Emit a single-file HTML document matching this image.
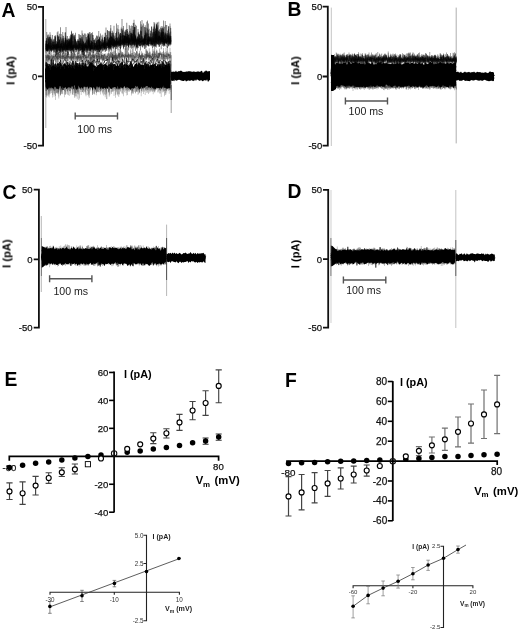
<!DOCTYPE html>
<html><head><meta charset="utf-8"><style>
html,body{margin:0;padding:0;background:#fff;}
svg{display:block;font-family:"Liberation Sans", sans-serif;}
text{will-change:transform;}
</style></head><body>
<svg width="520" height="631" viewBox="0 0 520 631">
<defs><filter id="bl" x="-5%" y="-5%" width="110%" height="110%"><feGaussianBlur stdDeviation="0.5"/></filter></defs>
<rect width="520" height="631" fill="#fff"/>
<text x="1.6" y="16.6" font-size="19.3" font-weight="bold" text-anchor="start" fill="#000" >A</text>
<path d="M37.9,6.9 H43.1 V145.6 H37.9 M37.9,76.3 H43.1" fill="none" stroke="#111" stroke-width="1.8"/>
<text x="37.3" y="10.3" font-size="9.5" text-anchor="end" fill="#111" stroke="#111" stroke-width="0.25">50</text>
<text x="37.3" y="79.7" font-size="9.5" text-anchor="end" fill="#111" stroke="#111" stroke-width="0.25">0</text>
<text x="37.3" y="149.0" font-size="9.5" text-anchor="end" fill="#111" stroke="#111" stroke-width="0.25">-50</text>
<text x="0" y="0" font-size="11.1" font-weight="bold" text-anchor="middle" fill="#000" transform="translate(14.5,70.5) rotate(-90)">I (pA)</text>
<g filter="url(#bl)">
<line x1="45.80" y1="19.00" x2="45.80" y2="128.00" stroke="#999" stroke-width="0.8"/>
<path d="M45.6,63.6 46.6,62.1 47.6,65.2 48.6,65.4 49.6,64.1 50.6,64.9 51.6,66.6 52.6,65.8 53.6,65.3 54.6,65.3 55.6,63.5 56.6,65.7 57.6,62.5 58.6,64.1 59.6,64.0 60.6,62.4 61.6,64.4 62.6,66.5 63.6,64.1 64.6,63.1 65.6,64.4 66.6,65.5 67.6,64.7 68.6,64.5 69.6,62.8 70.6,65.1 71.6,65.1 72.6,66.1 73.6,66.3 74.6,65.3 75.6,62.5 76.6,62.8 77.6,63.2 78.6,64.9 79.6,63.6 80.6,66.1 81.6,64.8 82.6,64.9 83.6,65.4 84.6,64.9 85.6,62.8 86.6,67.4 87.6,66.3 88.6,66.3 89.6,63.6 90.6,62.3 91.6,62.7 92.6,63.2 93.6,65.6 94.6,65.6 95.6,66.3 96.6,67.1 97.6,65.1 98.6,64.9 99.6,64.1 100.6,64.1 101.6,63.1 102.6,65.1 103.6,64.9 104.6,64.0 105.6,63.5 106.6,65.0 107.6,66.1 108.6,64.6 109.6,64.8 110.6,63.8 111.6,64.2 112.6,64.1 113.6,64.2 114.6,63.8 115.6,65.0 116.6,66.1 117.6,63.4 118.6,66.2 119.6,64.0 120.6,64.1 121.6,61.9 122.6,61.6 123.6,65.4 124.6,63.2 125.6,65.5 126.6,64.6 127.6,64.8 128.6,66.1 129.6,64.4 130.6,60.6 131.6,62.4 132.6,65.7 133.6,66.9 134.6,64.4 135.6,63.7 136.6,62.8 137.6,65.2 138.6,62.3 139.6,63.0 140.6,64.7 141.6,64.6 142.6,64.2 143.6,65.8 144.6,63.0 145.6,63.1 146.6,64.0 147.6,64.6 148.6,64.1 149.6,66.9 150.6,63.8 151.6,65.3 152.6,63.8 153.6,64.9 154.6,64.0 155.6,64.0 156.6,66.4 157.6,64.1 158.6,66.6 159.6,63.6 160.6,63.9 161.6,65.8 162.6,61.5 163.6,62.5 164.6,64.5 165.6,65.1 166.6,65.2 167.6,64.1 168.6,62.8 169.6,65.5 170.6,65.0 L170.6,88.0 169.6,87.9 168.6,88.0 167.6,88.5 166.6,88.8 165.6,87.7 164.6,88.1 163.6,85.5 162.6,87.2 161.6,89.1 160.6,87.5 159.6,88.4 158.6,88.1 157.6,87.9 156.6,87.5 155.6,89.0 154.6,89.3 153.6,87.1 152.6,88.4 151.6,86.2 150.6,88.3 149.6,87.0 148.6,87.8 147.6,86.1 146.6,86.1 145.6,86.4 144.6,88.1 143.6,86.6 142.6,88.8 141.6,86.6 140.6,88.2 139.6,89.3 138.6,88.6 137.6,86.3 136.6,87.1 135.6,85.8 134.6,88.1 133.6,88.8 132.6,87.9 131.6,88.2 130.6,90.0 129.6,88.7 128.6,87.9 127.6,87.3 126.6,86.8 125.6,88.1 124.6,86.0 123.6,87.1 122.6,88.6 121.6,87.7 120.6,87.3 119.6,88.4 118.6,88.8 117.6,86.0 116.6,89.3 115.6,87.0 114.6,87.1 113.6,87.3 112.6,88.4 111.6,85.3 110.6,89.3 109.6,86.9 108.6,86.2 107.6,89.1 106.6,87.4 105.6,89.0 104.6,87.8 103.6,88.4 102.6,89.1 101.6,87.2 100.6,89.3 99.6,86.2 98.6,87.4 97.6,86.8 96.6,86.4 95.6,90.0 94.6,88.4 93.6,86.7 92.6,90.5 91.6,87.0 90.6,87.2 89.6,86.5 88.6,89.0 87.6,86.6 86.6,86.9 85.6,86.8 84.6,86.5 83.6,86.4 82.6,88.8 81.6,87.1 80.6,88.6 79.6,88.3 78.6,85.6 77.6,89.2 76.6,89.5 75.6,89.0 74.6,85.2 73.6,86.2 72.6,86.7 71.6,85.9 70.6,88.1 69.6,87.6 68.6,87.2 67.6,87.8 66.6,89.6 65.6,86.9 64.6,87.7 63.6,88.2 62.6,86.6 61.6,89.0 60.6,86.6 59.6,86.0 58.6,89.4 57.6,88.7 56.6,89.0 55.6,87.0 54.6,86.7 53.6,88.9 52.6,88.2 51.6,87.4 50.6,87.3 49.6,86.4 48.6,87.9 47.6,90.0 46.6,87.9 45.6,86.4Z" fill="#000"/>
<path d="M45.6,68.7 46.3,70.4 47.0,73.5 47.7,64.3 48.4,72.0 49.1,69.7 49.8,73.5 50.5,70.4 51.2,74.1 51.9,72.9 52.6,79.3 53.3,72.4 54.0,72.8 54.7,74.0 55.4,66.2 56.1,69.3 56.8,79.9 57.5,76.0 58.2,74.2 58.9,78.4 59.6,73.1 60.3,72.8 61.0,72.6 61.7,66.4 62.4,77.8 63.1,73.1 63.8,73.5 64.5,72.4 65.2,71.2 65.9,64.4 66.6,74.5 67.3,83.0 68.0,78.0 68.7,72.6 69.4,70.0 70.1,74.0 70.8,75.4 71.5,73.3 72.2,77.4 72.9,69.8 73.6,78.3 74.3,74.5 75.0,71.5 75.7,72.7 76.4,75.3 77.1,77.1 77.8,74.2 78.5,76.3 79.2,83.9 79.9,67.0 80.6,65.4 81.3,74.2 82.0,69.8 82.7,74.3 83.4,67.1 84.1,74.4 84.8,79.4 85.5,78.5 86.2,69.2 86.9,72.6 87.6,77.6 88.3,81.5 89.0,69.8 89.7,70.3 90.4,78.5 91.1,72.3 91.8,69.5 92.5,78.3 93.2,66.8 93.9,71.0 94.6,77.9 95.3,71.2 96.0,77.1 96.7,68.7 97.4,77.1 98.1,75.8 98.8,80.7 99.5,72.8 100.2,72.4 100.9,73.4 101.6,78.3 102.3,70.7 103.0,73.3 103.7,82.0 104.4,77.1 105.1,76.9 105.8,71.7 106.5,77.5 107.2,69.0 107.9,67.6 108.6,69.9 109.3,79.8 110.0,74.6 110.7,69.9 111.4,72.3 112.1,75.7 112.8,78.8 113.5,67.0 114.2,79.5 114.9,77.8 115.6,70.9 116.3,72.2 117.0,75.9 117.7,72.6 118.4,74.4 119.1,69.4 119.8,66.2 120.5,84.1 121.2,74.6 121.9,74.8 122.6,76.0 123.3,79.5 124.0,77.8 124.7,69.5 125.4,73.4 126.1,74.1 126.8,77.1 127.5,71.3 128.2,75.5 128.9,74.8 129.6,79.6 130.3,62.9 131.0,74.2 131.7,75.3 132.4,76.7 133.1,73.8 133.8,70.4 134.5,76.7 135.2,75.4 135.9,70.3 136.6,68.1 137.3,76.2 138.0,70.2 138.7,76.6 139.4,80.2 140.1,74.7 140.8,74.8 141.5,74.4 142.2,79.7 142.9,79.7 143.6,74.2 144.3,77.0 145.0,74.0 145.7,71.8 146.4,77.1 147.1,73.5 147.8,70.3 148.5,67.6 149.2,78.0 149.9,69.8 150.6,69.2 151.3,72.7 152.0,77.0 152.7,66.6 153.4,76.5 154.1,75.5 154.8,68.7 155.5,69.1 156.2,73.1 156.9,82.0 157.6,72.8 158.3,78.4 159.0,77.8 159.7,67.2 160.4,73.8 161.1,78.0 161.8,71.8 162.5,79.0 163.2,69.3 163.9,67.7 164.6,72.0 165.3,76.6 166.0,72.2 166.7,77.7 167.4,67.4 168.1,71.4 168.8,79.6 169.5,63.6 170.2,75.2 170.9,70.1" fill="none" stroke="#000" stroke-width="0.7"/>
<path d="M45.6,72.3 46.3,67.5 47.0,77.6 47.7,76.1 48.4,78.8 49.1,74.4 49.8,69.7 50.5,76.4 51.2,68.0 51.9,69.8 52.6,82.5 53.3,78.2 54.0,75.5 54.7,79.9 55.4,72.5 56.1,76.1 56.8,70.3 57.5,72.3 58.2,74.1 58.9,80.0 59.6,70.8 60.3,78.1 61.0,73.7 61.7,66.3 62.4,65.6 63.1,70.8 63.8,78.2 64.5,74.8 65.2,81.4 65.9,74.5 66.6,79.7 67.3,74.8 68.0,69.9 68.7,76.7 69.4,70.6 70.1,67.8 70.8,70.5 71.5,72.1 72.2,74.8 72.9,77.3 73.6,76.3 74.3,82.5 75.0,65.5 75.7,73.0 76.4,84.6 77.1,72.4 77.8,68.4 78.5,70.5 79.2,69.6 79.9,71.6 80.6,81.0 81.3,67.8 82.0,70.8 82.7,79.7 83.4,75.0 84.1,75.1 84.8,72.2 85.5,77.7 86.2,69.4 86.9,77.8 87.6,74.3 88.3,73.0 89.0,71.5 89.7,77.8 90.4,75.2 91.1,72.1 91.8,74.3 92.5,69.3 93.2,79.2 93.9,79.6 94.6,78.5 95.3,75.0 96.0,75.9 96.7,68.0 97.4,72.2 98.1,72.8 98.8,73.2 99.5,76.5 100.2,71.9 100.9,70.7 101.6,78.9 102.3,72.5 103.0,71.1 103.7,65.3 104.4,68.0 105.1,72.8 105.8,74.9 106.5,66.3 107.2,73.7 107.9,75.1 108.6,71.6 109.3,74.0 110.0,79.7 110.7,70.6 111.4,66.6 112.1,72.1 112.8,70.0 113.5,73.5 114.2,76.7 114.9,77.5 115.6,75.1 116.3,79.6 117.0,75.2 117.7,78.0 118.4,75.2 119.1,74.9 119.8,71.6 120.5,73.7 121.2,71.3 121.9,72.5 122.6,74.0 123.3,78.6 124.0,72.6 124.7,76.3 125.4,68.5 126.1,72.5 126.8,79.1 127.5,75.2 128.2,66.1 128.9,73.6 129.6,72.7 130.3,68.7 131.0,66.3 131.7,69.7 132.4,69.2 133.1,76.7 133.8,76.1 134.5,76.4 135.2,78.2 135.9,64.5 136.6,72.5 137.3,75.1 138.0,70.9 138.7,71.1 139.4,70.3 140.1,74.4 140.8,73.5 141.5,78.9 142.2,75.4 142.9,74.6 143.6,73.6 144.3,70.4 145.0,74.2 145.7,77.2 146.4,75.7 147.1,69.2 147.8,67.4 148.5,76.6 149.2,74.5 149.9,74.9 150.6,70.1 151.3,76.9 152.0,76.8 152.7,72.7 153.4,76.2 154.1,69.9 154.8,73.4 155.5,65.3 156.2,72.5 156.9,84.1 157.6,76.7 158.3,81.0 159.0,76.2 159.7,74.8 160.4,74.8 161.1,72.2 161.8,76.9 162.5,70.8 163.2,74.1 163.9,87.6 164.6,76.0 165.3,71.9 166.0,78.4 166.7,75.7 167.4,72.8 168.1,69.2 168.8,73.2 169.5,72.0 170.2,74.1 170.9,75.5" fill="none" stroke="#000" stroke-width="0.7"/>
<path d="M45.6,72.7 46.3,78.8 47.0,78.3 47.7,70.4 48.4,78.0 49.1,76.2 49.8,78.2 50.5,72.0 51.2,75.2 51.9,75.5 52.6,71.3 53.3,78.6 54.0,75.2 54.7,78.1 55.4,72.3 56.1,70.6 56.8,71.6 57.5,67.3 58.2,73.2 58.9,78.1 59.6,82.6 60.3,81.5 61.0,82.1 61.7,82.1 62.4,85.7 63.1,77.4 63.8,80.6 64.5,79.4 65.2,65.6 65.9,77.3 66.6,76.9 67.3,78.2 68.0,74.4 68.7,73.5 69.4,74.4 70.1,79.7 70.8,78.6 71.5,82.9 72.2,71.2 72.9,81.4 73.6,84.7 74.3,72.7 75.0,76.9 75.7,69.7 76.4,64.6 77.1,70.6 77.8,76.6 78.5,77.3 79.2,74.7 79.9,79.1 80.6,77.9 81.3,84.5 82.0,70.2 82.7,72.5 83.4,73.8 84.1,73.5 84.8,74.3 85.5,86.6 86.2,74.8 86.9,79.2 87.6,70.2 88.3,73.3 89.0,80.0 89.7,80.7 90.4,69.3 91.1,85.5 91.8,78.2 92.5,73.0 93.2,78.4 93.9,73.6 94.6,70.0 95.3,77.2 96.0,80.0 96.7,81.1 97.4,69.1 98.1,72.2 98.8,75.5 99.5,81.0 100.2,82.1 100.9,74.6 101.6,71.0 102.3,78.8 103.0,74.2 103.7,78.2 104.4,81.0 105.1,79.1 105.8,71.9 106.5,70.9 107.2,69.8 107.9,79.6 108.6,81.4 109.3,71.8 110.0,74.0 110.7,72.2 111.4,75.7 112.1,72.5 112.8,72.5 113.5,81.8 114.2,80.3 114.9,76.4 115.6,81.2 116.3,73.6 117.0,78.2 117.7,72.0 118.4,72.9 119.1,80.4 119.8,70.8 120.5,74.3 121.2,70.9 121.9,70.6 122.6,76.1 123.3,76.3 124.0,69.3 124.7,85.5 125.4,82.7 126.1,71.9 126.8,77.7 127.5,76.6 128.2,73.1 128.9,70.2 129.6,75.9 130.3,75.1 131.0,81.2 131.7,76.6 132.4,71.4 133.1,72.9 133.8,75.8 134.5,80.2 135.2,70.8 135.9,77.0 136.6,81.6 137.3,69.6 138.0,82.2 138.7,73.5 139.4,75.7 140.1,73.6 140.8,77.6 141.5,78.2 142.2,78.3 142.9,88.3 143.6,65.1 144.3,73.8 145.0,70.2 145.7,75.1 146.4,72.9 147.1,74.9 147.8,75.9 148.5,73.5 149.2,80.1 149.9,69.6 150.6,73.8 151.3,76.2 152.0,82.1 152.7,70.2 153.4,70.7 154.1,78.4 154.8,76.5 155.5,69.9 156.2,81.2 156.9,77.3 157.6,74.7 158.3,74.7 159.0,76.6 159.7,74.6 160.4,77.6 161.1,77.6 161.8,71.4 162.5,69.4 163.2,83.1 163.9,73.9 164.6,83.7 165.3,76.9 166.0,64.7 166.7,77.4 167.4,72.5 168.1,66.5 168.8,76.2 169.5,71.4 170.2,75.3 170.9,81.1" fill="none" stroke="#000" stroke-width="0.7"/>
<path d="M45.6,77.4 46.3,77.5 47.0,77.5 47.7,74.3 48.4,72.8 49.1,75.2 49.8,77.7 50.5,73.6 51.2,76.0 51.9,77.1 52.6,73.0 53.3,81.5 54.0,82.5 54.7,77.8 55.4,72.9 56.1,68.6 56.8,66.2 57.5,82.0 58.2,77.9 58.9,74.4 59.6,70.6 60.3,76.2 61.0,81.0 61.7,78.3 62.4,72.5 63.1,90.0 63.8,79.2 64.5,71.5 65.2,78.6 65.9,78.7 66.6,80.1 67.3,78.6 68.0,71.7 68.7,78.7 69.4,73.5 70.1,77.6 70.8,76.8 71.5,79.9 72.2,78.1 72.9,75.7 73.6,88.5 74.3,75.7 75.0,75.5 75.7,79.1 76.4,79.2 77.1,81.4 77.8,70.9 78.5,74.7 79.2,81.9 79.9,78.3 80.6,78.4 81.3,71.0 82.0,70.9 82.7,73.5 83.4,78.1 84.1,80.4 84.8,80.9 85.5,68.9 86.2,76.8 86.9,77.4 87.6,75.3 88.3,75.4 89.0,72.4 89.7,75.5 90.4,66.8 91.1,82.5 91.8,77.9 92.5,83.4 93.2,73.5 93.9,69.6 94.6,84.7 95.3,67.7 96.0,71.7 96.7,80.3 97.4,83.1 98.1,74.0 98.8,76.1 99.5,75.9 100.2,79.3 100.9,73.2 101.6,79.6 102.3,80.9 103.0,76.6 103.7,77.5 104.4,87.0 105.1,78.4 105.8,75.3 106.5,81.8 107.2,82.3 107.9,74.1 108.6,72.9 109.3,83.4 110.0,82.4 110.7,82.8 111.4,84.3 112.1,72.3 112.8,70.2 113.5,81.5 114.2,81.3 114.9,77.9 115.6,80.3 116.3,74.0 117.0,72.9 117.7,76.8 118.4,79.0 119.1,79.9 119.8,76.7 120.5,79.8 121.2,82.4 121.9,79.3 122.6,75.1 123.3,84.4 124.0,72.3 124.7,78.1 125.4,85.3 126.1,87.7 126.8,84.1 127.5,75.4 128.2,69.7 128.9,75.2 129.6,77.1 130.3,77.8 131.0,73.0 131.7,75.1 132.4,78.3 133.1,77.6 133.8,82.8 134.5,79.8 135.2,79.9 135.9,75.1 136.6,77.7 137.3,69.1 138.0,75.6 138.7,70.6 139.4,78.0 140.1,79.7 140.8,77.9 141.5,83.8 142.2,74.5 142.9,77.0 143.6,75.0 144.3,76.0 145.0,83.0 145.7,71.5 146.4,84.4 147.1,83.1 147.8,79.9 148.5,75.9 149.2,78.4 149.9,75.7 150.6,83.6 151.3,72.6 152.0,73.3 152.7,77.5 153.4,66.8 154.1,83.6 154.8,76.0 155.5,80.6 156.2,78.1 156.9,69.9 157.6,77.6 158.3,79.2 159.0,72.4 159.7,73.1 160.4,72.9 161.1,80.7 161.8,72.1 162.5,73.5 163.2,77.0 163.9,77.9 164.6,74.8 165.3,84.0 166.0,84.2 166.7,72.0 167.4,84.9 168.1,79.3 168.8,80.2 169.5,80.7 170.2,71.5 170.9,72.0" fill="none" stroke="#000" stroke-width="0.7"/>
<path d="M45.6,73.6 46.3,88.3 47.0,74.7 47.7,80.6 48.4,72.5 49.1,85.8 49.8,84.6 50.5,70.3 51.2,78.1 51.9,77.0 52.6,83.2 53.3,66.4 54.0,75.2 54.7,80.3 55.4,75.0 56.1,73.7 56.8,70.2 57.5,77.9 58.2,75.4 58.9,70.1 59.6,76.9 60.3,73.2 61.0,77.4 61.7,79.4 62.4,80.9 63.1,77.8 63.8,72.0 64.5,75.4 65.2,74.7 65.9,80.6 66.6,73.3 67.3,82.8 68.0,76.2 68.7,79.1 69.4,74.4 70.1,81.5 70.8,73.8 71.5,83.3 72.2,78.1 72.9,79.7 73.6,78.8 74.3,72.9 75.0,82.3 75.7,69.8 76.4,76.8 77.1,79.7 77.8,80.7 78.5,73.6 79.2,74.3 79.9,75.4 80.6,72.0 81.3,75.3 82.0,72.5 82.7,78.3 83.4,75.4 84.1,72.8 84.8,73.1 85.5,76.9 86.2,72.7 86.9,70.3 87.6,71.6 88.3,77.2 89.0,68.6 89.7,76.6 90.4,79.7 91.1,73.5 91.8,74.9 92.5,69.9 93.2,72.0 93.9,73.7 94.6,77.6 95.3,74.5 96.0,71.3 96.7,73.8 97.4,71.0 98.1,83.5 98.8,73.4 99.5,82.6 100.2,69.4 100.9,72.0 101.6,82.3 102.3,75.0 103.0,85.3 103.7,79.7 104.4,82.1 105.1,69.6 105.8,77.1 106.5,74.8 107.2,83.1 107.9,74.4 108.6,76.3 109.3,72.8 110.0,69.2 110.7,78.7 111.4,74.6 112.1,77.6 112.8,71.9 113.5,75.8 114.2,72.4 114.9,73.8 115.6,76.7 116.3,73.7 117.0,78.4 117.7,71.1 118.4,74.2 119.1,81.6 119.8,72.9 120.5,68.4 121.2,81.3 121.9,75.4 122.6,71.6 123.3,71.0 124.0,78.3 124.7,71.1 125.4,68.7 126.1,78.6 126.8,76.9 127.5,78.5 128.2,73.6 128.9,77.6 129.6,71.8 130.3,74.4 131.0,76.7 131.7,77.0 132.4,80.8 133.1,79.5 133.8,72.3 134.5,73.9 135.2,79.4 135.9,81.8 136.6,78.6 137.3,74.9 138.0,77.6 138.7,81.6 139.4,82.4 140.1,74.3 140.8,72.6 141.5,76.9 142.2,74.1 142.9,76.7 143.6,73.0 144.3,78.1 145.0,78.9 145.7,82.9 146.4,82.1 147.1,77.7 147.8,73.0 148.5,80.3 149.2,74.0 149.9,70.7 150.6,75.4 151.3,71.0 152.0,84.4 152.7,81.0 153.4,82.1 154.1,74.5 154.8,75.8 155.5,77.1 156.2,74.5 156.9,76.4 157.6,78.0 158.3,73.3 159.0,76.0 159.7,81.6 160.4,76.9 161.1,68.9 161.8,72.4 162.5,73.4 163.2,74.4 163.9,77.1 164.6,72.5 165.3,82.8 166.0,75.4 166.7,78.4 167.4,72.7 168.1,67.6 168.8,78.3 169.5,79.7 170.2,80.5 170.9,75.9" fill="none" stroke="#000" stroke-width="0.7"/>
<path d="M45.6,72.0 46.3,68.8 47.0,75.8 47.7,77.6 48.4,77.4 49.1,79.1 49.8,79.6 50.5,78.9 51.2,78.7 51.9,76.6 52.6,73.2 53.3,67.2 54.0,76.4 54.7,81.4 55.4,77.6 56.1,83.8 56.8,78.7 57.5,67.5 58.2,80.5 58.9,72.3 59.6,75.8 60.3,74.5 61.0,76.1 61.7,83.2 62.4,81.4 63.1,70.7 63.8,78.3 64.5,73.5 65.2,81.9 65.9,83.3 66.6,75.1 67.3,81.0 68.0,81.4 68.7,80.2 69.4,81.8 70.1,76.7 70.8,78.8 71.5,77.1 72.2,77.6 72.9,77.3 73.6,68.4 74.3,76.5 75.0,81.6 75.7,71.7 76.4,74.9 77.1,64.5 77.8,78.2 78.5,77.1 79.2,80.3 79.9,82.9 80.6,73.1 81.3,73.6 82.0,78.8 82.7,74.4 83.4,79.1 84.1,69.4 84.8,75.2 85.5,71.8 86.2,69.8 86.9,76.8 87.6,71.5 88.3,73.6 89.0,73.9 89.7,64.0 90.4,78.7 91.1,77.2 91.8,76.6 92.5,74.4 93.2,81.6 93.9,77.1 94.6,71.3 95.3,77.4 96.0,80.6 96.7,75.4 97.4,75.6 98.1,77.8 98.8,79.0 99.5,77.8 100.2,74.4 100.9,78.6 101.6,75.0 102.3,74.7 103.0,81.0 103.7,74.5 104.4,72.4 105.1,78.1 105.8,72.0 106.5,80.6 107.2,76.2 107.9,80.1 108.6,75.9 109.3,71.6 110.0,63.9 110.7,71.9 111.4,80.5 112.1,73.7 112.8,79.4 113.5,80.3 114.2,68.7 114.9,73.9 115.6,75.1 116.3,81.8 117.0,82.3 117.7,72.6 118.4,78.5 119.1,77.1 119.8,71.0 120.5,80.3 121.2,82.8 121.9,71.3 122.6,78.4 123.3,72.8 124.0,80.2 124.7,80.3 125.4,74.2 126.1,74.9 126.8,82.4 127.5,74.8 128.2,80.2 128.9,68.3 129.6,69.4 130.3,80.1 131.0,76.6 131.7,74.3 132.4,70.9 133.1,76.4 133.8,69.8 134.5,74.7 135.2,78.2 135.9,74.2 136.6,68.7 137.3,68.3 138.0,73.4 138.7,65.8 139.4,78.6 140.1,72.3 140.8,72.6 141.5,73.7 142.2,72.0 142.9,80.8 143.6,72.4 144.3,70.1 145.0,79.7 145.7,72.2 146.4,81.5 147.1,78.3 147.8,73.4 148.5,75.7 149.2,71.0 149.9,70.5 150.6,80.0 151.3,73.8 152.0,74.6 152.7,73.3 153.4,75.9 154.1,74.2 154.8,75.7 155.5,75.7 156.2,81.1 156.9,73.5 157.6,75.1 158.3,76.1 159.0,71.7 159.7,77.7 160.4,75.1 161.1,73.2 161.8,72.4 162.5,75.3 163.2,76.5 163.9,77.4 164.6,78.6 165.3,74.3 166.0,81.3 166.7,76.2 167.4,80.3 168.1,74.4 168.8,80.4 169.5,76.0 170.2,72.8 170.9,74.1" fill="none" stroke="#000" stroke-width="0.7"/>
<path d="M45.6,69.2 46.3,77.0 47.0,67.9 47.7,76.9 48.4,72.6 49.1,71.0 49.8,73.7 50.5,81.4 51.2,83.1 51.9,74.6 52.6,82.1 53.3,77.4 54.0,83.3 54.7,76.6 55.4,79.2 56.1,71.9 56.8,81.4 57.5,79.9 58.2,81.2 58.9,83.0 59.6,75.0 60.3,78.2 61.0,68.6 61.7,72.7 62.4,71.2 63.1,79.8 63.8,78.9 64.5,78.1 65.2,77.2 65.9,85.0 66.6,80.2 67.3,74.3 68.0,83.8 68.7,83.8 69.4,80.3 70.1,67.2 70.8,72.7 71.5,78.5 72.2,75.2 72.9,69.8 73.6,77.1 74.3,73.5 75.0,77.7 75.7,77.8 76.4,82.8 77.1,72.9 77.8,81.2 78.5,72.6 79.2,81.0 79.9,78.7 80.6,78.4 81.3,77.2 82.0,73.7 82.7,78.2 83.4,78.9 84.1,81.7 84.8,78.1 85.5,78.5 86.2,71.9 86.9,69.1 87.6,77.1 88.3,86.2 89.0,75.7 89.7,72.4 90.4,65.1 91.1,78.7 91.8,72.0 92.5,73.5 93.2,77.3 93.9,78.9 94.6,84.2 95.3,81.4 96.0,79.1 96.7,76.1 97.4,71.1 98.1,75.0 98.8,80.2 99.5,66.6 100.2,75.8 100.9,82.6 101.6,80.0 102.3,74.9 103.0,74.6 103.7,78.8 104.4,75.1 105.1,78.4 105.8,83.4 106.5,75.0 107.2,73.6 107.9,80.6 108.6,77.6 109.3,72.7 110.0,67.6 110.7,83.6 111.4,84.2 112.1,75.6 112.8,78.4 113.5,77.2 114.2,78.3 114.9,83.5 115.6,78.4 116.3,75.9 117.0,77.9 117.7,77.2 118.4,79.5 119.1,75.4 119.8,73.8 120.5,84.5 121.2,79.7 121.9,80.2 122.6,85.9 123.3,76.7 124.0,75.7 124.7,78.1 125.4,72.3 126.1,72.5 126.8,72.1 127.5,79.1 128.2,69.8 128.9,76.7 129.6,75.9 130.3,82.8 131.0,74.8 131.7,80.4 132.4,79.9 133.1,79.6 133.8,82.7 134.5,68.9 135.2,78.3 135.9,74.9 136.6,74.9 137.3,82.0 138.0,74.0 138.7,73.6 139.4,81.6 140.1,68.1 140.8,82.1 141.5,71.9 142.2,84.4 142.9,73.2 143.6,79.0 144.3,77.8 145.0,77.0 145.7,78.8 146.4,76.5 147.1,81.3 147.8,79.3 148.5,69.0 149.2,65.2 149.9,86.3 150.6,66.7 151.3,76.8 152.0,73.9 152.7,73.7 153.4,72.6 154.1,85.4 154.8,80.6 155.5,71.7 156.2,79.3 156.9,77.3 157.6,84.9 158.3,76.8 159.0,69.1 159.7,83.8 160.4,84.2 161.1,84.5 161.8,79.7 162.5,68.1 163.2,71.5 163.9,74.7 164.6,76.7 165.3,74.1 166.0,78.3 166.7,70.9 167.4,73.3 168.1,72.2 168.8,74.8 169.5,68.7 170.2,84.3 170.9,71.1" fill="none" stroke="#000" stroke-width="0.7"/>
<path d="M45.6,74.9 46.3,69.4 47.0,77.1 47.7,76.9 48.4,77.4 49.1,69.6 49.8,69.2 50.5,71.3 51.2,70.7 51.9,72.8 52.6,74.0 53.3,72.7 54.0,70.8 54.7,77.9 55.4,78.4 56.1,76.7 56.8,75.6 57.5,75.1 58.2,80.2 58.9,70.7 59.6,67.8 60.3,72.4 61.0,73.0 61.7,71.8 62.4,72.0 63.1,72.1 63.8,74.5 64.5,70.2 65.2,68.8 65.9,72.8 66.6,75.4 67.3,72.5 68.0,67.8 68.7,73.1 69.4,70.9 70.1,75.4 70.8,71.3 71.5,73.2 72.2,77.4 72.9,74.0 73.6,73.1 74.3,72.3 75.0,70.0 75.7,75.9 76.4,67.5 77.1,70.7 77.8,69.1 78.5,75.5 79.2,83.3 79.9,68.1 80.6,76.5 81.3,73.3 82.0,82.3 82.7,62.9 83.4,69.8 84.1,76.1 84.8,73.8 85.5,75.6 86.2,65.9 86.9,72.4 87.6,70.9 88.3,82.9 89.0,75.4 89.7,75.6 90.4,72.7 91.1,80.2 91.8,74.4 92.5,75.4 93.2,69.7 93.9,78.0 94.6,77.8 95.3,69.0 96.0,70.2 96.7,75.2 97.4,72.8 98.1,69.6 98.8,74.2 99.5,76.6 100.2,73.5 100.9,71.6 101.6,75.3 102.3,72.6 103.0,72.2 103.7,75.4 104.4,79.6 105.1,79.4 105.8,74.6 106.5,72.5 107.2,73.9 107.9,74.9 108.6,76.6 109.3,72.9 110.0,73.6 110.7,75.1 111.4,69.4 112.1,73.5 112.8,74.9 113.5,77.0 114.2,74.8 114.9,71.1 115.6,68.3 116.3,70.0 117.0,67.5 117.7,68.5 118.4,70.1 119.1,70.8 119.8,75.5 120.5,72.1 121.2,72.4 121.9,73.9 122.6,69.7 123.3,67.6 124.0,70.3 124.7,68.6 125.4,79.6 126.1,79.6 126.8,72.9 127.5,74.9 128.2,79.7 128.9,79.6 129.6,77.9 130.3,76.7 131.0,78.5 131.7,68.8 132.4,64.7 133.1,70.0 133.8,75.4 134.5,69.5 135.2,71.5 135.9,73.4 136.6,73.1 137.3,68.8 138.0,72.5 138.7,77.3 139.4,76.0 140.1,73.4 140.8,72.6 141.5,79.6 142.2,80.5 142.9,69.2 143.6,70.8 144.3,71.2 145.0,75.9 145.7,73.3 146.4,72.0 147.1,80.3 147.8,75.4 148.5,69.8 149.2,73.4 149.9,72.9 150.6,79.7 151.3,65.3 152.0,73.2 152.7,74.2 153.4,78.5 154.1,73.4 154.8,76.6 155.5,76.7 156.2,66.1 156.9,70.9 157.6,70.6 158.3,73.7 159.0,67.7 159.7,74.9 160.4,71.8 161.1,74.1 161.8,63.6 162.5,74.5 163.2,74.3 163.9,67.1 164.6,72.1 165.3,75.3 166.0,81.8 166.7,70.3 167.4,73.2 168.1,69.5 168.8,75.2 169.5,67.1 170.2,70.3 170.9,73.4" fill="none" stroke="#000" stroke-width="0.7"/>
<path d="M45.6,73.0 46.3,72.9 47.0,71.7 47.7,78.4 48.4,74.5 49.1,68.8 49.8,76.5 50.5,76.8 51.2,80.1 51.9,82.1 52.6,74.8 53.3,80.7 54.0,76.1 54.7,77.5 55.4,73.0 56.1,74.9 56.8,73.5 57.5,66.4 58.2,73.7 58.9,68.5 59.6,76.1 60.3,64.7 61.0,75.5 61.7,67.7 62.4,71.1 63.1,73.8 63.8,76.4 64.5,70.5 65.2,74.4 65.9,79.1 66.6,74.4 67.3,77.0 68.0,74.7 68.7,79.8 69.4,78.3 70.1,80.1 70.8,74.6 71.5,74.0 72.2,62.6 72.9,70.1 73.6,70.3 74.3,78.7 75.0,72.9 75.7,70.4 76.4,73.7 77.1,71.7 77.8,70.1 78.5,69.5 79.2,78.8 79.9,81.1 80.6,74.2 81.3,76.0 82.0,78.4 82.7,72.9 83.4,76.1 84.1,69.3 84.8,66.3 85.5,71.4 86.2,79.3 86.9,74.2 87.6,69.3 88.3,76.4 89.0,79.8 89.7,70.8 90.4,77.3 91.1,83.9 91.8,73.3 92.5,75.3 93.2,71.8 93.9,68.7 94.6,69.1 95.3,78.9 96.0,76.9 96.7,74.0 97.4,83.3 98.1,73.5 98.8,75.5 99.5,78.3 100.2,72.3 100.9,70.8 101.6,72.8 102.3,70.4 103.0,75.6 103.7,75.9 104.4,72.4 105.1,66.0 105.8,72.5 106.5,69.3 107.2,72.9 107.9,76.2 108.6,81.2 109.3,80.6 110.0,69.3 110.7,75.6 111.4,72.5 112.1,75.8 112.8,82.5 113.5,77.9 114.2,76.9 114.9,73.3 115.6,72.3 116.3,73.9 117.0,77.8 117.7,81.9 118.4,77.8 119.1,74.5 119.8,75.0 120.5,78.5 121.2,82.5 121.9,83.9 122.6,71.3 123.3,69.3 124.0,79.3 124.7,78.9 125.4,79.8 126.1,82.6 126.8,74.5 127.5,78.8 128.2,70.8 128.9,80.7 129.6,74.8 130.3,74.7 131.0,70.5 131.7,81.2 132.4,79.3 133.1,78.0 133.8,69.5 134.5,72.0 135.2,79.8 135.9,74.6 136.6,75.9 137.3,76.6 138.0,73.3 138.7,79.8 139.4,66.6 140.1,82.1 140.8,81.8 141.5,77.1 142.2,78.4 142.9,74.6 143.6,83.0 144.3,72.6 145.0,71.1 145.7,76.9 146.4,72.9 147.1,73.8 147.8,82.1 148.5,66.5 149.2,78.0 149.9,70.6 150.6,75.8 151.3,77.1 152.0,76.4 152.7,68.5 153.4,75.3 154.1,77.6 154.8,83.4 155.5,76.4 156.2,69.9 156.9,71.7 157.6,71.1 158.3,80.5 159.0,78.5 159.7,68.1 160.4,72.7 161.1,80.8 161.8,71.3 162.5,77.4 163.2,73.7 163.9,76.1 164.6,73.0 165.3,69.2 166.0,70.9 166.7,76.9 167.4,81.1 168.1,74.3 168.8,77.0 169.5,77.4 170.2,70.4 170.9,70.8" fill="none" stroke="#000" stroke-width="0.7"/>
<path d="M45.6,79.0 46.3,73.6 47.0,69.1 47.7,74.2 48.4,74.4 49.1,78.8 49.8,75.2 50.5,76.4 51.2,80.7 51.9,79.0 52.6,74.9 53.3,81.4 54.0,79.0 54.7,84.2 55.4,74.2 56.1,77.6 56.8,75.2 57.5,72.1 58.2,72.6 58.9,77.6 59.6,79.6 60.3,75.0 61.0,76.2 61.7,82.4 62.4,76.5 63.1,75.1 63.8,80.9 64.5,74.9 65.2,79.5 65.9,75.1 66.6,77.2 67.3,75.9 68.0,74.8 68.7,77.6 69.4,84.6 70.1,80.0 70.8,77.0 71.5,82.5 72.2,69.3 72.9,77.7 73.6,73.9 74.3,72.1 75.0,74.7 75.7,76.4 76.4,72.6 77.1,77.6 77.8,70.2 78.5,79.2 79.2,79.3 79.9,85.6 80.6,79.8 81.3,75.4 82.0,74.7 82.7,78.8 83.4,78.8 84.1,71.2 84.8,69.8 85.5,80.1 86.2,78.7 86.9,72.1 87.6,82.8 88.3,78.1 89.0,75.5 89.7,76.0 90.4,79.2 91.1,76.4 91.8,76.2 92.5,80.7 93.2,72.8 93.9,78.2 94.6,78.2 95.3,82.0 96.0,78.8 96.7,80.8 97.4,81.2 98.1,82.3 98.8,74.1 99.5,76.3 100.2,76.7 100.9,85.5 101.6,82.0 102.3,79.5 103.0,79.9 103.7,77.6 104.4,83.1 105.1,76.8 105.8,80.6 106.5,79.0 107.2,73.8 107.9,82.4 108.6,80.1 109.3,77.7 110.0,73.5 110.7,80.5 111.4,74.9 112.1,72.5 112.8,82.4 113.5,77.2 114.2,78.7 114.9,80.5 115.6,83.2 116.3,72.9 117.0,70.3 117.7,81.9 118.4,75.8 119.1,78.3 119.8,80.8 120.5,83.6 121.2,74.2 121.9,75.3 122.6,68.7 123.3,78.6 124.0,77.2 124.7,77.5 125.4,84.8 126.1,72.6 126.8,70.6 127.5,73.0 128.2,79.9 128.9,70.7 129.6,72.6 130.3,79.0 131.0,72.3 131.7,74.0 132.4,72.3 133.1,79.4 133.8,73.8 134.5,80.1 135.2,74.3 135.9,77.9 136.6,73.3 137.3,80.1 138.0,66.3 138.7,85.8 139.4,78.3 140.1,71.7 140.8,73.5 141.5,76.5 142.2,77.4 142.9,73.9 143.6,82.0 144.3,76.4 145.0,73.9 145.7,77.1 146.4,81.0 147.1,71.0 147.8,73.6 148.5,81.9 149.2,78.7 149.9,77.5 150.6,85.4 151.3,84.1 152.0,72.0 152.7,71.1 153.4,79.1 154.1,81.2 154.8,76.2 155.5,79.2 156.2,74.3 156.9,80.7 157.6,72.0 158.3,78.3 159.0,79.9 159.7,76.4 160.4,77.3 161.1,77.5 161.8,81.1 162.5,74.1 163.2,82.4 163.9,70.5 164.6,82.6 165.3,78.7 166.0,80.9 166.7,82.3 167.4,79.1 168.1,82.9 168.8,80.1 169.5,77.6 170.2,81.6 170.9,83.1" fill="none" stroke="#000" stroke-width="0.7"/>
<path d="M45.6,72.3 46.3,62.5 47.0,71.8 47.7,71.6 48.4,71.2 49.1,76.5 49.8,76.3 50.5,75.0 51.2,60.0 51.9,77.6 52.6,68.8 53.3,59.8 54.0,72.1 54.7,70.5 55.4,69.9 56.1,77.7 56.8,70.3 57.5,67.5 58.2,75.4 58.9,67.2 59.6,75.7 60.3,67.2 61.0,74.4 61.7,79.6 62.4,75.6 63.1,68.5 63.8,64.5 64.5,69.6 65.2,64.7 65.9,77.5 66.6,75.8 67.3,62.0 68.0,69.6 68.7,73.6 69.4,75.5 70.1,66.5 70.8,71.7 71.5,66.6 72.2,69.9 72.9,74.8 73.6,62.9 74.3,71.4 75.0,75.0 75.7,64.3 76.4,67.8 77.1,77.9 77.8,71.4 78.5,75.4 79.2,74.1 79.9,77.1 80.6,75.6 81.3,71.7 82.0,68.7 82.7,74.5 83.4,67.4 84.1,68.7 84.8,69.6 85.5,70.1 86.2,66.5 86.9,71.0 87.6,74.8 88.3,64.3 89.0,62.5 89.7,68.7 90.4,71.6 91.1,73.1 91.8,72.6 92.5,70.9 93.2,79.9 93.9,74.3 94.6,71.8 95.3,74.1 96.0,72.7 96.7,70.6 97.4,72.7 98.1,69.8 98.8,69.6 99.5,76.9 100.2,64.2 100.9,69.0 101.6,68.5 102.3,73.9 103.0,66.7 103.7,72.3 104.4,72.8 105.1,74.2 105.8,75.0 106.5,71.6 107.2,68.8 107.9,71.3 108.6,64.7 109.3,75.8 110.0,67.4 110.7,70.2 111.4,69.6 112.1,79.5 112.8,68.9 113.5,70.4 114.2,76.8 114.9,72.9 115.6,68.6 116.3,75.4 117.0,70.3 117.7,74.6 118.4,76.7 119.1,68.3 119.8,66.8 120.5,68.8 121.2,73.7 121.9,79.6 122.6,73.8 123.3,74.4 124.0,69.7 124.7,71.6 125.4,72.6 126.1,63.8 126.8,69.8 127.5,69.4 128.2,71.7 128.9,75.7 129.6,72.1 130.3,75.0 131.0,73.9 131.7,73.8 132.4,69.8 133.1,70.8 133.8,71.8 134.5,70.0 135.2,72.9 135.9,68.0 136.6,75.0 137.3,71.4 138.0,65.9 138.7,76.3 139.4,77.2 140.1,76.4 140.8,68.4 141.5,67.9 142.2,70.6 142.9,68.6 143.6,74.5 144.3,68.7 145.0,69.9 145.7,73.1 146.4,70.9 147.1,67.2 147.8,72.5 148.5,69.4 149.2,72.7 149.9,72.3 150.6,72.1 151.3,67.6 152.0,68.9 152.7,72.5 153.4,66.0 154.1,77.3 154.8,71.9 155.5,72.1 156.2,67.2 156.9,69.5 157.6,69.1 158.3,64.5 159.0,66.7 159.7,76.3 160.4,66.9 161.1,71.6 161.8,74.9 162.5,69.3 163.2,72.3 163.9,70.2 164.6,69.5 165.3,75.2 166.0,69.7 166.7,62.6 167.4,66.5 168.1,70.1 168.8,74.0 169.5,68.0 170.2,76.1 170.9,63.6" fill="none" stroke="#000" stroke-width="0.7"/>
<path d="M45.6,73.5 46.3,72.0 47.0,70.7 47.7,76.6 48.4,68.5 49.1,70.8 49.8,72.2 50.5,66.6 51.2,73.2 51.9,74.2 52.6,74.5 53.3,77.9 54.0,70.9 54.7,76.8 55.4,74.4 56.1,71.3 56.8,69.0 57.5,77.6 58.2,66.1 58.9,76.4 59.6,73.8 60.3,77.7 61.0,70.0 61.7,66.7 62.4,74.5 63.1,75.6 63.8,76.4 64.5,73.6 65.2,72.4 65.9,72.3 66.6,75.2 67.3,68.6 68.0,73.1 68.7,74.4 69.4,79.9 70.1,72.0 70.8,69.3 71.5,80.1 72.2,74.6 72.9,77.2 73.6,70.4 74.3,67.0 75.0,71.9 75.7,75.2 76.4,76.2 77.1,77.0 77.8,70.2 78.5,73.5 79.2,66.4 79.9,68.5 80.6,71.1 81.3,72.6 82.0,77.9 82.7,75.5 83.4,78.3 84.1,65.9 84.8,73.9 85.5,68.2 86.2,76.5 86.9,71.4 87.6,73.9 88.3,76.0 89.0,73.2 89.7,68.7 90.4,69.8 91.1,68.6 91.8,69.7 92.5,70.7 93.2,75.6 93.9,64.4 94.6,83.3 95.3,72.4 96.0,73.4 96.7,70.5 97.4,71.4 98.1,71.6 98.8,69.8 99.5,77.9 100.2,72.2 100.9,73.2 101.6,71.3 102.3,85.4 103.0,71.0 103.7,75.6 104.4,78.3 105.1,69.1 105.8,70.1 106.5,69.1 107.2,75.1 107.9,75.7 108.6,77.8 109.3,70.0 110.0,74.0 110.7,71.9 111.4,75.6 112.1,62.5 112.8,81.4 113.5,71.0 114.2,77.1 114.9,69.9 115.6,74.9 116.3,71.4 117.0,71.5 117.7,79.9 118.4,81.0 119.1,69.5 119.8,72.3 120.5,68.0 121.2,79.1 121.9,77.4 122.6,76.7 123.3,69.0 124.0,74.5 124.7,72.2 125.4,71.7 126.1,73.9 126.8,77.0 127.5,78.6 128.2,75.7 128.9,78.8 129.6,74.7 130.3,73.5 131.0,75.8 131.7,74.6 132.4,74.4 133.1,80.0 133.8,78.2 134.5,74.7 135.2,73.2 135.9,76.4 136.6,77.3 137.3,73.2 138.0,70.5 138.7,66.3 139.4,81.4 140.1,74.5 140.8,73.6 141.5,78.0 142.2,81.1 142.9,70.2 143.6,80.6 144.3,79.4 145.0,78.6 145.7,72.8 146.4,73.8 147.1,76.4 147.8,75.2 148.5,74.3 149.2,77.8 149.9,76.5 150.6,71.3 151.3,67.9 152.0,73.7 152.7,73.9 153.4,69.4 154.1,70.1 154.8,68.4 155.5,73.0 156.2,67.0 156.9,77.4 157.6,72.8 158.3,74.6 159.0,82.5 159.7,74.6 160.4,67.9 161.1,78.5 161.8,73.6 162.5,68.1 163.2,68.4 163.9,73.1 164.6,72.2 165.3,79.6 166.0,70.6 166.7,75.9 167.4,75.5 168.1,70.0 168.8,75.6 169.5,73.2 170.2,73.1 170.9,73.9" fill="none" stroke="#000" stroke-width="0.7"/>
<path d="M45.6,79.8 46.3,86.4 47.0,77.5 47.7,74.9 48.4,80.9 49.1,70.0 49.8,85.4 50.5,87.5 51.2,84.4 51.9,80.8 52.6,77.6 53.3,81.0 54.0,75.3 54.7,80.2 55.4,79.1 56.1,81.1 56.8,74.0 57.5,80.0 58.2,77.1 58.9,74.7 59.6,75.5 60.3,78.9 61.0,79.9 61.7,65.3 62.4,75.7 63.1,84.4 63.8,85.7 64.5,79.9 65.2,77.4 65.9,75.3 66.6,85.4 67.3,77.8 68.0,81.3 68.7,72.2 69.4,75.2 70.1,84.5 70.8,81.2 71.5,78.9 72.2,71.6 72.9,80.0 73.6,80.3 74.3,82.7 75.0,72.7 75.7,73.4 76.4,78.3 77.1,78.0 77.8,76.7 78.5,75.7 79.2,73.9 79.9,77.9 80.6,73.2 81.3,76.3 82.0,80.3 82.7,74.4 83.4,76.9 84.1,86.5 84.8,72.9 85.5,75.7 86.2,78.6 86.9,83.4 87.6,81.1 88.3,83.3 89.0,81.4 89.7,75.1 90.4,75.7 91.1,77.7 91.8,78.8 92.5,82.6 93.2,76.3 93.9,79.4 94.6,81.5 95.3,71.3 96.0,79.2 96.7,78.2 97.4,76.4 98.1,75.8 98.8,68.8 99.5,71.7 100.2,77.7 100.9,74.9 101.6,82.1 102.3,74.0 103.0,74.4 103.7,81.7 104.4,77.6 105.1,81.5 105.8,74.9 106.5,73.7 107.2,82.8 107.9,81.0 108.6,73.0 109.3,74.4 110.0,87.1 110.7,78.9 111.4,88.1 112.1,78.6 112.8,78.0 113.5,80.1 114.2,83.8 114.9,78.1 115.6,77.1 116.3,77.0 117.0,76.7 117.7,79.7 118.4,84.1 119.1,80.3 119.8,75.6 120.5,77.0 121.2,75.1 121.9,77.8 122.6,72.1 123.3,81.3 124.0,78.7 124.7,76.2 125.4,77.7 126.1,77.8 126.8,78.7 127.5,78.3 128.2,82.0 128.9,81.2 129.6,69.6 130.3,79.0 131.0,87.0 131.7,75.4 132.4,79.5 133.1,76.2 133.8,71.3 134.5,82.9 135.2,80.9 135.9,68.9 136.6,76.9 137.3,80.1 138.0,80.5 138.7,71.9 139.4,80.8 140.1,78.5 140.8,72.2 141.5,76.8 142.2,80.6 142.9,82.0 143.6,77.2 144.3,83.6 145.0,78.0 145.7,79.5 146.4,81.3 147.1,74.1 147.8,78.3 148.5,73.2 149.2,71.7 149.9,75.3 150.6,74.8 151.3,77.6 152.0,80.2 152.7,77.6 153.4,75.1 154.1,78.9 154.8,74.0 155.5,77.8 156.2,82.9 156.9,77.5 157.6,69.3 158.3,67.7 159.0,81.5 159.7,80.8 160.4,77.8 161.1,82.5 161.8,79.7 162.5,80.3 163.2,74.3 163.9,82.9 164.6,85.9 165.3,84.5 166.0,78.9 166.7,79.6 167.4,83.1 168.1,76.9 168.8,82.0 169.5,75.2 170.2,84.0 170.9,83.6" fill="none" stroke="#000" stroke-width="0.7"/>
<path d="M45.6,81.8 46.3,74.9 47.0,80.9 47.7,80.8 48.4,79.0 49.1,79.5 49.8,88.2 50.5,81.4 51.2,84.2 51.9,82.2 52.6,77.3 53.3,81.3 54.0,78.7 54.7,83.5 55.4,76.5 56.1,74.9 56.8,79.6 57.5,80.6 58.2,77.7 58.9,77.9 59.6,80.2 60.3,79.4 61.0,78.3 61.7,83.2 62.4,80.3 63.1,83.3 63.8,81.8 64.5,76.4 65.2,79.0 65.9,83.6 66.6,80.5 67.3,86.7 68.0,79.6 68.7,78.7 69.4,75.4 70.1,71.7 70.8,75.5 71.5,86.3 72.2,72.5 72.9,85.8 73.6,82.9 74.3,70.5 75.0,76.5 75.7,84.3 76.4,84.6 77.1,82.7 77.8,80.9 78.5,84.0 79.2,81.4 79.9,71.7 80.6,76.3 81.3,72.7 82.0,78.2 82.7,86.2 83.4,74.8 84.1,71.6 84.8,81.0 85.5,69.1 86.2,78.4 86.9,80.0 87.6,85.7 88.3,81.0 89.0,87.3 89.7,77.1 90.4,81.9 91.1,75.5 91.8,81.7 92.5,83.5 93.2,76.6 93.9,79.5 94.6,79.6 95.3,86.3 96.0,79.6 96.7,78.3 97.4,78.3 98.1,68.4 98.8,77.7 99.5,81.4 100.2,77.4 100.9,78.1 101.6,79.9 102.3,83.2 103.0,80.3 103.7,80.0 104.4,80.4 105.1,75.2 105.8,74.6 106.5,74.6 107.2,80.3 107.9,74.7 108.6,81.7 109.3,75.5 110.0,78.5 110.7,83.4 111.4,89.0 112.1,80.8 112.8,70.2 113.5,77.8 114.2,81.3 114.9,82.1 115.6,75.7 116.3,70.6 117.0,78.6 117.7,76.0 118.4,75.5 119.1,71.7 119.8,79.1 120.5,70.7 121.2,76.1 121.9,77.6 122.6,77.1 123.3,78.5 124.0,84.7 124.7,85.3 125.4,78.1 126.1,75.2 126.8,73.7 127.5,74.0 128.2,74.9 128.9,81.7 129.6,80.4 130.3,74.3 131.0,75.6 131.7,83.7 132.4,71.1 133.1,80.4 133.8,83.2 134.5,76.4 135.2,81.2 135.9,80.7 136.6,79.2 137.3,73.9 138.0,78.3 138.7,73.4 139.4,74.3 140.1,84.0 140.8,76.9 141.5,71.8 142.2,81.9 142.9,83.7 143.6,84.0 144.3,81.6 145.0,80.3 145.7,68.7 146.4,82.0 147.1,75.6 147.8,78.1 148.5,82.2 149.2,81.1 149.9,79.7 150.6,84.3 151.3,86.3 152.0,77.1 152.7,76.4 153.4,88.6 154.1,83.5 154.8,79.5 155.5,76.5 156.2,81.8 156.9,87.5 157.6,77.3 158.3,82.7 159.0,75.5 159.7,84.2 160.4,80.8 161.1,86.9 161.8,82.4 162.5,80.8 163.2,77.2 163.9,76.4 164.6,78.6 165.3,82.8 166.0,80.5 166.7,81.4 167.4,81.0 168.1,83.9 168.8,87.2 169.5,81.2 170.2,83.7 170.9,73.9" fill="none" stroke="#000" stroke-width="0.7"/>
<path d="M45.6,86.5H46.4V85.9H47.2V85.4H48.0V85.1H48.8V84.6H49.6V86.0H50.4V83.4H51.2V84.1H52.0V87.0H52.8V87.1H53.6V85.9H54.4V83.1H55.2V82.4H56.0V84.8H56.8V84.3H57.6V86.2H58.4V84.6H59.2V86.3H60.0V85.8H60.8V86.4H61.6V85.9H62.4V85.5H63.2V83.9H64.0V85.3H64.8V83.6H65.6V86.1H66.4V82.5H67.2V83.3H68.0V84.6H68.8V85.4H69.6V87.5H70.4V84.8H71.2V83.5H72.0V85.5H72.8V85.6H73.6V84.2H74.4V86.0H75.2V85.5H76.0V82.8H76.8V84.6H77.6V85.0H78.4V86.1H79.2V82.1H80.0V83.8H80.8V85.6H81.6V84.1H82.4V84.2H83.2V84.8H84.0V82.9H84.8V85.7H85.6V85.8H86.4V83.9H87.2V82.2H88.0V83.4H88.8V83.9H89.6V82.1H90.4V85.9H91.2V84.4H92.0V83.9H92.8V85.0H93.6V85.7H94.4V84.6H95.2V85.0H96.0V84.3H96.8V86.6H97.6V86.9H98.4V86.8H99.2V85.3H100.0V84.4H100.8V84.8H101.6V85.6H102.4V85.7H103.2V83.3H104.0V84.6H104.8V82.3H105.6V85.4H106.4V84.6H107.2V85.9H108.0V85.3H108.8V86.3H109.6V85.8H110.4V84.8H111.2V84.0H112.0V84.5H112.8V85.2H113.6V82.8H114.4V85.5H115.2V85.7H116.0V85.9H116.8V83.0H117.6V84.9H118.4V86.0H119.2V86.4H120.0V85.6H120.8V85.5H121.6V84.5H122.4V84.4H123.2V85.4H124.0V85.9H124.8V86.5H125.6V84.4H126.4V85.9H127.2V83.3H128.0V83.3H128.8V85.7H129.6V84.6H130.4V84.4H131.2V86.1H132.0V82.4H132.8V85.7H133.6V85.4H134.4V86.8H135.2V83.4H136.0V87.0H136.8V87.2H137.6V84.3H138.4V85.9H139.2V84.4H140.0V84.5H140.8V86.3H141.6V86.1H142.4V85.8H143.2V86.2H144.0V84.0H144.8V84.9H145.6V85.1H146.4V86.3H147.2V86.2H148.0V83.6H148.8V84.6H149.6V86.0H150.4V85.1H151.2V85.2H152.0V85.8H152.8V86.7H153.6V85.9H154.4V84.9H155.2V86.2H156.0V86.1H156.8V86.7H157.6V86.1H158.4V84.7H159.2V85.3H160.0V84.2H160.8V86.0H161.6V84.9H162.4V86.5H163.2V84.8H164.0V86.6H164.8V83.3H165.6V83.7H166.4V84.8H167.2V82.0H168.0V82.5H168.8V85.0H169.6V85.3H170.4V86.5H171.2V89.9H170.4V89.4H169.6V89.2H168.8V88.8H168.0V88.9H167.2V87.6H166.4V90.1H165.6V92.9H164.8V91.1H164.0V86.8H163.2V89.2H162.4V91.6H161.6V89.2H160.8V90.8H160.0V93.4H159.2V87.7H158.4V92.2H157.6V87.6H156.8V88.9H156.0V90.1H155.2V92.6H154.4V91.2H153.6V87.3H152.8V87.1H152.0V87.5H151.2V92.3H150.4V87.9H149.6V90.4H148.8V94.1H148.0V89.8H147.2V88.3H146.4V90.4H145.6V90.6H144.8V87.1H144.0V88.2H143.2V87.1H142.4V90.2H141.6V91.0H140.8V86.1H140.0V93.1H139.2V94.0H138.4V90.5H137.6V89.3H136.8V91.6H136.0V93.4H135.2V87.7H134.4V86.9H133.6V86.7H132.8V91.0H132.0V95.4H131.2V90.8H130.4V90.6H129.6V92.0H128.8V90.0H128.0V95.1H127.2V86.6H126.4V92.9H125.6V87.3H124.8V87.3H124.0V88.6H123.2V86.5H122.4V88.6H121.6V86.9H120.8V90.8H120.0V90.0H119.2V89.5H118.4V89.3H117.6V88.7H116.8V87.7H116.0V94.7H115.2V86.9H114.4V86.0H113.6V91.8H112.8V92.1H112.0V94.1H111.2V87.7H110.4V87.7H109.6V90.7H108.8V91.8H108.0V87.0H107.2V93.4H106.4V94.4H105.6V87.4H104.8V90.1H104.0V88.4H103.2V92.8H102.4V92.2H101.6V90.4H100.8V91.5H100.0V87.4H99.2V91.5H98.4V92.2H97.6V91.9H96.8V87.0H96.0V87.0H95.2V88.6H94.4V92.7H93.6V87.2H92.8V94.7H92.0V88.1H91.2V89.8H90.4V86.3H89.6V98.0H88.8V94.2H88.0V95.1H87.2V87.8H86.4V89.2H85.6V87.7H84.8V86.7H84.0V90.3H83.2V92.1H82.4V86.5H81.6V90.0H80.8V88.4H80.0V87.1H79.2V94.4H78.4V88.8H77.6V91.4H76.8V90.3H76.0V87.7H75.2V97.2H74.4V93.1H73.6V94.9H72.8V94.0H72.0V89.3H71.2V94.4H70.4V91.6H69.6V96.0H68.8V87.0H68.0V91.7H67.2V88.8H66.4V87.0H65.6V94.2H64.8V97.2H64.0V87.9H63.2V94.3H62.4V94.0H61.6V93.9H60.8V94.8H60.0V89.3H59.2V98.6H58.4V86.6H57.6V92.5H56.8V88.3H56.0V96.1H55.2V90.3H54.4V91.0H53.6V90.6H52.8V95.0H52.0V88.7H51.2V88.3H50.4V88.3H49.6V93.5H48.8V88.7H48.0V95.4H47.2V95.7H46.4V97.0H45.6Z" fill="#000" fill-opacity="0.25"/>
<path d="M45.6,85.8H46.4V86.8H47.2V87.0H48.0V86.0H48.8V82.7H49.6V84.2H50.4V87.1H51.2V85.7H52.0V85.4H52.8V86.7H53.6V87.3H54.4V85.3H55.2V84.4H56.0V82.7H56.8V86.1H57.6V82.7H58.4V85.4H59.2V86.2H60.0V86.9H60.8V85.1H61.6V85.4H62.4V85.5H63.2V86.2H64.0V86.1H64.8V84.9H65.6V86.4H66.4V86.3H67.2V85.5H68.0V85.7H68.8V85.1H69.6V85.9H70.4V84.2H71.2V86.3H72.0V83.8H72.8V85.0H73.6V87.3H74.4V87.0H75.2V84.5H76.0V85.8H76.8V85.8H77.6V86.5H78.4V86.6H79.2V85.3H80.0V85.5H80.8V84.5H81.6V85.1H82.4V86.5H83.2V84.8H84.0V84.9H84.8V83.1H85.6V83.9H86.4V85.2H87.2V83.7H88.0V85.5H88.8V87.3H89.6V87.1H90.4V85.7H91.2V85.1H92.0V84.6H92.8V85.5H93.6V85.3H94.4V84.2H95.2V86.0H96.0V86.9H96.8V84.4H97.6V86.6H98.4V87.0H99.2V84.7H100.0V83.9H100.8V87.2H101.6V85.9H102.4V84.6H103.2V86.5H104.0V86.3H104.8V85.6H105.6V84.0H106.4V84.6H107.2V85.4H108.0V83.4H108.8V86.3H109.6V86.6H110.4V85.8H111.2V86.0H112.0V86.1H112.8V80.8H113.6V86.5H114.4V84.1H115.2V82.0H116.0V87.1H116.8V86.5H117.6V81.7H118.4V86.2H119.2V83.4H120.0V83.8H120.8V85.1H121.6V82.3H122.4V84.0H123.2V84.4H124.0V86.7H124.8V85.2H125.6V84.3H126.4V86.4H127.2V83.2H128.0V80.2H128.8V85.6H129.6V85.5H130.4V85.1H131.2V84.9H132.0V85.5H132.8V83.8H133.6V83.9H134.4V83.5H135.2V86.6H136.0V85.9H136.8V85.1H137.6V86.4H138.4V85.4H139.2V83.0H140.0V85.9H140.8V85.7H141.6V83.0H142.4V85.0H143.2V85.0H144.0V85.6H144.8V84.6H145.6V83.6H146.4V86.1H147.2V84.5H148.0V86.5H148.8V84.4H149.6V86.1H150.4V86.9H151.2V84.5H152.0V83.3H152.8V83.4H153.6V86.8H154.4V86.6H155.2V87.0H156.0V87.6H156.8V87.1H157.6V86.2H158.4V85.7H159.2V86.9H160.0V86.5H160.8V86.7H161.6V86.4H162.4V85.8H163.2V86.1H164.0V86.6H164.8V83.3H165.6V85.1H166.4V86.0H167.2V81.4H168.0V86.4H168.8V83.9H169.6V86.1H170.4V82.3H171.2V89.5H170.4V88.0H169.6V93.8H168.8V88.4H168.0V87.7H167.2V92.4H166.4V90.3H165.6V88.5H164.8V88.1H164.0V89.5H163.2V92.4H162.4V87.0H161.6V96.9H160.8V93.5H160.0V90.1H159.2V90.7H158.4V92.4H157.6V87.6H156.8V90.0H156.0V88.1H155.2V87.5H154.4V88.3H153.6V89.9H152.8V87.4H152.0V91.3H151.2V89.9H150.4V88.1H149.6V89.2H148.8V87.7H148.0V88.2H147.2V91.2H146.4V88.9H145.6V94.9H144.8V86.8H144.0V90.4H143.2V88.0H142.4V90.8H141.6V92.8H140.8V88.6H140.0V89.9H139.2V90.1H138.4V91.4H137.6V88.7H136.8V87.3H136.0V88.5H135.2V91.9H134.4V87.6H133.6V93.0H132.8V93.4H132.0V87.5H131.2V89.3H130.4V88.3H129.6V87.2H128.8V91.6H128.0V88.4H127.2V95.5H126.4V91.3H125.6V87.7H124.8V87.2H124.0V96.3H123.2V94.3H122.4V93.4H121.6V87.1H120.8V88.9H120.0V94.4H119.2V97.0H118.4V90.1H117.6V88.9H116.8V92.3H116.0V87.6H115.2V88.5H114.4V88.9H113.6V88.1H112.8V90.7H112.0V92.3H111.2V87.8H110.4V94.4H109.6V95.4H108.8V92.7H108.0V89.0H107.2V99.3H106.4V91.8H105.6V95.3H104.8V87.6H104.0V95.6H103.2V94.3H102.4V88.4H101.6V90.7H100.8V88.9H100.0V92.3H99.2V88.8H98.4V87.9H97.6V87.4H96.8V92.4H96.0V91.8H95.2V94.8H94.4V94.0H93.6V89.8H92.8V93.5H92.0V87.5H91.2V89.6H90.4V88.4H89.6V93.5H88.8V89.0H88.0V87.2H87.2V89.3H86.4V87.5H85.6V90.8H84.8V91.8H84.0V90.3H83.2V91.9H82.4V87.5H81.6V89.6H80.8V90.1H80.0V98.4H79.2V89.0H78.4V94.3H77.6V98.7H76.8V90.0H76.0V93.5H75.2V95.5H74.4V91.6H73.6V89.3H72.8V95.0H72.0V87.8H71.2V88.3H70.4V91.0H69.6V88.7H68.8V88.5H68.0V88.1H67.2V88.2H66.4V87.7H65.6V92.2H64.8V87.8H64.0V88.0H63.2V90.6H62.4V89.3H61.6V92.3H60.8V95.2H60.0V87.2H59.2V92.1H58.4V92.5H57.6V93.6H56.8V92.9H56.0V87.7H55.2V94.4H54.4V94.6H53.6V92.7H52.8V87.4H52.0V88.3H51.2V88.8H50.4V93.7H49.6V97.6H48.8V96.5H48.0V88.3H47.2V88.0H46.4V91.1H45.6Z" fill="#000" fill-opacity="0.25"/>
<path d="M45.6,80.0H46.4V80.9H47.2V83.0H48.0V83.9H48.8V83.5H49.6V82.7H50.4V84.5H51.2V83.6H52.0V81.1H52.8V84.7H53.6V83.9H54.4V84.3H55.2V83.3H56.0V81.7H56.8V83.8H57.6V84.3H58.4V83.0H59.2V84.0H60.0V84.4H60.8V83.9H61.6V82.6H62.4V81.9H63.2V84.0H64.0V84.2H64.8V83.9H65.6V84.6H66.4V83.4H67.2V79.3H68.0V82.5H68.8V84.3H69.6V84.1H70.4V81.7H71.2V82.1H72.0V82.7H72.8V83.3H73.6V83.9H74.4V84.9H75.2V84.2H76.0V85.0H76.8V83.8H77.6V82.7H78.4V83.8H79.2V82.6H80.0V84.1H80.8V83.8H81.6V83.4H82.4V83.3H83.2V84.5H84.0V84.9H84.8V85.4H85.6V82.9H86.4V82.5H87.2V82.9H88.0V84.2H88.8V83.4H89.6V84.4H90.4V84.2H91.2V85.3H92.0V84.7H92.8V84.4H93.6V83.3H94.4V83.0H95.2V82.0H96.0V83.6H96.8V84.0H97.6V83.3H98.4V84.3H99.2V84.1H100.0V83.5H100.8V82.3H101.6V84.0H102.4V81.4H103.2V83.8H104.0V82.9H104.8V83.2H105.6V83.4H106.4V84.0H107.2V80.8H108.0V83.4H108.8V82.8H109.6V80.3H110.4V83.6H111.2V82.8H112.0V81.1H112.8V83.8H113.6V81.6H114.4V83.4H115.2V81.7H116.0V85.3H116.8V83.2H117.6V84.3H118.4V85.0H119.2V82.9H120.0V83.0H120.8V83.3H121.6V84.1H122.4V83.1H123.2V81.7H124.0V84.1H124.8V83.3H125.6V83.2H126.4V84.8H127.2V83.2H128.0V83.8H128.8V84.0H129.6V81.9H130.4V79.8H131.2V82.9H132.0V83.8H132.8V83.9H133.6V84.1H134.4V83.1H135.2V80.3H136.0V82.4H136.8V83.4H137.6V79.7H138.4V84.1H139.2V84.5H140.0V82.9H140.8V81.1H141.6V82.9H142.4V84.7H143.2V80.8H144.0V83.2H144.8V84.5H145.6V83.9H146.4V84.0H147.2V83.7H148.0V83.4H148.8V81.3H149.6V85.1H150.4V84.0H151.2V83.0H152.0V84.1H152.8V83.9H153.6V84.5H154.4V84.4H155.2V83.8H156.0V84.5H156.8V84.1H157.6V82.3H158.4V83.4H159.2V84.3H160.0V82.0H160.8V83.7H161.6V83.2H162.4V83.2H163.2V85.4H164.0V82.7H164.8V85.4H165.6V83.2H166.4V83.6H167.2V83.4H168.0V83.2H168.8V84.1H169.6V84.7H170.4V82.1H171.2V88.5H170.4V88.8H169.6V90.5H168.8V90.8H168.0V88.8H167.2V91.1H166.4V91.0H165.6V87.9H164.8V87.6H164.0V91.2H163.2V86.2H162.4V85.7H161.6V87.3H160.8V86.0H160.0V90.3H159.2V84.9H158.4V88.1H157.6V84.8H156.8V87.7H156.0V86.1H155.2V89.7H154.4V90.4H153.6V94.2H152.8V92.1H152.0V89.1H151.2V87.0H150.4V91.6H149.6V85.9H148.8V86.9H148.0V92.5H147.2V85.7H146.4V89.7H145.6V87.2H144.8V91.8H144.0V88.6H143.2V85.7H142.4V85.8H141.6V89.1H140.8V89.2H140.0V92.2H139.2V86.3H138.4V90.2H137.6V86.8H136.8V91.1H136.0V88.3H135.2V86.6H134.4V86.2H133.6V88.4H132.8V92.2H132.0V93.6H131.2V87.9H130.4V85.3H129.6V90.4H128.8V87.3H128.0V91.3H127.2V89.5H126.4V87.4H125.6V90.4H124.8V86.9H124.0V88.6H123.2V85.4H122.4V86.2H121.6V87.3H120.8V91.8H120.0V88.4H119.2V93.9H118.4V89.2H117.6V94.2H116.8V90.6H116.0V89.8H115.2V91.1H114.4V85.0H113.6V86.4H112.8V86.7H112.0V85.9H111.2V84.3H110.4V85.6H109.6V90.0H108.8V91.9H108.0V87.9H107.2V86.8H106.4V89.1H105.6V87.0H104.8V86.5H104.0V91.4H103.2V87.7H102.4V85.4H101.6V89.9H100.8V94.5H100.0V89.9H99.2V92.3H98.4V88.7H97.6V90.8H96.8V93.0H96.0V86.0H95.2V87.1H94.4V87.0H93.6V87.3H92.8V91.1H92.0V88.2H91.2V85.9H90.4V85.4H89.6V95.3H88.8V96.6H88.0V85.8H87.2V90.0H86.4V96.3H85.6V93.4H84.8V86.3H84.0V87.9H83.2V92.3H82.4V89.5H81.6V87.6H80.8V92.1H80.0V85.0H79.2V86.4H78.4V92.2H77.6V88.2H76.8V93.0H76.0V93.1H75.2V90.1H74.4V88.4H73.6V88.9H72.8V85.1H72.0V89.6H71.2V88.2H70.4V86.9H69.6V86.2H68.8V95.1H68.0V90.9H67.2V90.8H66.4V87.4H65.6V95.0H64.8V88.6H64.0V86.0H63.2V89.8H62.4V93.2H61.6V91.3H60.8V85.8H60.0V88.0H59.2V96.4H58.4V93.0H57.6V84.9H56.8V89.6H56.0V89.5H55.2V93.0H54.4V86.6H53.6V90.0H52.8V88.5H52.0V92.9H51.2V90.7H50.4V90.5H49.6V84.9H48.8V91.2H48.0V83.8H47.2V90.6H46.4V95.0H45.6Z" fill="#000" fill-opacity="0.25"/>
<path d="M45.6,86.6H46.4V86.2H47.2V86.1H48.0V86.3H48.8V85.0H49.6V84.1H50.4V86.1H51.2V84.8H52.0V86.3H52.8V85.4H53.6V86.9H54.4V87.3H55.2V86.8H56.0V85.5H56.8V84.2H57.6V86.6H58.4V83.6H59.2V85.1H60.0V84.8H60.8V86.7H61.6V87.3H62.4V87.1H63.2V84.9H64.0V84.4H64.8V86.7H65.6V84.8H66.4V83.2H67.2V85.6H68.0V86.6H68.8V86.8H69.6V86.0H70.4V85.6H71.2V86.5H72.0V85.2H72.8V87.4H73.6V86.3H74.4V85.9H75.2V87.6H76.0V87.0H76.8V85.0H77.6V84.9H78.4V84.9H79.2V88.0H80.0V87.5H80.8V85.5H81.6V81.3H82.4V84.3H83.2V85.8H84.0V86.5H84.8V85.3H85.6V82.5H86.4V86.3H87.2V86.6H88.0V85.1H88.8V85.6H89.6V81.3H90.4V85.5H91.2V85.9H92.0V85.1H92.8V86.4H93.6V85.9H94.4V86.0H95.2V87.0H96.0V83.1H96.8V86.1H97.6V85.3H98.4V85.7H99.2V85.2H100.0V86.3H100.8V86.7H101.6V84.8H102.4V86.3H103.2V83.6H104.0V86.2H104.8V87.2H105.6V87.0H106.4V86.0H107.2V85.9H108.0V85.6H108.8V85.8H109.6V86.9H110.4V86.1H111.2V86.1H112.0V83.9H112.8V86.6H113.6V85.1H114.4V85.7H115.2V85.0H116.0V85.8H116.8V86.5H117.6V86.6H118.4V87.2H119.2V84.8H120.0V85.1H120.8V85.3H121.6V84.2H122.4V86.6H123.2V85.9H124.0V86.7H124.8V87.1H125.6V85.7H126.4V85.7H127.2V85.9H128.0V84.7H128.8V84.6H129.6V85.5H130.4V83.0H131.2V82.3H132.0V87.0H132.8V86.0H133.6V85.5H134.4V85.9H135.2V86.4H136.0V84.0H136.8V84.7H137.6V86.8H138.4V86.5H139.2V86.4H140.0V83.9H140.8V85.7H141.6V85.2H142.4V83.6H143.2V86.9H144.0V85.6H144.8V86.8H145.6V87.4H146.4V85.9H147.2V82.8H148.0V83.0H148.8V84.2H149.6V85.3H150.4V86.5H151.2V86.4H152.0V84.3H152.8V84.2H153.6V86.7H154.4V80.7H155.2V85.1H156.0V83.1H156.8V85.6H157.6V86.1H158.4V86.1H159.2V85.1H160.0V84.4H160.8V85.6H161.6V86.4H162.4V86.4H163.2V85.6H164.0V86.1H164.8V85.7H165.6V83.9H166.4V85.9H167.2V86.9H168.0V85.2H168.8V86.8H169.6V87.5H170.4V84.9H171.2V92.1H170.4V89.7H169.6V89.8H168.8V88.2H168.0V89.8H167.2V89.0H166.4V94.4H165.6V94.9H164.8V96.3H164.0V91.7H163.2V87.6H162.4V90.1H161.6V87.8H160.8V90.6H160.0V88.0H159.2V87.2H158.4V89.2H157.6V88.9H156.8V87.3H156.0V90.7H155.2V92.2H154.4V91.5H153.6V87.8H152.8V90.8H152.0V89.8H151.2V90.7H150.4V88.2H149.6V92.8H148.8V89.8H148.0V90.1H147.2V93.0H146.4V89.4H145.6V87.6H144.8V88.2H144.0V93.9H143.2V91.9H142.4V87.7H141.6V96.2H140.8V88.7H140.0V92.2H139.2V88.2H138.4V94.9H137.6V92.1H136.8V91.9H136.0V92.7H135.2V89.6H134.4V91.5H133.6V93.9H132.8V90.3H132.0V90.4H131.2V87.8H130.4V89.6H129.6V87.2H128.8V88.2H128.0V88.6H127.2V90.1H126.4V86.8H125.6V89.3H124.8V92.2H124.0V90.5H123.2V89.7H122.4V92.7H121.6V88.9H120.8V88.7H120.0V89.1H119.2V88.9H118.4V95.8H117.6V94.8H116.8V86.8H116.0V97.7H115.2V89.6H114.4V96.0H113.6V90.7H112.8V88.7H112.0V88.3H111.2V87.7H110.4V92.4H109.6V96.8H108.8V87.5H108.0V88.7H107.2V98.9H106.4V90.3H105.6V97.2H104.8V94.2H104.0V89.2H103.2V87.7H102.4V87.1H101.6V89.1H100.8V91.2H100.0V87.7H99.2V87.6H98.4V92.1H97.6V91.4H96.8V95.3H96.0V91.4H95.2V90.4H94.4V94.0H93.6V87.8H92.8V94.9H92.0V87.3H91.2V91.4H90.4V90.4H89.6V88.1H88.8V88.2H88.0V90.9H87.2V87.7H86.4V94.9H85.6V91.9H84.8V87.4H84.0V93.3H83.2V88.9H82.4V92.1H81.6V94.9H80.8V89.5H80.0V88.8H79.2V100.1H78.4V92.4H77.6V93.7H76.8V96.6H76.0V96.3H75.2V98.0H74.4V89.8H73.6V89.1H72.8V90.3H72.0V88.4H71.2V92.9H70.4V91.0H69.6V90.9H68.8V90.0H68.0V94.7H67.2V93.8H66.4V86.4H65.6V94.6H64.8V90.9H64.0V88.4H63.2V90.2H62.4V89.8H61.6V90.1H60.8V95.4H60.0V90.5H59.2V94.1H58.4V89.5H57.6V94.2H56.8V92.7H56.0V99.9H55.2V91.0H54.4V96.7H53.6V89.4H52.8V97.6H52.0V90.6H51.2V93.5H50.4V91.4H49.6V95.3H48.8V94.6H48.0V88.7H47.2V97.8H46.4V91.0H45.6Z" fill="#000" fill-opacity="0.25"/>
<path d="M45.6,43.1H46.4V38.0H47.2V44.3H48.0V44.4H48.8V46.3H49.6V42.4H50.4V46.4H51.2V46.1H52.0V46.6H52.8V47.2H53.6V41.8H54.4V35.8H55.2V45.0H56.0V46.3H56.8V45.5H57.6V46.1H58.4V48.6H59.2V47.4H60.0V44.0H60.8V44.7H61.6V42.6H62.4V46.3H63.2V43.5H64.0V43.0H64.8V47.2H65.6V38.7H66.4V40.4H67.2V40.1H68.0V45.1H68.8V41.4H69.6V47.1H70.4V42.2H71.2V46.6H72.0V47.8H72.8V47.1H73.6V49.1H74.4V48.6H75.2V46.5H76.0V47.6H76.8V46.0H77.6V39.1H78.4V40.8H79.2V34.4H80.0V48.9H80.8V47.2H81.6V30.5H82.4V33.6H83.2V35.0H84.0V48.0H84.8V43.2H85.6V45.9H86.4V46.8H87.2V45.7H88.0V40.2H88.8V38.5H89.6V44.3H90.4V43.2H91.2V43.0H92.0V41.9H92.8V48.9H93.6V44.2H94.4V40.3H95.2V43.1H96.0V45.7H96.8V45.1H97.6V46.7H98.4V40.1H99.2V37.3H100.0V45.5H100.8V41.7H101.6V47.0H102.4V34.8H103.2V40.3H104.0V39.6H104.8V38.9H105.6V27.5H106.4V34.9H107.2V44.1H108.0V39.5H108.8V38.5H109.6V40.2H110.4V41.6H111.2V43.6H112.0V45.3H112.8V32.8H113.6V40.3H114.4V40.0H115.2V41.2H116.0V42.8H116.8V38.5H117.6V42.5H118.4V29.2H119.2V37.7H120.0V33.3H120.8V43.3H121.6V35.2H122.4V30.3H123.2V42.1H124.0V31.5H124.8V42.4H125.6V34.0H126.4V36.5H127.2V41.0H128.0V40.6H128.8V34.1H129.6V41.1H130.4V43.4H131.2V33.4H132.0V35.9H132.8V23.0H133.6V19.8H134.4V27.1H135.2V24.7H136.0V25.7H136.8V38.8H137.6V36.4H138.4V38.3H139.2V34.9H140.0V41.1H140.8V31.4H141.6V43.4H142.4V38.5H143.2V42.5H144.0V38.4H144.8V35.1H145.6V41.1H146.4V41.7H147.2V28.6H148.0V36.4H148.8V42.2H149.6V43.0H150.4V42.9H151.2V40.4H152.0V40.3H152.8V38.5H153.6V40.7H154.4V41.3H155.2V38.5H156.0V40.7H156.8V26.5H157.6V25.3H158.4V36.6H159.2V42.2H160.0V27.6H160.8V42.2H161.6V37.8H162.4V37.8H163.2V40.6H164.0V41.0H164.8V33.6H165.6V32.9H166.4V40.8H167.2V35.6H168.0V36.0H168.8V33.9H169.6V35.5H170.4V35.9H171.2V44.8H170.4V46.2H169.6V44.4H168.8V45.9H168.0V47.9H167.2V47.5H166.4V43.9H165.6V43.1H164.8V45.7H164.0V46.7H163.2V45.7H162.4V44.0H161.6V42.9H160.8V43.8H160.0V47.1H159.2V46.8H158.4V44.4H157.6V44.3H156.8V43.4H156.0V46.0H155.2V45.5H154.4V44.5H153.6V45.7H152.8V44.2H152.0V44.4H151.2V44.5H150.4V43.8H149.6V44.6H148.8V46.0H148.0V46.0H147.2V45.0H146.4V44.8H145.6V44.1H144.8V44.1H144.0V44.6H143.2V44.9H142.4V45.9H141.6V45.0H140.8V45.9H140.0V46.3H139.2V44.3H138.4V48.0H137.6V49.3H136.8V48.4H136.0V44.9H135.2V45.8H134.4V45.2H133.6V44.8H132.8V44.0H132.0V44.9H131.2V44.8H130.4V48.2H129.6V45.6H128.8V44.2H128.0V45.2H127.2V45.2H126.4V45.2H125.6V45.4H124.8V46.4H124.0V48.3H123.2V45.2H122.4V45.3H121.6V46.0H120.8V48.6H120.0V47.9H119.2V45.7H118.4V50.3H117.6V48.4H116.8V49.1H116.0V49.8H115.2V47.1H114.4V48.7H113.6V49.0H112.8V46.6H112.0V47.2H111.2V50.6H110.4V48.9H109.6V50.5H108.8V49.5H108.0V47.8H107.2V49.6H106.4V50.7H105.6V48.8H104.8V48.1H104.0V50.5H103.2V51.1H102.4V50.2H101.6V52.8H100.8V49.7H100.0V51.9H99.2V50.3H98.4V54.5H97.6V51.8H96.8V54.1H96.0V51.4H95.2V50.0H94.4V51.7H93.6V49.2H92.8V50.1H92.0V52.4H91.2V50.8H90.4V54.6H89.6V49.7H88.8V49.1H88.0V51.3H87.2V51.4H86.4V52.3H85.6V50.7H84.8V56.6H84.0V54.9H83.2V54.3H82.4V51.8H81.6V50.1H80.8V49.7H80.0V51.0H79.2V54.0H78.4V51.1H77.6V49.3H76.8V52.0H76.0V52.2H75.2V49.7H74.4V51.6H73.6V51.2H72.8V51.7H72.0V52.9H71.2V53.3H70.4V50.9H69.6V50.4H68.8V54.7H68.0V55.3H67.2V51.7H66.4V51.9H65.6V51.4H64.8V51.0H64.0V50.0H63.2V52.4H62.4V50.6H61.6V52.4H60.8V50.4H60.0V52.9H59.2V50.3H58.4V50.5H57.6V51.9H56.8V55.1H56.0V53.5H55.2V49.7H54.4V52.7H53.6V50.1H52.8V49.7H52.0V51.0H51.2V50.4H50.4V49.8H49.6V51.6H48.8V50.5H48.0V52.2H47.2V50.9H46.4V50.4H45.6Z" fill="#000" fill-opacity="0.55"/>
<path d="M45.6,41.1H46.4V46.0H47.2V34.7H48.0V37.6H48.8V45.4H49.6V32.2H50.4V46.6H51.2V45.0H52.0V40.7H52.8V44.8H53.6V39.6H54.4V46.8H55.2V46.6H56.0V43.8H56.8V42.1H57.6V44.3H58.4V41.3H59.2V40.3H60.0V43.9H60.8V41.0H61.6V47.0H62.4V47.5H63.2V41.9H64.0V46.3H64.8V37.5H65.6V39.8H66.4V44.8H67.2V43.3H68.0V42.9H68.8V42.5H69.6V38.9H70.4V37.2H71.2V35.1H72.0V45.8H72.8V41.1H73.6V44.6H74.4V37.3H75.2V40.5H76.0V41.9H76.8V47.4H77.6V47.1H78.4V33.9H79.2V46.6H80.0V40.4H80.8V47.4H81.6V37.8H82.4V43.1H83.2V44.1H84.0V33.4H84.8V43.0H85.6V34.4H86.4V37.3H87.2V39.5H88.0V36.1H88.8V45.2H89.6V45.2H90.4V43.2H91.2V42.5H92.0V41.7H92.8V37.9H93.6V46.2H94.4V43.2H95.2V45.0H96.0V46.8H96.8V39.9H97.6V35.4H98.4V39.3H99.2V40.1H100.0V45.3H100.8V43.2H101.6V44.8H102.4V43.0H103.2V41.8H104.0V45.3H104.8V45.3H105.6V44.8H106.4V41.9H107.2V41.4H108.0V39.7H108.8V38.3H109.6V37.9H110.4V25.1H111.2V40.1H112.0V30.8H112.8V35.6H113.6V39.1H114.4V40.2H115.2V37.9H116.0V39.7H116.8V38.0H117.6V41.4H118.4V37.0H119.2V42.2H120.0V33.1H120.8V40.1H121.6V40.9H122.4V34.5H123.2V40.4H124.0V36.0H124.8V32.1H125.6V36.1H126.4V22.7H127.2V38.6H128.0V39.9H128.8V36.9H129.6V42.8H130.4V39.5H131.2V34.8H132.0V33.5H132.8V37.2H133.6V39.5H134.4V40.9H135.2V37.7H136.0V40.1H136.8V42.3H137.6V39.2H138.4V36.9H139.2V40.9H140.0V38.9H140.8V36.0H141.6V36.3H142.4V40.1H143.2V40.3H144.0V38.1H144.8V32.5H145.6V41.7H146.4V38.5H147.2V38.8H148.0V36.2H148.8V28.8H149.6V39.8H150.4V38.2H151.2V26.2H152.0V36.3H152.8V29.1H153.6V33.8H154.4V32.1H155.2V33.4H156.0V24.6H156.8V22.6H157.6V36.1H158.4V21.8H159.2V29.3H160.0V34.4H160.8V38.4H161.6V35.6H162.4V41.0H163.2V32.2H164.0V33.2H164.8V34.3H165.6V40.5H166.4V25.1H167.2V33.0H168.0V26.0H168.8V35.8H169.6V37.4H170.4V31.4H171.2V44.5H170.4V43.6H169.6V44.1H168.8V42.6H168.0V42.5H167.2V43.0H166.4V43.6H165.6V41.9H164.8V42.6H164.0V45.5H163.2V44.3H162.4V42.1H161.6V49.3H160.8V44.8H160.0V45.9H159.2V41.8H158.4V41.2H157.6V42.8H156.8V41.9H156.0V42.3H155.2V42.1H154.4V42.9H153.6V44.2H152.8V42.5H152.0V46.2H151.2V42.6H150.4V42.2H149.6V42.0H148.8V42.7H148.0V43.8H147.2V45.3H146.4V45.6H145.6V48.8H144.8V49.0H144.0V44.9H143.2V44.6H142.4V44.2H141.6V44.8H140.8V42.4H140.0V46.2H139.2V45.6H138.4V45.4H137.6V47.5H136.8V45.7H136.0V42.4H135.2V44.4H134.4V46.7H133.6V43.4H132.8V45.1H132.0V48.7H131.2V47.6H130.4V45.2H129.6V42.6H128.8V45.8H128.0V41.9H127.2V43.3H126.4V47.2H125.6V42.8H124.8V45.0H124.0V47.4H123.2V44.8H122.4V45.1H121.6V44.0H120.8V45.3H120.0V45.2H119.2V46.5H118.4V43.7H117.6V44.9H116.8V44.1H116.0V45.9H115.2V44.2H114.4V45.1H113.6V48.0H112.8V43.7H112.0V44.8H111.2V49.6H110.4V47.4H109.6V48.5H108.8V47.7H108.0V45.6H107.2V45.8H106.4V49.2H105.6V47.9H104.8V49.0H104.0V49.4H103.2V48.5H102.4V49.2H101.6V48.2H100.8V48.3H100.0V49.1H99.2V52.2H98.4V52.3H97.6V50.1H96.8V50.0H96.0V48.9H95.2V47.1H94.4V51.4H93.6V52.9H92.8V51.5H92.0V49.2H91.2V51.4H90.4V49.5H89.6V50.8H88.8V51.4H88.0V47.5H87.2V48.2H86.4V48.0H85.6V52.2H84.8V50.0H84.0V51.9H83.2V54.9H82.4V49.7H81.6V48.8H80.8V47.9H80.0V47.6H79.2V49.1H78.4V47.3H77.6V48.7H76.8V47.9H76.0V49.6H75.2V49.3H74.4V48.0H73.6V48.0H72.8V48.6H72.0V48.5H71.2V50.2H70.4V47.8H69.6V47.5H68.8V49.6H68.0V47.8H67.2V49.0H66.4V49.3H65.6V49.5H64.8V50.5H64.0V50.9H63.2V49.9H62.4V48.3H61.6V49.4H60.8V49.2H60.0V52.9H59.2V49.0H58.4V49.0H57.6V52.2H56.8V54.4H56.0V48.8H55.2V49.0H54.4V49.9H53.6V49.6H52.8V48.7H52.0V48.9H51.2V50.6H50.4V48.8H49.6V47.9H48.8V49.8H48.0V51.6H47.2V48.6H46.4V48.5H45.6Z" fill="#000" fill-opacity="0.55"/>
<path d="M45.6,40.6H46.4V43.9H47.2V43.9H48.0V42.8H48.8V45.3H49.6V45.3H50.4V34.7H51.2V43.2H52.0V43.8H52.8V41.6H53.6V46.8H54.4V45.2H55.2V35.2H56.0V44.8H56.8V43.4H57.6V42.0H58.4V44.3H59.2V46.2H60.0V46.0H60.8V44.0H61.6V46.2H62.4V45.4H63.2V40.4H64.0V45.1H64.8V46.4H65.6V35.8H66.4V43.9H67.2V39.3H68.0V40.8H68.8V40.9H69.6V43.7H70.4V34.7H71.2V42.4H72.0V41.2H72.8V44.6H73.6V42.4H74.4V45.4H75.2V39.1H76.0V41.3H76.8V41.1H77.6V44.6H78.4V45.5H79.2V37.7H80.0V38.5H80.8V45.6H81.6V39.3H82.4V46.8H83.2V41.9H84.0V44.1H84.8V45.5H85.6V45.3H86.4V39.3H87.2V35.7H88.0V34.2H88.8V40.1H89.6V44.9H90.4V45.2H91.2V41.0H92.0V46.1H92.8V45.1H93.6V39.9H94.4V43.1H95.2V44.9H96.0V41.8H96.8V37.1H97.6V39.9H98.4V39.3H99.2V43.8H100.0V33.6H100.8V41.5H101.6V45.0H102.4V42.8H103.2V43.6H104.0V37.1H104.8V33.1H105.6V43.0H106.4V44.2H107.2V30.1H108.0V42.4H108.8V31.2H109.6V30.7H110.4V36.4H111.2V33.1H112.0V39.1H112.8V37.7H113.6V38.9H114.4V36.6H115.2V40.8H116.0V31.4H116.8V37.3H117.6V24.9H118.4V32.1H119.2V33.6H120.0V39.3H120.8V28.9H121.6V19.0H122.4V28.5H123.2V25.9H124.0V35.8H124.8V39.0H125.6V30.1H126.4V29.2H127.2V31.0H128.0V34.8H128.8V39.4H129.6V39.0H130.4V37.9H131.2V36.0H132.0V39.2H132.8V39.8H133.6V29.8H134.4V39.7H135.2V35.3H136.0V38.9H136.8V37.9H137.6V40.4H138.4V34.4H139.2V33.9H140.0V37.7H140.8V24.3H141.6V39.2H142.4V39.8H143.2V23.5H144.0V26.9H144.8V25.3H145.6V34.4H146.4V33.8H147.2V33.2H148.0V33.7H148.8V38.9H149.6V33.3H150.4V31.1H151.2V26.9H152.0V33.4H152.8V26.6H153.6V41.3H154.4V24.3H155.2V28.6H156.0V31.5H156.8V30.1H157.6V40.5H158.4V31.1H159.2V36.0H160.0V36.7H160.8V29.8H161.6V29.4H162.4V34.5H163.2V37.7H164.0V39.7H164.8V36.8H165.6V38.7H166.4V34.2H167.2V36.4H168.0V36.6H168.8V32.5H169.6V26.2H170.4V28.0H171.2V43.8H170.4V43.7H169.6V42.1H168.8V40.7H168.0V40.5H167.2V42.7H166.4V41.0H165.6V41.8H164.8V43.9H164.0V43.3H163.2V40.5H162.4V43.8H161.6V40.7H160.8V42.0H160.0V41.7H159.2V43.3H158.4V43.6H157.6V42.1H156.8V47.5H156.0V42.2H155.2V42.8H154.4V44.0H153.6V40.8H152.8V45.1H152.0V44.2H151.2V44.8H150.4V40.9H149.6V42.2H148.8V41.0H148.0V45.0H147.2V42.4H146.4V41.4H145.6V41.0H144.8V43.5H144.0V42.5H143.2V46.9H142.4V43.8H141.6V41.9H140.8V40.5H140.0V42.4H139.2V41.7H138.4V41.2H137.6V40.6H136.8V47.0H136.0V42.1H135.2V45.3H134.4V43.1H133.6V41.1H132.8V43.4H132.0V40.6H131.2V40.9H130.4V44.4H129.6V41.6H128.8V47.5H128.0V43.1H127.2V42.5H126.4V42.8H125.6V45.2H124.8V42.2H124.0V43.8H123.2V46.6H122.4V44.1H121.6V47.4H120.8V46.1H120.0V46.3H119.2V43.0H118.4V44.5H117.6V44.6H116.8V47.1H116.0V42.8H115.2V46.8H114.4V44.0H113.6V45.6H112.8V45.6H112.0V44.4H111.2V47.0H110.4V48.3H109.6V46.0H108.8V45.0H108.0V45.9H107.2V45.9H106.4V48.5H105.6V46.4H104.8V49.9H104.0V46.3H103.2V46.0H102.4V46.3H101.6V48.0H100.8V49.7H100.0V48.7H99.2V46.2H98.4V52.1H97.6V49.0H96.8V48.2H96.0V46.7H95.2V50.3H94.4V49.3H93.6V47.3H92.8V48.2H92.0V47.4H91.2V49.4H90.4V48.2H89.6V50.5H88.8V48.0H88.0V48.8H87.2V49.8H86.4V48.0H85.6V50.2H84.8V50.9H84.0V50.7H83.2V51.7H82.4V49.3H81.6V46.0H80.8V48.7H80.0V48.5H79.2V52.0H78.4V49.8H77.6V47.5H76.8V50.2H76.0V48.2H75.2V48.2H74.4V47.3H73.6V49.3H72.8V50.7H72.0V49.9H71.2V50.8H70.4V49.4H69.6V50.6H68.8V47.7H68.0V49.9H67.2V47.0H66.4V47.8H65.6V47.8H64.8V48.5H64.0V46.9H63.2V49.6H62.4V50.9H61.6V47.6H60.8V52.5H60.0V47.9H59.2V47.2H58.4V47.9H57.6V48.4H56.8V47.5H56.0V49.9H55.2V48.5H54.4V48.4H53.6V50.7H52.8V50.2H52.0V49.7H51.2V51.3H50.4V46.9H49.6V49.2H48.8V48.3H48.0V51.0H47.2V48.0H46.4V49.5H45.6Z" fill="#000" fill-opacity="0.55"/>
<path d="M45.6,44.1H46.4V41.0H47.2V36.6H48.0V34.4H48.8V37.2H49.6V45.7H50.4V42.8H51.2V46.5H52.0V47.2H52.8V44.9H53.6V45.0H54.4V44.1H55.2V37.3H56.0V41.0H56.8V41.8H57.6V36.7H58.4V45.8H59.2V39.9H60.0V42.6H60.8V46.3H61.6V39.3H62.4V37.9H63.2V35.9H64.0V40.4H64.8V33.0H65.6V40.5H66.4V44.7H67.2V44.5H68.0V45.3H68.8V40.1H69.6V38.2H70.4V34.5H71.2V30.8H72.0V33.9H72.8V46.5H73.6V35.9H74.4V38.8H75.2V46.4H76.0V46.2H76.8V40.6H77.6V46.6H78.4V43.7H79.2V43.1H80.0V35.0H80.8V42.5H81.6V40.7H82.4V40.3H83.2V44.7H84.0V46.2H84.8V41.7H85.6V37.0H86.4V40.7H87.2V45.6H88.0V35.0H88.8V37.4H89.6V35.3H90.4V46.2H91.2V41.6H92.0V34.7H92.8V42.6H93.6V46.9H94.4V45.9H95.2V46.1H96.0V46.5H96.8V45.4H97.6V45.1H98.4V44.5H99.2V41.5H100.0V40.9H100.8V44.4H101.6V44.0H102.4V39.4H103.2V43.5H104.0V40.0H104.8V42.0H105.6V41.1H106.4V38.6H107.2V42.8H108.0V41.0H108.8V42.3H109.6V32.3H110.4V28.2H111.2V36.8H112.0V37.1H112.8V43.0H113.6V25.8H114.4V41.7H115.2V43.3H116.0V23.6H116.8V42.0H117.6V41.5H118.4V41.5H119.2V34.7H120.0V35.5H120.8V27.6H121.6V39.3H122.4V35.7H123.2V38.0H124.0V35.3H124.8V36.1H125.6V33.6H126.4V37.4H127.2V34.1H128.0V34.9H128.8V38.3H129.6V35.6H130.4V32.4H131.2V33.9H132.0V39.2H132.8V32.8H133.6V39.0H134.4V33.9H135.2V35.5H136.0V40.1H136.8V37.2H137.6V40.4H138.4V39.0H139.2V38.1H140.0V21.2H140.8V31.0H141.6V40.1H142.4V41.3H143.2V40.2H144.0V37.0H144.8V39.1H145.6V32.8H146.4V32.3H147.2V40.5H148.0V23.6H148.8V39.9H149.6V38.1H150.4V38.6H151.2V40.4H152.0V32.3H152.8V38.3H153.6V36.8H154.4V30.4H155.2V28.8H156.0V24.8H156.8V32.3H157.6V37.7H158.4V32.1H159.2V32.1H160.0V38.8H160.8V32.7H161.6V32.0H162.4V31.2H163.2V32.1H164.0V35.0H164.8V38.9H165.6V33.6H166.4V37.9H167.2V40.7H168.0V39.6H168.8V36.7H169.6V38.3H170.4V39.9H171.2V44.6H170.4V42.7H169.6V43.4H168.8V44.3H168.0V41.5H167.2V43.1H166.4V43.3H165.6V42.9H164.8V46.3H164.0V43.1H163.2V42.4H162.4V41.9H161.6V40.3H160.8V44.4H160.0V43.7H159.2V42.3H158.4V44.3H157.6V43.7H156.8V45.2H156.0V47.1H155.2V48.5H154.4V46.2H153.6V42.0H152.8V47.9H152.0V45.1H151.2V42.9H150.4V40.9H149.6V40.6H148.8V46.6H148.0V44.2H147.2V42.6H146.4V46.9H145.6V43.8H144.8V45.2H144.0V45.7H143.2V41.6H142.4V42.2H141.6V44.0H140.8V42.5H140.0V43.6H139.2V45.2H138.4V48.1H137.6V43.3H136.8V41.7H136.0V41.5H135.2V45.0H134.4V43.6H133.6V43.8H132.8V45.5H132.0V43.7H131.2V45.4H130.4V44.8H129.6V44.5H128.8V47.1H128.0V44.7H127.2V43.0H126.4V44.1H125.6V42.2H124.8V43.3H124.0V49.3H123.2V42.5H122.4V43.9H121.6V41.8H120.8V45.2H120.0V45.0H119.2V44.6H118.4V43.6H117.6V43.0H116.8V43.7H116.0V44.1H115.2V45.2H114.4V46.9H113.6V45.8H112.8V46.3H112.0V44.8H111.2V48.6H110.4V47.0H109.6V51.8H108.8V46.9H108.0V45.5H107.2V51.1H106.4V46.9H105.6V51.8H104.8V49.4H104.0V47.8H103.2V46.6H102.4V50.3H101.6V49.0H100.8V49.8H100.0V47.8H99.2V50.7H98.4V49.7H97.6V47.7H96.8V50.4H96.0V49.8H95.2V47.7H94.4V50.8H93.6V49.7H92.8V49.3H92.0V48.9H91.2V50.1H90.4V50.9H89.6V46.9H88.8V46.8H88.0V50.1H87.2V53.5H86.4V46.0H85.6V48.4H84.8V47.5H84.0V52.4H83.2V49.2H82.4V49.0H81.6V48.0H80.8V51.2H80.0V48.4H79.2V49.5H78.4V48.7H77.6V52.4H76.8V47.8H76.0V49.4H75.2V48.4H74.4V48.7H73.6V49.0H72.8V49.1H72.0V47.1H71.2V51.1H70.4V48.8H69.6V50.3H68.8V48.6H68.0V49.9H67.2V49.4H66.4V51.6H65.6V54.8H64.8V49.7H64.0V50.0H63.2V48.6H62.4V47.6H61.6V47.5H60.8V51.6H60.0V51.3H59.2V50.6H58.4V54.2H57.6V49.5H56.8V51.0H56.0V49.0H55.2V48.8H54.4V49.1H53.6V49.0H52.8V48.0H52.0V51.8H51.2V49.7H50.4V47.8H49.6V49.5H48.8V47.8H48.0V49.8H47.2V50.5H46.4V52.4H45.6Z" fill="#000" fill-opacity="0.55"/>
<path d="M45.6,44.2H46.4V32.1H47.2V44.8H48.0V42.7H48.8V36.9H49.6V36.9H50.4V38.9H51.2V38.7H52.0V34.9H52.8V39.5H53.6V38.7H54.4V36.3H55.2V36.4H56.0V43.5H56.8V35.2H57.6V31.2H58.4V36.7H59.2V39.2H60.0V37.2H60.8V43.0H61.6V41.0H62.4V35.4H63.2V38.6H64.0V41.9H64.8V37.8H65.6V41.8H66.4V38.6H67.2V40.3H68.0V38.7H68.8V39.8H69.6V36.1H70.4V39.5H71.2V31.8H72.0V44.7H72.8V33.3H73.6V34.9H74.4V34.7H75.2V32.7H76.0V42.9H76.8V40.4H77.6V45.2H78.4V41.2H79.2V43.4H80.0V38.3H80.8V35.4H81.6V37.0H82.4V45.5H83.2V40.9H84.0V44.5H84.8V42.8H85.6V44.8H86.4V44.9H87.2V42.3H88.0V40.3H88.8V41.2H89.6V42.9H90.4V33.5H91.2V33.0H92.0V32.2H92.8V35.1H93.6V40.2H94.4V39.1H95.2V37.8H96.0V35.5H96.8V36.1H97.6V40.2H98.4V30.9H99.2V36.6H100.0V41.3H100.8V35.6H101.6V42.5H102.4V36.7H103.2V43.3H104.0V38.1H104.8V32.4H105.6V37.8H106.4V42.8H107.2V30.6H108.0V30.9H108.8V37.0H109.6V40.9H110.4V31.2H111.2V42.0H112.0V38.1H112.8V38.6H113.6V42.1H114.4V38.3H115.2V41.2H116.0V40.0H116.8V41.3H117.6V41.6H118.4V40.4H119.2V38.6H120.0V33.1H120.8V36.3H121.6V40.0H122.4V30.4H123.2V38.9H124.0V36.2H124.8V40.3H125.6V37.9H126.4V37.7H127.2V29.1H128.0V34.8H128.8V25.1H129.6V31.1H130.4V33.0H131.2V25.5H132.0V25.9H132.8V29.9H133.6V22.8H134.4V27.5H135.2V36.7H136.0V38.2H136.8V38.9H137.6V29.1H138.4V33.5H139.2V35.4H140.0V30.4H140.8V26.7H141.6V20.0H142.4V25.6H143.2V38.9H144.0V35.7H144.8V30.5H145.6V27.5H146.4V21.7H147.2V20.4H148.0V29.8H148.8V38.1H149.6V36.3H150.4V39.2H151.2V36.9H152.0V37.4H152.8V31.8H153.6V31.9H154.4V22.8H155.2V34.3H156.0V23.7H156.8V28.0H157.6V33.8H158.4V36.6H159.2V35.2H160.0V32.2H160.8V28.1H161.6V28.4H162.4V27.6H163.2V20.5H164.0V38.8H164.8V21.0H165.6V25.1H166.4V34.8H167.2V34.6H168.0V34.7H168.8V38.5H169.6V37.4H170.4V39.7H171.2V41.4H170.4V40.1H169.6V41.6H168.8V40.3H168.0V41.2H167.2V43.6H166.4V40.9H165.6V40.0H164.8V40.7H164.0V40.1H163.2V45.7H162.4V41.9H161.6V42.1H160.8V39.3H160.0V40.0H159.2V44.1H158.4V39.3H157.6V40.1H156.8V39.8H156.0V42.8H155.2V45.3H154.4V42.2H153.6V42.0H152.8V40.7H152.0V43.4H151.2V43.4H150.4V40.6H149.6V43.7H148.8V44.0H148.0V40.8H147.2V40.4H146.4V40.1H145.6V40.7H144.8V40.2H144.0V40.7H143.2V42.0H142.4V39.9H141.6V39.3H140.8V43.0H140.0V44.6H139.2V41.0H138.4V43.7H137.6V44.5H136.8V43.0H136.0V44.0H135.2V43.5H134.4V40.9H133.6V41.5H132.8V40.7H132.0V39.7H131.2V41.9H130.4V43.6H129.6V42.7H128.8V47.0H128.0V40.3H127.2V39.7H126.4V40.1H125.6V42.5H124.8V44.6H124.0V44.0H123.2V42.2H122.4V42.9H121.6V41.3H120.8V42.3H120.0V42.6H119.2V46.6H118.4V47.0H117.6V45.2H116.8V46.8H116.0V45.3H115.2V44.2H114.4V42.8H113.6V46.1H112.8V45.0H112.0V45.6H111.2V45.4H110.4V45.7H109.6V45.4H108.8V46.7H108.0V43.7H107.2V46.7H106.4V45.4H105.6V45.6H104.8V45.8H104.0V45.5H103.2V45.2H102.4V46.1H101.6V46.8H100.8V45.0H100.0V46.5H99.2V47.6H98.4V46.2H97.6V47.2H96.8V48.8H96.0V44.9H95.2V46.0H94.4V45.3H93.6V44.5H92.8V46.1H92.0V44.9H91.2V49.1H90.4V51.2H89.6V46.4H88.8V45.1H88.0V46.9H87.2V48.6H86.4V47.1H85.6V48.6H84.8V46.7H84.0V46.6H83.2V51.9H82.4V52.4H81.6V45.9H80.8V46.7H80.0V44.7H79.2V45.1H78.4V45.6H77.6V46.1H76.8V49.7H76.0V46.6H75.2V46.2H74.4V46.3H73.6V51.5H72.8V48.6H72.0V50.1H71.2V48.1H70.4V48.3H69.6V45.5H68.8V46.0H68.0V48.4H67.2V49.9H66.4V47.2H65.6V46.7H64.8V45.6H64.0V45.7H63.2V50.4H62.4V48.4H61.6V49.8H60.8V47.3H60.0V46.5H59.2V50.8H58.4V47.9H57.6V48.3H56.8V48.8H56.0V46.7H55.2V47.3H54.4V47.2H53.6V47.0H52.8V46.5H52.0V46.9H51.2V47.8H50.4V46.6H49.6V46.5H48.8V46.5H48.0V47.7H47.2V48.2H46.4V46.8H45.6Z" fill="#000" fill-opacity="0.55"/>
<path d="M45.6,46.4H46.4V39.2H47.2V44.6H48.0V39.0H48.8V38.6H49.6V41.2H50.4V38.5H51.2V40.3H52.0V42.0H52.8V41.9H53.6V43.9H54.4V41.4H55.2V43.8H56.0V44.0H56.8V32.3H57.6V35.3H58.4V36.3H59.2V33.8H60.0V27.3H60.8V34.1H61.6V43.0H62.4V31.9H63.2V45.4H64.0V43.5H64.8V32.1H65.6V27.0H66.4V46.1H67.2V42.4H68.0V38.4H68.8V41.6H69.6V43.8H70.4V45.7H71.2V37.8H72.0V33.4H72.8V45.5H73.6V35.9H74.4V45.3H75.2V44.3H76.0V43.5H76.8V44.9H77.6V45.2H78.4V40.9H79.2V41.3H80.0V42.9H80.8V44.6H81.6V44.8H82.4V45.9H83.2V42.1H84.0V43.2H84.8V33.4H85.6V43.8H86.4V40.6H87.2V33.3H88.0V33.3H88.8V32.2H89.6V32.1H90.4V40.2H91.2V40.4H92.0V46.6H92.8V44.4H93.6V40.1H94.4V42.4H95.2V44.8H96.0V40.5H96.8V42.3H97.6V45.2H98.4V38.9H99.2V37.8H100.0V44.7H100.8V39.6H101.6V39.3H102.4V37.9H103.2V41.8H104.0V37.1H104.8V44.0H105.6V43.4H106.4V43.1H107.2V42.9H108.0V39.6H108.8V44.0H109.6V40.3H110.4V36.4H111.2V36.3H112.0V32.8H112.8V34.6H113.6V41.3H114.4V35.5H115.2V32.9H116.0V32.7H116.8V41.3H117.6V39.5H118.4V36.2H119.2V40.6H120.0V37.3H120.8V33.9H121.6V41.9H122.4V32.8H123.2V35.4H124.0V39.1H124.8V32.2H125.6V36.2H126.4V37.1H127.2V36.0H128.0V32.6H128.8V38.0H129.6V34.8H130.4V28.5H131.2V32.7H132.0V37.3H132.8V37.9H133.6V34.9H134.4V33.9H135.2V37.1H136.0V39.7H136.8V37.1H137.6V32.5H138.4V31.8H139.2V40.9H140.0V40.6H140.8V40.2H141.6V37.4H142.4V36.5H143.2V38.5H144.0V35.0H144.8V33.4H145.6V39.2H146.4V40.4H147.2V39.7H148.0V39.0H148.8V36.8H149.6V36.9H150.4V30.6H151.2V39.2H152.0V40.5H152.8V28.5H153.6V22.1H154.4V26.4H155.2V30.9H156.0V26.4H156.8V22.5H157.6V38.4H158.4V30.8H159.2V37.0H160.0V38.4H160.8V33.1H161.6V32.5H162.4V27.9H163.2V28.7H164.0V26.7H164.8V31.7H165.6V36.6H166.4V40.7H167.2V40.2H168.0V26.7H168.8V38.3H169.6V35.7H170.4V36.2H171.2V42.2H170.4V41.1H169.6V44.8H168.8V42.0H168.0V42.0H167.2V42.6H166.4V43.8H165.6V42.6H164.8V44.8H164.0V42.3H163.2V41.9H162.4V40.8H161.6V42.0H160.8V40.3H160.0V40.6H159.2V41.3H158.4V41.0H157.6V41.0H156.8V43.7H156.0V41.7H155.2V41.0H154.4V41.8H153.6V43.8H152.8V45.4H152.0V41.5H151.2V44.8H150.4V41.0H149.6V43.8H148.8V44.7H148.0V44.4H147.2V41.9H146.4V39.7H145.6V42.7H144.8V45.8H144.0V44.5H143.2V42.3H142.4V41.4H141.6V43.1H140.8V46.0H140.0V41.8H139.2V42.4H138.4V42.9H137.6V47.1H136.8V46.8H136.0V41.1H135.2V41.7H134.4V42.2H133.6V43.9H132.8V40.9H132.0V41.7H131.2V41.4H130.4V42.5H129.6V43.3H128.8V44.5H128.0V43.1H127.2V43.4H126.4V45.1H125.6V43.1H124.8V45.3H124.0V43.1H123.2V42.0H122.4V42.4H121.6V44.7H120.8V48.9H120.0V43.8H119.2V42.2H118.4V44.6H117.6V42.7H116.8V46.0H116.0V48.9H115.2V46.6H114.4V46.8H113.6V44.7H112.8V45.3H112.0V44.3H111.2V48.6H110.4V48.0H109.6V45.5H108.8V47.7H108.0V46.1H107.2V44.2H106.4V44.9H105.6V48.0H104.8V49.1H104.0V47.4H103.2V51.7H102.4V46.9H101.6V47.1H100.8V48.7H100.0V52.1H99.2V47.8H98.4V49.5H97.6V47.3H96.8V47.3H96.0V47.5H95.2V49.3H94.4V49.0H93.6V46.6H92.8V49.0H92.0V49.2H91.2V48.5H90.4V47.8H89.6V46.2H88.8V48.0H88.0V45.7H87.2V50.0H86.4V48.3H85.6V46.8H84.8V51.2H84.0V47.3H83.2V50.3H82.4V49.6H81.6V47.1H80.8V50.8H80.0V47.5H79.2V45.9H78.4V48.0H77.6V47.5H76.8V47.2H76.0V46.9H75.2V48.1H74.4V49.0H73.6V46.9H72.8V49.9H72.0V48.1H71.2V47.2H70.4V48.2H69.6V46.1H68.8V50.6H68.0V49.5H67.2V50.2H66.4V49.6H65.6V47.3H64.8V49.9H64.0V53.7H63.2V51.0H62.4V51.9H61.6V47.0H60.8V47.2H60.0V48.0H59.2V47.8H58.4V48.1H57.6V47.4H56.8V49.3H56.0V48.6H55.2V48.2H54.4V52.2H53.6V46.6H52.8V48.6H52.0V46.9H51.2V48.8H50.4V51.1H49.6V48.8H48.8V49.0H48.0V51.1H47.2V51.0H46.4V50.9H45.6Z" fill="#000" fill-opacity="0.55"/>
<path d="M45.6,48.0H46.4V38.0H47.2V45.1H48.0V45.4H48.8V35.5H49.6V47.0H50.4V37.3H51.2V48.3H52.0V46.9H52.8V41.5H53.6V44.9H54.4V49.0H55.2V48.1H56.0V46.3H56.8V47.8H57.6V42.6H58.4V39.1H59.2V45.7H60.0V46.0H60.8V37.5H61.6V39.5H62.4V47.3H63.2V44.0H64.0V44.4H64.8V38.1H65.6V40.1H66.4V46.2H67.2V36.0H68.0V41.8H68.8V39.1H69.6V37.7H70.4V41.5H71.2V34.7H72.0V35.4H72.8V44.7H73.6V37.0H74.4V47.2H75.2V39.8H76.0V45.6H76.8V43.4H77.6V39.2H78.4V40.4H79.2V44.1H80.0V46.9H80.8V43.7H81.6V39.1H82.4V44.0H83.2V47.0H84.0V44.5H84.8V45.4H85.6V44.5H86.4V46.3H87.2V46.0H88.0V34.0H88.8V41.3H89.6V33.9H90.4V45.4H91.2V44.5H92.0V45.1H92.8V47.2H93.6V42.8H94.4V46.2H95.2V43.6H96.0V41.3H96.8V43.7H97.6V46.6H98.4V47.7H99.2V45.0H100.0V46.8H100.8V47.3H101.6V47.6H102.4V43.2H103.2V45.9H104.0V36.7H104.8V36.7H105.6V46.9H106.4V46.5H107.2V37.1H108.0V45.3H108.8V38.0H109.6V40.9H110.4V34.9H111.2V36.9H112.0V44.1H112.8V32.5H113.6V42.2H114.4V39.6H115.2V42.5H116.0V37.3H116.8V28.4H117.6V38.6H118.4V40.7H119.2V42.9H120.0V35.9H120.8V42.6H121.6V41.1H122.4V41.2H123.2V35.1H124.0V35.7H124.8V30.5H125.6V29.6H126.4V41.8H127.2V33.9H128.0V37.4H128.8V39.3H129.6V26.0H130.4V40.0H131.2V37.3H132.0V33.9H132.8V31.7H133.6V26.7H134.4V27.1H135.2V36.2H136.0V42.7H136.8V35.9H137.6V39.8H138.4V39.9H139.2V38.1H140.0V41.2H140.8V40.9H141.6V40.3H142.4V39.3H143.2V37.8H144.0V40.5H144.8V27.3H145.6V39.2H146.4V42.7H147.2V36.9H148.0V38.6H148.8V36.3H149.6V37.3H150.4V33.8H151.2V37.5H152.0V42.8H152.8V39.8H153.6V38.1H154.4V41.8H155.2V34.1H156.0V36.9H156.8V42.2H157.6V35.3H158.4V30.4H159.2V35.7H160.0V37.2H160.8V26.1H161.6V31.5H162.4V26.3H163.2V37.0H164.0V36.1H164.8V39.7H165.6V38.6H166.4V41.0H167.2V30.4H168.0V29.0H168.8V40.5H169.6V23.4H170.4V37.7H171.2V42.3H170.4V42.9H169.6V45.3H168.8V46.4H168.0V44.7H167.2V44.3H166.4V42.2H165.6V46.2H164.8V44.9H164.0V44.6H163.2V42.5H162.4V44.2H161.6V43.6H160.8V43.3H160.0V43.6H159.2V45.1H158.4V45.2H157.6V44.0H156.8V42.9H156.0V44.6H155.2V45.9H154.4V47.3H153.6V46.4H152.8V44.7H152.0V44.0H151.2V46.1H150.4V43.7H149.6V46.3H148.8V45.8H148.0V44.7H147.2V44.5H146.4V48.2H145.6V43.9H144.8V44.5H144.0V45.4H143.2V47.7H142.4V46.8H141.6V45.4H140.8V50.4H140.0V46.0H139.2V44.4H138.4V44.0H137.6V46.4H136.8V47.5H136.0V50.8H135.2V46.6H134.4V48.3H133.6V45.2H132.8V48.5H132.0V46.0H131.2V43.7H130.4V44.4H129.6V44.1H128.8V50.4H128.0V46.3H127.2V46.5H126.4V50.1H125.6V44.1H124.8V47.0H124.0V44.6H123.2V43.0H122.4V45.0H121.6V44.0H120.8V45.3H120.0V45.9H119.2V44.7H118.4V45.4H117.6V46.2H116.8V45.1H116.0V45.6H115.2V46.6H114.4V47.9H113.6V46.5H112.8V48.3H112.0V50.6H111.2V46.4H110.4V46.8H109.6V48.4H108.8V47.2H108.0V48.0H107.2V49.4H106.4V48.5H105.6V51.8H104.8V47.4H104.0V47.8H103.2V47.7H102.4V47.9H101.6V48.8H100.8V50.7H100.0V51.8H99.2V49.6H98.4V50.4H97.6V50.2H96.8V49.6H96.0V50.9H95.2V50.4H94.4V48.9H93.6V53.0H92.8V49.1H92.0V49.5H91.2V50.0H90.4V50.9H89.6V48.6H88.8V50.2H88.0V53.4H87.2V51.2H86.4V49.4H85.6V48.0H84.8V50.3H84.0V48.3H83.2V54.2H82.4V52.5H81.6V50.1H80.8V50.1H80.0V50.2H79.2V53.8H78.4V49.4H77.6V49.5H76.8V50.6H76.0V49.9H75.2V47.5H74.4V55.2H73.6V52.5H72.8V50.1H72.0V51.8H71.2V49.3H70.4V52.1H69.6V49.8H68.8V50.0H68.0V53.3H67.2V50.1H66.4V51.0H65.6V50.0H64.8V49.0H64.0V48.3H63.2V51.9H62.4V48.2H61.6V53.2H60.8V51.7H60.0V50.9H59.2V48.0H58.4V50.8H57.6V51.5H56.8V51.8H56.0V56.2H55.2V52.5H54.4V51.6H53.6V48.3H52.8V50.7H52.0V52.5H51.2V50.3H50.4V54.5H49.6V53.9H48.8V51.2H48.0V49.9H47.2V50.9H46.4V49.5H45.6Z" fill="#000" fill-opacity="0.55"/>
<path d="M45.6,66.0 46.6,63.0 47.6,64.5 48.6,64.5 49.6,64.7 50.6,70.0 51.6,63.8 52.6,63.8 53.6,63.4 54.6,67.1 55.6,63.5 56.6,64.3 57.6,66.7 58.6,66.4 59.6,62.0 60.6,69.0 61.6,65.1 62.6,66.8 63.6,65.2 64.6,68.7 65.6,63.5 66.6,62.8 67.6,65.4 68.6,67.9 69.6,64.3 70.6,66.6 71.6,68.3 72.6,60.8 73.6,67.8 74.6,67.2 75.6,63.1 76.6,64.2 77.6,63.2 78.6,66.4 79.6,62.8 80.6,66.0 81.6,67.8 82.6,59.9 83.6,65.4 84.6,64.1 85.6,63.1 86.6,65.4 87.6,64.0 88.6,60.4 89.6,62.8 90.6,64.2 91.6,62.4 92.6,60.9 93.6,70.4 94.6,67.8 95.6,67.5 96.6,64.5 97.6,59.0 98.6,63.5 99.6,65.5 100.6,63.0 101.6,62.7 102.6,65.0 103.6,69.5 104.6,64.9 105.6,64.5 106.6,62.4 107.6,68.0 108.6,65.1 109.6,64.2 110.6,63.5 111.6,62.9 112.6,64.9 113.6,69.6 114.6,64.6 115.6,65.8 116.6,62.5 117.6,65.2 118.6,60.9 119.6,68.1 120.6,63.1 121.6,65.7 122.6,64.8 123.6,68.1 124.6,66.0 125.6,66.1 126.6,60.4 127.6,61.7 128.6,61.6 129.6,61.7 130.6,62.0 131.6,66.3 132.6,63.9 133.6,64.0 134.6,61.7 135.6,61.6 136.6,60.5 137.6,66.6 138.6,64.2 139.6,65.7 140.6,64.4 141.6,61.6 142.6,63.7 143.6,58.4 144.6,65.6 145.6,63.9 146.6,64.3 147.6,64.0 148.6,65.3 149.6,63.2 150.6,63.8 151.6,62.0 152.6,63.1 153.6,64.5 154.6,66.0 155.6,62.7 156.6,60.2 157.6,59.0 158.6,63.0 159.6,61.8 160.6,65.1 161.6,67.7 162.6,61.6 163.6,66.9 164.6,66.7 165.6,61.2 166.6,62.5 167.6,65.4 168.6,61.6 169.6,61.1 170.6,65.6" fill="none" stroke="#111" stroke-width="0.7"/>
<path d="M45.6,61.8 46.6,65.1 47.6,63.8 48.6,64.1 49.6,67.2 50.6,66.9 51.6,59.3 52.6,66.0 53.6,63.6 54.6,64.5 55.6,65.7 56.6,68.2 57.6,65.6 58.6,63.3 59.6,64.7 60.6,59.8 61.6,64.9 62.6,64.1 63.6,60.6 64.6,60.0 65.6,60.1 66.6,61.4 67.6,64.8 68.6,63.0 69.6,61.7 70.6,62.7 71.6,66.5 72.6,62.6 73.6,61.3 74.6,68.8 75.6,61.2 76.6,64.5 77.6,65.5 78.6,63.7 79.6,62.7 80.6,66.4 81.6,63.6 82.6,64.8 83.6,63.1 84.6,67.3 85.6,61.0 86.6,60.1 87.6,61.1 88.6,62.9 89.6,62.6 90.6,63.5 91.6,61.6 92.6,64.3 93.6,59.7 94.6,60.1 95.6,62.5 96.6,61.4 97.6,61.1 98.6,61.6 99.6,61.3 100.6,63.7 101.6,64.8 102.6,66.1 103.6,63.4 104.6,61.3 105.6,60.4 106.6,60.4 107.6,59.1 108.6,64.5 109.6,67.2 110.6,62.7 111.6,63.6 112.6,57.5 113.6,62.8 114.6,61.4 115.6,63.1 116.6,60.9 117.6,61.1 118.6,60.8 119.6,61.3 120.6,67.9 121.6,64.6 122.6,59.3 123.6,62.3 124.6,62.0 125.6,67.9 126.6,58.4 127.6,64.4 128.6,64.9 129.6,68.1 130.6,67.0 131.6,62.4 132.6,58.9 133.6,60.3 134.6,61.1 135.6,62.3 136.6,61.1 137.6,59.4 138.6,64.3 139.6,63.1 140.6,61.8 141.6,61.5 142.6,61.1 143.6,60.2 144.6,69.0 145.6,61.9 146.6,61.2 147.6,66.4 148.6,61.8 149.6,63.4 150.6,60.2 151.6,61.7 152.6,58.1 153.6,63.8 154.6,67.8 155.6,63.3 156.6,63.6 157.6,65.6 158.6,65.5 159.6,60.4 160.6,60.7 161.6,61.8 162.6,65.8 163.6,59.7 164.6,61.2 165.6,62.0 166.6,62.6 167.6,63.1 168.6,61.6 169.6,65.6 170.6,60.7" fill="none" stroke="#111" stroke-width="0.7"/>
<path d="M45.6,55.1H46.4V45.7H47.2V53.4H48.0V49.2H48.8V55.1H49.6V50.6H50.4V54.3H51.2V52.8H52.0V55.7H52.8V49.6H53.6V54.1H54.4V56.2H55.2V55.1H56.0V52.0H56.8V51.6H57.6V49.7H58.4V53.0H59.2V53.6H60.0V48.6H60.8V55.8H61.6V55.5H62.4V49.4H63.2V55.2H64.0V54.8H64.8V55.0H65.6V53.1H66.4V54.7H67.2V53.5H68.0V56.0H68.8V53.9H69.6V56.5H70.4V52.8H71.2V51.7H72.0V53.0H72.8V51.3H73.6V48.5H74.4V49.6H75.2V54.0H76.0V56.1H76.8V52.7H77.6V52.7H78.4V55.7H79.2V54.7H80.0V55.9H80.8V44.7H81.6V49.0H82.4V53.8H83.2V53.9H84.0V51.3H84.8V54.9H85.6V53.9H86.4V51.0H87.2V54.1H88.0V51.7H88.8V51.4H89.6V49.4H90.4V50.4H91.2V54.6H92.0V50.8H92.8V52.6H93.6V54.8H94.4V54.2H95.2V54.2H96.0V53.6H96.8V50.6H97.6V52.1H98.4V51.6H99.2V55.8H100.0V45.2H100.8V52.2H101.6V54.9H102.4V55.0H103.2V54.0H104.0V54.3H104.8V53.4H105.6V55.2H106.4V55.9H107.2V53.3H108.0V46.2H108.8V53.2H109.6V53.8H110.4V51.4H111.2V49.4H112.0V54.0H112.8V48.4H113.6V55.5H114.4V49.3H115.2V54.5H116.0V54.2H116.8V54.9H117.6V54.3H118.4V53.3H119.2V53.4H120.0V46.6H120.8V50.7H121.6V52.3H122.4V54.1H123.2V55.2H124.0V53.9H124.8V53.6H125.6V54.6H126.4V47.3H127.2V47.3H128.0V53.6H128.8V53.7H129.6V53.8H130.4V54.1H131.2V54.7H132.0V53.1H132.8V45.9H133.6V54.5H134.4V52.0H135.2V53.2H136.0V50.9H136.8V48.6H137.6V53.7H138.4V53.5H139.2V53.4H140.0V55.1H140.8V51.1H141.6V53.7H142.4V53.6H143.2V55.4H144.0V55.6H144.8V54.0H145.6V49.2H146.4V53.7H147.2V51.8H148.0V53.6H148.8V54.6H149.6V51.3H150.4V55.9H151.2V53.7H152.0V46.4H152.8V51.3H153.6V49.0H154.4V53.4H155.2V52.6H156.0V49.4H156.8V54.5H157.6V53.0H158.4V53.4H159.2V53.3H160.0V52.7H160.8V53.3H161.6V52.7H162.4V54.2H163.2V51.0H164.0V52.7H164.8V54.7H165.6V48.1H166.4V52.8H167.2V53.6H168.0V52.5H168.8V54.5H169.6V52.2H170.4V51.9H171.2V58.3H170.4V62.0H169.6V58.0H168.8V56.2H168.0V61.5H167.2V58.7H166.4V59.1H165.6V56.4H164.8V60.0H164.0V58.5H163.2V55.4H162.4V59.2H161.6V56.4H160.8V54.9H160.0V56.2H159.2V57.9H158.4V61.5H157.6V58.2H156.8V60.2H156.0V55.2H155.2V57.4H154.4V66.8H153.6V58.1H152.8V55.7H152.0V60.6H151.2V58.7H150.4V62.3H149.6V57.9H148.8V56.8H148.0V57.6H147.2V58.3H146.4V57.7H145.6V55.8H144.8V60.7H144.0V56.1H143.2V57.0H142.4V59.9H141.6V59.7H140.8V58.8H140.0V61.9H139.2V58.8H138.4V56.0H137.6V56.0H136.8V55.5H136.0V56.6H135.2V58.6H134.4V61.1H133.6V56.7H132.8V57.2H132.0V56.5H131.2V58.7H130.4V57.6H129.6V56.1H128.8V58.4H128.0V57.8H127.2V56.4H126.4V58.9H125.6V56.2H124.8V63.1H124.0V57.6H123.2V61.0H122.4V65.0H121.6V57.0H120.8V55.5H120.0V57.6H119.2V58.8H118.4V57.5H117.6V61.9H116.8V60.1H116.0V64.9H115.2V60.5H114.4V59.0H113.6V58.3H112.8V60.5H112.0V57.6H111.2V56.0H110.4V57.3H109.6V62.9H108.8V56.0H108.0V58.7H107.2V61.3H106.4V58.8H105.6V59.0H104.8V62.4H104.0V60.2H103.2V61.2H102.4V60.1H101.6V58.4H100.8V57.5H100.0V61.6H99.2V57.0H98.4V59.5H97.6V56.5H96.8V60.6H96.0V55.8H95.2V57.4H94.4V58.1H93.6V58.3H92.8V62.2H92.0V60.5H91.2V64.2H90.4V65.4H89.6V62.3H88.8V57.4H88.0V57.1H87.2V62.7H86.4V58.0H85.6V58.3H84.8V56.6H84.0V64.0H83.2V57.6H82.4V56.8H81.6V58.7H80.8V60.0H80.0V57.7H79.2V59.0H78.4V59.8H77.6V62.0H76.8V57.8H76.0V57.2H75.2V56.9H74.4V62.8H73.6V57.7H72.8V58.0H72.0V59.9H71.2V58.4H70.4V57.7H69.6V57.1H68.8V57.2H68.0V57.7H67.2V57.6H66.4V58.7H65.6V58.6H64.8V58.4H64.0V57.3H63.2V59.0H62.4V57.0H61.6V56.8H60.8V66.1H60.0V57.8H59.2V56.4H58.4V59.5H57.6V63.9H56.8V58.1H56.0V62.2H55.2V59.4H54.4V59.7H53.6V57.6H52.8V60.7H52.0V59.2H51.2V57.7H50.4V60.0H49.6V59.5H48.8V60.2H48.0V58.0H47.2V60.5H46.4V61.5H45.6Z" fill="#000" fill-opacity="0.35"/>
<path d="M45.6,55.0H46.4V57.6H47.2V54.9H48.0V54.8H48.8V56.1H49.6V57.3H50.4V56.0H51.2V58.3H52.0V57.2H52.8V56.3H53.6V54.8H54.4V58.0H55.2V54.3H56.0V54.6H56.8V49.2H57.6V56.0H58.4V52.1H59.2V53.4H60.0V52.0H60.8V54.5H61.6V52.9H62.4V51.2H63.2V51.2H64.0V57.2H64.8V57.0H65.6V52.2H66.4V55.3H67.2V53.8H68.0V51.6H68.8V56.3H69.6V55.7H70.4V55.7H71.2V52.5H72.0V56.8H72.8V55.1H73.6V53.6H74.4V52.4H75.2V57.0H76.0V57.0H76.8V55.9H77.6V52.6H78.4V55.4H79.2V49.4H80.0V54.9H80.8V56.5H81.6V56.6H82.4V55.8H83.2V51.8H84.0V57.8H84.8V55.1H85.6V54.8H86.4V55.9H87.2V57.0H88.0V54.1H88.8V57.9H89.6V56.4H90.4V57.2H91.2V57.2H92.0V54.3H92.8V54.6H93.6V55.3H94.4V55.9H95.2V52.6H96.0V54.6H96.8V55.0H97.6V55.5H98.4V55.7H99.2V54.1H100.0V57.6H100.8V50.8H101.6V54.6H102.4V55.8H103.2V55.2H104.0V53.8H104.8V56.6H105.6V56.1H106.4V57.2H107.2V56.0H108.0V56.6H108.8V56.7H109.6V52.3H110.4V51.8H111.2V55.7H112.0V53.6H112.8V51.5H113.6V55.4H114.4V50.9H115.2V48.7H116.0V55.5H116.8V56.9H117.6V54.2H118.4V52.2H119.2V53.1H120.0V56.0H120.8V54.3H121.6V52.0H122.4V52.0H123.2V55.1H124.0V55.6H124.8V48.3H125.6V43.8H126.4V55.6H127.2V55.2H128.0V53.5H128.8V55.8H129.6V55.5H130.4V48.8H131.2V55.7H132.0V57.2H132.8V54.9H133.6V56.6H134.4V56.0H135.2V56.5H136.0V55.8H136.8V56.2H137.6V57.0H138.4V53.5H139.2V50.7H140.0V55.4H140.8V54.2H141.6V56.4H142.4V53.1H143.2V55.5H144.0V56.5H144.8V56.3H145.6V48.9H146.4V50.9H147.2V54.7H148.0V55.0H148.8V48.2H149.6V55.1H150.4V53.5H151.2V56.5H152.0V53.7H152.8V56.7H153.6V56.4H154.4V51.6H155.2V53.9H156.0V50.9H156.8V56.2H157.6V56.2H158.4V53.0H159.2V48.6H160.0V56.5H160.8V54.1H161.6V56.1H162.4V55.7H163.2V48.1H164.0V54.2H164.8V55.8H165.6V55.8H166.4V56.0H167.2V56.5H168.0V53.5H168.8V56.8H169.6V54.2H170.4V56.2H171.2V58.5H170.4V57.4H169.6V61.0H168.8V59.2H168.0V59.7H167.2V57.3H166.4V56.9H165.6V61.0H164.8V59.3H164.0V59.0H163.2V59.5H162.4V62.6H161.6V58.7H160.8V60.5H160.0V57.3H159.2V58.4H158.4V58.4H157.6V63.6H156.8V56.6H156.0V59.0H155.2V61.2H154.4V62.8H153.6V58.7H152.8V57.3H152.0V59.7H151.2V60.0H150.4V57.9H149.6V59.2H148.8V57.3H148.0V56.8H147.2V59.0H146.4V59.7H145.6V63.3H144.8V57.4H144.0V57.1H143.2V62.7H142.4V57.3H141.6V58.6H140.8V62.2H140.0V57.6H139.2V59.4H138.4V58.0H137.6V60.1H136.8V61.7H136.0V60.4H135.2V62.8H134.4V61.9H133.6V60.4H132.8V60.8H132.0V62.6H131.2V57.6H130.4V57.8H129.6V61.2H128.8V62.9H128.0V57.5H127.2V68.0H126.4V61.0H125.6V57.8H124.8V59.2H124.0V56.2H123.2V56.1H122.4V57.1H121.6V59.6H120.8V62.6H120.0V62.2H119.2V59.5H118.4V57.9H117.6V60.0H116.8V59.1H116.0V61.3H115.2V59.8H114.4V61.2H113.6V58.5H112.8V61.0H112.0V60.4H111.2V58.3H110.4V60.0H109.6V62.7H108.8V60.1H108.0V63.5H107.2V60.0H106.4V60.9H105.6V59.4H104.8V62.8H104.0V61.1H103.2V63.2H102.4V61.4H101.6V59.0H100.8V59.0H100.0V68.0H99.2V59.5H98.4V59.4H97.6V72.5H96.8V58.2H96.0V59.0H95.2V64.1H94.4V63.8H93.6V67.5H92.8V61.3H92.0V61.0H91.2V63.0H90.4V60.5H89.6V58.3H88.8V61.3H88.0V63.2H87.2V67.5H86.4V61.7H85.6V64.8H84.8V64.7H84.0V57.9H83.2V59.1H82.4V62.1H81.6V62.2H80.8V62.2H80.0V62.6H79.2V61.8H78.4V58.3H77.6V59.9H76.8V58.9H76.0V66.0H75.2V60.8H74.4V58.7H73.6V60.6H72.8V61.6H72.0V61.0H71.2V61.9H70.4V58.8H69.6V59.4H68.8V61.6H68.0V60.9H67.2V58.9H66.4V66.3H65.6V63.0H64.8V59.8H64.0V58.8H63.2V59.3H62.4V61.6H61.6V59.1H60.8V62.0H60.0V58.2H59.2V62.5H58.4V59.0H57.6V62.0H56.8V63.2H56.0V66.3H55.2V60.8H54.4V60.6H53.6V59.4H52.8V59.3H52.0V59.2H51.2V61.4H50.4V60.6H49.6V65.8H48.8V62.6H48.0V65.0H47.2V58.5H46.4V58.1H45.6Z" fill="#000" fill-opacity="0.35"/>
<path d="M45.6,50.8H46.4V55.9H47.2V54.4H48.0V55.3H48.8V53.2H49.6V55.7H50.4V58.7H51.2V55.0H52.0V54.8H52.8V55.9H53.6V55.9H54.4V53.1H55.2V54.0H56.0V56.3H56.8V53.0H57.6V51.6H58.4V51.2H59.2V56.0H60.0V53.0H60.8V57.1H61.6V56.1H62.4V53.1H63.2V55.8H64.0V51.1H64.8V53.5H65.6V56.3H66.4V51.8H67.2V51.5H68.0V52.3H68.8V56.8H69.6V56.7H70.4V54.2H71.2V52.3H72.0V52.3H72.8V56.1H73.6V56.6H74.4V56.7H75.2V55.7H76.0V55.5H76.8V52.0H77.6V55.6H78.4V53.9H79.2V57.1H80.0V54.0H80.8V52.5H81.6V56.5H82.4V53.9H83.2V53.1H84.0V52.0H84.8V56.7H85.6V54.6H86.4V56.9H87.2V55.9H88.0V54.7H88.8V51.7H89.6V53.7H90.4V52.4H91.2V54.9H92.0V55.5H92.8V52.0H93.6V51.7H94.4V54.6H95.2V55.9H96.0V55.1H96.8V56.0H97.6V52.8H98.4V53.0H99.2V49.9H100.0V56.2H100.8V54.1H101.6V55.1H102.4V53.0H103.2V55.4H104.0V54.1H104.8V55.8H105.6V53.5H106.4V55.5H107.2V54.2H108.0V52.9H108.8V54.4H109.6V56.1H110.4V55.5H111.2V53.0H112.0V52.1H112.8V54.4H113.6V54.9H114.4V55.1H115.2V50.1H116.0V53.0H116.8V55.5H117.6V49.0H118.4V53.0H119.2V48.6H120.0V46.8H120.8V54.9H121.6V52.9H122.4V54.7H123.2V53.5H124.0V56.3H124.8V46.2H125.6V55.3H126.4V50.2H127.2V54.4H128.0V51.8H128.8V54.6H129.6V55.1H130.4V50.6H131.2V53.1H132.0V49.0H132.8V55.2H133.6V52.0H134.4V56.0H135.2V53.3H136.0V51.2H136.8V51.8H137.6V55.3H138.4V55.7H139.2V52.7H140.0V55.4H140.8V55.1H141.6V52.3H142.4V55.1H143.2V55.8H144.0V53.4H144.8V54.2H145.6V54.3H146.4V49.7H147.2V50.7H148.0V52.8H148.8V52.6H149.6V51.9H150.4V55.1H151.2V55.9H152.0V52.9H152.8V54.1H153.6V50.5H154.4V48.0H155.2V55.8H156.0V55.3H156.8V50.4H157.6V52.4H158.4V52.8H159.2V52.6H160.0V51.3H160.8V52.3H161.6V53.9H162.4V51.9H163.2V54.0H164.0V55.2H164.8V52.1H165.6V54.2H166.4V51.3H167.2V46.5H168.0V54.0H168.8V54.1H169.6V47.7H170.4V55.4H171.2V62.9H170.4V56.2H169.6V58.8H168.8V56.5H168.0V56.4H167.2V59.4H166.4V56.8H165.6V62.7H164.8V56.4H164.0V62.7H163.2V56.3H162.4V59.9H161.6V56.6H160.8V55.3H160.0V59.5H159.2V58.4H158.4V66.0H157.6V58.8H156.8V57.6H156.0V60.2H155.2V57.3H154.4V60.0H153.6V60.4H152.8V59.2H152.0V58.1H151.2V56.8H150.4V58.0H149.6V60.4H148.8V60.5H148.0V57.7H147.2V60.0H146.4V59.6H145.6V58.6H144.8V58.4H144.0V60.0H143.2V61.4H142.4V59.5H141.6V60.5H140.8V61.9H140.0V56.9H139.2V60.3H138.4V61.8H137.6V57.1H136.8V57.4H136.0V58.0H135.2V58.5H134.4V55.8H133.6V62.3H132.8V59.2H132.0V62.1H131.2V56.3H130.4V59.9H129.6V56.7H128.8V60.7H128.0V57.4H127.2V57.3H126.4V57.7H125.6V56.9H124.8V61.8H124.0V57.6H123.2V57.2H122.4V59.9H121.6V57.7H120.8V58.0H120.0V59.8H119.2V56.5H118.4V62.1H117.6V65.6H116.8V59.5H116.0V59.9H115.2V58.0H114.4V61.9H113.6V65.4H112.8V61.4H112.0V58.2H111.2V57.6H110.4V63.5H109.6V65.7H108.8V61.2H108.0V57.0H107.2V60.5H106.4V56.2H105.6V56.4H104.8V56.0H104.0V60.1H103.2V56.1H102.4V60.1H101.6V58.1H100.8V60.3H100.0V61.6H99.2V59.1H98.4V60.4H97.6V59.4H96.8V65.0H96.0V56.2H95.2V59.4H94.4V63.2H93.6V58.7H92.8V57.2H92.0V58.5H91.2V66.7H90.4V58.5H89.6V56.0H88.8V58.3H88.0V58.1H87.2V58.2H86.4V60.3H85.6V58.5H84.8V59.7H84.0V60.3H83.2V57.2H82.4V64.7H81.6V61.7H80.8V58.6H80.0V60.7H79.2V58.2H78.4V61.4H77.6V62.0H76.8V61.8H76.0V59.3H75.2V57.3H74.4V59.2H73.6V64.6H72.8V59.1H72.0V60.7H71.2V59.7H70.4V62.6H69.6V58.8H68.8V58.0H68.0V61.5H67.2V61.6H66.4V59.7H65.6V59.7H64.8V60.3H64.0V59.7H63.2V65.0H62.4V58.4H61.6V59.6H60.8V58.4H60.0V59.9H59.2V59.6H58.4V65.4H57.6V59.9H56.8V59.3H56.0V57.0H55.2V57.7H54.4V57.7H53.6V59.9H52.8V63.4H52.0V66.0H51.2V59.3H50.4V60.7H49.6V59.0H48.8V60.6H48.0V61.4H47.2V64.5H46.4V62.1H45.6Z" fill="#000" fill-opacity="0.35"/>
<line x1="171.20" y1="55.00" x2="171.20" y2="113.00" stroke="#888" stroke-width="0.8"/>
<line x1="171.20" y1="85.00" x2="171.20" y2="100.00" stroke="#444" stroke-width="0.8"/>
<path d="M171.0,72.0 172.0,71.7 173.0,71.8 174.0,71.4 175.0,72.1 176.0,70.6 177.0,72.2 178.0,71.3 179.0,71.4 180.0,70.9 181.0,70.5 182.0,71.2 183.0,71.9 184.0,71.7 185.0,72.0 186.0,71.4 187.0,71.6 188.0,71.4 189.0,70.9 190.0,71.4 191.0,71.2 192.0,72.0 193.0,71.4 194.0,71.5 195.0,71.8 196.0,72.0 197.0,71.4 198.0,71.4 199.0,71.6 200.0,72.1 201.0,70.9 202.0,70.8 203.0,73.2 204.0,71.4 205.0,71.6 206.0,70.3 207.0,71.2 208.0,71.4 209.0,71.1 210.0,71.2 L210.0,79.7 209.0,80.8 208.0,81.9 207.0,79.3 206.0,80.4 205.0,80.3 204.0,80.2 203.0,81.2 202.0,81.0 201.0,79.7 200.0,81.1 199.0,80.6 198.0,79.9 197.0,79.2 196.0,81.1 195.0,79.6 194.0,81.3 193.0,80.5 192.0,80.3 191.0,80.2 190.0,81.0 189.0,80.4 188.0,80.4 187.0,80.9 186.0,81.5 185.0,79.9 184.0,80.9 183.0,81.1 182.0,80.8 181.0,80.5 180.0,80.0 179.0,79.7 178.0,80.0 177.0,80.6 176.0,80.8 175.0,79.7 174.0,79.7 173.0,81.0 172.0,80.7 171.0,80.4Z" fill="#000"/>
<path d="M171.0,77.1 171.8,76.1 172.6,76.6 173.4,77.9 174.2,75.6 175.0,74.9 175.8,79.2 176.6,77.0 177.4,75.8 178.2,79.0 179.0,72.9 179.8,74.7 180.6,77.4 181.4,76.8 182.2,76.9 183.0,75.5 183.8,75.4 184.6,75.5 185.4,75.8 186.2,77.5 187.0,78.0 187.8,77.3 188.6,78.6 189.4,73.7 190.2,76.2 191.0,74.7 191.8,79.2 192.6,76.0 193.4,77.4 194.2,76.7 195.0,75.2 195.8,74.9 196.6,77.2 197.4,77.6 198.2,75.6 199.0,79.2 199.8,76.5 200.6,77.8 201.4,77.0 202.2,77.9 203.0,74.0 203.8,78.8 204.6,77.7 205.4,77.7 206.2,78.4 207.0,77.4 207.8,74.1 208.6,75.5 209.4,74.6" fill="none" stroke="#000" stroke-width="0.5"/>
<path d="M171.0,76.4 171.8,77.8 172.6,73.1 173.4,73.6 174.2,75.4 175.0,76.2 175.8,75.8 176.6,74.5 177.4,76.0 178.2,75.9 179.0,74.2 179.8,77.4 180.6,73.0 181.4,75.4 182.2,75.4 183.0,76.0 183.8,77.0 184.6,74.6 185.4,75.2 186.2,76.3 187.0,78.0 187.8,74.4 188.6,76.5 189.4,75.8 190.2,74.1 191.0,76.3 191.8,73.9 192.6,75.5 193.4,75.8 194.2,79.0 195.0,74.1 195.8,76.6 196.6,76.0 197.4,75.3 198.2,75.0 199.0,77.8 199.8,74.6 200.6,76.8 201.4,75.2 202.2,76.6 203.0,76.8 203.8,73.1 204.6,74.0 205.4,75.4 206.2,75.7 207.0,73.3 207.8,76.2 208.6,77.1 209.4,75.4" fill="none" stroke="#000" stroke-width="0.5"/>
<path d="M171.0,74.2 171.8,77.9 172.6,79.0 173.4,80.5 174.2,76.4 175.0,79.1 175.8,75.3 176.6,76.8 177.4,76.3 178.2,73.7 179.0,75.1 179.8,76.1 180.6,76.1 181.4,75.4 182.2,76.0 183.0,77.5 183.8,77.9 184.6,72.5 185.4,75.3 186.2,76.1 187.0,72.3 187.8,76.8 188.6,78.2 189.4,73.9 190.2,72.4 191.0,75.2 191.8,78.2 192.6,80.5 193.4,76.8 194.2,76.2 195.0,74.7 195.8,77.3 196.6,74.9 197.4,76.3 198.2,77.9 199.0,76.3 199.8,74.5 200.6,76.7 201.4,78.0 202.2,78.1 203.0,73.5 203.8,76.9 204.6,76.9 205.4,75.7 206.2,74.4 207.0,75.0 207.8,74.9 208.6,79.6 209.4,76.7" fill="none" stroke="#000" stroke-width="0.5"/>
<path d="M171.0,76.6 171.8,78.2 172.6,75.9 173.4,77.4 174.2,77.1 175.0,75.3 175.8,78.6 176.6,76.5 177.4,77.9 178.2,78.3 179.0,75.4 179.8,74.8 180.6,75.1 181.4,79.6 182.2,76.1 183.0,75.5 183.8,78.6 184.6,75.0 185.4,79.1 186.2,75.0 187.0,76.6 187.8,76.2 188.6,76.6 189.4,77.6 190.2,77.3 191.0,74.1 191.8,74.4 192.6,75.9 193.4,77.2 194.2,75.5 195.0,75.1 195.8,73.0 196.6,76.8 197.4,76.3 198.2,74.4 199.0,75.5 199.8,78.3 200.6,75.0 201.4,74.8 202.2,77.1 203.0,73.0 203.8,75.4 204.6,75.6 205.4,74.7 206.2,75.3 207.0,75.4 207.8,76.1 208.6,75.6 209.4,77.0" fill="none" stroke="#000" stroke-width="0.5"/>
<path d="M171.0,76.7 171.8,76.3 172.6,73.1 173.4,78.2 174.2,77.0 175.0,77.0 175.8,78.3 176.6,75.7 177.4,75.5 178.2,77.7 179.0,71.1 179.8,77.9 180.6,77.0 181.4,74.5 182.2,75.2 183.0,78.2 183.8,75.4 184.6,77.8 185.4,77.1 186.2,76.6 187.0,76.4 187.8,76.3 188.6,75.9 189.4,77.0 190.2,78.0 191.0,73.3 191.8,78.9 192.6,80.2 193.4,74.1 194.2,78.6 195.0,76.9 195.8,77.9 196.6,76.6 197.4,75.0 198.2,77.7 199.0,76.9 199.8,77.5 200.6,75.1 201.4,76.4 202.2,78.3 203.0,74.2 203.8,77.3 204.6,74.1 205.4,78.2 206.2,80.4 207.0,74.5 207.8,76.6 208.6,77.7 209.4,75.2" fill="none" stroke="#000" stroke-width="0.5"/>
<path d="M171.0,77.4 171.8,76.5 172.6,78.7 173.4,77.2 174.2,81.1 175.0,78.8 175.8,77.5 176.6,77.5 177.4,75.2 178.2,75.8 179.0,75.4 179.8,77.5 180.6,77.3 181.4,74.7 182.2,77.0 183.0,76.4 183.8,75.5 184.6,77.4 185.4,76.0 186.2,75.3 187.0,75.6 187.8,76.8 188.6,74.2 189.4,75.4 190.2,76.8 191.0,77.7 191.8,76.6 192.6,76.0 193.4,73.9 194.2,78.0 195.0,75.1 195.8,74.7 196.6,77.8 197.4,75.1 198.2,74.7 199.0,76.7 199.8,77.4 200.6,76.9 201.4,73.6 202.2,76.7 203.0,75.7 203.8,75.5 204.6,77.1 205.4,77.4 206.2,73.9 207.0,77.9 207.8,76.0 208.6,76.1 209.4,75.1" fill="none" stroke="#000" stroke-width="0.5"/>
</g>
<path d="M75.2,116.0 H117.5 M75.2,112.5 V119.5 M117.5,112.5 V119.5" fill="none" stroke="#555" stroke-width="1.4"/>
<text x="77.3" y="132.7" font-size="10.6" text-anchor="start" fill="#222" >100 ms</text>
<text x="287.6" y="16.4" font-size="19.3" font-weight="bold" text-anchor="start" fill="#000" >B</text>
<path d="M322.6,6.6 H327.8 V145.6 H322.6 M322.6,76.5 H327.8" fill="none" stroke="#111" stroke-width="1.8"/>
<text x="322.2" y="10.0" font-size="9.5" text-anchor="end" fill="#111" stroke="#111" stroke-width="0.25">50</text>
<text x="322.2" y="79.9" font-size="9.5" text-anchor="end" fill="#111" stroke="#111" stroke-width="0.25">0</text>
<text x="322.2" y="149.0" font-size="9.5" text-anchor="end" fill="#111" stroke="#111" stroke-width="0.25">-50</text>
<text x="0" y="0" font-size="11.1" font-weight="bold" text-anchor="middle" fill="#000" transform="translate(299.2,70.5) rotate(-90)">I (pA)</text>
<g filter="url(#bl)">
<line x1="331.30" y1="7.60" x2="331.30" y2="146.00" stroke="#aaa" stroke-width="0.7"/>
<line x1="456.20" y1="7.60" x2="456.20" y2="143.40" stroke="#999" stroke-width="0.8"/>
<path d="M331.0,64.5 332.0,62.5 333.0,61.3 334.0,62.4 335.0,64.4 336.0,63.2 337.0,62.8 338.0,63.2 339.0,63.2 340.0,63.8 341.0,63.1 342.0,64.1 343.0,62.6 344.0,63.0 345.0,62.6 346.0,63.1 347.0,64.7 348.0,61.7 349.0,61.8 350.0,62.5 351.0,63.9 352.0,63.2 353.0,62.3 354.0,63.0 355.0,61.9 356.0,62.0 357.0,62.4 358.0,63.4 359.0,62.7 360.0,63.1 361.0,64.0 362.0,62.7 363.0,64.1 364.0,62.2 365.0,64.8 366.0,61.8 367.0,61.3 368.0,63.2 369.0,62.8 370.0,63.6 371.0,63.7 372.0,61.8 373.0,63.0 374.0,65.1 375.0,62.7 376.0,64.4 377.0,63.1 378.0,62.7 379.0,62.1 380.0,62.5 381.0,61.7 382.0,64.3 383.0,62.9 384.0,62.4 385.0,63.8 386.0,62.2 387.0,63.5 388.0,63.7 389.0,63.9 390.0,63.4 391.0,64.2 392.0,62.9 393.0,63.6 394.0,64.2 395.0,63.4 396.0,63.9 397.0,61.0 398.0,63.6 399.0,63.6 400.0,62.9 401.0,63.9 402.0,64.8 403.0,63.6 404.0,63.8 405.0,62.8 406.0,62.6 407.0,63.1 408.0,62.1 409.0,63.0 410.0,63.8 411.0,62.9 412.0,62.8 413.0,62.4 414.0,64.0 415.0,63.1 416.0,63.2 417.0,63.4 418.0,63.9 419.0,62.3 420.0,62.7 421.0,64.0 422.0,62.7 423.0,63.4 424.0,65.2 425.0,62.0 426.0,63.3 427.0,63.6 428.0,64.3 429.0,63.0 430.0,62.0 431.0,62.1 432.0,62.9 433.0,61.6 434.0,64.6 435.0,62.2 436.0,64.0 437.0,63.4 438.0,63.0 439.0,63.2 440.0,61.7 441.0,62.6 442.0,63.3 443.0,63.0 444.0,63.2 445.0,63.2 446.0,63.9 447.0,62.3 448.0,63.2 449.0,63.8 450.0,62.8 451.0,62.5 452.0,63.7 453.0,63.7 454.0,62.4 455.0,62.3 456.0,63.3 L456.0,86.7 455.0,85.4 454.0,87.7 453.0,87.7 452.0,85.8 451.0,87.4 450.0,85.3 449.0,87.4 448.0,87.3 447.0,87.1 446.0,86.8 445.0,86.1 444.0,86.3 443.0,85.3 442.0,86.8 441.0,87.0 440.0,87.4 439.0,85.8 438.0,85.8 437.0,86.7 436.0,87.2 435.0,85.9 434.0,86.3 433.0,85.7 432.0,86.2 431.0,86.0 430.0,86.1 429.0,86.7 428.0,87.3 427.0,85.5 426.0,85.8 425.0,86.6 424.0,87.0 423.0,87.9 422.0,86.5 421.0,87.4 420.0,85.7 419.0,86.0 418.0,87.6 417.0,87.1 416.0,86.2 415.0,86.5 414.0,86.9 413.0,85.8 412.0,86.5 411.0,87.1 410.0,86.8 409.0,85.4 408.0,86.0 407.0,86.2 406.0,86.3 405.0,86.1 404.0,86.6 403.0,88.1 402.0,86.5 401.0,87.9 400.0,86.5 399.0,86.1 398.0,86.3 397.0,88.3 396.0,85.9 395.0,85.4 394.0,85.9 393.0,86.6 392.0,87.7 391.0,87.0 390.0,85.8 389.0,85.7 388.0,86.0 387.0,85.3 386.0,84.4 385.0,87.0 384.0,86.3 383.0,87.4 382.0,86.0 381.0,86.2 380.0,86.8 379.0,86.3 378.0,86.1 377.0,85.2 376.0,86.5 375.0,86.9 374.0,86.8 373.0,85.7 372.0,87.2 371.0,85.3 370.0,87.1 369.0,85.9 368.0,87.5 367.0,86.4 366.0,87.4 365.0,87.5 364.0,86.3 363.0,86.7 362.0,87.7 361.0,86.4 360.0,87.3 359.0,86.7 358.0,87.2 357.0,86.7 356.0,87.5 355.0,86.3 354.0,85.7 353.0,85.2 352.0,86.6 351.0,86.4 350.0,86.8 349.0,85.2 348.0,86.8 347.0,85.5 346.0,86.9 345.0,86.3 344.0,86.0 343.0,85.3 342.0,85.2 341.0,85.0 340.0,86.2 339.0,87.4 338.0,85.7 337.0,86.1 336.0,86.3 335.0,88.7 334.0,86.9 333.0,85.8 332.0,85.9 331.0,87.3Z" fill="#000"/>
<path d="M331,55 L334,55 L336,80 L336,89 L333,91 L331,91 Z" fill="#000"/>
<path d="M331.0,73.3 331.8,75.1 332.6,74.2 333.4,66.0 334.2,72.7 335.0,72.4 335.8,74.9 336.6,78.7 337.4,77.7 338.2,75.1 339.0,74.9 339.8,75.7 340.6,66.7 341.4,71.5 342.2,77.2 343.0,76.6 343.8,76.8 344.6,75.2 345.4,77.8 346.2,75.3 347.0,76.0 347.8,71.2 348.6,71.7 349.4,73.8 350.2,71.8 351.0,80.1 351.8,76.3 352.6,74.1 353.4,78.4 354.2,77.1 355.0,70.5 355.8,75.0 356.6,75.8 357.4,76.6 358.2,76.8 359.0,71.2 359.8,72.7 360.6,73.5 361.4,78.8 362.2,78.3 363.0,78.3 363.8,80.0 364.6,70.8 365.4,68.7 366.2,74.5 367.0,73.0 367.8,77.1 368.6,78.5 369.4,74.9 370.2,72.6 371.0,72.5 371.8,77.4 372.6,77.6 373.4,76.1 374.2,70.0 375.0,78.8 375.8,72.6 376.6,76.4 377.4,69.1 378.2,76.7 379.0,77.8 379.8,73.2 380.6,74.9 381.4,74.1 382.2,75.2 383.0,68.1 383.8,70.3 384.6,76.0 385.4,75.9 386.2,76.0 387.0,75.0 387.8,71.5 388.6,72.8 389.4,72.9 390.2,76.6 391.0,71.3 391.8,72.5 392.6,74.0 393.4,70.0 394.2,72.9 395.0,73.1 395.8,73.6 396.6,71.9 397.4,76.4 398.2,72.4 399.0,78.0 399.8,69.7 400.6,73.0 401.4,73.2 402.2,74.2 403.0,71.7 403.8,72.5 404.6,69.3 405.4,68.6 406.2,80.3 407.0,75.0 407.8,73.3 408.6,71.3 409.4,75.3 410.2,71.9 411.0,73.0 411.8,77.8 412.6,74.1 413.4,70.5 414.2,69.3 415.0,66.9 415.8,67.0 416.6,74.9 417.4,72.5 418.2,75.7 419.0,73.6 419.8,74.5 420.6,68.3 421.4,72.6 422.2,74.8 423.0,76.8 423.8,75.5 424.6,75.0 425.4,75.8 426.2,71.9 427.0,70.3 427.8,71.9 428.6,72.6 429.4,75.8 430.2,76.9 431.0,72.9 431.8,69.3 432.6,71.3 433.4,75.7 434.2,70.4 435.0,77.1 435.8,71.1 436.6,75.5 437.4,68.8 438.2,76.4 439.0,65.5 439.8,73.1 440.6,74.1 441.4,73.0 442.2,72.7 443.0,72.3 443.8,72.5 444.6,79.2 445.4,70.7 446.2,77.2 447.0,77.3 447.8,70.7 448.6,72.4 449.4,80.8 450.2,79.4 451.0,77.1 451.8,73.3 452.6,70.3 453.4,70.4 454.2,76.8 455.0,71.7 455.8,69.9" fill="none" stroke="#000" stroke-width="0.5"/>
<path d="M331.0,72.6 331.8,79.4 332.6,76.6 333.4,77.2 334.2,70.6 335.0,74.2 335.8,74.5 336.6,74.5 337.4,76.5 338.2,75.7 339.0,73.9 339.8,79.1 340.6,77.3 341.4,76.2 342.2,75.4 343.0,82.1 343.8,71.4 344.6,74.3 345.4,82.2 346.2,77.8 347.0,80.3 347.8,74.8 348.6,78.9 349.4,71.6 350.2,71.9 351.0,76.6 351.8,72.3 352.6,75.2 353.4,75.7 354.2,87.7 355.0,76.5 355.8,77.1 356.6,74.9 357.4,72.7 358.2,72.6 359.0,74.4 359.8,76.1 360.6,74.5 361.4,77.5 362.2,72.1 363.0,72.2 363.8,77.3 364.6,80.9 365.4,77.9 366.2,77.7 367.0,72.3 367.8,74.3 368.6,73.2 369.4,71.8 370.2,73.6 371.0,72.0 371.8,77.5 372.6,77.8 373.4,76.1 374.2,71.2 375.0,75.1 375.8,74.8 376.6,77.9 377.4,73.4 378.2,70.0 379.0,77.9 379.8,71.3 380.6,82.5 381.4,75.0 382.2,77.5 383.0,76.0 383.8,79.2 384.6,73.2 385.4,80.1 386.2,67.8 387.0,74.9 387.8,75.8 388.6,74.5 389.4,78.1 390.2,75.0 391.0,71.2 391.8,76.4 392.6,75.7 393.4,73.7 394.2,78.7 395.0,73.4 395.8,69.7 396.6,71.9 397.4,74.8 398.2,77.2 399.0,72.0 399.8,74.9 400.6,79.6 401.4,76.4 402.2,78.6 403.0,76.0 403.8,81.1 404.6,72.9 405.4,75.0 406.2,72.2 407.0,77.5 407.8,72.5 408.6,77.4 409.4,80.8 410.2,77.9 411.0,74.8 411.8,71.3 412.6,80.0 413.4,79.4 414.2,71.6 415.0,79.2 415.8,78.1 416.6,70.4 417.4,72.4 418.2,77.3 419.0,78.1 419.8,76.0 420.6,75.9 421.4,81.1 422.2,73.9 423.0,74.3 423.8,74.6 424.6,84.4 425.4,77.1 426.2,74.2 427.0,80.0 427.8,68.0 428.6,78.3 429.4,73.2 430.2,72.1 431.0,77.3 431.8,80.4 432.6,71.1 433.4,73.7 434.2,78.3 435.0,70.9 435.8,69.5 436.6,74.6 437.4,77.6 438.2,71.1 439.0,75.8 439.8,73.0 440.6,75.7 441.4,79.4 442.2,72.3 443.0,74.7 443.8,79.1 444.6,77.0 445.4,75.4 446.2,73.1 447.0,76.7 447.8,76.1 448.6,72.9 449.4,78.9 450.2,74.4 451.0,78.7 451.8,73.7 452.6,80.3 453.4,76.4 454.2,75.8 455.0,76.2 455.8,74.0" fill="none" stroke="#000" stroke-width="0.5"/>
<path d="M331.0,72.9 331.8,71.1 332.6,65.5 333.4,70.7 334.2,70.3 335.0,74.8 335.8,71.3 336.6,70.3 337.4,71.9 338.2,78.4 339.0,66.5 339.8,71.3 340.6,72.8 341.4,74.9 342.2,74.2 343.0,72.0 343.8,70.7 344.6,74.2 345.4,67.0 346.2,68.8 347.0,70.7 347.8,75.5 348.6,71.1 349.4,70.5 350.2,73.1 351.0,71.3 351.8,72.3 352.6,66.5 353.4,70.6 354.2,69.7 355.0,73.2 355.8,69.7 356.6,76.4 357.4,72.6 358.2,69.0 359.0,68.9 359.8,76.2 360.6,66.3 361.4,68.0 362.2,72.9 363.0,76.2 363.8,74.2 364.6,72.3 365.4,69.9 366.2,69.4 367.0,69.9 367.8,69.1 368.6,70.5 369.4,69.6 370.2,70.6 371.0,69.1 371.8,77.5 372.6,72.2 373.4,71.3 374.2,72.4 375.0,76.5 375.8,70.8 376.6,75.4 377.4,72.1 378.2,78.6 379.0,71.1 379.8,65.0 380.6,73.2 381.4,70.2 382.2,64.8 383.0,68.6 383.8,66.9 384.6,75.1 385.4,70.9 386.2,70.5 387.0,70.4 387.8,72.6 388.6,68.1 389.4,70.1 390.2,74.4 391.0,72.2 391.8,72.9 392.6,72.7 393.4,67.9 394.2,77.8 395.0,71.3 395.8,70.1 396.6,65.7 397.4,73.6 398.2,71.0 399.0,70.6 399.8,71.7 400.6,72.7 401.4,72.7 402.2,71.2 403.0,72.8 403.8,68.4 404.6,66.0 405.4,69.8 406.2,70.8 407.0,71.5 407.8,72.6 408.6,73.3 409.4,69.6 410.2,73.6 411.0,73.7 411.8,67.8 412.6,68.4 413.4,68.9 414.2,72.6 415.0,78.1 415.8,77.4 416.6,70.6 417.4,66.0 418.2,67.7 419.0,73.7 419.8,73.2 420.6,77.3 421.4,69.7 422.2,68.3 423.0,78.2 423.8,71.6 424.6,74.6 425.4,72.3 426.2,74.1 427.0,74.0 427.8,67.4 428.6,68.4 429.4,68.6 430.2,71.1 431.0,78.3 431.8,71.6 432.6,71.3 433.4,71.4 434.2,65.6 435.0,71.9 435.8,70.9 436.6,70.4 437.4,75.9 438.2,69.2 439.0,69.0 439.8,70.7 440.6,68.3 441.4,69.6 442.2,67.7 443.0,67.9 443.8,72.6 444.6,69.2 445.4,70.4 446.2,77.6 447.0,71.0 447.8,71.5 448.6,69.0 449.4,73.1 450.2,71.4 451.0,69.0 451.8,70.6 452.6,75.7 453.4,68.6 454.2,70.4 455.0,72.4 455.8,66.4" fill="none" stroke="#000" stroke-width="0.5"/>
<path d="M331.0,82.5 331.8,81.4 332.6,83.8 333.4,82.7 334.2,75.2 335.0,76.7 335.8,78.9 336.6,77.7 337.4,80.0 338.2,78.7 339.0,83.3 339.8,79.0 340.6,76.2 341.4,76.3 342.2,79.3 343.0,75.9 343.8,73.7 344.6,76.2 345.4,80.9 346.2,75.6 347.0,76.8 347.8,75.8 348.6,79.6 349.4,83.3 350.2,80.8 351.0,82.3 351.8,77.3 352.6,77.6 353.4,79.5 354.2,80.3 355.0,83.5 355.8,84.7 356.6,77.0 357.4,81.7 358.2,77.6 359.0,78.5 359.8,81.2 360.6,79.6 361.4,79.8 362.2,78.1 363.0,78.6 363.8,80.5 364.6,87.4 365.4,74.7 366.2,82.1 367.0,80.7 367.8,81.4 368.6,82.8 369.4,80.2 370.2,77.7 371.0,76.0 371.8,83.9 372.6,79.9 373.4,77.9 374.2,78.8 375.0,82.6 375.8,82.8 376.6,81.4 377.4,77.7 378.2,83.8 379.0,77.2 379.8,82.5 380.6,74.2 381.4,79.7 382.2,83.3 383.0,81.7 383.8,79.7 384.6,74.6 385.4,77.5 386.2,82.3 387.0,83.4 387.8,76.9 388.6,79.9 389.4,79.5 390.2,79.9 391.0,81.9 391.8,75.4 392.6,83.1 393.4,84.6 394.2,77.7 395.0,81.5 395.8,79.4 396.6,76.1 397.4,82.3 398.2,80.0 399.0,76.0 399.8,80.2 400.6,77.3 401.4,81.8 402.2,81.8 403.0,83.0 403.8,82.2 404.6,77.0 405.4,78.4 406.2,81.1 407.0,78.8 407.8,82.4 408.6,79.3 409.4,84.8 410.2,79.6 411.0,75.5 411.8,77.9 412.6,81.5 413.4,78.0 414.2,78.6 415.0,81.5 415.8,76.3 416.6,78.8 417.4,79.9 418.2,77.8 419.0,79.1 419.8,75.8 420.6,86.6 421.4,85.1 422.2,75.1 423.0,76.2 423.8,77.8 424.6,85.6 425.4,74.4 426.2,80.6 427.0,75.0 427.8,81.2 428.6,85.2 429.4,79.3 430.2,79.5 431.0,75.4 431.8,83.8 432.6,82.2 433.4,79.0 434.2,81.2 435.0,77.4 435.8,75.2 436.6,84.7 437.4,79.8 438.2,83.7 439.0,78.2 439.8,74.4 440.6,82.3 441.4,78.7 442.2,76.6 443.0,80.3 443.8,80.2 444.6,82.3 445.4,79.2 446.2,81.6 447.0,76.9 447.8,77.5 448.6,81.6 449.4,74.2 450.2,81.3 451.0,80.5 451.8,80.9 452.6,80.2 453.4,78.6 454.2,82.1 455.0,79.4 455.8,83.0" fill="none" stroke="#000" stroke-width="0.5"/>
<path d="M331.0,75.8 331.8,73.2 332.6,76.3 333.4,75.4 334.2,77.1 335.0,78.5 335.8,73.6 336.6,63.6 337.4,79.1 338.2,77.2 339.0,77.9 339.8,75.7 340.6,77.6 341.4,73.8 342.2,75.6 343.0,77.1 343.8,69.5 344.6,76.6 345.4,75.6 346.2,68.9 347.0,76.0 347.8,75.5 348.6,67.7 349.4,74.1 350.2,73.6 351.0,77.2 351.8,73.9 352.6,74.1 353.4,73.2 354.2,75.4 355.0,76.2 355.8,74.5 356.6,78.1 357.4,77.5 358.2,78.2 359.0,75.1 359.8,71.9 360.6,75.4 361.4,75.0 362.2,69.9 363.0,77.7 363.8,74.3 364.6,76.7 365.4,78.9 366.2,74.1 367.0,76.9 367.8,76.7 368.6,76.5 369.4,78.9 370.2,74.6 371.0,77.7 371.8,72.5 372.6,76.0 373.4,77.8 374.2,74.2 375.0,71.7 375.8,71.7 376.6,75.6 377.4,76.2 378.2,70.0 379.0,74.2 379.8,74.1 380.6,74.1 381.4,75.8 382.2,76.6 383.0,73.8 383.8,78.8 384.6,68.7 385.4,78.2 386.2,76.7 387.0,72.1 387.8,74.1 388.6,72.4 389.4,66.1 390.2,74.1 391.0,73.5 391.8,69.1 392.6,71.9 393.4,73.0 394.2,78.8 395.0,73.5 395.8,73.4 396.6,71.0 397.4,71.4 398.2,76.0 399.0,76.5 399.8,72.8 400.6,77.9 401.4,73.9 402.2,73.5 403.0,79.5 403.8,79.2 404.6,76.7 405.4,76.0 406.2,75.4 407.0,70.3 407.8,72.1 408.6,67.0 409.4,74.4 410.2,74.8 411.0,78.0 411.8,76.7 412.6,77.9 413.4,67.7 414.2,72.0 415.0,74.9 415.8,73.0 416.6,76.0 417.4,72.7 418.2,76.3 419.0,77.6 419.8,77.6 420.6,76.5 421.4,77.0 422.2,72.0 423.0,76.5 423.8,69.3 424.6,74.9 425.4,75.1 426.2,72.4 427.0,74.9 427.8,69.4 428.6,70.0 429.4,70.2 430.2,76.8 431.0,76.2 431.8,74.8 432.6,77.7 433.4,76.7 434.2,68.6 435.0,77.7 435.8,74.3 436.6,70.3 437.4,75.9 438.2,74.4 439.0,81.8 439.8,76.1 440.6,77.8 441.4,75.4 442.2,75.6 443.0,79.4 443.8,73.3 444.6,72.4 445.4,73.9 446.2,72.7 447.0,71.1 447.8,76.6 448.6,78.4 449.4,80.8 450.2,76.8 451.0,75.7 451.8,73.7 452.6,74.1 453.4,70.5 454.2,74.6 455.0,74.6 455.8,70.0" fill="none" stroke="#000" stroke-width="0.5"/>
<path d="M331.0,70.1 331.8,69.8 332.6,71.4 333.4,69.5 334.2,69.0 335.0,74.7 335.8,69.8 336.6,70.8 337.4,64.9 338.2,70.4 339.0,66.7 339.8,72.0 340.6,69.5 341.4,75.7 342.2,70.8 343.0,72.9 343.8,68.2 344.6,68.8 345.4,69.1 346.2,67.6 347.0,69.5 347.8,70.2 348.6,74.2 349.4,71.7 350.2,72.1 351.0,76.0 351.8,71.5 352.6,72.9 353.4,72.2 354.2,71.0 355.0,67.4 355.8,73.6 356.6,67.8 357.4,66.5 358.2,69.6 359.0,69.6 359.8,70.0 360.6,73.4 361.4,74.4 362.2,68.1 363.0,72.5 363.8,66.9 364.6,70.1 365.4,67.7 366.2,68.9 367.0,73.8 367.8,68.9 368.6,71.7 369.4,67.4 370.2,71.3 371.0,79.1 371.8,67.5 372.6,71.5 373.4,70.3 374.2,74.4 375.0,77.0 375.8,71.7 376.6,72.3 377.4,71.2 378.2,72.5 379.0,70.7 379.8,70.7 380.6,68.1 381.4,71.4 382.2,67.0 383.0,70.2 383.8,72.8 384.6,73.1 385.4,73.2 386.2,70.9 387.0,73.6 387.8,67.5 388.6,71.8 389.4,70.7 390.2,76.4 391.0,71.6 391.8,66.8 392.6,70.0 393.4,73.2 394.2,68.2 395.0,74.5 395.8,67.4 396.6,72.7 397.4,71.9 398.2,72.8 399.0,68.1 399.8,69.3 400.6,71.2 401.4,67.7 402.2,67.0 403.0,71.5 403.8,69.0 404.6,79.5 405.4,67.6 406.2,70.5 407.0,72.6 407.8,72.8 408.6,76.0 409.4,71.9 410.2,75.3 411.0,68.2 411.8,69.7 412.6,71.5 413.4,73.5 414.2,72.8 415.0,67.2 415.8,72.9 416.6,72.5 417.4,72.0 418.2,73.2 419.0,70.3 419.8,68.1 420.6,71.5 421.4,73.1 422.2,69.3 423.0,71.9 423.8,71.0 424.6,71.3 425.4,71.1 426.2,71.0 427.0,72.9 427.8,70.6 428.6,66.3 429.4,73.8 430.2,64.1 431.0,64.8 431.8,72.5 432.6,76.0 433.4,69.5 434.2,72.4 435.0,70.8 435.8,69.6 436.6,71.5 437.4,74.6 438.2,69.9 439.0,68.8 439.8,68.5 440.6,75.0 441.4,70.3 442.2,68.5 443.0,66.1 443.8,70.2 444.6,70.3 445.4,75.5 446.2,71.3 447.0,67.2 447.8,74.3 448.6,68.4 449.4,71.5 450.2,73.6 451.0,71.7 451.8,65.8 452.6,72.8 453.4,67.3 454.2,68.2 455.0,71.0 455.8,66.5" fill="none" stroke="#000" stroke-width="0.5"/>
<path d="M331.0,73.8 331.8,63.6 332.6,73.3 333.4,71.5 334.2,69.2 335.0,71.3 335.8,73.7 336.6,65.9 337.4,69.7 338.2,68.7 339.0,73.5 339.8,75.5 340.6,72.4 341.4,67.7 342.2,70.2 343.0,74.1 343.8,72.0 344.6,68.1 345.4,71.3 346.2,72.6 347.0,70.5 347.8,66.5 348.6,75.9 349.4,69.2 350.2,69.6 351.0,67.5 351.8,68.1 352.6,68.0 353.4,73.4 354.2,68.5 355.0,71.9 355.8,71.0 356.6,68.4 357.4,74.9 358.2,73.3 359.0,69.9 359.8,65.9 360.6,65.6 361.4,68.0 362.2,69.7 363.0,72.5 363.8,70.3 364.6,71.9 365.4,70.2 366.2,73.9 367.0,70.1 367.8,67.5 368.6,72.8 369.4,72.1 370.2,72.1 371.0,71.6 371.8,65.3 372.6,70.6 373.4,72.1 374.2,66.4 375.0,70.9 375.8,65.2 376.6,66.4 377.4,71.1 378.2,62.5 379.0,64.9 379.8,67.7 380.6,70.5 381.4,70.1 382.2,71.5 383.0,63.4 383.8,72.3 384.6,66.6 385.4,70.8 386.2,67.0 387.0,69.3 387.8,70.2 388.6,72.7 389.4,72.3 390.2,74.3 391.0,69.3 391.8,66.3 392.6,65.8 393.4,78.1 394.2,71.4 395.0,69.7 395.8,72.1 396.6,66.4 397.4,71.0 398.2,77.4 399.0,68.3 399.8,61.3 400.6,65.3 401.4,71.2 402.2,72.0 403.0,70.7 403.8,70.7 404.6,70.0 405.4,65.7 406.2,67.3 407.0,67.5 407.8,68.0 408.6,68.6 409.4,64.1 410.2,68.9 411.0,68.3 411.8,69.6 412.6,75.3 413.4,67.1 414.2,72.8 415.0,77.0 415.8,64.0 416.6,74.4 417.4,73.3 418.2,70.7 419.0,70.6 419.8,73.8 420.6,76.1 421.4,69.9 422.2,71.2 423.0,69.2 423.8,67.8 424.6,69.5 425.4,69.1 426.2,70.6 427.0,68.5 427.8,73.5 428.6,70.1 429.4,70.3 430.2,69.8 431.0,74.5 431.8,69.7 432.6,71.9 433.4,69.6 434.2,75.9 435.0,69.4 435.8,72.8 436.6,72.6 437.4,70.1 438.2,73.1 439.0,70.5 439.8,68.8 440.6,63.8 441.4,67.0 442.2,69.0 443.0,68.3 443.8,71.6 444.6,68.6 445.4,71.2 446.2,73.3 447.0,69.8 447.8,63.0 448.6,72.7 449.4,69.8 450.2,68.9 451.0,71.0 451.8,74.9 452.6,72.3 453.4,63.7 454.2,66.4 455.0,69.4 455.8,69.6" fill="none" stroke="#000" stroke-width="0.5"/>
<path d="M331.0,79.5 331.8,80.2 332.6,72.0 333.4,73.7 334.2,78.3 335.0,74.3 335.8,79.4 336.6,79.8 337.4,75.6 338.2,76.3 339.0,78.8 339.8,78.5 340.6,80.6 341.4,78.2 342.2,75.2 343.0,76.5 343.8,71.2 344.6,79.7 345.4,78.2 346.2,73.6 347.0,80.2 347.8,74.1 348.6,74.9 349.4,76.9 350.2,79.6 351.0,75.6 351.8,75.5 352.6,77.0 353.4,72.7 354.2,75.1 355.0,76.8 355.8,84.4 356.6,75.0 357.4,74.0 358.2,73.5 359.0,80.8 359.8,73.4 360.6,80.2 361.4,78.5 362.2,79.1 363.0,81.5 363.8,75.6 364.6,75.9 365.4,80.0 366.2,72.8 367.0,77.8 367.8,77.8 368.6,73.0 369.4,75.4 370.2,80.2 371.0,75.8 371.8,75.8 372.6,79.3 373.4,75.6 374.2,77.6 375.0,74.7 375.8,79.5 376.6,75.6 377.4,75.8 378.2,73.9 379.0,80.8 379.8,73.5 380.6,72.8 381.4,80.0 382.2,80.2 383.0,75.9 383.8,76.7 384.6,75.4 385.4,75.8 386.2,77.8 387.0,76.8 387.8,73.9 388.6,76.0 389.4,74.5 390.2,71.6 391.0,78.7 391.8,75.8 392.6,72.1 393.4,78.0 394.2,79.4 395.0,76.3 395.8,77.7 396.6,83.0 397.4,78.5 398.2,77.6 399.0,80.6 399.8,72.9 400.6,77.6 401.4,77.3 402.2,77.3 403.0,75.5 403.8,75.3 404.6,80.9 405.4,75.7 406.2,76.1 407.0,72.8 407.8,77.8 408.6,70.1 409.4,74.9 410.2,78.0 411.0,73.6 411.8,80.2 412.6,78.2 413.4,72.2 414.2,80.5 415.0,75.0 415.8,78.3 416.6,80.7 417.4,76.1 418.2,78.9 419.0,73.5 419.8,73.3 420.6,73.3 421.4,75.0 422.2,72.6 423.0,75.3 423.8,74.8 424.6,76.9 425.4,75.9 426.2,76.2 427.0,79.2 427.8,73.3 428.6,78.6 429.4,78.0 430.2,75.8 431.0,75.2 431.8,78.8 432.6,72.4 433.4,76.2 434.2,77.4 435.0,73.8 435.8,79.5 436.6,75.3 437.4,77.4 438.2,82.9 439.0,74.3 439.8,76.2 440.6,75.7 441.4,78.7 442.2,73.2 443.0,79.3 443.8,71.7 444.6,78.1 445.4,74.8 446.2,74.1 447.0,81.3 447.8,77.6 448.6,79.1 449.4,77.9 450.2,67.6 451.0,81.8 451.8,75.1 452.6,69.4 453.4,77.0 454.2,78.0 455.0,79.5 455.8,75.6" fill="none" stroke="#000" stroke-width="0.5"/>
<path d="M331.0,72.5 331.8,70.5 332.6,74.1 333.4,79.9 334.2,77.5 335.0,73.0 335.8,73.6 336.6,75.2 337.4,73.1 338.2,69.4 339.0,70.1 339.8,69.5 340.6,71.1 341.4,72.3 342.2,73.3 343.0,68.4 343.8,71.8 344.6,75.0 345.4,79.4 346.2,71.1 347.0,74.1 347.8,75.0 348.6,71.6 349.4,70.3 350.2,75.6 351.0,70.9 351.8,77.1 352.6,78.1 353.4,71.4 354.2,74.1 355.0,76.5 355.8,78.4 356.6,70.3 357.4,73.9 358.2,73.7 359.0,78.4 359.8,69.0 360.6,73.3 361.4,74.9 362.2,75.7 363.0,75.1 363.8,74.9 364.6,73.7 365.4,73.6 366.2,72.4 367.0,71.7 367.8,79.2 368.6,76.1 369.4,81.6 370.2,77.0 371.0,78.1 371.8,76.7 372.6,76.3 373.4,74.3 374.2,74.1 375.0,74.1 375.8,80.1 376.6,70.2 377.4,74.2 378.2,68.8 379.0,75.6 379.8,76.0 380.6,73.9 381.4,74.9 382.2,72.0 383.0,73.9 383.8,72.4 384.6,72.4 385.4,68.9 386.2,74.2 387.0,76.5 387.8,70.1 388.6,70.1 389.4,72.8 390.2,72.4 391.0,78.9 391.8,79.0 392.6,76.1 393.4,76.9 394.2,76.2 395.0,76.5 395.8,74.2 396.6,71.2 397.4,71.2 398.2,73.2 399.0,71.4 399.8,80.9 400.6,74.2 401.4,72.1 402.2,72.5 403.0,72.0 403.8,80.8 404.6,73.3 405.4,71.6 406.2,75.8 407.0,69.2 407.8,75.7 408.6,76.6 409.4,77.8 410.2,72.0 411.0,69.9 411.8,67.0 412.6,76.0 413.4,72.3 414.2,75.8 415.0,76.5 415.8,79.3 416.6,74.8 417.4,77.1 418.2,74.5 419.0,73.6 419.8,74.5 420.6,70.0 421.4,71.2 422.2,75.3 423.0,71.6 423.8,74.8 424.6,65.7 425.4,74.8 426.2,73.2 427.0,74.8 427.8,77.1 428.6,69.2 429.4,74.4 430.2,71.7 431.0,73.5 431.8,72.8 432.6,79.0 433.4,80.1 434.2,74.6 435.0,75.9 435.8,76.2 436.6,76.0 437.4,71.2 438.2,74.7 439.0,77.1 439.8,75.0 440.6,73.6 441.4,72.4 442.2,76.7 443.0,73.3 443.8,74.2 444.6,79.2 445.4,76.0 446.2,75.1 447.0,73.0 447.8,73.3 448.6,76.1 449.4,76.8 450.2,74.8 451.0,78.9 451.8,70.1 452.6,74.6 453.4,75.8 454.2,78.8 455.0,76.5 455.8,72.2" fill="none" stroke="#000" stroke-width="0.5"/>
<path d="M331.0,74.3 331.8,70.4 332.6,75.7 333.4,70.7 334.2,75.6 335.0,75.8 335.8,74.2 336.6,70.5 337.4,74.5 338.2,75.1 339.0,72.3 339.8,74.8 340.6,74.6 341.4,76.3 342.2,80.7 343.0,71.5 343.8,72.9 344.6,76.5 345.4,74.4 346.2,74.2 347.0,75.6 347.8,76.6 348.6,74.6 349.4,71.3 350.2,75.4 351.0,70.2 351.8,71.8 352.6,74.7 353.4,75.0 354.2,78.1 355.0,78.4 355.8,72.8 356.6,73.0 357.4,77.9 358.2,80.3 359.0,75.2 359.8,73.6 360.6,72.2 361.4,70.4 362.2,74.1 363.0,71.4 363.8,76.2 364.6,68.1 365.4,76.4 366.2,76.8 367.0,72.9 367.8,73.7 368.6,74.9 369.4,73.7 370.2,70.0 371.0,75.6 371.8,81.4 372.6,79.0 373.4,74.4 374.2,74.2 375.0,76.6 375.8,71.7 376.6,70.7 377.4,77.2 378.2,73.9 379.0,74.8 379.8,70.3 380.6,73.0 381.4,71.5 382.2,76.3 383.0,76.7 383.8,75.8 384.6,67.3 385.4,73.0 386.2,78.6 387.0,75.9 387.8,71.3 388.6,73.6 389.4,74.7 390.2,75.2 391.0,73.2 391.8,75.3 392.6,78.2 393.4,74.2 394.2,71.7 395.0,78.6 395.8,72.7 396.6,73.8 397.4,76.4 398.2,77.6 399.0,72.7 399.8,75.8 400.6,76.7 401.4,71.6 402.2,76.2 403.0,75.6 403.8,72.7 404.6,77.0 405.4,75.7 406.2,75.2 407.0,78.4 407.8,74.8 408.6,69.0 409.4,79.1 410.2,71.9 411.0,71.6 411.8,72.5 412.6,72.3 413.4,74.9 414.2,70.8 415.0,72.1 415.8,75.4 416.6,75.2 417.4,72.6 418.2,74.6 419.0,76.2 419.8,75.2 420.6,74.2 421.4,76.1 422.2,78.9 423.0,77.4 423.8,77.7 424.6,73.8 425.4,75.4 426.2,72.1 427.0,75.9 427.8,76.3 428.6,78.8 429.4,76.6 430.2,78.6 431.0,71.7 431.8,76.2 432.6,75.8 433.4,78.2 434.2,71.7 435.0,75.8 435.8,75.9 436.6,74.8 437.4,73.5 438.2,74.1 439.0,70.8 439.8,75.8 440.6,76.0 441.4,70.9 442.2,76.6 443.0,74.0 443.8,79.4 444.6,77.6 445.4,71.3 446.2,75.5 447.0,76.6 447.8,78.9 448.6,72.6 449.4,75.6 450.2,76.2 451.0,75.3 451.8,78.5 452.6,76.3 453.4,76.2 454.2,73.2 455.0,75.6 455.8,73.9" fill="none" stroke="#000" stroke-width="0.5"/>
<path d="M331.0,71.9 331.8,71.8 332.6,74.2 333.4,74.9 334.2,76.2 335.0,75.4 335.8,72.5 336.6,70.8 337.4,77.1 338.2,71.8 339.0,71.2 339.8,71.8 340.6,77.4 341.4,69.8 342.2,70.9 343.0,75.7 343.8,75.5 344.6,71.3 345.4,71.4 346.2,72.7 347.0,71.3 347.8,76.5 348.6,72.1 349.4,72.3 350.2,69.9 351.0,76.0 351.8,78.3 352.6,71.3 353.4,70.9 354.2,73.0 355.0,74.4 355.8,73.0 356.6,78.6 357.4,70.8 358.2,73.3 359.0,74.0 359.8,77.6 360.6,69.6 361.4,68.1 362.2,68.5 363.0,72.9 363.8,72.4 364.6,68.4 365.4,74.3 366.2,73.3 367.0,78.0 367.8,70.2 368.6,66.5 369.4,67.1 370.2,72.0 371.0,74.0 371.8,71.2 372.6,70.8 373.4,75.5 374.2,74.6 375.0,73.1 375.8,75.1 376.6,78.2 377.4,71.0 378.2,77.1 379.0,76.0 379.8,73.7 380.6,70.7 381.4,72.3 382.2,71.6 383.0,70.1 383.8,69.7 384.6,71.2 385.4,75.5 386.2,71.1 387.0,74.0 387.8,73.4 388.6,73.3 389.4,71.3 390.2,73.8 391.0,68.9 391.8,73.6 392.6,71.4 393.4,72.1 394.2,73.2 395.0,71.5 395.8,74.7 396.6,72.2 397.4,73.0 398.2,71.1 399.0,70.7 399.8,72.2 400.6,72.7 401.4,67.9 402.2,71.7 403.0,72.2 403.8,71.4 404.6,74.0 405.4,71.6 406.2,74.6 407.0,65.7 407.8,72.3 408.6,73.2 409.4,75.0 410.2,72.3 411.0,74.5 411.8,74.1 412.6,73.1 413.4,72.7 414.2,74.0 415.0,70.7 415.8,76.3 416.6,67.9 417.4,72.7 418.2,72.0 419.0,73.7 419.8,74.4 420.6,74.2 421.4,72.1 422.2,70.6 423.0,74.6 423.8,72.5 424.6,70.8 425.4,76.8 426.2,82.7 427.0,71.4 427.8,75.0 428.6,71.5 429.4,69.5 430.2,73.4 431.0,71.2 431.8,74.8 432.6,67.8 433.4,71.3 434.2,75.8 435.0,74.1 435.8,75.2 436.6,73.4 437.4,71.6 438.2,72.4 439.0,75.3 439.8,74.9 440.6,69.5 441.4,69.9 442.2,69.5 443.0,73.4 443.8,73.7 444.6,75.2 445.4,75.6 446.2,73.5 447.0,72.2 447.8,69.0 448.6,77.7 449.4,71.2 450.2,77.8 451.0,72.3 451.8,74.6 452.6,69.0 453.4,75.8 454.2,75.1 455.0,67.4 455.8,71.2" fill="none" stroke="#000" stroke-width="0.5"/>
<path d="M331.0,71.5 331.8,66.3 332.6,71.2 333.4,72.8 334.2,76.7 335.0,73.6 335.8,69.1 336.6,74.9 337.4,70.9 338.2,71.5 339.0,75.7 339.8,71.3 340.6,77.4 341.4,72.5 342.2,70.8 343.0,76.7 343.8,68.1 344.6,78.7 345.4,72.3 346.2,69.0 347.0,73.3 347.8,79.6 348.6,64.7 349.4,69.1 350.2,68.9 351.0,69.6 351.8,70.2 352.6,70.1 353.4,75.1 354.2,68.3 355.0,71.0 355.8,72.0 356.6,74.3 357.4,66.6 358.2,76.8 359.0,78.6 359.8,74.2 360.6,72.3 361.4,75.8 362.2,71.4 363.0,74.7 363.8,72.1 364.6,71.1 365.4,69.6 366.2,71.3 367.0,75.8 367.8,74.4 368.6,72.5 369.4,69.3 370.2,67.5 371.0,74.3 371.8,71.8 372.6,75.9 373.4,80.0 374.2,75.2 375.0,74.6 375.8,73.2 376.6,68.8 377.4,74.6 378.2,71.8 379.0,69.6 379.8,72.1 380.6,69.6 381.4,72.2 382.2,81.1 383.0,70.0 383.8,73.9 384.6,75.3 385.4,76.6 386.2,71.5 387.0,76.5 387.8,70.2 388.6,73.6 389.4,68.4 390.2,71.7 391.0,70.7 391.8,75.3 392.6,65.6 393.4,74.3 394.2,73.4 395.0,72.9 395.8,71.4 396.6,78.0 397.4,80.5 398.2,73.2 399.0,76.8 399.8,73.9 400.6,73.8 401.4,72.4 402.2,77.1 403.0,75.0 403.8,76.1 404.6,68.6 405.4,75.2 406.2,73.9 407.0,72.1 407.8,75.0 408.6,73.5 409.4,73.6 410.2,75.0 411.0,74.0 411.8,77.2 412.6,76.9 413.4,71.5 414.2,76.0 415.0,74.0 415.8,72.8 416.6,74.9 417.4,79.6 418.2,70.4 419.0,72.9 419.8,76.0 420.6,77.1 421.4,74.2 422.2,71.4 423.0,79.6 423.8,74.1 424.6,80.7 425.4,74.6 426.2,72.8 427.0,73.3 427.8,77.6 428.6,76.1 429.4,74.0 430.2,76.7 431.0,71.3 431.8,70.0 432.6,73.0 433.4,74.0 434.2,73.1 435.0,73.0 435.8,74.3 436.6,71.3 437.4,76.4 438.2,74.9 439.0,76.3 439.8,73.4 440.6,78.6 441.4,68.3 442.2,72.5 443.0,72.6 443.8,75.0 444.6,78.1 445.4,71.6 446.2,80.4 447.0,75.7 447.8,77.8 448.6,71.3 449.4,70.2 450.2,72.0 451.0,75.1 451.8,70.9 452.6,69.7 453.4,78.1 454.2,71.1 455.0,69.2 455.8,70.3" fill="none" stroke="#000" stroke-width="0.5"/>
<path d="M331.0,76.3 331.8,71.6 332.6,83.2 333.4,70.0 334.2,75.0 335.0,75.5 335.8,77.5 336.6,75.4 337.4,72.4 338.2,72.5 339.0,71.6 339.8,81.5 340.6,70.9 341.4,68.4 342.2,73.1 343.0,73.6 343.8,72.7 344.6,73.4 345.4,76.5 346.2,78.9 347.0,71.4 347.8,77.7 348.6,71.6 349.4,71.7 350.2,75.7 351.0,74.0 351.8,75.7 352.6,76.9 353.4,73.4 354.2,77.4 355.0,74.1 355.8,75.0 356.6,76.1 357.4,76.9 358.2,73.0 359.0,76.1 359.8,71.4 360.6,76.7 361.4,76.9 362.2,76.2 363.0,73.8 363.8,78.4 364.6,76.3 365.4,76.0 366.2,70.0 367.0,72.9 367.8,80.1 368.6,77.5 369.4,74.8 370.2,77.7 371.0,73.6 371.8,72.2 372.6,74.1 373.4,75.0 374.2,75.4 375.0,74.1 375.8,77.1 376.6,77.7 377.4,74.8 378.2,75.1 379.0,76.4 379.8,75.3 380.6,79.2 381.4,76.8 382.2,77.8 383.0,74.2 383.8,73.6 384.6,69.3 385.4,81.2 386.2,72.8 387.0,77.4 387.8,78.1 388.6,69.9 389.4,71.2 390.2,79.2 391.0,74.9 391.8,70.3 392.6,75.2 393.4,74.2 394.2,70.8 395.0,79.7 395.8,75.9 396.6,76.2 397.4,73.1 398.2,75.8 399.0,80.0 399.8,74.1 400.6,76.1 401.4,76.8 402.2,76.8 403.0,73.5 403.8,77.6 404.6,83.0 405.4,74.8 406.2,72.1 407.0,77.4 407.8,78.7 408.6,71.2 409.4,84.6 410.2,78.5 411.0,86.0 411.8,78.5 412.6,77.7 413.4,72.8 414.2,77.7 415.0,78.3 415.8,78.2 416.6,77.5 417.4,76.9 418.2,75.4 419.0,77.8 419.8,71.2 420.6,75.6 421.4,77.4 422.2,77.0 423.0,75.8 423.8,76.2 424.6,76.8 425.4,74.6 426.2,75.9 427.0,78.6 427.8,77.7 428.6,75.5 429.4,70.2 430.2,73.7 431.0,76.9 431.8,77.2 432.6,73.4 433.4,77.4 434.2,76.7 435.0,79.3 435.8,76.4 436.6,80.0 437.4,77.0 438.2,77.5 439.0,73.1 439.8,69.4 440.6,77.9 441.4,80.2 442.2,77.7 443.0,80.1 443.8,75.6 444.6,73.0 445.4,77.1 446.2,71.4 447.0,75.9 447.8,75.8 448.6,74.0 449.4,74.0 450.2,72.6 451.0,72.9 451.8,70.0 452.6,72.3 453.4,77.1 454.2,74.4 455.0,79.6 455.8,72.0" fill="none" stroke="#000" stroke-width="0.5"/>
<path d="M331.0,71.4 331.8,71.1 332.6,69.8 333.4,78.2 334.2,68.3 335.0,69.2 335.8,71.0 336.6,69.9 337.4,67.4 338.2,72.5 339.0,72.1 339.8,69.1 340.6,67.0 341.4,71.4 342.2,65.6 343.0,71.2 343.8,73.1 344.6,67.8 345.4,73.1 346.2,69.5 347.0,69.4 347.8,69.4 348.6,69.5 349.4,68.0 350.2,76.2 351.0,73.1 351.8,64.9 352.6,70.9 353.4,68.7 354.2,66.9 355.0,65.6 355.8,70.7 356.6,68.9 357.4,71.0 358.2,68.9 359.0,69.5 359.8,75.0 360.6,75.2 361.4,68.3 362.2,74.1 363.0,65.9 363.8,72.2 364.6,71.1 365.4,65.3 366.2,72.9 367.0,67.9 367.8,73.0 368.6,64.9 369.4,68.1 370.2,74.5 371.0,64.9 371.8,66.3 372.6,69.3 373.4,74.4 374.2,67.6 375.0,73.1 375.8,67.1 376.6,77.7 377.4,65.2 378.2,67.4 379.0,66.8 379.8,69.4 380.6,68.3 381.4,71.5 382.2,67.1 383.0,76.8 383.8,69.7 384.6,72.8 385.4,71.2 386.2,69.7 387.0,70.8 387.8,71.9 388.6,74.4 389.4,70.5 390.2,68.8 391.0,64.8 391.8,74.4 392.6,73.4 393.4,72.8 394.2,72.0 395.0,70.6 395.8,70.3 396.6,67.4 397.4,71.8 398.2,67.1 399.0,67.8 399.8,71.2 400.6,70.3 401.4,74.3 402.2,71.1 403.0,68.7 403.8,73.8 404.6,72.5 405.4,69.4 406.2,67.7 407.0,74.8 407.8,70.9 408.6,68.0 409.4,67.5 410.2,67.5 411.0,68.2 411.8,71.2 412.6,73.7 413.4,67.0 414.2,66.3 415.0,72.7 415.8,70.1 416.6,75.4 417.4,73.2 418.2,67.9 419.0,72.4 419.8,72.6 420.6,67.8 421.4,68.8 422.2,68.7 423.0,65.7 423.8,70.9 424.6,67.7 425.4,65.3 426.2,69.5 427.0,69.2 427.8,78.0 428.6,74.5 429.4,70.1 430.2,69.0 431.0,71.4 431.8,72.1 432.6,69.3 433.4,72.9 434.2,71.1 435.0,68.8 435.8,64.5 436.6,67.1 437.4,66.0 438.2,70.9 439.0,69.9 439.8,74.6 440.6,69.3 441.4,69.8 442.2,71.3 443.0,73.4 443.8,66.7 444.6,75.5 445.4,76.2 446.2,70.3 447.0,72.2 447.8,65.1 448.6,67.6 449.4,70.9 450.2,73.9 451.0,68.9 451.8,69.3 452.6,70.0 453.4,68.7 454.2,72.2 455.0,68.5 455.8,66.1" fill="none" stroke="#000" stroke-width="0.5"/>
<path d="M331.0,56.8H331.8V57.7H332.6V57.7H333.4V55.7H334.2V58.1H335.0V58.4H335.8V56.6H336.6V54.4H337.4V55.3H338.2V55.5H339.0V54.5H339.8V58.6H340.6V58.0H341.4V56.9H342.2V57.0H343.0V56.5H343.8V56.6H344.6V58.2H345.4V58.0H346.2V58.8H347.0V58.7H347.8V58.6H348.6V55.8H349.4V54.7H350.2V55.0H351.0V58.9H351.8V58.0H352.6V59.2H353.4V58.1H354.2V53.4H355.0V54.7H355.8V56.3H356.6V55.8H357.4V59.0H358.2V59.0H359.0V59.5H359.8V59.4H360.6V56.9H361.4V53.8H362.2V53.3H363.0V58.2H363.8V58.5H364.6V56.5H365.4V54.5H366.2V54.9H367.0V54.6H367.8V54.1H368.6V55.6H369.4V58.6H370.2V58.6H371.0V55.4H371.8V56.1H372.6V56.7H373.4V58.4H374.2V56.9H375.0V56.5H375.8V57.4H376.6V58.5H377.4V57.1H378.2V57.1H379.0V57.2H379.8V56.7H380.6V57.2H381.4V58.0H382.2V57.4H383.0V56.1H383.8V56.5H384.6V54.0H385.4V54.5H386.2V55.5H387.0V59.4H387.8V57.2H388.6V55.6H389.4V58.8H390.2V58.6H391.0V58.7H391.8V57.1H392.6V54.8H393.4V58.3H394.2V54.0H395.0V58.2H395.8V58.1H396.6V54.6H397.4V58.5H398.2V55.2H399.0V56.4H399.8V54.6H400.6V58.4H401.4V58.4H402.2V58.6H403.0V58.5H403.8V56.2H404.6V55.8H405.4V57.1H406.2V57.6H407.0V57.6H407.8V57.9H408.6V57.1H409.4V55.7H410.2V59.1H411.0V55.5H411.8V54.4H412.6V55.6H413.4V55.8H414.2V58.9H415.0V57.6H415.8V58.1H416.6V55.4H417.4V54.7H418.2V57.3H419.0V57.6H419.8V57.0H420.6V58.3H421.4V56.2H422.2V56.6H423.0V57.0H423.8V58.7H424.6V54.5H425.4V58.2H426.2V58.3H427.0V58.3H427.8V57.5H428.6V56.8H429.4V52.1H430.2V56.2H431.0V57.3H431.8V57.7H432.6V60.3H433.4V57.2H434.2V54.8H435.0V55.7H435.8V58.0H436.6V58.4H437.4V58.4H438.2V58.4H439.0V59.1H439.8V53.1H440.6V56.6H441.4V55.3H442.2V58.2H443.0V55.4H443.8V56.3H444.6V58.2H445.4V57.7H446.2V52.6H447.0V53.9H447.8V57.6H448.6V58.1H449.4V58.4H450.2V59.0H451.0V58.4H451.8V58.2H452.6V58.2H453.4V57.5H454.2V59.4H455.0V58.2H455.8V58.0H456.6V59.5H455.8V62.8H455.0V62.0H454.2V61.0H453.4V64.3H452.6V61.7H451.8V64.0H451.0V60.8H450.2V59.4H449.4V64.3H448.6V60.6H447.8V62.8H447.0V61.8H446.2V59.9H445.4V60.6H444.6V64.2H443.8V63.8H443.0V62.0H442.2V59.2H441.4V60.4H440.6V60.0H439.8V61.9H439.0V62.4H438.2V63.2H437.4V61.6H436.6V61.2H435.8V59.6H435.0V61.4H434.2V62.6H433.4V61.9H432.6V63.5H431.8V60.2H431.0V60.8H430.2V60.5H429.4V59.1H428.6V60.3H427.8V60.0H427.0V59.4H426.2V59.3H425.4V60.6H424.6V62.4H423.8V62.1H423.0V59.7H422.2V61.4H421.4V61.7H420.6V65.0H419.8V63.7H419.0V64.2H418.2V60.5H417.4V64.0H416.6V59.9H415.8V59.4H415.0V59.2H414.2V63.2H413.4V58.8H412.6V60.1H411.8V59.2H411.0V63.2H410.2V60.1H409.4V63.3H408.6V61.7H407.8V61.8H407.0V61.2H406.2V62.0H405.4V59.2H404.6V59.6H403.8V60.9H403.0V59.9H402.2V60.8H401.4V63.5H400.6V63.1H399.8V62.4H399.0V60.8H398.2V61.1H397.4V61.6H396.6V62.2H395.8V59.8H395.0V58.7H394.2V58.8H393.4V58.7H392.6V59.9H391.8V62.6H391.0V60.6H390.2V62.4H389.4V62.8H388.6V63.2H387.8V64.9H387.0V58.9H386.2V59.6H385.4V59.0H384.6V60.5H383.8V61.8H383.0V60.6H382.2V60.2H381.4V60.3H380.6V60.5H379.8V60.0H379.0V61.8H378.2V62.4H377.4V62.8H376.6V63.9H375.8V63.6H375.0V60.6H374.2V63.3H373.4V59.1H372.6V59.4H371.8V61.7H371.0V60.8H370.2V62.3H369.4V60.0H368.6V59.7H367.8V59.5H367.0V58.5H366.2V60.2H365.4V62.2H364.6V60.7H363.8V64.2H363.0V60.4H362.2V62.5H361.4V62.5H360.6V64.6H359.8V64.7H359.0V60.2H358.2V62.2H357.4V62.5H356.6V62.1H355.8V60.5H355.0V60.2H354.2V61.5H353.4V61.2H352.6V60.5H351.8V61.7H351.0V62.2H350.2V59.9H349.4V60.6H348.6V61.3H347.8V62.0H347.0V62.4H346.2V60.4H345.4V60.3H344.6V60.1H343.8V63.3H343.0V60.4H342.2V59.8H341.4V60.6H340.6V63.5H339.8V59.0H339.0V61.7H338.2V59.1H337.4V59.0H336.6V62.3H335.8V58.5H335.0V58.8H334.2V62.7H333.4V59.2H332.6V58.8H331.8V62.1H331.0Z" fill="#000" fill-opacity="0.45"/>
<path d="M331.0,54.4H331.8V57.7H332.6V59.4H333.4V58.7H334.2V58.0H335.0V58.5H335.8V57.3H336.6V56.0H337.4V54.9H338.2V55.9H339.0V59.3H339.8V60.0H340.6V57.8H341.4V56.7H342.2V59.1H343.0V59.0H343.8V56.5H344.6V57.4H345.4V54.9H346.2V54.8H347.0V57.5H347.8V55.3H348.6V56.0H349.4V55.5H350.2V58.8H351.0V57.1H351.8V56.1H352.6V55.2H353.4V56.8H354.2V57.0H355.0V55.5H355.8V55.1H356.6V58.7H357.4V56.9H358.2V54.3H359.0V57.5H359.8V56.8H360.6V56.6H361.4V57.7H362.2V57.4H363.0V59.2H363.8V59.9H364.6V59.8H365.4V58.2H366.2V56.5H367.0V58.4H367.8V60.3H368.6V55.7H369.4V55.8H370.2V54.8H371.0V57.8H371.8V57.9H372.6V55.6H373.4V56.3H374.2V54.7H375.0V54.5H375.8V59.4H376.6V56.8H377.4V57.6H378.2V58.5H379.0V57.5H379.8V60.2H380.6V59.5H381.4V53.6H382.2V57.5H383.0V55.7H383.8V57.8H384.6V58.5H385.4V54.7H386.2V54.8H387.0V59.7H387.8V59.8H388.6V58.6H389.4V57.0H390.2V55.5H391.0V56.5H391.8V58.5H392.6V59.4H393.4V59.6H394.2V57.3H395.0V55.8H395.8V57.8H396.6V57.0H397.4V59.7H398.2V56.9H399.0V58.6H399.8V54.1H400.6V54.7H401.4V59.4H402.2V59.0H403.0V59.9H403.8V54.9H404.6V59.5H405.4V58.1H406.2V58.0H407.0V57.0H407.8V56.8H408.6V52.7H409.4V53.6H410.2V59.4H411.0V57.5H411.8V58.9H412.6V52.2H413.4V56.0H414.2V55.2H415.0V55.7H415.8V59.7H416.6V59.2H417.4V54.1H418.2V59.0H419.0V55.5H419.8V56.7H420.6V58.1H421.4V56.3H422.2V59.0H423.0V58.0H423.8V56.5H424.6V57.9H425.4V59.9H426.2V56.5H427.0V54.9H427.8V56.6H428.6V60.3H429.4V55.7H430.2V59.5H431.0V58.6H431.8V59.2H432.6V55.5H433.4V59.6H434.2V58.8H435.0V58.3H435.8V59.4H436.6V59.2H437.4V57.3H438.2V58.8H439.0V58.9H439.8V56.7H440.6V56.6H441.4V58.1H442.2V59.1H443.0V57.7H443.8V59.8H444.6V58.3H445.4V57.6H446.2V59.2H447.0V55.6H447.8V55.2H448.6V58.5H449.4V57.2H450.2V56.9H451.0V59.4H451.8V59.0H452.6V59.9H453.4V58.7H454.2V52.2H455.0V53.4H455.8V56.9H456.6V62.7H455.8V62.9H455.0V62.7H454.2V61.6H453.4V61.2H452.6V63.3H451.8V60.5H451.0V61.6H450.2V61.9H449.4V59.9H448.6V61.5H447.8V60.9H447.0V61.6H446.2V61.5H445.4V60.5H444.6V61.9H443.8V62.9H443.0V63.9H442.2V62.7H441.4V59.6H440.6V64.6H439.8V59.7H439.0V60.4H438.2V63.7H437.4V63.6H436.6V65.1H435.8V62.6H435.0V59.8H434.2V61.3H433.4V63.7H432.6V65.0H431.8V61.4H431.0V61.1H430.2V65.3H429.4V64.2H428.6V61.1H427.8V60.7H427.0V62.4H426.2V63.5H425.4V64.8H424.6V62.7H423.8V63.3H423.0V61.6H422.2V63.7H421.4V60.0H420.6V62.9H419.8V60.6H419.0V64.8H418.2V61.7H417.4V62.8H416.6V60.1H415.8V60.2H415.0V59.6H414.2V61.7H413.4V60.1H412.6V61.5H411.8V59.7H411.0V61.8H410.2V61.4H409.4V61.4H408.6V62.8H407.8V59.7H407.0V60.1H406.2V61.4H405.4V62.6H404.6V63.0H403.8V62.0H403.0V62.2H402.2V61.7H401.4V61.5H400.6V61.5H399.8V62.4H399.0V60.5H398.2V60.9H397.4V63.7H396.6V63.3H395.8V64.2H395.0V60.9H394.2V62.2H393.4V64.2H392.6V63.7H391.8V61.8H391.0V60.1H390.2V62.2H389.4V60.1H388.6V60.9H387.8V64.4H387.0V60.3H386.2V59.6H385.4V60.0H384.6V62.0H383.8V63.2H383.0V60.2H382.2V60.6H381.4V63.9H380.6V63.5H379.8V61.8H379.0V63.1H378.2V60.3H377.4V61.3H376.6V62.6H375.8V62.5H375.0V63.0H374.2V59.4H373.4V61.4H372.6V58.9H371.8V63.5H371.0V61.7H370.2V60.8H369.4V60.9H368.6V63.5H367.8V63.8H367.0V61.7H366.2V63.4H365.4V62.5H364.6V60.8H363.8V61.4H363.0V61.4H362.2V63.7H361.4V63.8H360.6V63.1H359.8V59.7H359.0V60.5H358.2V60.5H357.4V61.7H356.6V62.8H355.8V63.3H355.0V62.8H354.2V61.7H353.4V58.9H352.6V59.6H351.8V61.1H351.0V61.7H350.2V60.9H349.4V61.6H348.6V64.9H347.8V62.7H347.0V60.9H346.2V59.8H345.4V59.8H344.6V64.2H343.8V60.6H343.0V63.0H342.2V59.9H341.4V61.9H340.6V62.7H339.8V61.4H339.0V65.7H338.2V62.8H337.4V60.3H336.6V61.3H335.8V61.4H335.0V61.9H334.2V65.3H333.4V63.3H332.6V64.5H331.8V62.6H331.0Z" fill="#000" fill-opacity="0.45"/>
<path d="M331.0,55.7H331.8V55.2H332.6V57.8H333.4V58.7H334.2V57.0H335.0V56.9H335.8V52.6H336.6V53.3H337.4V54.1H338.2V53.8H339.0V57.9H339.8V53.7H340.6V57.3H341.4V54.6H342.2V53.7H343.0V55.2H343.8V52.6H344.6V55.9H345.4V57.5H346.2V57.2H347.0V54.1H347.8V58.6H348.6V58.0H349.4V55.3H350.2V54.1H351.0V58.3H351.8V58.3H352.6V56.6H353.4V56.5H354.2V54.8H355.0V54.7H355.8V55.5H356.6V54.1H357.4V53.9H358.2V55.9H359.0V55.7H359.8V56.0H360.6V56.3H361.4V54.8H362.2V55.0H363.0V56.3H363.8V58.2H364.6V58.2H365.4V57.4H366.2V58.7H367.0V57.0H367.8V54.8H368.6V52.4H369.4V57.1H370.2V57.1H371.0V57.7H371.8V54.4H372.6V55.3H373.4V54.4H374.2V58.7H375.0V54.7H375.8V54.6H376.6V57.0H377.4V58.9H378.2V56.3H379.0V54.5H379.8V55.1H380.6V57.7H381.4V58.7H382.2V57.5H383.0V55.1H383.8V54.2H384.6V53.2H385.4V58.2H386.2V58.1H387.0V58.3H387.8V56.3H388.6V56.9H389.4V57.4H390.2V53.7H391.0V54.6H391.8V59.1H392.6V54.4H393.4V56.3H394.2V58.7H395.0V56.1H395.8V56.1H396.6V57.7H397.4V57.3H398.2V57.9H399.0V54.5H399.8V55.8H400.6V58.7H401.4V58.1H402.2V53.3H403.0V56.7H403.8V59.0H404.6V57.5H405.4V56.8H406.2V58.9H407.0V53.4H407.8V53.3H408.6V52.5H409.4V56.0H410.2V52.6H411.0V55.4H411.8V57.7H412.6V55.9H413.4V58.6H414.2V56.8H415.0V56.6H415.8V58.1H416.6V57.7H417.4V54.7H418.2V56.1H419.0V52.4H419.8V57.1H420.6V57.3H421.4V53.9H422.2V54.8H423.0V54.5H423.8V55.5H424.6V57.8H425.4V56.9H426.2V54.6H427.0V55.6H427.8V55.4H428.6V58.8H429.4V56.2H430.2V57.6H431.0V58.2H431.8V56.7H432.6V55.8H433.4V56.1H434.2V56.4H435.0V55.6H435.8V58.2H436.6V59.3H437.4V54.2H438.2V58.2H439.0V57.3H439.8V55.0H440.6V59.4H441.4V57.0H442.2V55.0H443.0V55.8H443.8V56.5H444.6V57.7H445.4V56.9H446.2V56.4H447.0V58.7H447.8V55.8H448.6V56.0H449.4V58.7H450.2V57.6H451.0V58.1H451.8V58.6H452.6V57.2H453.4V57.7H454.2V56.2H455.0V58.1H455.8V55.9H456.6V61.3H455.8V63.7H455.0V60.4H454.2V61.2H453.4V59.8H452.6V60.0H451.8V61.8H451.0V61.4H450.2V60.5H449.4V63.2H448.6V59.6H447.8V61.6H447.0V61.7H446.2V61.6H445.4V59.0H444.6V60.0H443.8V59.2H443.0V58.3H442.2V61.2H441.4V60.4H440.6V62.5H439.8V59.9H439.0V61.2H438.2V59.5H437.4V60.5H436.6V63.4H435.8V62.2H435.0V60.2H434.2V61.5H433.4V58.8H432.6V60.6H431.8V62.0H431.0V60.4H430.2V61.3H429.4V59.8H428.6V61.9H427.8V61.9H427.0V59.3H426.2V61.2H425.4V63.6H424.6V61.8H423.8V60.2H423.0V63.0H422.2V59.9H421.4V60.1H420.6V62.3H419.8V63.6H419.0V60.6H418.2V61.0H417.4V60.9H416.6V60.0H415.8V62.5H415.0V60.9H414.2V60.4H413.4V60.8H412.6V62.0H411.8V61.9H411.0V58.9H410.2V58.8H409.4V59.6H408.6V59.3H407.8V60.2H407.0V62.2H406.2V61.7H405.4V61.6H404.6V59.7H403.8V62.1H403.0V61.1H402.2V60.4H401.4V62.7H400.6V63.9H399.8V59.4H399.0V60.7H398.2V63.5H397.4V58.7H396.6V62.5H395.8V60.4H395.0V63.4H394.2V62.0H393.4V59.4H392.6V60.1H391.8V63.4H391.0V62.0H390.2V62.2H389.4V59.4H388.6V61.9H387.8V60.9H387.0V59.3H386.2V60.1H385.4V59.0H384.6V60.1H383.8V61.1H383.0V63.5H382.2V62.9H381.4V62.9H380.6V59.2H379.8V60.1H379.0V59.2H378.2V61.7H377.4V62.9H376.6V60.3H375.8V62.4H375.0V61.2H374.2V60.6H373.4V63.2H372.6V61.3H371.8V62.0H371.0V60.9H370.2V62.0H369.4V60.1H368.6V60.2H367.8V61.8H367.0V59.5H366.2V61.2H365.4V60.4H364.6V60.5H363.8V60.1H363.0V59.4H362.2V59.0H361.4V59.4H360.6V59.8H359.8V61.8H359.0V62.6H358.2V60.5H357.4V64.5H356.6V59.5H355.8V61.3H355.0V61.9H354.2V61.3H353.4V60.1H352.6V61.1H351.8V63.0H351.0V59.3H350.2V58.9H349.4V58.6H348.6V60.8H347.8V59.4H347.0V63.4H346.2V59.9H345.4V61.5H344.6V62.9H343.8V61.5H343.0V60.4H342.2V59.0H341.4V61.7H340.6V60.6H339.8V60.7H339.0V58.3H338.2V60.3H337.4V60.0H336.6V58.6H335.8V62.0H335.0V60.1H334.2V61.7H333.4V63.3H332.6V59.8H331.8V63.2H331.0Z" fill="#000" fill-opacity="0.45"/>
<path d="M331.0,57.1H331.8V59.1H332.6V56.7H333.4V56.9H334.2V56.0H335.0V57.8H335.8V57.5H336.6V58.5H337.4V59.1H338.2V59.1H339.0V59.1H339.8V54.9H340.6V55.4H341.4V55.0H342.2V54.6H343.0V58.1H343.8V54.7H344.6V57.8H345.4V56.9H346.2V55.3H347.0V54.7H347.8V56.1H348.6V52.6H349.4V55.8H350.2V58.5H351.0V58.9H351.8V55.1H352.6V56.7H353.4V58.5H354.2V53.9H355.0V58.1H355.8V59.3H356.6V58.8H357.4V57.7H358.2V52.2H359.0V56.8H359.8V57.0H360.6V59.7H361.4V59.5H362.2V54.9H363.0V55.8H363.8V59.1H364.6V53.5H365.4V53.4H366.2V56.6H367.0V55.2H367.8V58.7H368.6V57.0H369.4V58.4H370.2V56.9H371.0V56.7H371.8V54.2H372.6V58.8H373.4V58.9H374.2V56.1H375.0V58.8H375.8V53.0H376.6V58.1H377.4V52.1H378.2V55.8H379.0V58.0H379.8V56.5H380.6V56.4H381.4V56.0H382.2V56.8H383.0V57.8H383.8V56.1H384.6V58.7H385.4V55.4H386.2V56.4H387.0V57.8H387.8V51.5H388.6V58.1H389.4V58.0H390.2V56.9H391.0V56.1H391.8V57.3H392.6V53.5H393.4V56.1H394.2V54.8H395.0V54.8H395.8V55.8H396.6V58.5H397.4V57.1H398.2V56.6H399.0V59.8H399.8V54.5H400.6V57.3H401.4V57.8H402.2V59.5H403.0V57.4H403.8V55.1H404.6V57.5H405.4V59.7H406.2V58.2H407.0V58.0H407.8V57.6H408.6V53.9H409.4V58.6H410.2V55.5H411.0V58.3H411.8V54.0H412.6V53.1H413.4V58.0H414.2V58.7H415.0V57.1H415.8V55.8H416.6V54.4H417.4V59.0H418.2V58.8H419.0V59.2H419.8V57.8H420.6V54.9H421.4V58.3H422.2V56.8H423.0V55.1H423.8V58.6H424.6V55.6H425.4V56.5H426.2V58.7H427.0V56.6H427.8V59.4H428.6V56.1H429.4V58.7H430.2V57.8H431.0V55.6H431.8V57.5H432.6V57.8H433.4V58.2H434.2V55.2H435.0V55.5H435.8V55.7H436.6V56.6H437.4V59.1H438.2V55.7H439.0V59.7H439.8V53.8H440.6V54.2H441.4V54.8H442.2V58.9H443.0V54.6H443.8V58.3H444.6V54.3H445.4V57.1H446.2V59.4H447.0V56.2H447.8V57.2H448.6V59.8H449.4V55.7H450.2V58.6H451.0V56.1H451.8V59.2H452.6V55.6H453.4V56.2H454.2V54.8H455.0V58.2H455.8V57.3H456.6V62.2H455.8V60.5H455.0V62.3H454.2V61.8H453.4V61.0H452.6V61.6H451.8V61.1H451.0V60.1H450.2V62.0H449.4V61.1H448.6V63.9H447.8V61.1H447.0V62.5H446.2V61.5H445.4V62.7H444.6V59.9H443.8V62.6H443.0V63.6H442.2V62.1H441.4V61.6H440.6V61.3H439.8V62.2H439.0V60.2H438.2V62.6H437.4V64.2H436.6V61.1H435.8V60.4H435.0V62.3H434.2V60.8H433.4V60.3H432.6V62.8H431.8V62.1H431.0V60.5H430.2V60.0H429.4V64.7H428.6V62.4H427.8V61.4H427.0V60.2H426.2V61.4H425.4V61.7H424.6V62.4H423.8V60.3H423.0V61.5H422.2V62.0H421.4V60.7H420.6V60.9H419.8V60.3H419.0V59.9H418.2V60.4H417.4V59.8H416.6V59.2H415.8V60.7H415.0V62.2H414.2V63.1H413.4V62.3H412.6V59.6H411.8V64.6H411.0V63.8H410.2V60.7H409.4V61.2H408.6V62.0H407.8V60.0H407.0V61.0H406.2V63.1H405.4V60.5H404.6V61.3H403.8V62.3H403.0V60.4H402.2V61.7H401.4V61.4H400.6V61.2H399.8V61.9H399.0V59.8H398.2V62.3H397.4V60.0H396.6V59.3H395.8V59.7H395.0V63.0H394.2V60.7H393.4V60.5H392.6V61.6H391.8V60.1H391.0V63.0H390.2V63.0H389.4V62.7H388.6V60.7H387.8V60.3H387.0V59.8H386.2V61.1H385.4V61.6H384.6V62.0H383.8V61.8H383.0V62.1H382.2V64.2H381.4V60.1H380.6V59.5H379.8V59.4H379.0V63.7H378.2V59.8H377.4V59.4H376.6V63.0H375.8V59.0H375.0V60.8H374.2V60.7H373.4V59.3H372.6V61.8H371.8V61.1H371.0V59.3H370.2V61.1H369.4V60.6H368.6V59.3H367.8V62.2H367.0V63.9H366.2V62.5H365.4V60.4H364.6V61.4H363.8V61.6H363.0V62.4H362.2V61.0H361.4V60.2H360.6V61.2H359.8V62.1H359.0V60.4H358.2V61.8H357.4V62.9H356.6V60.3H355.8V62.0H355.0V61.1H354.2V63.3H353.4V62.7H352.6V63.3H351.8V63.8H351.0V59.5H350.2V60.8H349.4V58.4H348.6V58.8H347.8V59.4H347.0V62.2H346.2V59.8H345.4V62.4H344.6V61.5H343.8V63.1H343.0V60.8H342.2V63.5H341.4V59.9H340.6V61.5H339.8V64.6H339.0V62.6H338.2V60.9H337.4V59.7H336.6V59.7H335.8V60.8H335.0V63.3H334.2V59.2H333.4V63.8H332.6V62.5H331.8V60.0H331.0Z" fill="#000" fill-opacity="0.45"/>
<path d="M331.0,56.3H331.8V58.7H332.6V57.7H333.4V57.4H334.2V58.7H335.0V56.2H335.8V59.8H336.6V57.2H337.4V57.9H338.2V58.6H339.0V56.5H339.8V55.3H340.6V56.1H341.4V57.8H342.2V57.6H343.0V58.4H343.8V58.2H344.6V56.6H345.4V59.8H346.2V56.0H347.0V57.4H347.8V60.2H348.6V59.6H349.4V60.8H350.2V57.8H351.0V57.7H351.8V59.8H352.6V55.9H353.4V54.3H354.2V58.8H355.0V58.0H355.8V55.8H356.6V56.1H357.4V57.6H358.2V55.6H359.0V57.7H359.8V57.0H360.6V58.5H361.4V57.2H362.2V59.5H363.0V58.1H363.8V59.2H364.6V59.3H365.4V55.4H366.2V58.5H367.0V57.6H367.8V59.8H368.6V57.0H369.4V57.8H370.2V55.9H371.0V59.8H371.8V60.8H372.6V60.6H373.4V60.3H374.2V55.8H375.0V60.1H375.8V57.8H376.6V60.2H377.4V60.2H378.2V57.3H379.0V58.1H379.8V59.0H380.6V57.6H381.4V59.2H382.2V57.9H383.0V59.9H383.8V59.6H384.6V58.8H385.4V56.9H386.2V59.6H387.0V60.2H387.8V55.6H388.6V59.7H389.4V56.8H390.2V55.3H391.0V59.3H391.8V57.0H392.6V58.0H393.4V56.9H394.2V58.1H395.0V59.5H395.8V55.7H396.6V59.3H397.4V60.2H398.2V58.6H399.0V57.3H399.8V58.9H400.6V57.8H401.4V58.4H402.2V55.5H403.0V59.3H403.8V55.3H404.6V54.5H405.4V60.0H406.2V56.1H407.0V58.4H407.8V59.0H408.6V57.8H409.4V59.5H410.2V56.7H411.0V60.5H411.8V58.7H412.6V60.0H413.4V58.9H414.2V57.5H415.0V56.9H415.8V57.0H416.6V56.4H417.4V57.8H418.2V53.0H419.0V58.5H419.8V58.0H420.6V56.2H421.4V56.6H422.2V56.5H423.0V58.7H423.8V60.3H424.6V57.6H425.4V53.3H426.2V60.3H427.0V59.0H427.8V59.6H428.6V58.9H429.4V57.2H430.2V58.2H431.0V57.2H431.8V55.7H432.6V58.3H433.4V57.5H434.2V59.2H435.0V59.5H435.8V58.0H436.6V60.0H437.4V58.5H438.2V58.2H439.0V59.0H439.8V59.2H440.6V57.4H441.4V58.5H442.2V59.7H443.0V55.1H443.8V57.2H444.6V59.7H445.4V59.7H446.2V55.9H447.0V59.2H447.8V60.8H448.6V57.6H449.4V58.8H450.2V56.6H451.0V60.5H451.8V59.1H452.6V57.8H453.4V58.4H454.2V57.2H455.0V57.1H455.8V59.4H456.6V63.6H455.8V63.6H455.0V62.7H454.2V62.1H453.4V64.2H452.6V62.0H451.8V61.5H451.0V61.0H450.2V62.4H449.4V62.0H448.6V65.0H447.8V63.6H447.0V61.4H446.2V60.2H445.4V61.2H444.6V64.2H443.8V61.4H443.0V62.7H442.2V62.3H441.4V62.9H440.6V60.6H439.8V63.6H439.0V63.3H438.2V60.4H437.4V63.9H436.6V60.8H435.8V60.6H435.0V61.3H434.2V61.9H433.4V62.8H432.6V63.7H431.8V59.6H431.0V63.6H430.2V60.8H429.4V61.4H428.6V62.4H427.8V62.3H427.0V61.6H426.2V62.4H425.4V64.7H424.6V60.8H423.8V63.1H423.0V61.3H422.2V60.9H421.4V63.9H420.6V63.1H419.8V61.0H419.0V61.3H418.2V60.1H417.4V61.8H416.6V61.4H415.8V65.0H415.0V61.2H414.2V64.0H413.4V62.7H412.6V61.3H411.8V61.7H411.0V62.5H410.2V63.0H409.4V60.6H408.6V61.4H407.8V65.0H407.0V62.0H406.2V64.5H405.4V60.9H404.6V63.4H403.8V62.1H403.0V62.9H402.2V62.7H401.4V61.1H400.6V61.8H399.8V61.9H399.0V63.4H398.2V64.3H397.4V62.5H396.6V61.7H395.8V61.5H395.0V64.7H394.2V63.7H393.4V62.7H392.6V62.6H391.8V61.4H391.0V63.2H390.2V60.8H389.4V62.6H388.6V60.7H387.8V62.4H387.0V60.6H386.2V60.5H385.4V60.5H384.6V60.5H383.8V63.2H383.0V64.1H382.2V65.9H381.4V61.0H380.6V63.0H379.8V61.3H379.0V61.4H378.2V62.7H377.4V62.5H376.6V61.5H375.8V63.0H375.0V62.0H374.2V61.9H373.4V61.5H372.6V65.6H371.8V62.0H371.0V61.5H370.2V62.3H369.4V59.9H368.6V63.2H367.8V62.6H367.0V63.1H366.2V62.9H365.4V64.9H364.6V64.3H363.8V63.0H363.0V63.0H362.2V63.1H361.4V63.5H360.6V61.5H359.8V61.2H359.0V60.3H358.2V62.2H357.4V62.6H356.6V63.4H355.8V62.9H355.0V63.4H354.2V62.1H353.4V60.4H352.6V61.9H351.8V63.5H351.0V63.6H350.2V63.0H349.4V65.6H348.6V61.8H347.8V63.3H347.0V64.5H346.2V65.3H345.4V65.3H344.6V61.9H343.8V61.3H343.0V62.6H342.2V64.5H341.4V64.1H340.6V62.4H339.8V61.5H339.0V63.1H338.2V64.3H337.4V60.4H336.6V61.8H335.8V63.7H335.0V63.3H334.2V62.1H333.4V61.6H332.6V61.4H331.8V62.4H331.0Z" fill="#000" fill-opacity="0.45"/>
<path d="M331.0,59.5H331.8V55.7H332.6V55.9H333.4V59.2H334.2V56.9H335.0V56.5H335.8V58.8H336.6V60.6H337.4V60.0H338.2V57.8H339.0V58.7H339.8V55.2H340.6V60.3H341.4V55.7H342.2V59.9H343.0V57.1H343.8V55.8H344.6V59.2H345.4V57.2H346.2V54.6H347.0V55.8H347.8V60.0H348.6V57.0H349.4V59.5H350.2V59.9H351.0V55.1H351.8V54.0H352.6V60.3H353.4V59.0H354.2V59.4H355.0V58.9H355.8V56.5H356.6V59.4H357.4V56.9H358.2V57.0H359.0V56.8H359.8V59.5H360.6V57.8H361.4V58.1H362.2V59.9H363.0V57.7H363.8V59.7H364.6V60.8H365.4V59.4H366.2V57.9H367.0V58.5H367.8V56.3H368.6V59.1H369.4V58.7H370.2V57.5H371.0V57.6H371.8V58.3H372.6V57.7H373.4V55.8H374.2V59.2H375.0V59.1H375.8V58.3H376.6V57.5H377.4V59.1H378.2V58.5H379.0V59.0H379.8V57.3H380.6V59.1H381.4V58.1H382.2V55.9H383.0V57.6H383.8V57.1H384.6V58.3H385.4V58.4H386.2V56.3H387.0V57.8H387.8V60.5H388.6V58.6H389.4V56.9H390.2V60.3H391.0V59.4H391.8V56.5H392.6V58.8H393.4V59.8H394.2V56.8H395.0V58.0H395.8V58.1H396.6V59.6H397.4V59.4H398.2V59.5H399.0V60.2H399.8V58.9H400.6V61.0H401.4V60.8H402.2V58.9H403.0V60.4H403.8V57.7H404.6V57.2H405.4V60.2H406.2V58.7H407.0V57.2H407.8V59.8H408.6V60.7H409.4V59.4H410.2V58.5H411.0V59.4H411.8V59.6H412.6V55.3H413.4V57.1H414.2V55.7H415.0V56.9H415.8V58.4H416.6V57.9H417.4V57.4H418.2V58.6H419.0V59.8H419.8V60.0H420.6V59.5H421.4V60.7H422.2V56.6H423.0V58.7H423.8V55.3H424.6V57.8H425.4V59.5H426.2V59.9H427.0V58.8H427.8V57.2H428.6V58.2H429.4V57.2H430.2V58.2H431.0V56.9H431.8V59.5H432.6V58.6H433.4V58.8H434.2V55.3H435.0V56.8H435.8V58.3H436.6V58.0H437.4V55.6H438.2V59.5H439.0V60.0H439.8V59.3H440.6V59.1H441.4V57.0H442.2V56.2H443.0V53.4H443.8V59.5H444.6V59.9H445.4V58.1H446.2V59.0H447.0V60.3H447.8V56.8H448.6V56.4H449.4V59.8H450.2V58.0H451.0V60.5H451.8V59.6H452.6V58.7H453.4V59.1H454.2V59.8H455.0V60.5H455.8V59.9H456.6V61.6H455.8V62.9H455.0V62.4H454.2V60.8H453.4V62.8H452.6V63.2H451.8V61.8H451.0V62.1H450.2V62.9H449.4V60.1H448.6V62.0H447.8V62.8H447.0V63.8H446.2V65.8H445.4V62.3H444.6V62.9H443.8V61.8H443.0V60.1H442.2V64.7H441.4V63.4H440.6V63.9H439.8V63.1H439.0V62.2H438.2V60.5H437.4V64.5H436.6V60.3H435.8V62.7H435.0V63.1H434.2V63.2H433.4V61.7H432.6V65.3H431.8V62.3H431.0V65.5H430.2V64.7H429.4V63.3H428.6V62.0H427.8V63.3H427.0V62.7H426.2V62.6H425.4V63.7H424.6V61.6H423.8V62.6H423.0V65.6H422.2V63.3H421.4V62.1H420.6V62.5H419.8V61.7H419.0V64.2H418.2V63.3H417.4V62.8H416.6V63.4H415.8V62.4H415.0V62.0H414.2V62.5H413.4V62.0H412.6V61.4H411.8V60.6H411.0V61.3H410.2V63.7H409.4V61.6H408.6V60.8H407.8V60.6H407.0V63.3H406.2V63.6H405.4V61.9H404.6V64.8H403.8V60.7H403.0V61.9H402.2V65.3H401.4V63.5H400.6V63.9H399.8V64.1H399.0V62.0H398.2V63.5H397.4V61.6H396.6V63.3H395.8V61.0H395.0V62.2H394.2V61.9H393.4V61.6H392.6V63.4H391.8V61.2H391.0V62.3H390.2V61.9H389.4V63.9H388.6V65.3H387.8V63.7H387.0V64.9H386.2V64.4H385.4V60.9H384.6V64.9H383.8V64.7H383.0V61.2H382.2V63.6H381.4V61.3H380.6V66.5H379.8V60.8H379.0V61.6H378.2V64.3H377.4V63.9H376.6V63.6H375.8V63.2H375.0V63.4H374.2V62.1H373.4V64.7H372.6V62.5H371.8V63.1H371.0V62.2H370.2V60.4H369.4V64.6H368.6V62.7H367.8V61.8H367.0V63.8H366.2V62.1H365.4V61.8H364.6V61.0H363.8V63.2H363.0V64.5H362.2V61.1H361.4V61.0H360.6V61.0H359.8V64.3H359.0V62.9H358.2V64.0H357.4V62.3H356.6V60.8H355.8V61.9H355.0V63.2H354.2V61.4H353.4V62.7H352.6V65.1H351.8V62.4H351.0V62.2H350.2V61.4H349.4V66.7H348.6V63.2H347.8V60.6H347.0V60.8H346.2V63.2H345.4V64.4H344.6V61.3H343.8V62.5H343.0V61.2H342.2V63.7H341.4V63.6H340.6V61.2H339.8V60.8H339.0V64.4H338.2V66.2H337.4V62.3H336.6V62.3H335.8V63.4H335.0V63.7H334.2V62.7H333.4V62.2H332.6V61.2H331.8V63.3H331.0Z" fill="#000" fill-opacity="0.45"/>
<path d="M331.0,56.6H331.8V57.1H332.6V55.6H333.4V57.4H334.2V54.3H335.0V56.2H335.8V57.2H336.6V55.0H337.4V56.6H338.2V57.7H339.0V56.3H339.8V59.2H340.6V59.4H341.4V56.3H342.2V56.0H343.0V53.4H343.8V55.2H344.6V59.5H345.4V57.2H346.2V57.5H347.0V56.2H347.8V59.2H348.6V53.9H349.4V54.8H350.2V56.2H351.0V55.9H351.8V53.6H352.6V56.7H353.4V57.3H354.2V53.5H355.0V55.2H355.8V58.7H356.6V53.9H357.4V58.6H358.2V54.5H359.0V59.5H359.8V53.4H360.6V57.9H361.4V59.1H362.2V58.7H363.0V57.7H363.8V56.0H364.6V55.2H365.4V55.3H366.2V59.7H367.0V57.7H367.8V58.8H368.6V57.1H369.4V59.6H370.2V56.9H371.0V52.5H371.8V57.2H372.6V58.4H373.4V58.1H374.2V57.5H375.0V59.1H375.8V58.1H376.6V57.9H377.4V56.2H378.2V56.3H379.0V53.6H379.8V59.2H380.6V54.3H381.4V58.8H382.2V58.3H383.0V57.3H383.8V54.8H384.6V56.7H385.4V55.3H386.2V57.0H387.0V57.2H387.8V53.3H388.6V58.6H389.4V57.9H390.2V57.1H391.0V59.8H391.8V59.1H392.6V60.2H393.4V57.3H394.2V58.9H395.0V53.6H395.8V57.9H396.6V57.4H397.4V58.3H398.2V58.7H399.0V55.9H399.8V55.3H400.6V58.7H401.4V56.8H402.2V58.7H403.0V54.0H403.8V58.5H404.6V54.8H405.4V56.2H406.2V53.5H407.0V58.5H407.8V55.7H408.6V58.0H409.4V58.2H410.2V55.9H411.0V58.8H411.8V56.5H412.6V57.6H413.4V59.3H414.2V53.8H415.0V55.5H415.8V56.3H416.6V55.8H417.4V58.2H418.2V57.0H419.0V58.0H419.8V57.2H420.6V58.5H421.4V58.6H422.2V57.0H423.0V56.9H423.8V57.6H424.6V58.0H425.4V53.0H426.2V54.0H427.0V56.0H427.8V56.2H428.6V58.5H429.4V57.0H430.2V57.9H431.0V55.2H431.8V55.2H432.6V58.0H433.4V57.8H434.2V56.3H435.0V54.7H435.8V59.5H436.6V57.2H437.4V57.6H438.2V57.5H439.0V59.1H439.8V58.7H440.6V57.2H441.4V56.6H442.2V56.0H443.0V54.8H443.8V57.4H444.6V57.0H445.4V54.5H446.2V57.1H447.0V54.1H447.8V56.6H448.6V57.0H449.4V58.9H450.2V53.1H451.0V56.8H451.8V57.7H452.6V52.8H453.4V53.2H454.2V55.5H455.0V53.5H455.8V58.9H456.6V62.0H455.8V60.2H455.0V61.0H454.2V61.3H453.4V61.2H452.6V60.9H451.8V62.1H451.0V62.1H450.2V61.1H449.4V60.5H448.6V61.2H447.8V59.1H447.0V64.1H446.2V60.4H445.4V60.7H444.6V59.8H443.8V59.7H443.0V62.5H442.2V60.2H441.4V62.4H440.6V60.9H439.8V59.9H439.0V61.8H438.2V65.1H437.4V62.2H436.6V62.5H435.8V62.3H435.0V64.0H434.2V60.0H433.4V60.9H432.6V61.4H431.8V62.1H431.0V60.9H430.2V59.8H429.4V64.1H428.6V63.3H427.8V59.2H427.0V60.4H426.2V59.3H425.4V61.4H424.6V60.6H423.8V61.7H423.0V60.3H422.2V61.7H421.4V59.9H420.6V60.3H419.8V66.5H419.0V61.1H418.2V63.1H417.4V64.2H416.6V62.0H415.8V63.1H415.0V59.4H414.2V60.5H413.4V60.3H412.6V60.8H411.8V62.1H411.0V59.5H410.2V61.3H409.4V62.6H408.6V59.1H407.8V61.5H407.0V60.1H406.2V63.5H405.4V63.9H404.6V61.4H403.8V61.1H403.0V61.1H402.2V59.4H401.4V60.1H400.6V61.7H399.8V60.1H399.0V64.6H398.2V61.3H397.4V62.1H396.6V60.0H395.8V63.7H395.0V65.4H394.2V64.4H393.4V60.5H392.6V62.5H391.8V63.2H391.0V62.1H390.2V59.7H389.4V61.9H388.6V60.0H387.8V62.3H387.0V60.5H386.2V62.3H385.4V62.1H384.6V60.4H383.8V62.1H383.0V62.0H382.2V63.3H381.4V59.4H380.6V62.1H379.8V63.4H379.0V63.8H378.2V60.8H377.4V60.0H376.6V60.0H375.8V61.8H375.0V60.4H374.2V61.3H373.4V60.9H372.6V59.3H371.8V60.7H371.0V59.6H370.2V60.3H369.4V59.7H368.6V60.9H367.8V63.7H367.0V62.4H366.2V65.2H365.4V62.8H364.6V60.9H363.8V61.4H363.0V60.3H362.2V61.1H361.4V60.9H360.6V61.4H359.8V59.9H359.0V61.4H358.2V63.8H357.4V60.8H356.6V63.3H355.8V63.9H355.0V62.6H354.2V61.7H353.4V61.2H352.6V63.1H351.8V61.3H351.0V62.2H350.2V61.1H349.4V63.3H348.6V61.5H347.8V59.8H347.0V62.1H346.2V60.6H345.4V60.8H344.6V61.9H343.8V61.4H343.0V61.4H342.2V60.0H341.4V60.9H340.6V60.3H339.8V59.8H339.0V62.6H338.2V62.0H337.4V63.1H336.6V63.8H335.8V61.4H335.0V61.2H334.2V59.9H333.4V59.3H332.6V63.0H331.8V63.1H331.0Z" fill="#000" fill-opacity="0.45"/>
<path d="M331.0,85.1H331.8V86.2H332.6V87.1H333.4V86.5H334.2V85.5H335.0V83.0H335.8V84.6H336.6V84.5H337.4V85.4H338.2V83.5H339.0V85.3H339.8V84.0H340.6V85.5H341.4V82.8H342.2V85.1H343.0V83.9H343.8V85.1H344.6V84.7H345.4V84.6H346.2V85.1H347.0V84.1H347.8V84.2H348.6V85.3H349.4V85.0H350.2V83.4H351.0V84.8H351.8V86.1H352.6V84.5H353.4V84.4H354.2V84.1H355.0V85.4H355.8V85.0H356.6V83.8H357.4V86.1H358.2V85.2H359.0V84.6H359.8V85.5H360.6V85.9H361.4V86.0H362.2V86.3H363.0V84.8H363.8V84.5H364.6V84.5H365.4V84.8H366.2V84.2H367.0V85.9H367.8V86.1H368.6V86.6H369.4V84.3H370.2V84.9H371.0V84.5H371.8V85.6H372.6V83.0H373.4V84.7H374.2V84.5H375.0V84.9H375.8V85.8H376.6V85.0H377.4V84.3H378.2V85.0H379.0V86.1H379.8V85.4H380.6V86.2H381.4V86.7H382.2V85.2H383.0V85.3H383.8V84.7H384.6V86.0H385.4V84.9H386.2V84.4H387.0V85.7H387.8V85.4H388.6V86.1H389.4V85.9H390.2V85.6H391.0V86.1H391.8V86.4H392.6V85.3H393.4V85.6H394.2V83.3H395.0V85.1H395.8V85.9H396.6V85.1H397.4V85.3H398.2V84.0H399.0V84.9H399.8V86.0H400.6V85.1H401.4V84.5H402.2V85.0H403.0V86.1H403.8V85.5H404.6V84.1H405.4V84.9H406.2V84.5H407.0V85.0H407.8V85.8H408.6V84.5H409.4V86.2H410.2V85.3H411.0V84.7H411.8V85.0H412.6V85.4H413.4V86.6H414.2V84.6H415.0V86.5H415.8V86.0H416.6V84.6H417.4V83.8H418.2V84.3H419.0V85.1H419.8V84.1H420.6V86.7H421.4V84.4H422.2V86.7H423.0V86.0H423.8V85.8H424.6V86.0H425.4V86.3H426.2V86.1H427.0V86.7H427.8V86.3H428.6V83.9H429.4V86.3H430.2V84.9H431.0V86.5H431.8V86.0H432.6V85.6H433.4V83.9H434.2V85.0H435.0V84.9H435.8V85.3H436.6V85.2H437.4V85.0H438.2V85.6H439.0V85.9H439.8V85.2H440.6V84.7H441.4V85.4H442.2V86.2H443.0V85.7H443.8V84.9H444.6V85.0H445.4V85.6H446.2V83.9H447.0V83.6H447.8V84.6H448.6V83.5H449.4V85.0H450.2V83.8H451.0V82.8H451.8V85.4H452.6V85.6H453.4V85.4H454.2V85.3H455.0V87.0H455.8V86.6H456.6V89.5H455.8V88.3H455.0V90.2H454.2V86.9H453.4V86.9H452.6V87.1H451.8V86.2H451.0V87.0H450.2V87.7H449.4V88.1H448.6V88.5H447.8V85.7H447.0V87.3H446.2V87.4H445.4V86.1H444.6V87.1H443.8V88.1H443.0V87.0H442.2V86.5H441.4V89.7H440.6V89.3H439.8V87.7H439.0V89.0H438.2V86.5H437.4V86.4H436.6V86.5H435.8V88.4H435.0V87.4H434.2V88.3H433.4V88.4H432.6V86.9H431.8V87.5H431.0V86.5H430.2V89.6H429.4V86.9H428.6V88.9H427.8V87.8H427.0V87.9H426.2V88.4H425.4V89.0H424.6V87.3H423.8V87.6H423.0V88.6H422.2V87.7H421.4V87.9H420.6V86.5H419.8V87.1H419.0V86.7H418.2V87.6H417.4V87.4H416.6V88.2H415.8V89.2H415.0V89.0H414.2V86.7H413.4V87.5H412.6V87.9H411.8V86.8H411.0V87.0H410.2V87.7H409.4V88.3H408.6V89.9H407.8V86.5H407.0V86.9H406.2V86.8H405.4V86.7H404.6V87.3H403.8V86.4H403.0V86.5H402.2V86.1H401.4V87.5H400.6V88.0H399.8V89.3H399.0V86.4H398.2V87.6H397.4V87.2H396.6V88.7H395.8V89.2H395.0V87.7H394.2V87.8H393.4V87.9H392.6V87.9H391.8V86.8H391.0V89.0H390.2V86.9H389.4V89.1H388.6V87.7H387.8V86.7H387.0V87.4H386.2V88.9H385.4V89.2H384.6V87.3H383.8V87.1H383.0V86.8H382.2V87.3H381.4V87.2H380.6V86.8H379.8V86.8H379.0V86.3H378.2V87.0H377.4V87.7H376.6V86.0H375.8V86.4H375.0V87.3H374.2V86.0H373.4V86.4H372.6V89.2H371.8V88.7H371.0V88.9H370.2V89.7H369.4V89.8H368.6V88.4H367.8V86.6H367.0V86.6H366.2V88.6H365.4V87.6H364.6V87.6H363.8V88.7H363.0V87.3H362.2V86.9H361.4V87.5H360.6V89.7H359.8V89.0H359.0V87.5H358.2V89.4H357.4V87.3H356.6V86.7H355.8V89.6H355.0V89.3H354.2V86.0H353.4V86.3H352.6V87.5H351.8V87.0H351.0V88.1H350.2V88.4H349.4V86.3H348.6V87.1H347.8V88.5H347.0V88.8H346.2V87.6H345.4V88.1H344.6V86.1H343.8V87.2H343.0V86.1H342.2V87.6H341.4V87.4H340.6V88.2H339.8V89.9H339.0V88.3H338.2V88.7H337.4V88.5H336.6V88.1H335.8V87.1H335.0V86.9H334.2V89.6H333.4V90.0H332.6V87.2H331.8V87.6H331.0Z" fill="#000" fill-opacity="0.3"/>
<path d="M331.0,85.2H331.8V85.0H332.6V85.6H333.4V85.4H334.2V85.2H335.0V86.9H335.8V86.4H336.6V84.4H337.4V85.3H338.2V86.0H339.0V84.6H339.8V84.8H340.6V85.5H341.4V83.1H342.2V84.2H343.0V84.4H343.8V83.9H344.6V86.0H345.4V83.7H346.2V83.2H347.0V85.4H347.8V84.8H348.6V85.1H349.4V84.9H350.2V83.5H351.0V85.1H351.8V84.3H352.6V85.1H353.4V83.9H354.2V85.6H355.0V86.2H355.8V85.4H356.6V84.7H357.4V84.8H358.2V84.2H359.0V85.1H359.8V85.5H360.6V85.2H361.4V84.9H362.2V85.8H363.0V83.7H363.8V84.3H364.6V85.8H365.4V83.4H366.2V85.0H367.0V85.4H367.8V84.2H368.6V84.0H369.4V85.9H370.2V84.9H371.0V85.1H371.8V84.5H372.6V85.7H373.4V84.8H374.2V85.6H375.0V84.2H375.8V84.0H376.6V84.8H377.4V83.7H378.2V84.1H379.0V85.8H379.8V83.7H380.6V85.6H381.4V86.0H382.2V84.4H383.0V86.3H383.8V86.2H384.6V84.9H385.4V84.6H386.2V85.8H387.0V85.4H387.8V85.4H388.6V85.0H389.4V85.0H390.2V84.2H391.0V85.2H391.8V86.0H392.6V85.5H393.4V86.9H394.2V87.0H395.0V84.2H395.8V84.3H396.6V84.3H397.4V85.1H398.2V85.3H399.0V84.6H399.8V84.1H400.6V84.1H401.4V86.2H402.2V85.5H403.0V86.1H403.8V85.2H404.6V84.2H405.4V86.0H406.2V85.7H407.0V84.2H407.8V84.8H408.6V84.9H409.4V84.6H410.2V86.1H411.0V85.1H411.8V85.0H412.6V85.8H413.4V85.9H414.2V84.5H415.0V84.8H415.8V84.6H416.6V85.4H417.4V83.9H418.2V85.3H419.0V85.7H419.8V85.2H420.6V85.9H421.4V85.7H422.2V84.8H423.0V86.0H423.8V85.6H424.6V86.5H425.4V85.6H426.2V84.7H427.0V86.0H427.8V85.9H428.6V86.1H429.4V85.6H430.2V85.9H431.0V85.6H431.8V86.4H432.6V85.9H433.4V84.6H434.2V85.5H435.0V83.4H435.8V86.0H436.6V83.8H437.4V85.9H438.2V84.4H439.0V84.8H439.8V86.1H440.6V82.7H441.4V83.8H442.2V85.3H443.0V84.6H443.8V84.9H444.6V85.7H445.4V85.7H446.2V84.2H447.0V85.8H447.8V85.5H448.6V84.4H449.4V85.4H450.2V84.1H451.0V83.5H451.8V83.9H452.6V84.7H453.4V84.4H454.2V86.8H455.0V86.6H455.8V85.4H456.6V89.6H455.8V87.4H455.0V88.3H454.2V88.4H453.4V86.0H452.6V86.1H451.8V86.1H451.0V86.6H450.2V86.1H449.4V86.0H448.6V87.4H447.8V86.1H447.0V88.2H446.2V86.4H445.4V89.1H444.6V88.5H443.8V86.9H443.0V88.6H442.2V86.5H441.4V88.2H440.6V87.8H439.8V86.9H439.0V88.2H438.2V88.9H437.4V86.9H436.6V88.9H435.8V86.5H435.0V85.7H434.2V87.2H433.4V86.2H432.6V88.1H431.8V88.1H431.0V87.3H430.2V89.6H429.4V88.3H428.6V87.0H427.8V89.0H427.0V88.1H426.2V87.3H425.4V87.5H424.6V86.7H423.8V87.7H423.0V88.4H422.2V87.6H421.4V87.7H420.6V87.6H419.8V86.4H419.0V89.9H418.2V87.5H417.4V88.0H416.6V88.2H415.8V87.2H415.0V86.9H414.2V86.8H413.4V88.1H412.6V87.9H411.8V86.8H411.0V89.6H410.2V86.0H409.4V88.4H408.6V87.6H407.8V87.4H407.0V88.9H406.2V89.2H405.4V87.4H404.6V86.8H403.8V86.4H403.0V85.7H402.2V86.8H401.4V86.7H400.6V87.4H399.8V88.7H399.0V89.1H398.2V87.2H397.4V88.2H396.6V89.9H395.8V88.0H395.0V87.7H394.2V89.0H393.4V87.3H392.6V86.8H391.8V86.8H391.0V87.8H390.2V87.9H389.4V87.2H388.6V88.3H387.8V87.2H387.0V89.0H386.2V88.5H385.4V88.4H384.6V87.2H383.8V87.1H383.0V89.0H382.2V89.0H381.4V88.2H380.6V87.9H379.8V87.3H379.0V88.7H378.2V87.8H377.4V89.5H376.6V86.7H375.8V86.6H375.0V88.6H374.2V86.8H373.4V89.9H372.6V88.5H371.8V87.3H371.0V87.9H370.2V87.4H369.4V87.5H368.6V86.9H367.8V88.8H367.0V87.3H366.2V86.6H365.4V86.0H364.6V88.4H363.8V88.0H363.0V86.4H362.2V88.8H361.4V89.3H360.6V87.6H359.8V88.6H359.0V87.0H358.2V87.5H357.4V86.1H356.6V86.3H355.8V86.8H355.0V87.3H354.2V87.9H353.4V90.9H352.6V86.5H351.8V86.3H351.0V86.1H350.2V86.4H349.4V88.3H348.6V88.4H347.8V87.8H347.0V88.0H346.2V86.5H345.4V88.9H344.6V88.4H343.8V88.0H343.0V86.1H342.2V86.2H341.4V89.2H340.6V88.4H339.8V86.6H339.0V86.6H338.2V88.3H337.4V87.8H336.6V88.1H335.8V87.0H335.0V89.4H334.2V86.1H333.4V86.3H332.6V86.9H331.8V90.4H331.0Z" fill="#000" fill-opacity="0.3"/>
<path d="M331.0,84.3H331.8V85.2H332.6V85.5H333.4V83.4H334.2V84.8H335.0V85.1H335.8V84.6H336.6V85.2H337.4V84.6H338.2V84.2H339.0V85.6H339.8V85.1H340.6V83.3H341.4V85.9H342.2V85.1H343.0V83.8H343.8V85.2H344.6V84.4H345.4V85.6H346.2V86.1H347.0V85.6H347.8V86.8H348.6V85.4H349.4V85.3H350.2V86.0H351.0V83.6H351.8V85.3H352.6V84.3H353.4V85.2H354.2V85.6H355.0V86.1H355.8V85.6H356.6V85.6H357.4V83.8H358.2V85.8H359.0V85.7H359.8V86.5H360.6V86.1H361.4V85.0H362.2V84.1H363.0V83.8H363.8V84.2H364.6V85.4H365.4V85.7H366.2V85.1H367.0V85.4H367.8V85.8H368.6V85.2H369.4V85.3H370.2V85.9H371.0V83.4H371.8V85.5H372.6V86.2H373.4V84.9H374.2V85.0H375.0V86.7H375.8V85.1H376.6V85.7H377.4V85.2H378.2V84.9H379.0V84.0H379.8V84.6H380.6V85.4H381.4V84.5H382.2V85.8H383.0V86.7H383.8V85.0H384.6V85.9H385.4V85.8H386.2V86.0H387.0V87.0H387.8V86.4H388.6V85.1H389.4V85.6H390.2V85.1H391.0V84.4H391.8V84.7H392.6V84.1H393.4V83.8H394.2V85.1H395.0V85.5H395.8V85.8H396.6V85.2H397.4V85.2H398.2V85.5H399.0V85.1H399.8V85.4H400.6V85.6H401.4V84.9H402.2V84.9H403.0V83.2H403.8V86.1H404.6V85.2H405.4V84.6H406.2V84.4H407.0V85.5H407.8V86.8H408.6V84.1H409.4V86.5H410.2V85.8H411.0V85.2H411.8V83.9H412.6V84.5H413.4V85.9H414.2V86.7H415.0V85.1H415.8V85.0H416.6V85.2H417.4V85.6H418.2V85.3H419.0V85.2H419.8V84.8H420.6V84.6H421.4V85.2H422.2V86.4H423.0V83.7H423.8V85.7H424.6V85.6H425.4V86.0H426.2V86.5H427.0V85.8H427.8V83.7H428.6V85.3H429.4V85.4H430.2V84.3H431.0V85.3H431.8V84.8H432.6V85.1H433.4V85.0H434.2V85.4H435.0V85.1H435.8V84.7H436.6V85.1H437.4V85.3H438.2V83.2H439.0V84.9H439.8V85.8H440.6V85.8H441.4V85.7H442.2V85.6H443.0V85.7H443.8V84.2H444.6V84.9H445.4V85.3H446.2V85.4H447.0V85.2H447.8V86.5H448.6V86.0H449.4V84.6H450.2V86.1H451.0V86.1H451.8V85.9H452.6V85.8H453.4V85.1H454.2V83.7H455.0V85.3H455.8V82.4H456.6V85.9H455.8V86.6H455.0V85.8H454.2V88.5H453.4V88.3H452.6V87.2H451.8V88.7H451.0V89.5H450.2V88.8H449.4V88.6H448.6V88.1H447.8V86.9H447.0V86.6H446.2V87.4H445.4V88.1H444.6V87.3H443.8V88.1H443.0V86.4H442.2V86.5H441.4V89.6H440.6V88.9H439.8V88.4H439.0V87.2H438.2V86.2H437.4V89.2H436.6V86.0H435.8V87.1H435.0V88.3H434.2V87.8H433.4V86.3H432.6V86.2H431.8V85.5H431.0V86.4H430.2V86.6H429.4V88.2H428.6V86.3H427.8V86.1H427.0V88.8H426.2V87.3H425.4V86.6H424.6V87.7H423.8V89.1H423.0V88.4H422.2V86.8H421.4V87.1H420.6V88.1H419.8V86.9H419.0V87.4H418.2V86.8H417.4V85.6H416.6V87.0H415.8V87.4H415.0V88.7H414.2V87.2H413.4V86.7H412.6V88.5H411.8V87.0H411.0V88.0H410.2V88.1H409.4V88.7H408.6V87.3H407.8V87.5H407.0V89.7H406.2V86.7H405.4V86.6H404.6V87.1H403.8V87.5H403.0V85.3H402.2V87.7H401.4V85.9H400.6V86.9H399.8V87.4H399.0V87.5H398.2V87.3H397.4V86.4H396.6V86.5H395.8V88.5H395.0V87.1H394.2V87.4H393.4V87.8H392.6V85.9H391.8V86.8H391.0V86.5H390.2V86.9H389.4V90.1H388.6V87.4H387.8V90.0H387.0V88.3H386.2V87.9H385.4V87.6H384.6V90.3H383.8V89.9H383.0V87.3H382.2V88.2H381.4V87.6H380.6V86.3H379.8V86.1H379.0V87.6H378.2V86.0H377.4V88.3H376.6V88.2H375.8V88.8H375.0V89.1H374.2V88.7H373.4V88.7H372.6V87.3H371.8V86.6H371.0V88.3H370.2V86.5H369.4V88.7H368.6V87.8H367.8V86.8H367.0V86.9H366.2V88.7H365.4V87.9H364.6V90.1H363.8V87.2H363.0V88.4H362.2V87.2H361.4V87.6H360.6V86.9H359.8V88.5H359.0V88.1H358.2V86.2H357.4V89.7H356.6V86.6H355.8V88.0H355.0V87.9H354.2V88.0H353.4V88.1H352.6V88.9H351.8V88.2H351.0V86.3H350.2V89.0H349.4V87.9H348.6V87.3H347.8V87.9H347.0V89.5H346.2V88.8H345.4V89.8H344.6V87.6H343.8V86.8H343.0V87.2H342.2V86.6H341.4V86.4H340.6V87.4H339.8V87.9H339.0V88.8H338.2V87.0H337.4V86.8H336.6V88.0H335.8V89.2H335.0V88.1H334.2V88.1H333.4V87.4H332.6V88.4H331.8V87.4H331.0Z" fill="#000" fill-opacity="0.3"/>
<path d="M331.0,84.8H331.8V85.0H332.6V86.1H333.4V84.9H334.2V83.3H335.0V84.3H335.8V83.9H336.6V83.6H337.4V84.3H338.2V85.2H339.0V85.0H339.8V85.0H340.6V84.5H341.4V84.3H342.2V85.3H343.0V83.9H343.8V83.7H344.6V84.0H345.4V82.8H346.2V84.9H347.0V85.0H347.8V84.2H348.6V83.9H349.4V85.3H350.2V83.8H351.0V83.7H351.8V84.0H352.6V82.7H353.4V82.9H354.2V83.3H355.0V85.1H355.8V85.0H356.6V84.9H357.4V84.8H358.2V83.4H359.0V84.7H359.8V84.0H360.6V84.0H361.4V83.7H362.2V82.3H363.0V85.1H363.8V84.7H364.6V84.0H365.4V83.4H366.2V83.8H367.0V83.4H367.8V83.1H368.6V84.6H369.4V85.3H370.2V84.6H371.0V85.0H371.8V84.7H372.6V85.6H373.4V83.3H374.2V85.2H375.0V84.6H375.8V84.8H376.6V85.3H377.4V85.7H378.2V84.8H379.0V84.5H379.8V85.0H380.6V84.6H381.4V83.8H382.2V83.4H383.0V84.9H383.8V85.4H384.6V85.8H385.4V83.5H386.2V85.2H387.0V84.8H387.8V84.0H388.6V85.0H389.4V83.3H390.2V85.3H391.0V83.8H391.8V84.2H392.6V85.7H393.4V85.6H394.2V83.2H395.0V82.6H395.8V84.3H396.6V82.9H397.4V84.8H398.2V85.2H399.0V83.3H399.8V84.5H400.6V83.7H401.4V85.5H402.2V85.3H403.0V85.5H403.8V83.7H404.6V85.0H405.4V85.1H406.2V84.3H407.0V84.0H407.8V83.9H408.6V84.8H409.4V85.1H410.2V83.2H411.0V83.9H411.8V84.4H412.6V84.6H413.4V84.5H414.2V85.2H415.0V85.1H415.8V83.1H416.6V85.1H417.4V85.2H418.2V85.1H419.0V84.3H419.8V84.8H420.6V83.1H421.4V84.6H422.2V85.3H423.0V84.8H423.8V84.2H424.6V85.0H425.4V84.7H426.2V85.0H427.0V83.9H427.8V84.6H428.6V85.0H429.4V84.7H430.2V85.6H431.0V85.2H431.8V84.3H432.6V83.0H433.4V85.1H434.2V85.5H435.0V85.8H435.8V84.3H436.6V83.9H437.4V85.1H438.2V84.7H439.0V86.1H439.8V85.2H440.6V84.0H441.4V85.7H442.2V85.0H443.0V84.3H443.8V85.4H444.6V85.9H445.4V85.0H446.2V85.3H447.0V84.8H447.8V85.0H448.6V85.5H449.4V85.6H450.2V84.5H451.0V83.5H451.8V83.7H452.6V82.9H453.4V83.4H454.2V83.0H455.0V82.8H455.8V84.2H456.6V85.0H455.8V87.3H455.0V86.1H454.2V86.4H453.4V86.6H452.6V85.4H451.8V87.1H451.0V88.5H450.2V89.3H449.4V86.0H448.6V85.6H447.8V86.5H447.0V86.1H446.2V86.7H445.4V89.5H444.6V88.0H443.8V88.1H443.0V89.0H442.2V85.8H441.4V87.8H440.6V86.2H439.8V87.4H439.0V88.3H438.2V87.4H437.4V87.7H436.6V88.1H435.8V87.7H435.0V87.7H434.2V89.1H433.4V85.9H432.6V87.7H431.8V87.0H431.0V88.4H430.2V86.6H429.4V88.0H428.6V86.6H427.8V85.5H427.0V86.9H426.2V85.8H425.4V87.8H424.6V87.3H423.8V87.8H423.0V86.3H422.2V85.9H421.4V87.0H420.6V86.2H419.8V86.7H419.0V86.8H418.2V87.6H417.4V86.8H416.6V86.9H415.8V85.9H415.0V87.4H414.2V85.5H413.4V86.0H412.6V85.3H411.8V88.6H411.0V86.3H410.2V88.7H409.4V86.4H408.6V86.4H407.8V85.8H407.0V87.7H406.2V86.9H405.4V87.0H404.6V87.8H403.8V88.7H403.0V86.4H402.2V88.9H401.4V86.0H400.6V86.8H399.8V86.2H399.0V86.4H398.2V88.8H397.4V87.3H396.6V85.7H395.8V88.3H395.0V87.7H394.2V86.0H393.4V87.5H392.6V88.8H391.8V88.6H391.0V88.5H390.2V88.5H389.4V88.1H388.6V87.1H387.8V88.8H387.0V86.3H386.2V86.2H385.4V88.2H384.6V88.0H383.8V86.3H383.0V85.1H382.2V85.8H381.4V85.5H380.6V87.0H379.8V86.0H379.0V87.1H378.2V87.3H377.4V87.4H376.6V88.0H375.8V88.5H375.0V86.1H374.2V85.9H373.4V87.8H372.6V86.8H371.8V87.4H371.0V87.2H370.2V88.1H369.4V87.2H368.6V87.6H367.8V87.2H367.0V85.2H366.2V85.1H365.4V86.9H364.6V85.8H363.8V87.4H363.0V86.1H362.2V85.9H361.4V85.5H360.6V88.4H359.8V86.4H359.0V85.9H358.2V86.3H357.4V88.8H356.6V88.2H355.8V87.2H355.0V87.4H354.2V86.3H353.4V87.3H352.6V85.2H351.8V85.4H351.0V85.8H350.2V85.8H349.4V87.6H348.6V87.9H347.8V86.8H347.0V88.2H346.2V86.5H345.4V86.8H344.6V85.5H343.8V85.5H343.0V87.1H342.2V85.9H341.4V86.6H340.6V86.7H339.8V86.7H339.0V87.9H338.2V86.1H337.4V87.4H336.6V86.7H335.8V89.1H335.0V86.2H334.2V86.6H333.4V87.5H332.6V86.9H331.8V87.2H331.0Z" fill="#000" fill-opacity="0.3"/>
<path d="M456.0,72.0 457.0,72.1 458.0,71.6 459.0,72.6 460.0,72.4 461.0,71.6 462.0,73.1 463.0,72.8 464.0,72.3 465.0,71.4 466.0,72.6 467.0,72.2 468.0,72.2 469.0,71.7 470.0,72.5 471.0,72.5 472.0,71.9 473.0,72.4 474.0,71.5 475.0,72.6 476.0,72.8 477.0,71.8 478.0,72.0 479.0,72.2 480.0,72.0 481.0,72.5 482.0,72.7 483.0,72.5 484.0,73.1 485.0,71.9 486.0,72.4 487.0,72.8 488.0,73.2 489.0,72.3 490.0,71.3 491.0,72.1 492.0,71.9 493.0,72.1 494.0,72.8 L494.0,80.7 493.0,81.2 492.0,80.8 491.0,80.7 490.0,81.1 489.0,81.3 488.0,81.0 487.0,80.8 486.0,80.4 485.0,79.7 484.0,80.0 483.0,80.5 482.0,80.9 481.0,80.3 480.0,80.5 479.0,80.8 478.0,80.6 477.0,80.3 476.0,79.7 475.0,80.0 474.0,80.6 473.0,80.4 472.0,80.3 471.0,80.0 470.0,81.2 469.0,80.9 468.0,80.9 467.0,80.8 466.0,80.7 465.0,80.9 464.0,79.9 463.0,79.8 462.0,81.1 461.0,80.4 460.0,80.9 459.0,80.6 458.0,79.8 457.0,80.7 456.0,80.3Z" fill="#000"/>
<path d="M456.0,77.9 456.8,77.3 457.6,75.7 458.4,76.7 459.2,74.7 460.0,77.4 460.8,76.0 461.6,78.7 462.4,78.6 463.2,77.8 464.0,75.1 464.8,76.0 465.6,78.6 466.4,77.7 467.2,75.7 468.0,76.8 468.8,75.0 469.6,79.1 470.4,76.9 471.2,78.0 472.0,77.8 472.8,77.1 473.6,78.6 474.4,77.4 475.2,79.3 476.0,75.9 476.8,77.7 477.6,76.8 478.4,77.9 479.2,77.7 480.0,76.0 480.8,76.6 481.6,75.5 482.4,76.4 483.2,77.2 484.0,78.1 484.8,77.4 485.6,76.8 486.4,78.2 487.2,77.4 488.0,77.4 488.8,75.9 489.6,77.5 490.4,78.2 491.2,78.2 492.0,75.3 492.8,76.6 493.6,79.1 494.4,77.9" fill="none" stroke="#000" stroke-width="0.5"/>
<path d="M456.0,75.6 456.8,74.8 457.6,79.0 458.4,77.4 459.2,77.5 460.0,75.5 460.8,75.6 461.6,77.6 462.4,75.2 463.2,75.8 464.0,75.2 464.8,77.7 465.6,76.3 466.4,77.7 467.2,74.8 468.0,74.0 468.8,78.2 469.6,77.6 470.4,76.6 471.2,75.1 472.0,76.1 472.8,77.0 473.6,75.8 474.4,76.3 475.2,76.4 476.0,75.8 476.8,77.3 477.6,76.3 478.4,76.6 479.2,76.8 480.0,77.4 480.8,76.6 481.6,75.3 482.4,76.7 483.2,77.4 484.0,76.5 484.8,75.4 485.6,75.1 486.4,75.1 487.2,77.0 488.0,75.1 488.8,76.2 489.6,77.6 490.4,75.5 491.2,78.9 492.0,75.8 492.8,73.9 493.6,75.9 494.4,75.4" fill="none" stroke="#000" stroke-width="0.5"/>
<path d="M456.0,76.3 456.8,76.6 457.6,77.2 458.4,75.7 459.2,74.6 460.0,74.6 460.8,77.1 461.6,73.0 462.4,75.6 463.2,76.2 464.0,75.4 464.8,75.0 465.6,76.9 466.4,77.4 467.2,76.4 468.0,77.0 468.8,76.6 469.6,76.4 470.4,76.6 471.2,74.6 472.0,76.7 472.8,77.5 473.6,76.9 474.4,76.4 475.2,75.0 476.0,74.3 476.8,76.4 477.6,76.7 478.4,78.6 479.2,77.7 480.0,75.9 480.8,77.7 481.6,73.9 482.4,75.7 483.2,79.0 484.0,77.7 484.8,77.6 485.6,78.0 486.4,73.3 487.2,77.7 488.0,75.7 488.8,79.5 489.6,77.6 490.4,74.6 491.2,77.4 492.0,74.6 492.8,76.9 493.6,74.3 494.4,75.7" fill="none" stroke="#000" stroke-width="0.5"/>
<path d="M456.0,75.8 456.8,76.6 457.6,77.6 458.4,77.2 459.2,77.9 460.0,75.1 460.8,76.3 461.6,74.4 462.4,76.5 463.2,77.1 464.0,76.3 464.8,77.9 465.6,74.0 466.4,74.1 467.2,79.3 468.0,76.6 468.8,75.4 469.6,78.4 470.4,76.2 471.2,79.2 472.0,74.7 472.8,72.1 473.6,73.9 474.4,75.4 475.2,76.6 476.0,78.9 476.8,76.7 477.6,77.1 478.4,76.8 479.2,75.9 480.0,77.4 480.8,77.6 481.6,76.8 482.4,74.7 483.2,76.0 484.0,75.0 484.8,74.2 485.6,79.6 486.4,78.0 487.2,76.1 488.0,78.7 488.8,75.8 489.6,76.2 490.4,73.7 491.2,76.2 492.0,75.0 492.8,76.1 493.6,77.8 494.4,77.0" fill="none" stroke="#000" stroke-width="0.5"/>
<path d="M456.0,75.8 456.8,74.9 457.6,77.2 458.4,77.5 459.2,76.4 460.0,76.4 460.8,76.4 461.6,76.8 462.4,74.5 463.2,79.9 464.0,76.0 464.8,75.9 465.6,76.0 466.4,75.6 467.2,77.0 468.0,76.3 468.8,76.6 469.6,77.2 470.4,75.9 471.2,77.6 472.0,75.4 472.8,76.0 473.6,74.6 474.4,78.5 475.2,75.8 476.0,75.0 476.8,75.9 477.6,78.6 478.4,75.7 479.2,77.3 480.0,76.6 480.8,76.2 481.6,79.1 482.4,77.8 483.2,74.6 484.0,75.9 484.8,76.6 485.6,77.0 486.4,78.0 487.2,77.3 488.0,76.5 488.8,78.6 489.6,76.4 490.4,76.3 491.2,76.1 492.0,77.7 492.8,74.8 493.6,76.7 494.4,75.0" fill="none" stroke="#000" stroke-width="0.5"/>
</g>
<path d="M345.4,101.0 H387.5 M345.4,97.5 V104.5 M387.5,97.5 V104.5" fill="none" stroke="#555" stroke-width="1.4"/>
<text x="348.6" y="114.5" font-size="10.6" text-anchor="start" fill="#222" >100 ms</text>
<text x="2.6" y="199.4" font-size="19.3" font-weight="bold" text-anchor="start" fill="#000" >C</text>
<path d="M33.7,189.6 H38.9 V327.7 H33.7 M33.7,259.3 H38.9" fill="none" stroke="#111" stroke-width="1.8"/>
<text x="32.6" y="193.0" font-size="9.5" text-anchor="end" fill="#111" stroke="#111" stroke-width="0.25">50</text>
<text x="32.6" y="262.7" font-size="9.5" text-anchor="end" fill="#111" stroke="#111" stroke-width="0.25">0</text>
<text x="32.6" y="331.1" font-size="9.5" text-anchor="end" fill="#111" stroke="#111" stroke-width="0.25">-50</text>
<text x="0" y="0" font-size="11.1" font-weight="bold" text-anchor="middle" fill="#000" transform="translate(10.5,253.6) rotate(-90)">I (pA)</text>
<g filter="url(#bl)">
<line x1="41.30" y1="216.00" x2="41.30" y2="292.00" stroke="#999" stroke-width="0.7"/>
<path d="M41.5,249.0 42.5,247.1 43.5,246.9 44.5,247.7 45.5,248.5 46.5,247.0 47.5,249.1 48.5,248.2 49.5,248.5 50.5,247.9 51.5,248.3 52.5,248.3 53.5,245.4 54.5,249.3 55.5,248.7 56.5,248.0 57.5,250.1 58.5,248.9 59.5,249.4 60.5,247.9 61.5,249.2 62.5,248.6 63.5,248.1 64.5,249.0 65.5,248.5 66.5,246.7 67.5,248.5 68.5,248.7 69.5,249.6 70.5,249.6 71.5,247.3 72.5,249.0 73.5,246.5 74.5,248.0 75.5,249.3 76.5,248.7 77.5,247.0 78.5,249.5 79.5,248.5 80.5,248.4 81.5,249.0 82.5,249.5 83.5,248.4 84.5,249.1 85.5,247.9 86.5,248.5 87.5,248.7 88.5,248.9 89.5,248.8 90.5,247.9 91.5,249.6 92.5,249.0 93.5,247.6 94.5,247.7 95.5,249.1 96.5,248.5 97.5,249.7 98.5,249.8 99.5,248.5 100.5,247.4 101.5,249.0 102.5,249.0 103.5,249.1 104.5,247.8 105.5,248.3 106.5,249.6 107.5,249.5 108.5,250.1 109.5,246.9 110.5,247.6 111.5,248.4 112.5,246.7 113.5,248.1 114.5,248.5 115.5,248.0 116.5,247.9 117.5,248.6 118.5,249.3 119.5,249.0 120.5,248.0 121.5,249.2 122.5,247.9 123.5,248.4 124.5,248.0 125.5,248.9 126.5,248.8 127.5,246.9 128.5,247.6 129.5,247.8 130.5,247.5 131.5,249.3 132.5,249.3 133.5,248.5 134.5,250.2 135.5,248.7 136.5,248.3 137.5,250.2 138.5,248.9 139.5,249.6 140.5,248.4 141.5,247.6 142.5,248.4 143.5,248.5 144.5,247.5 145.5,249.6 146.5,245.9 147.5,248.6 148.5,248.9 149.5,248.4 150.5,248.9 151.5,249.9 152.5,248.5 153.5,247.9 154.5,248.4 155.5,250.5 156.5,250.0 157.5,247.1 158.5,249.1 159.5,248.2 160.5,250.7 161.5,249.8 162.5,246.9 163.5,249.8 164.5,247.5 165.5,248.2 166.5,247.4 L166.5,263.6 165.5,261.8 164.5,262.8 163.5,264.6 162.5,263.3 161.5,264.6 160.5,264.5 159.5,263.6 158.5,263.7 157.5,264.3 156.5,265.1 155.5,262.9 154.5,263.0 153.5,266.1 152.5,262.3 151.5,263.0 150.5,264.9 149.5,265.4 148.5,265.3 147.5,264.0 146.5,264.1 145.5,263.5 144.5,265.8 143.5,263.3 142.5,263.2 141.5,265.8 140.5,262.9 139.5,263.8 138.5,262.8 137.5,263.6 136.5,264.2 135.5,264.3 134.5,263.3 133.5,262.5 132.5,262.9 131.5,264.5 130.5,265.5 129.5,263.9 128.5,265.1 127.5,265.9 126.5,264.0 125.5,263.4 124.5,263.2 123.5,263.7 122.5,265.4 121.5,263.3 120.5,264.6 119.5,263.7 118.5,263.9 117.5,262.3 116.5,263.6 115.5,261.9 114.5,263.2 113.5,263.9 112.5,263.5 111.5,263.7 110.5,265.0 109.5,263.9 108.5,263.1 107.5,263.4 106.5,264.3 105.5,263.4 104.5,266.3 103.5,264.2 102.5,264.1 101.5,263.5 100.5,264.1 99.5,265.3 98.5,261.8 97.5,262.5 96.5,263.1 95.5,263.8 94.5,263.9 93.5,263.2 92.5,264.5 91.5,264.7 90.5,262.8 89.5,263.7 88.5,264.4 87.5,264.5 86.5,263.3 85.5,264.5 84.5,263.3 83.5,262.8 82.5,264.8 81.5,263.5 80.5,263.0 79.5,265.1 78.5,263.9 77.5,265.9 76.5,263.4 75.5,264.4 74.5,263.3 73.5,263.7 72.5,264.2 71.5,262.8 70.5,263.2 69.5,262.9 68.5,264.0 67.5,264.1 66.5,264.2 65.5,262.9 64.5,263.9 63.5,264.7 62.5,264.3 61.5,265.2 60.5,263.2 59.5,263.5 58.5,264.1 57.5,264.9 56.5,265.1 55.5,263.8 54.5,264.4 53.5,263.1 52.5,264.9 51.5,262.9 50.5,264.1 49.5,263.4 48.5,263.2 47.5,265.0 46.5,265.8 45.5,263.2 44.5,263.6 43.5,263.1 42.5,264.1 41.5,264.0Z" fill="#000"/>
<path d="M41.3,246 L43,246.5 L46.5,249 L46.5,264 L43,267 L41.3,268 Z" fill="#000"/>
<line x1="41.40" y1="238.00" x2="41.40" y2="276.00" stroke="#666" stroke-width="0.8"/>
<path d="M41.5,256.1 42.2,256.4 42.9,251.0 43.6,259.7 44.3,254.9 45.0,252.7 45.7,255.1 46.4,250.0 47.1,255.7 47.8,254.3 48.5,257.1 49.2,249.7 49.9,258.4 50.6,252.0 51.3,253.8 52.0,255.9 52.7,256.2 53.4,258.7 54.1,252.9 54.8,257.4 55.5,257.3 56.2,257.5 56.9,258.3 57.6,257.3 58.3,259.3 59.0,258.3 59.7,256.3 60.4,252.9 61.1,256.0 61.8,260.7 62.5,256.4 63.2,261.3 63.9,260.0 64.6,262.6 65.3,252.2 66.0,259.8 66.7,253.1 67.4,258.9 68.1,257.0 68.8,255.5 69.5,258.1 70.2,255.9 70.9,257.7 71.6,257.6 72.3,252.1 73.0,261.7 73.7,251.6 74.4,253.5 75.1,253.7 75.8,254.9 76.5,249.3 77.2,262.7 77.9,257.9 78.6,253.9 79.3,254.5 80.0,257.7 80.7,257.9 81.4,257.5 82.1,255.4 82.8,257.8 83.5,254.3 84.2,252.2 84.9,264.2 85.6,257.7 86.3,256.2 87.0,258.8 87.7,259.3 88.4,254.9 89.1,260.8 89.8,255.4 90.5,257.4 91.2,254.6 91.9,263.3 92.6,251.6 93.3,257.2 94.0,255.4 94.7,259.8 95.4,261.1 96.1,261.7 96.8,256.2 97.5,257.5 98.2,260.3 98.9,256.7 99.6,259.1 100.3,266.5 101.0,251.9 101.7,256.6 102.4,258.6 103.1,254.2 103.8,260.0 104.5,254.4 105.2,255.3 105.9,257.8 106.6,258.3 107.3,262.2 108.0,260.7 108.7,257.2 109.4,262.5 110.1,255.1 110.8,257.5 111.5,257.2 112.2,255.9 112.9,252.3 113.6,260.7 114.3,254.1 115.0,258.1 115.7,257.9 116.4,255.1 117.1,256.7 117.8,258.1 118.5,260.5 119.2,255.4 119.9,258.8 120.6,256.9 121.3,254.9 122.0,258.3 122.7,252.9 123.4,256.9 124.1,257.4 124.8,258.2 125.5,254.3 126.2,254.7 126.9,262.0 127.6,251.3 128.3,257.9 129.0,255.8 129.7,255.4 130.4,266.2 131.1,257.8 131.8,255.8 132.5,265.6 133.2,256.7 133.9,262.8 134.6,257.7 135.3,258.6 136.0,255.2 136.7,264.0 137.4,256.3 138.1,257.4 138.8,261.4 139.5,259.6 140.2,254.7 140.9,253.2 141.6,249.4 142.3,250.7 143.0,258.9 143.7,257.1 144.4,256.6 145.1,259.0 145.8,262.1 146.5,256.9 147.2,261.8 147.9,256.5 148.6,256.2 149.3,265.7 150.0,257.5 150.7,254.6 151.4,257.7 152.1,252.9 152.8,257.1 153.5,255.3 154.2,257.6 154.9,260.6 155.6,250.2 156.3,255.1 157.0,258.0 157.7,257.2 158.4,255.6 159.1,261.6 159.8,260.1 160.5,254.9 161.2,255.5 161.9,253.1 162.6,257.4 163.3,256.9 164.0,257.1 164.7,261.5 165.4,258.4 166.1,260.8" fill="none" stroke="#000" stroke-width="0.55"/>
<path d="M41.5,257.7 42.2,257.8 42.9,259.3 43.6,256.7 44.3,255.0 45.0,255.8 45.7,254.1 46.4,253.8 47.1,254.8 47.8,256.3 48.5,252.2 49.2,257.0 49.9,256.9 50.6,261.7 51.3,258.5 52.0,260.8 52.7,255.9 53.4,259.5 54.1,259.2 54.8,252.8 55.5,254.8 56.2,256.2 56.9,256.5 57.6,257.7 58.3,257.0 59.0,253.7 59.7,255.7 60.4,255.7 61.1,251.8 61.8,258.2 62.5,259.4 63.2,255.9 63.9,259.6 64.6,256.9 65.3,253.4 66.0,256.1 66.7,256.1 67.4,254.7 68.1,260.8 68.8,254.4 69.5,252.8 70.2,255.5 70.9,254.9 71.6,251.7 72.3,261.0 73.0,260.1 73.7,260.3 74.4,253.7 75.1,249.9 75.8,256.7 76.5,254.0 77.2,254.5 77.9,255.3 78.6,255.8 79.3,256.4 80.0,254.4 80.7,255.2 81.4,257.0 82.1,255.9 82.8,256.9 83.5,253.5 84.2,263.9 84.9,253.3 85.6,264.1 86.3,260.9 87.0,253.8 87.7,259.9 88.4,261.7 89.1,249.1 89.8,250.5 90.5,256.1 91.2,257.1 91.9,255.0 92.6,260.5 93.3,258.0 94.0,253.8 94.7,256.5 95.4,254.5 96.1,256.5 96.8,251.5 97.5,258.5 98.2,255.7 98.9,255.8 99.6,253.8 100.3,258.2 101.0,254.5 101.7,262.7 102.4,251.8 103.1,259.1 103.8,256.0 104.5,257.8 105.2,257.1 105.9,255.0 106.6,253.0 107.3,259.5 108.0,258.3 108.7,259.6 109.4,260.7 110.1,255.8 110.8,252.8 111.5,253.6 112.2,256.5 112.9,257.0 113.6,256.3 114.3,255.6 115.0,259.2 115.7,256.2 116.4,253.6 117.1,265.1 117.8,255.2 118.5,258.1 119.2,253.6 119.9,256.2 120.6,257.6 121.3,255.0 122.0,258.9 122.7,255.2 123.4,254.5 124.1,257.1 124.8,260.9 125.5,259.9 126.2,257.0 126.9,259.3 127.6,255.3 128.3,252.5 129.0,258.1 129.7,254.5 130.4,257.6 131.1,256.5 131.8,255.8 132.5,252.1 133.2,257.8 133.9,256.5 134.6,258.1 135.3,260.4 136.0,257.3 136.7,258.1 137.4,254.9 138.1,256.1 138.8,254.6 139.5,255.0 140.2,261.1 140.9,256.0 141.6,256.5 142.3,252.0 143.0,259.1 143.7,253.9 144.4,252.1 145.1,258.6 145.8,253.4 146.5,258.4 147.2,259.2 147.9,258.1 148.6,256.1 149.3,261.8 150.0,257.8 150.7,252.7 151.4,252.7 152.1,251.5 152.8,252.5 153.5,258.3 154.2,255.0 154.9,259.5 155.6,255.7 156.3,256.2 157.0,255.9 157.7,256.3 158.4,253.6 159.1,255.3 159.8,256.2 160.5,255.7 161.2,253.6 161.9,256.1 162.6,259.7 163.3,261.8 164.0,255.3 164.7,262.1 165.4,256.7 166.1,257.5" fill="none" stroke="#000" stroke-width="0.55"/>
<path d="M41.5,257.3 42.2,259.9 42.9,256.2 43.6,260.2 44.3,255.7 45.0,253.1 45.7,255.0 46.4,257.9 47.1,251.4 47.8,251.7 48.5,257.3 49.2,255.1 49.9,256.4 50.6,253.8 51.3,256.3 52.0,254.8 52.7,254.4 53.4,260.1 54.1,251.2 54.8,259.5 55.5,250.7 56.2,253.5 56.9,249.6 57.6,255.3 58.3,261.1 59.0,257.6 59.7,257.4 60.4,261.0 61.1,254.8 61.8,255.3 62.5,252.5 63.2,253.1 63.9,261.5 64.6,255.8 65.3,257.4 66.0,248.0 66.7,253.5 67.4,251.8 68.1,258.0 68.8,252.6 69.5,260.9 70.2,258.2 70.9,261.3 71.6,259.0 72.3,257.3 73.0,261.1 73.7,256.1 74.4,257.1 75.1,258.1 75.8,260.0 76.5,252.0 77.2,258.4 77.9,259.0 78.6,253.9 79.3,261.0 80.0,249.8 80.7,256.1 81.4,253.6 82.1,256.1 82.8,254.7 83.5,262.2 84.2,262.8 84.9,254.8 85.6,259.7 86.3,254.7 87.0,259.4 87.7,257.0 88.4,255.8 89.1,257.0 89.8,261.0 90.5,254.8 91.2,256.5 91.9,252.1 92.6,255.4 93.3,256.5 94.0,255.7 94.7,253.1 95.4,258.5 96.1,253.4 96.8,255.0 97.5,255.0 98.2,247.7 98.9,251.2 99.6,258.3 100.3,253.6 101.0,259.9 101.7,256.6 102.4,257.2 103.1,252.4 103.8,256.4 104.5,259.2 105.2,249.8 105.9,255.9 106.6,255.1 107.3,257.5 108.0,258.7 108.7,257.6 109.4,257.7 110.1,251.6 110.8,254.1 111.5,262.1 112.2,253.9 112.9,260.7 113.6,257.7 114.3,247.7 115.0,255.6 115.7,247.8 116.4,258.0 117.1,261.2 117.8,252.5 118.5,254.5 119.2,255.6 119.9,252.9 120.6,257.1 121.3,258.9 122.0,255.9 122.7,257.6 123.4,256.8 124.1,252.8 124.8,251.9 125.5,252.7 126.2,256.6 126.9,259.2 127.6,253.4 128.3,254.0 129.0,253.1 129.7,256.4 130.4,259.3 131.1,251.0 131.8,253.4 132.5,259.7 133.2,258.0 133.9,256.1 134.6,255.5 135.3,256.8 136.0,260.7 136.7,253.1 137.4,258.4 138.1,258.6 138.8,260.7 139.5,255.3 140.2,254.8 140.9,256.5 141.6,256.6 142.3,259.1 143.0,255.8 143.7,255.9 144.4,258.2 145.1,252.7 145.8,256.7 146.5,258.6 147.2,255.7 147.9,257.5 148.6,258.2 149.3,254.8 150.0,259.0 150.7,254.7 151.4,258.6 152.1,251.5 152.8,253.3 153.5,261.0 154.2,254.9 154.9,254.1 155.6,255.3 156.3,255.1 157.0,255.9 157.7,257.0 158.4,258.5 159.1,256.7 159.8,251.1 160.5,258.1 161.2,252.0 161.9,257.4 162.6,262.8 163.3,261.0 164.0,256.1 164.7,257.3 165.4,257.5 166.1,254.2" fill="none" stroke="#000" stroke-width="0.55"/>
<path d="M41.5,257.4 42.2,253.8 42.9,253.9 43.6,258.8 44.3,248.8 45.0,251.9 45.7,256.5 46.4,257.8 47.1,254.6 47.8,253.5 48.5,253.4 49.2,249.0 49.9,254.0 50.6,256.3 51.3,253.4 52.0,259.3 52.7,259.0 53.4,252.7 54.1,252.2 54.8,257.3 55.5,257.0 56.2,254.0 56.9,257.1 57.6,254.1 58.3,259.7 59.0,255.2 59.7,258.5 60.4,253.2 61.1,258.3 61.8,254.3 62.5,249.9 63.2,254.5 63.9,256.9 64.6,257.5 65.3,254.1 66.0,255.4 66.7,261.6 67.4,252.2 68.1,256.9 68.8,251.3 69.5,253.9 70.2,258.7 70.9,266.0 71.6,254.5 72.3,254.7 73.0,250.1 73.7,256.9 74.4,254.7 75.1,257.0 75.8,252.7 76.5,253.6 77.2,256.1 77.9,259.9 78.6,258.1 79.3,256.4 80.0,252.0 80.7,255.9 81.4,253.9 82.1,260.0 82.8,252.2 83.5,251.8 84.2,255.4 84.9,260.1 85.6,251.9 86.3,253.6 87.0,252.6 87.7,251.1 88.4,255.0 89.1,259.2 89.8,257.7 90.5,255.0 91.2,258.2 91.9,259.0 92.6,256.5 93.3,254.2 94.0,246.8 94.7,255.6 95.4,258.3 96.1,252.6 96.8,252.1 97.5,255.8 98.2,256.4 98.9,257.5 99.6,252.3 100.3,253.7 101.0,256.4 101.7,255.8 102.4,257.8 103.1,255.0 103.8,253.9 104.5,253.7 105.2,258.2 105.9,256.2 106.6,255.3 107.3,253.7 108.0,259.5 108.7,255.6 109.4,250.1 110.1,252.8 110.8,256.3 111.5,255.6 112.2,253.0 112.9,258.3 113.6,255.8 114.3,256.4 115.0,254.1 115.7,255.7 116.4,252.4 117.1,254.9 117.8,255.9 118.5,254.7 119.2,253.3 119.9,256.3 120.6,260.5 121.3,251.7 122.0,252.0 122.7,255.1 123.4,253.7 124.1,255.1 124.8,252.2 125.5,253.6 126.2,251.0 126.9,249.9 127.6,256.1 128.3,254.4 129.0,250.6 129.7,254.9 130.4,253.8 131.1,260.9 131.8,253.3 132.5,257.2 133.2,253.8 133.9,261.5 134.6,258.5 135.3,258.6 136.0,261.1 136.7,255.3 137.4,251.2 138.1,250.1 138.8,257.4 139.5,250.2 140.2,253.0 140.9,255.8 141.6,255.5 142.3,257.3 143.0,250.7 143.7,253.8 144.4,253.2 145.1,253.8 145.8,257.8 146.5,257.7 147.2,257.0 147.9,253.9 148.6,254.2 149.3,259.7 150.0,252.4 150.7,256.4 151.4,254.1 152.1,258.0 152.8,258.4 153.5,258.4 154.2,258.5 154.9,253.8 155.6,250.6 156.3,245.9 157.0,252.1 157.7,255.4 158.4,253.5 159.1,254.7 159.8,257.1 160.5,254.7 161.2,253.0 161.9,253.0 162.6,257.1 163.3,250.9 164.0,251.6 164.7,255.3 165.4,258.5 166.1,253.6" fill="none" stroke="#000" stroke-width="0.55"/>
<path d="M41.5,257.3 42.2,253.3 42.9,258.0 43.6,261.6 44.3,253.9 45.0,256.4 45.7,251.6 46.4,256.7 47.1,246.5 47.8,259.5 48.5,259.4 49.2,259.8 49.9,259.3 50.6,259.9 51.3,254.3 52.0,255.0 52.7,259.1 53.4,258.3 54.1,253.4 54.8,256.9 55.5,257.4 56.2,257.9 56.9,254.3 57.6,253.1 58.3,255.8 59.0,258.8 59.7,254.5 60.4,260.3 61.1,256.6 61.8,249.9 62.5,248.0 63.2,250.3 63.9,256.6 64.6,256.0 65.3,257.2 66.0,256.7 66.7,256.1 67.4,255.4 68.1,252.0 68.8,256.8 69.5,255.4 70.2,254.2 70.9,259.1 71.6,256.9 72.3,257.4 73.0,256.5 73.7,259.7 74.4,258.5 75.1,257.6 75.8,256.6 76.5,255.5 77.2,256.7 77.9,254.7 78.6,258.1 79.3,255.5 80.0,255.5 80.7,257.3 81.4,256.4 82.1,258.5 82.8,259.7 83.5,255.1 84.2,255.0 84.9,256.9 85.6,252.3 86.3,253.0 87.0,256.2 87.7,252.7 88.4,256.7 89.1,250.1 89.8,254.8 90.5,259.6 91.2,254.7 91.9,247.1 92.6,259.8 93.3,256.5 94.0,253.0 94.7,257.4 95.4,257.8 96.1,257.7 96.8,257.1 97.5,260.8 98.2,265.7 98.9,257.4 99.6,260.3 100.3,264.5 101.0,260.4 101.7,255.2 102.4,257.3 103.1,260.6 103.8,257.7 104.5,258.7 105.2,249.6 105.9,257.4 106.6,256.5 107.3,258.3 108.0,251.1 108.7,256.9 109.4,259.8 110.1,255.6 110.8,255.9 111.5,254.3 112.2,257.0 112.9,253.8 113.6,252.7 114.3,251.0 115.0,256.5 115.7,257.3 116.4,254.5 117.1,257.0 117.8,258.6 118.5,256.5 119.2,256.8 119.9,254.2 120.6,251.1 121.3,255.7 122.0,257.4 122.7,260.7 123.4,261.8 124.1,258.2 124.8,250.8 125.5,259.1 126.2,255.5 126.9,256.2 127.6,257.2 128.3,261.7 129.0,255.8 129.7,258.7 130.4,258.8 131.1,263.4 131.8,253.8 132.5,252.3 133.2,257.2 133.9,261.6 134.6,261.6 135.3,255.5 136.0,256.1 136.7,256.3 137.4,254.7 138.1,254.1 138.8,254.4 139.5,258.0 140.2,257.6 140.9,254.4 141.6,259.6 142.3,258.6 143.0,252.9 143.7,252.9 144.4,255.7 145.1,255.4 145.8,261.1 146.5,256.2 147.2,254.3 147.9,255.3 148.6,255.1 149.3,258.7 150.0,258.2 150.7,258.3 151.4,254.5 152.1,261.7 152.8,259.8 153.5,260.4 154.2,255.8 154.9,263.2 155.6,256.3 156.3,257.0 157.0,262.1 157.7,259.3 158.4,257.0 159.1,253.9 159.8,259.9 160.5,257.2 161.2,253.0 161.9,261.4 162.6,259.1 163.3,257.8 164.0,257.7 164.7,257.7 165.4,259.4 166.1,256.5" fill="none" stroke="#000" stroke-width="0.55"/>
<path d="M41.5,256.9 42.2,254.4 42.9,252.8 43.6,259.0 44.3,257.8 45.0,255.6 45.7,257.2 46.4,256.0 47.1,256.2 47.8,255.8 48.5,250.7 49.2,259.8 49.9,262.0 50.6,255.1 51.3,257.3 52.0,251.5 52.7,258.5 53.4,258.8 54.1,251.4 54.8,252.2 55.5,255.7 56.2,259.8 56.9,255.0 57.6,259.4 58.3,252.8 59.0,258.3 59.7,252.9 60.4,260.9 61.1,252.9 61.8,257.3 62.5,259.8 63.2,257.1 63.9,256.8 64.6,252.3 65.3,256.7 66.0,253.4 66.7,263.0 67.4,256.8 68.1,254.1 68.8,255.0 69.5,255.1 70.2,259.6 70.9,255.6 71.6,258.2 72.3,249.6 73.0,252.9 73.7,261.5 74.4,250.5 75.1,254.3 75.8,255.3 76.5,257.9 77.2,261.3 77.9,259.9 78.6,251.7 79.3,259.9 80.0,264.0 80.7,261.2 81.4,252.1 82.1,257.9 82.8,254.9 83.5,255.2 84.2,255.8 84.9,254.0 85.6,259.7 86.3,255.2 87.0,259.7 87.7,261.0 88.4,258.3 89.1,256.9 89.8,256.4 90.5,258.2 91.2,258.8 91.9,255.7 92.6,258.8 93.3,253.8 94.0,256.3 94.7,256.3 95.4,251.3 96.1,260.4 96.8,253.9 97.5,256.0 98.2,256.4 98.9,258.5 99.6,258.0 100.3,259.6 101.0,253.4 101.7,255.8 102.4,254.0 103.1,259.4 103.8,252.9 104.5,261.8 105.2,256.6 105.9,255.8 106.6,256.3 107.3,264.0 108.0,256.3 108.7,252.1 109.4,256.2 110.1,254.5 110.8,255.6 111.5,253.1 112.2,255.7 112.9,254.4 113.6,258.9 114.3,254.9 115.0,254.8 115.7,258.2 116.4,250.3 117.1,254.6 117.8,253.8 118.5,253.5 119.2,253.2 119.9,249.4 120.6,255.4 121.3,250.2 122.0,258.0 122.7,258.1 123.4,254.9 124.1,256.1 124.8,256.9 125.5,250.9 126.2,253.5 126.9,262.7 127.6,254.8 128.3,257.3 129.0,257.5 129.7,251.0 130.4,262.6 131.1,256.0 131.8,256.0 132.5,255.4 133.2,258.6 133.9,263.2 134.6,257.6 135.3,259.4 136.0,259.4 136.7,251.5 137.4,256.6 138.1,258.2 138.8,253.5 139.5,252.3 140.2,263.5 140.9,257.6 141.6,259.8 142.3,262.2 143.0,250.4 143.7,251.6 144.4,259.1 145.1,258.8 145.8,260.2 146.5,255.3 147.2,256.1 147.9,254.7 148.6,253.3 149.3,251.9 150.0,256.1 150.7,255.7 151.4,255.9 152.1,248.4 152.8,260.2 153.5,251.6 154.2,260.3 154.9,251.9 155.6,258.8 156.3,254.0 157.0,256.8 157.7,256.2 158.4,260.1 159.1,253.5 159.8,252.7 160.5,255.0 161.2,260.1 161.9,259.9 162.6,255.1 163.3,257.8 164.0,260.6 164.7,254.3 165.4,257.6 166.1,253.0" fill="none" stroke="#000" stroke-width="0.55"/>
<path d="M41.5,251.1 42.2,250.2 42.9,253.7 43.6,255.7 44.3,252.5 45.0,251.3 45.7,257.2 46.4,250.8 47.1,258.9 47.8,256.3 48.5,258.5 49.2,254.0 49.9,263.0 50.6,253.8 51.3,256.7 52.0,260.2 52.7,256.0 53.4,257.7 54.1,254.4 54.8,254.4 55.5,261.0 56.2,255.2 56.9,252.7 57.6,255.9 58.3,251.8 59.0,257.8 59.7,254.1 60.4,258.9 61.1,255.0 61.8,256.7 62.5,257.2 63.2,256.5 63.9,259.8 64.6,253.9 65.3,259.7 66.0,261.0 66.7,255.2 67.4,252.3 68.1,258.5 68.8,259.1 69.5,249.7 70.2,253.8 70.9,264.0 71.6,261.8 72.3,255.2 73.0,255.2 73.7,263.2 74.4,260.6 75.1,253.5 75.8,259.8 76.5,258.2 77.2,252.1 77.9,254.4 78.6,254.3 79.3,257.9 80.0,254.8 80.7,258.1 81.4,259.6 82.1,258.9 82.8,256.2 83.5,262.9 84.2,257.1 84.9,262.1 85.6,251.6 86.3,256.0 87.0,262.8 87.7,263.7 88.4,257.6 89.1,253.3 89.8,255.0 90.5,256.3 91.2,254.2 91.9,253.0 92.6,256.3 93.3,261.9 94.0,254.4 94.7,254.0 95.4,255.1 96.1,255.4 96.8,256.1 97.5,258.9 98.2,249.5 98.9,257.5 99.6,253.4 100.3,254.2 101.0,251.1 101.7,256.5 102.4,257.2 103.1,253.2 103.8,255.3 104.5,254.4 105.2,247.8 105.9,254.6 106.6,249.5 107.3,257.2 108.0,256.3 108.7,256.0 109.4,253.4 110.1,250.0 110.8,258.5 111.5,256.5 112.2,256.8 112.9,252.2 113.6,256.2 114.3,250.5 115.0,253.8 115.7,252.8 116.4,256.2 117.1,257.6 117.8,258.4 118.5,259.7 119.2,261.4 119.9,251.2 120.6,259.6 121.3,256.3 122.0,253.8 122.7,251.8 123.4,258.5 124.1,255.1 124.8,260.5 125.5,257.2 126.2,254.5 126.9,251.9 127.6,253.8 128.3,255.0 129.0,256.2 129.7,253.4 130.4,248.7 131.1,260.8 131.8,262.9 132.5,253.1 133.2,261.3 133.9,262.3 134.6,258.7 135.3,247.7 136.0,250.9 136.7,253.7 137.4,255.9 138.1,252.8 138.8,262.7 139.5,255.5 140.2,256.9 140.9,257.2 141.6,251.6 142.3,251.7 143.0,265.7 143.7,249.1 144.4,251.4 145.1,257.3 145.8,247.9 146.5,261.6 147.2,256.9 147.9,253.8 148.6,256.6 149.3,255.6 150.0,259.1 150.7,255.4 151.4,259.5 152.1,258.6 152.8,254.5 153.5,259.0 154.2,258.7 154.9,252.7 155.6,256.4 156.3,262.6 157.0,257.2 157.7,259.7 158.4,256.7 159.1,258.0 159.8,254.4 160.5,254.5 161.2,256.3 161.9,255.8 162.6,251.8 163.3,257.8 164.0,256.5 164.7,257.8 165.4,252.0 166.1,256.1" fill="none" stroke="#000" stroke-width="0.55"/>
<path d="M41.5,256.8 42.2,260.8 42.9,252.9 43.6,256.2 44.3,254.1 45.0,258.5 45.7,254.6 46.4,252.1 47.1,262.3 47.8,258.5 48.5,258.6 49.2,254.6 49.9,257.0 50.6,255.1 51.3,256.8 52.0,255.4 52.7,253.5 53.4,258.2 54.1,255.8 54.8,251.8 55.5,257.5 56.2,257.9 56.9,258.9 57.6,261.5 58.3,255.3 59.0,253.2 59.7,255.3 60.4,255.5 61.1,251.8 61.8,256.4 62.5,255.1 63.2,260.6 63.9,254.3 64.6,257.2 65.3,255.4 66.0,251.2 66.7,251.9 67.4,253.8 68.1,249.0 68.8,253.9 69.5,255.5 70.2,253.4 70.9,253.8 71.6,252.1 72.3,256.4 73.0,258.0 73.7,258.1 74.4,259.6 75.1,255.4 75.8,252.3 76.5,249.5 77.2,256.7 77.9,254.6 78.6,257.8 79.3,252.9 80.0,255.1 80.7,259.5 81.4,254.5 82.1,252.9 82.8,259.2 83.5,250.6 84.2,253.8 84.9,258.2 85.6,255.6 86.3,251.1 87.0,260.1 87.7,254.2 88.4,255.8 89.1,253.4 89.8,252.1 90.5,254.5 91.2,254.7 91.9,254.9 92.6,257.8 93.3,251.7 94.0,255.3 94.7,259.8 95.4,251.7 96.1,257.9 96.8,262.0 97.5,254.6 98.2,257.0 98.9,254.8 99.6,257.4 100.3,259.6 101.0,259.7 101.7,258.9 102.4,249.5 103.1,254.4 103.8,257.2 104.5,260.8 105.2,258.7 105.9,260.4 106.6,260.9 107.3,256.0 108.0,251.8 108.7,254.0 109.4,256.5 110.1,251.0 110.8,254.1 111.5,257.0 112.2,256.0 112.9,256.6 113.6,259.0 114.3,253.8 115.0,253.6 115.7,254.2 116.4,256.9 117.1,258.9 117.8,258.6 118.5,260.1 119.2,252.1 119.9,264.0 120.6,252.6 121.3,255.8 122.0,259.9 122.7,255.9 123.4,257.6 124.1,257.7 124.8,254.9 125.5,259.3 126.2,250.0 126.9,252.8 127.6,252.9 128.3,257.1 129.0,252.9 129.7,256.1 130.4,248.5 131.1,246.7 131.8,253.3 132.5,258.6 133.2,253.0 133.9,253.6 134.6,258.4 135.3,255.8 136.0,256.8 136.7,253.4 137.4,248.6 138.1,260.0 138.8,255.8 139.5,256.9 140.2,255.1 140.9,257.5 141.6,251.9 142.3,251.9 143.0,257.4 143.7,259.2 144.4,257.6 145.1,249.3 145.8,254.6 146.5,254.1 147.2,254.3 147.9,258.0 148.6,250.8 149.3,253.5 150.0,258.5 150.7,258.0 151.4,256.6 152.1,253.2 152.8,254.4 153.5,248.6 154.2,258.0 154.9,255.5 155.6,257.2 156.3,260.7 157.0,256.6 157.7,256.8 158.4,254.2 159.1,262.8 159.8,254.7 160.5,255.8 161.2,256.4 161.9,247.4 162.6,253.7 163.3,250.5 164.0,258.0 164.7,259.8 165.4,260.4 166.1,257.9" fill="none" stroke="#000" stroke-width="0.55"/>
<path d="M41.5,259.4 42.2,255.1 42.9,251.1 43.6,256.3 44.3,257.1 45.0,252.5 45.7,255.7 46.4,254.2 47.1,257.3 47.8,256.4 48.5,252.2 49.2,257.7 49.9,251.9 50.6,255.5 51.3,260.8 52.0,252.2 52.7,252.9 53.4,255.0 54.1,252.9 54.8,256.4 55.5,259.0 56.2,254.1 56.9,254.3 57.6,259.0 58.3,257.3 59.0,249.8 59.7,256.1 60.4,254.5 61.1,258.1 61.8,260.6 62.5,257.1 63.2,255.5 63.9,262.0 64.6,260.8 65.3,250.5 66.0,258.5 66.7,252.7 67.4,253.1 68.1,260.9 68.8,253.5 69.5,254.9 70.2,257.8 70.9,250.9 71.6,257.2 72.3,254.7 73.0,258.4 73.7,262.0 74.4,259.1 75.1,258.4 75.8,257.6 76.5,260.5 77.2,261.2 77.9,254.3 78.6,256.4 79.3,250.8 80.0,255.4 80.7,257.0 81.4,254.7 82.1,261.2 82.8,258.3 83.5,255.6 84.2,258.7 84.9,256.3 85.6,258.8 86.3,257.4 87.0,255.2 87.7,255.2 88.4,251.7 89.1,256.4 89.8,258.5 90.5,256.4 91.2,256.1 91.9,257.1 92.6,252.1 93.3,257.4 94.0,254.0 94.7,254.0 95.4,259.6 96.1,260.6 96.8,253.3 97.5,259.7 98.2,260.1 98.9,259.3 99.6,253.6 100.3,261.0 101.0,260.9 101.7,254.6 102.4,254.9 103.1,259.1 103.8,262.5 104.5,262.9 105.2,262.8 105.9,254.3 106.6,263.7 107.3,262.3 108.0,259.3 108.7,254.2 109.4,257.3 110.1,257.9 110.8,258.0 111.5,258.4 112.2,258.1 112.9,260.2 113.6,255.2 114.3,258.0 115.0,256.4 115.7,250.5 116.4,253.2 117.1,255.3 117.8,253.7 118.5,257.3 119.2,255.5 119.9,259.3 120.6,253.9 121.3,252.5 122.0,255.2 122.7,258.3 123.4,261.4 124.1,259.4 124.8,259.3 125.5,254.9 126.2,252.1 126.9,253.3 127.6,260.1 128.3,257.9 129.0,257.9 129.7,258.6 130.4,255.7 131.1,251.2 131.8,256.3 132.5,260.5 133.2,266.2 133.9,256.1 134.6,258.0 135.3,254.1 136.0,256.7 136.7,263.1 137.4,258.0 138.1,253.1 138.8,259.8 139.5,255.5 140.2,259.6 140.9,257.5 141.6,259.0 142.3,256.2 143.0,261.2 143.7,251.6 144.4,257.6 145.1,261.0 145.8,256.4 146.5,247.9 147.2,251.1 147.9,251.9 148.6,256.3 149.3,255.2 150.0,255.6 150.7,258.9 151.4,258.9 152.1,259.0 152.8,253.4 153.5,255.7 154.2,253.5 154.9,259.7 155.6,260.1 156.3,250.1 157.0,256.0 157.7,258.1 158.4,257.3 159.1,251.1 159.8,257.1 160.5,259.1 161.2,260.8 161.9,256.3 162.6,254.5 163.3,256.2 164.0,257.4 164.7,258.0 165.4,258.1 166.1,257.9" fill="none" stroke="#000" stroke-width="0.55"/>
<path d="M42.0,249.3H42.8V249.0H43.6V248.5H44.4V249.3H45.2V246.8H46.0V248.8H46.8V249.3H47.6V249.5H48.4V249.0H49.2V249.0H50.0V249.7H50.8V249.9H51.6V247.3H52.4V245.8H53.2V249.9H54.0V249.2H54.8V250.0H55.6V249.1H56.4V248.6H57.2V247.8H58.0V248.1H58.8V246.3H59.6V248.0H60.4V248.8H61.2V248.3H62.0V248.0H62.8V247.3H63.6V246.1H64.4V245.5H65.2V244.3H66.0V245.8H66.8V244.3H67.6V244.9H68.4V245.2H69.2V245.5H70.0V248.1H70.8V245.9H71.6V246.5H72.4V248.3H73.2V246.4H74.0V248.9H74.8V250.2H75.6V249.8H76.4V245.4H77.2V247.6H78.0V248.5H78.8V249.7H79.6V249.4H80.4V249.4H81.2V248.6H82.0V245.7H82.8V248.6H83.6V248.3H84.4V249.5H85.2V248.4H86.0V248.3H86.8V246.1H87.6V245.6H88.4V249.6H89.2V246.9H90.0V248.7H90.8V248.1H91.6V246.3H92.4V247.6H93.2V248.1H94.0V248.2H94.8V248.9H95.6V247.8H96.4V247.3H97.2V248.0H98.0V247.2H98.8V249.9H99.6V248.3H100.4V246.8H101.2V246.4H102.0V247.8H102.8V247.0H103.6V248.9H104.4V248.3H105.2V248.6H106.0V248.4H106.8V247.7H107.6V248.5H108.4V247.2H109.2V247.5H110.0V248.0H110.8V248.8H111.6V248.0H112.4V248.7H113.2V248.6H114.0V249.0H114.8V248.4H115.6V248.4H116.4V248.3H117.2V249.0H118.0V248.7H118.8V248.3H119.6V248.1H120.4V248.5H121.2V247.7H122.0V248.0H122.8V248.6H123.6V246.1H124.4V248.7H125.2V246.7H126.0V248.7H126.8V247.0H127.6V247.4H128.4V247.6H129.2V248.0H130.0V245.0H130.8V248.7H131.6V249.7H132.4V249.1H133.2V248.3H134.0V248.5H134.8V249.3H135.6V247.4H136.4V246.5H137.2V246.9H138.0V245.0H138.8V247.4H139.6V248.2H140.4V248.4H141.2V249.4H142.0V247.9H142.8V247.7H143.6V247.6H144.4V248.7H145.2V249.8H146.0V247.8H146.8V247.9H147.6V248.4H148.4V248.9H149.2V247.9H150.0V248.9H150.8V249.5H151.6V248.7H152.4V249.5H153.2V249.1H154.0V248.4H154.8V247.8H155.6V248.1H156.4V249.0H157.2V248.6H158.0V246.1H158.8V248.0H159.6V250.0H160.4V248.4H161.2V249.5H162.0V248.6H162.8V247.1H163.6V247.8H164.4V248.8H165.2V250.4H166.0V249.5H166.8V251.1H166.0V251.8H165.2V251.7H164.4V250.9H163.6V250.4H162.8V249.9H162.0V251.2H161.2V251.0H160.4V250.6H159.6V249.7H158.8V249.6H158.0V249.9H157.2V250.4H156.4V249.1H155.6V249.5H154.8V249.0H154.0V251.4H153.2V250.3H152.4V251.2H151.6V250.1H150.8V249.5H150.0V249.6H149.2V251.1H148.4V250.5H147.6V250.8H146.8V250.0H146.0V250.4H145.2V250.0H144.4V249.3H143.6V249.7H142.8V250.2H142.0V250.4H141.2V249.8H140.4V249.7H139.6V249.2H138.8V250.2H138.0V249.4H137.2V249.5H136.4V249.3H135.6V249.5H134.8V250.5H134.0V251.2H133.2V250.4H132.4V251.4H131.6V250.1H130.8V249.8H130.0V250.7H129.2V249.9H128.4V250.2H127.6V251.0H126.8V250.6H126.0V249.5H125.2V249.7H124.4V249.2H123.6V250.0H122.8V250.6H122.0V250.8H121.2V250.5H120.4V249.9H119.6V250.6H118.8V249.5H118.0V249.4H117.2V250.5H116.4V249.7H115.6V250.0H114.8V250.3H114.0V249.5H113.2V249.7H112.4V249.5H111.6V249.9H110.8V250.4H110.0V251.6H109.2V250.9H108.4V250.6H107.6V249.4H106.8V250.6H106.0V250.4H105.2V250.4H104.4V249.4H103.6V249.3H102.8V249.0H102.0V249.6H101.2V249.5H100.4V250.3H99.6V250.1H98.8V250.7H98.0V250.0H97.2V249.8H96.4V250.2H95.6V250.4H94.8V250.2H94.0V249.8H93.2V250.3H92.4V250.5H91.6V249.8H90.8V249.8H90.0V249.8H89.2V250.5H88.4V249.5H87.6V249.8H86.8V250.4H86.0V250.8H85.2V250.3H84.4V250.3H83.6V250.0H82.8V250.8H82.0V250.3H81.2V249.7H80.4V250.3H79.6V250.7H78.8V250.3H78.0V250.4H77.2V251.3H76.4V251.6H75.6V250.7H74.8V250.7H74.0V251.8H73.2V251.4H72.4V250.6H71.6V249.8H70.8V251.0H70.0V250.8H69.2V249.9H68.4V250.3H67.6V249.1H66.8V249.0H66.0V248.9H65.2V251.0H64.4V250.4H63.6V251.7H62.8V250.3H62.0V250.7H61.2V250.9H60.4V251.0H59.6V249.8H58.8V250.0H58.0V251.5H57.2V251.0H56.4V251.9H55.6V252.2H54.8V251.6H54.0V251.3H53.2V250.1H52.4V249.4H51.6V250.8H50.8V250.9H50.0V251.0H49.2V250.3H48.4V251.4H47.6V249.9H46.8V249.9H46.0V250.6H45.2V250.0H44.4V250.8H43.6V250.3H42.8V251.3H42.0Z" fill="#000" fill-opacity="0.3"/>
<path d="M42.0,261.1H42.8V261.5H43.6V261.2H44.4V261.7H45.2V262.6H46.0V262.6H46.8V262.6H47.6V260.9H48.4V261.9H49.2V261.3H50.0V262.3H50.8V262.6H51.6V262.7H52.4V262.6H53.2V260.7H54.0V261.3H54.8V261.3H55.6V262.4H56.4V262.2H57.2V262.6H58.0V262.6H58.8V261.1H59.6V261.9H60.4V261.3H61.2V261.3H62.0V262.5H62.8V261.5H63.6V262.4H64.4V262.7H65.2V262.2H66.0V262.4H66.8V262.0H67.6V261.7H68.4V262.0H69.2V261.7H70.0V263.0H70.8V261.7H71.6V261.4H72.4V262.3H73.2V261.8H74.0V260.8H74.8V261.4H75.6V261.1H76.4V262.4H77.2V262.1H78.0V261.6H78.8V261.0H79.6V261.9H80.4V261.7H81.2V261.8H82.0V262.8H82.8V262.8H83.6V262.2H84.4V261.4H85.2V262.3H86.0V262.2H86.8V261.3H87.6V262.0H88.4V261.5H89.2V261.0H90.0V261.3H90.8V261.2H91.6V261.7H92.4V261.3H93.2V261.6H94.0V262.5H94.8V261.9H95.6V261.7H96.4V262.3H97.2V262.7H98.0V262.6H98.8V262.2H99.6V262.0H100.4V262.2H101.2V262.5H102.0V263.4H102.8V262.8H103.6V261.8H104.4V260.0H105.2V261.7H106.0V261.9H106.8V263.0H107.6V261.9H108.4V262.1H109.2V260.3H110.0V261.3H110.8V261.9H111.6V262.9H112.4V261.8H113.2V263.0H114.0V262.4H114.8V262.7H115.6V261.6H116.4V263.0H117.2V262.1H118.0V263.1H118.8V262.2H119.6V261.5H120.4V261.8H121.2V262.2H122.0V260.9H122.8V262.3H123.6V262.0H124.4V261.8H125.2V262.2H126.0V262.0H126.8V261.4H127.6V263.0H128.4V262.6H129.2V261.3H130.0V261.3H130.8V261.9H131.6V262.1H132.4V262.4H133.2V261.4H134.0V262.4H134.8V261.7H135.6V261.2H136.4V262.1H137.2V261.4H138.0V261.1H138.8V261.1H139.6V260.3H140.4V260.4H141.2V260.5H142.0V261.7H142.8V261.8H143.6V262.4H144.4V261.4H145.2V261.8H146.0V260.6H146.8V261.8H147.6V262.1H148.4V262.1H149.2V262.2H150.0V262.0H150.8V262.7H151.6V263.0H152.4V262.2H153.2V261.8H154.0V261.5H154.8V261.1H155.6V261.8H156.4V261.3H157.2V261.8H158.0V262.6H158.8V260.7H159.6V262.2H160.4V261.7H161.2V260.9H162.0V261.7H162.8V261.5H163.6V261.3H164.4V261.6H165.2V261.3H166.0V261.7H166.8V264.4H166.0V264.8H165.2V263.0H164.4V265.0H163.6V262.5H162.8V263.2H162.0V263.0H161.2V264.3H160.4V262.7H159.6V262.3H158.8V263.6H158.0V263.4H157.2V266.3H156.4V262.9H155.6V264.4H154.8V264.6H154.0V264.4H153.2V265.6H152.4V264.6H151.6V265.1H150.8V262.5H150.0V263.4H149.2V264.6H148.4V265.0H147.6V262.2H146.8V262.5H146.0V265.3H145.2V263.4H144.4V263.1H143.6V264.8H142.8V263.8H142.0V262.9H141.2V261.8H140.4V262.9H139.6V264.3H138.8V264.0H138.0V263.8H137.2V263.1H136.4V263.5H135.6V264.0H134.8V263.0H134.0V264.3H133.2V264.5H132.4V263.5H131.6V262.8H130.8V265.2H130.0V265.3H129.2V263.9H128.4V263.5H127.6V263.5H126.8V263.4H126.0V264.0H125.2V263.8H124.4V263.0H123.6V266.0H122.8V264.7H122.0V263.3H121.2V262.3H120.4V263.0H119.6V263.1H118.8V263.6H118.0V267.0H117.2V265.8H116.4V263.2H115.6V263.5H114.8V263.8H114.0V264.4H113.2V263.3H112.4V265.8H111.6V263.0H110.8V265.1H110.0V263.5H109.2V264.3H108.4V262.5H107.6V263.3H106.8V262.7H106.0V263.2H105.2V264.1H104.4V264.0H103.6V264.0H102.8V264.2H102.0V265.1H101.2V264.2H100.4V265.2H99.6V265.5H98.8V264.6H98.0V263.4H97.2V263.4H96.4V263.1H95.6V265.5H94.8V264.3H94.0V265.2H93.2V264.6H92.4V262.7H91.6V265.0H90.8V262.7H90.0V262.5H89.2V263.9H88.4V264.0H87.6V264.5H86.8V265.2H86.0V265.3H85.2V265.4H84.4V265.9H83.6V264.6H82.8V263.7H82.0V264.3H81.2V265.0H80.4V263.7H79.6V263.2H78.8V263.8H78.0V265.7H77.2V263.7H76.4V262.1H75.6V263.1H74.8V263.0H74.0V264.1H73.2V263.3H72.4V263.1H71.6V263.9H70.8V263.9H70.0V264.6H69.2V264.7H68.4V263.9H67.6V263.8H66.8V264.2H66.0V265.8H65.2V264.7H64.4V265.2H63.6V263.9H62.8V266.0H62.0V263.0H61.2V263.2H60.4V263.0H59.6V263.3H58.8V265.9H58.0V264.1H57.2V264.1H56.4V262.5H55.6V265.1H54.8V264.6H54.0V264.7H53.2V264.6H52.4V263.7H51.6V263.7H50.8V263.9H50.0V264.3H49.2V263.1H48.4V263.1H47.6V264.8H46.8V264.2H46.0V264.2H45.2V263.0H44.4V263.7H43.6V263.9H42.8V264.0H42.0Z" fill="#000" fill-opacity="0.3"/>
<path d="M42.0,247.9H42.8V247.2H43.6V246.9H44.4V246.8H45.2V247.0H46.0V248.5H46.8V249.5H47.6V249.5H48.4V249.8H49.2V246.0H50.0V245.7H50.8V249.0H51.6V249.0H52.4V249.9H53.2V250.0H54.0V250.0H54.8V248.1H55.6V249.6H56.4V248.2H57.2V248.6H58.0V248.3H58.8V249.1H59.6V247.7H60.4V250.0H61.2V247.6H62.0V247.5H62.8V246.5H63.6V248.0H64.4V248.6H65.2V248.6H66.0V247.9H66.8V246.6H67.6V249.2H68.4V249.7H69.2V249.4H70.0V249.2H70.8V249.3H71.6V249.6H72.4V250.3H73.2V248.2H74.0V247.6H74.8V247.5H75.6V249.4H76.4V247.5H77.2V249.7H78.0V247.1H78.8V246.4H79.6V245.3H80.4V245.6H81.2V249.4H82.0V247.0H82.8V248.8H83.6V250.2H84.4V249.8H85.2V249.2H86.0V249.1H86.8V249.1H87.6V245.0H88.4V245.2H89.2V249.1H90.0V246.4H90.8V247.1H91.6V246.6H92.4V246.5H93.2V245.7H94.0V247.4H94.8V249.1H95.6V249.5H96.4V248.0H97.2V248.1H98.0V249.7H98.8V250.1H99.6V249.0H100.4V248.9H101.2V246.7H102.0V247.6H102.8V247.2H103.6V247.7H104.4V248.5H105.2V248.2H106.0V247.0H106.8V247.6H107.6V248.0H108.4V247.6H109.2V248.8H110.0V247.6H110.8V246.0H111.6V248.2H112.4V249.1H113.2V246.0H114.0V246.4H114.8V248.3H115.6V247.0H116.4V247.9H117.2V247.0H118.0V248.6H118.8V248.8H119.6V249.0H120.4V247.8H121.2V248.9H122.0V247.7H122.8V247.3H123.6V247.6H124.4V248.8H125.2V248.7H126.0V248.6H126.8V248.3H127.6V246.7H128.4V246.9H129.2V248.1H130.0V249.0H130.8V247.9H131.6V248.8H132.4V247.3H133.2V249.1H134.0V248.4H134.8V249.2H135.6V247.7H136.4V248.2H137.2V247.4H138.0V246.3H138.8V245.2H139.6V247.7H140.4V245.1H141.2V247.2H142.0V249.1H142.8V245.4H143.6V248.6H144.4V247.2H145.2V248.9H146.0V249.4H146.8V248.7H147.6V249.4H148.4V246.9H149.2V247.2H150.0V249.6H150.8V248.0H151.6V247.4H152.4V247.7H153.2V246.4H154.0V248.2H154.8V249.0H155.6V247.8H156.4V247.8H157.2V249.6H158.0V249.5H158.8V249.9H159.6V248.7H160.4V249.4H161.2V249.7H162.0V250.1H162.8V249.3H163.6V249.9H164.4V248.9H165.2V249.1H166.0V250.4H166.8V251.4H166.0V252.1H165.2V251.5H164.4V250.8H163.6V251.2H162.8V250.7H162.0V250.9H161.2V252.0H160.4V251.2H159.6V251.1H158.8V249.9H158.0V249.8H157.2V250.9H156.4V249.9H155.6V249.8H154.8V250.9H154.0V250.9H153.2V250.2H152.4V250.4H151.6V250.4H150.8V250.7H150.0V249.8H149.2V250.3H148.4V250.2H147.6V250.5H146.8V249.5H146.0V249.1H145.2V249.8H144.4V250.1H143.6V250.6H142.8V250.6H142.0V250.6H141.2V249.3H140.4V248.5H139.6V249.8H138.8V249.8H138.0V249.6H137.2V249.9H136.4V250.4H135.6V249.6H134.8V250.9H134.0V249.7H133.2V250.0H132.4V249.6H131.6V249.4H130.8V249.6H130.0V250.3H129.2V250.2H128.4V249.7H127.6V250.8H126.8V249.0H126.0V249.5H125.2V250.5H124.4V249.6H123.6V249.3H122.8V250.1H122.0V250.4H121.2V249.3H120.4V250.0H119.6V249.9H118.8V248.9H118.0V250.8H117.2V249.5H116.4V250.0H115.6V250.3H114.8V250.3H114.0V250.7H113.2V249.5H112.4V249.3H111.6V249.2H110.8V250.6H110.0V249.5H109.2V249.9H108.4V250.5H107.6V250.6H106.8V249.7H106.0V249.2H105.2V248.7H104.4V248.2H103.6V250.1H102.8V249.0H102.0V250.2H101.2V250.5H100.4V250.3H99.6V250.9H98.8V250.5H98.0V251.1H97.2V250.5H96.4V251.2H95.6V251.5H94.8V251.3H94.0V251.1H93.2V251.3H92.4V250.7H91.6V250.6H90.8V250.2H90.0V250.2H89.2V249.1H88.4V250.6H87.6V249.6H86.8V250.4H86.0V250.8H85.2V250.3H84.4V250.9H83.6V250.1H82.8V250.0H82.0V251.1H81.2V250.6H80.4V250.7H79.6V250.6H78.8V250.7H78.0V250.2H77.2V250.8H76.4V250.9H75.6V250.0H74.8V251.2H74.0V250.7H73.2V251.5H72.4V250.8H71.6V251.7H70.8V250.2H70.0V250.9H69.2V251.1H68.4V251.3H67.6V250.2H66.8V250.0H66.0V250.4H65.2V249.3H64.4V249.2H63.6V249.2H62.8V250.2H62.0V250.6H61.2V250.8H60.4V251.5H59.6V250.1H58.8V250.3H58.0V249.7H57.2V250.4H56.4V251.2H55.6V251.4H54.8V252.4H54.0V250.9H53.2V250.8H52.4V251.1H51.6V250.2H50.8V250.8H50.0V249.8H49.2V249.8H48.4V249.9H47.6V250.9H46.8V251.2H46.0V251.4H45.2V252.4H44.4V251.8H43.6V251.0H42.8V251.7H42.0Z" fill="#000" fill-opacity="0.3"/>
<path d="M42.0,262.3H42.8V262.2H43.6V262.8H44.4V263.1H45.2V263.3H46.0V263.2H46.8V261.6H47.6V261.9H48.4V262.4H49.2V260.5H50.0V262.2H50.8V261.0H51.6V260.6H52.4V261.1H53.2V262.1H54.0V261.8H54.8V262.8H55.6V262.1H56.4V261.8H57.2V261.8H58.0V260.1H58.8V260.2H59.6V260.5H60.4V260.0H61.2V261.1H62.0V261.5H62.8V261.7H63.6V261.4H64.4V261.8H65.2V262.2H66.0V262.6H66.8V261.0H67.6V260.3H68.4V261.3H69.2V260.7H70.0V261.6H70.8V261.4H71.6V261.7H72.4V260.6H73.2V262.1H74.0V261.8H74.8V262.2H75.6V262.3H76.4V262.9H77.2V262.0H78.0V260.9H78.8V261.8H79.6V261.3H80.4V260.8H81.2V262.0H82.0V260.2H82.8V261.6H83.6V260.8H84.4V261.2H85.2V261.7H86.0V262.4H86.8V262.5H87.6V262.1H88.4V261.1H89.2V261.6H90.0V261.6H90.8V262.0H91.6V261.4H92.4V262.3H93.2V262.7H94.0V261.9H94.8V262.5H95.6V261.5H96.4V261.9H97.2V261.8H98.0V261.1H98.8V260.8H99.6V261.9H100.4V262.3H101.2V263.2H102.0V263.3H102.8V262.2H103.6V262.1H104.4V262.4H105.2V260.9H106.0V260.8H106.8V260.3H107.6V261.3H108.4V261.0H109.2V261.7H110.0V262.2H110.8V261.7H111.6V261.2H112.4V261.9H113.2V262.0H114.0V262.1H114.8V261.0H115.6V262.2H116.4V260.7H117.2V261.7H118.0V262.6H118.8V262.3H119.6V262.0H120.4V260.7H121.2V262.2H122.0V260.8H122.8V261.5H123.6V261.7H124.4V260.4H125.2V261.9H126.0V260.5H126.8V261.3H127.6V262.7H128.4V261.2H129.2V261.4H130.0V261.5H130.8V263.0H131.6V263.2H132.4V261.4H133.2V262.1H134.0V261.6H134.8V262.3H135.6V260.9H136.4V261.1H137.2V261.2H138.0V260.1H138.8V260.7H139.6V262.1H140.4V262.1H141.2V262.6H142.0V262.7H142.8V262.9H143.6V262.5H144.4V261.6H145.2V261.4H146.0V260.1H146.8V260.4H147.6V262.1H148.4V261.3H149.2V260.6H150.0V262.4H150.8V260.9H151.6V261.2H152.4V261.3H153.2V261.9H154.0V261.8H154.8V261.6H155.6V260.1H156.4V262.2H157.2V261.5H158.0V261.0H158.8V262.1H159.6V261.6H160.4V262.4H161.2V262.1H162.0V261.9H162.8V260.6H163.6V261.1H164.4V261.4H165.2V261.1H166.0V262.0H166.8V262.9H166.0V264.0H165.2V262.7H164.4V264.6H163.6V263.5H162.8V263.5H162.0V263.1H161.2V263.2H160.4V265.2H159.6V263.0H158.8V266.4H158.0V264.1H157.2V263.1H156.4V264.4H155.6V262.3H154.8V264.1H154.0V262.8H153.2V263.9H152.4V263.2H151.6V263.1H150.8V263.3H150.0V264.0H149.2V265.3H148.4V262.7H147.6V264.6H146.8V264.5H146.0V264.2H145.2V264.4H144.4V264.5H143.6V263.5H142.8V263.4H142.0V264.9H141.2V263.4H140.4V262.4H139.6V264.2H138.8V263.3H138.0V263.0H137.2V263.2H136.4V263.0H135.6V264.3H134.8V264.1H134.0V262.8H133.2V263.1H132.4V265.3H131.6V263.6H130.8V264.9H130.0V264.7H129.2V264.8H128.4V264.0H127.6V263.4H126.8V262.2H126.0V262.4H125.2V263.4H124.4V262.7H123.6V263.3H122.8V264.5H122.0V264.0H121.2V262.7H120.4V266.2H119.6V263.8H118.8V267.1H118.0V264.9H117.2V263.2H116.4V263.9H115.6V263.4H114.8V262.5H114.0V262.9H113.2V263.9H112.4V263.0H111.6V263.2H110.8V263.4H110.0V263.1H109.2V262.1H108.4V262.8H107.6V262.0H106.8V262.9H106.0V264.2H105.2V264.3H104.4V265.5H103.6V263.7H102.8V266.1H102.0V264.6H101.2V264.7H100.4V262.1H99.6V264.7H98.8V264.2H98.0V262.5H97.2V264.5H96.4V262.8H95.6V263.3H94.8V263.1H94.0V266.1H93.2V262.7H92.4V265.1H91.6V263.5H90.8V262.4H90.0V262.2H89.2V263.0H88.4V264.3H87.6V263.6H86.8V265.2H86.0V265.7H85.2V262.8H84.4V263.8H83.6V264.2H82.8V262.8H82.0V263.3H81.2V266.1H80.4V263.8H79.6V264.8H78.8V265.0H78.0V262.6H77.2V263.5H76.4V262.7H75.6V263.3H74.8V262.4H74.0V263.8H73.2V264.0H72.4V264.9H71.6V263.9H70.8V265.2H70.0V262.9H69.2V262.7H68.4V265.0H67.6V264.8H66.8V264.0H66.0V262.6H65.2V264.5H64.4V263.4H63.6V262.5H62.8V264.1H62.0V262.4H61.2V264.1H60.4V265.0H59.6V263.9H58.8V264.0H58.0V264.9H57.2V264.2H56.4V264.5H55.6V263.6H54.8V264.7H54.0V264.1H53.2V263.0H52.4V264.4H51.6V261.9H50.8V262.4H50.0V262.7H49.2V264.7H48.4V263.8H47.6V264.6H46.8V263.7H46.0V266.1H45.2V265.7H44.4V265.1H43.6V266.7H42.8V263.4H42.0Z" fill="#000" fill-opacity="0.3"/>
<path d="M42.0,247.2H42.8V247.0H43.6V249.2H44.4V247.3H45.2V248.9H46.0V248.5H46.8V250.2H47.6V248.3H48.4V247.3H49.2V247.9H50.0V248.0H50.8V246.7H51.6V250.2H52.4V247.5H53.2V247.9H54.0V248.5H54.8V247.0H55.6V247.8H56.4V246.8H57.2V247.9H58.0V248.4H58.8V248.1H59.6V248.4H60.4V245.5H61.2V249.5H62.0V247.8H62.8V248.3H63.6V248.7H64.4V248.2H65.2V248.5H66.0V249.6H66.8V249.7H67.6V249.3H68.4V249.8H69.2V247.8H70.0V249.0H70.8V248.3H71.6V248.7H72.4V249.3H73.2V249.5H74.0V248.2H74.8V248.9H75.6V248.7H76.4V249.1H77.2V249.3H78.0V246.2H78.8V248.0H79.6V246.6H80.4V246.8H81.2V248.1H82.0V247.3H82.8V248.7H83.6V248.5H84.4V249.0H85.2V249.4H86.0V246.0H86.8V246.5H87.6V247.5H88.4V249.2H89.2V248.9H90.0V249.4H90.8V248.8H91.6V247.8H92.4V249.4H93.2V247.8H94.0V248.1H94.8V247.9H95.6V249.3H96.4V249.3H97.2V245.2H98.0V248.0H98.8V247.7H99.6V248.7H100.4V247.8H101.2V246.8H102.0V249.6H102.8V249.6H103.6V248.5H104.4V247.9H105.2V249.0H106.0V245.1H106.8V248.6H107.6V247.6H108.4V248.6H109.2V248.7H110.0V249.1H110.8V248.0H111.6V248.8H112.4V248.4H113.2V248.5H114.0V247.9H114.8V249.3H115.6V247.5H116.4V248.3H117.2V248.9H118.0V246.9H118.8V248.5H119.6V246.7H120.4V246.7H121.2V246.5H122.0V247.5H122.8V247.0H123.6V248.9H124.4V248.5H125.2V248.3H126.0V245.2H126.8V245.3H127.6V248.5H128.4V247.4H129.2V249.0H130.0V245.8H130.8V245.8H131.6V245.3H132.4V246.3H133.2V248.1H134.0V245.6H134.8V245.7H135.6V247.2H136.4V247.7H137.2V246.6H138.0V249.0H138.8V249.4H139.6V247.3H140.4V248.4H141.2V246.3H142.0V248.6H142.8V248.1H143.6V247.8H144.4V248.6H145.2V247.9H146.0V249.5H146.8V248.2H147.6V246.1H148.4V248.3H149.2V248.5H150.0V248.5H150.8V247.8H151.6V249.0H152.4V248.8H153.2V248.6H154.0V246.9H154.8V247.0H155.6V248.9H156.4V249.6H157.2V249.1H158.0V250.3H158.8V248.3H159.6V250.2H160.4V247.6H161.2V248.4H162.0V246.5H162.8V247.0H163.6V249.4H164.4V247.3H165.2V250.4H166.0V247.4H166.8V251.1H166.0V251.4H165.2V251.5H164.4V252.1H163.6V251.8H162.8V251.9H162.0V249.8H161.2V250.3H160.4V250.5H159.6V250.5H158.8V250.5H158.0V250.3H157.2V250.7H156.4V249.8H155.6V249.7H154.8V249.1H154.0V249.8H153.2V251.4H152.4V249.6H151.6V250.1H150.8V249.8H150.0V250.5H149.2V250.0H148.4V249.0H147.6V249.9H146.8V251.3H146.0V250.6H145.2V250.0H144.4V249.5H143.6V250.4H142.8V249.5H142.0V250.1H141.2V250.8H140.4V248.9H139.6V250.8H138.8V249.6H138.0V250.7H137.2V249.8H136.4V249.3H135.6V249.1H134.8V248.7H134.0V250.1H133.2V250.0H132.4V249.2H131.6V249.5H130.8V249.3H130.0V251.1H129.2V250.7H128.4V250.1H127.6V250.0H126.8V249.8H126.0V250.1H125.2V249.8H124.4V250.3H123.6V249.7H122.8V249.6H122.0V250.4H121.2V250.1H120.4V249.4H119.6V250.2H118.8V249.6H118.0V249.3H117.2V249.6H116.4V250.1H115.6V249.6H114.8V250.0H114.0V249.4H113.2V250.0H112.4V250.3H111.6V250.4H110.8V249.7H110.0V251.0H109.2V250.1H108.4V251.0H107.6V250.2H106.8V250.4H106.0V250.1H105.2V251.1H104.4V250.3H103.6V251.6H102.8V250.2H102.0V250.0H101.2V250.8H100.4V250.5H99.6V250.7H98.8V250.1H98.0V249.5H97.2V249.5H96.4V250.5H95.6V251.2H94.8V250.8H94.0V250.4H93.2V249.8H92.4V251.1H91.6V250.5H90.8V251.0H90.0V250.0H89.2V250.6H88.4V249.6H87.6V249.8H86.8V248.8H86.0V250.4H85.2V250.7H84.4V250.6H83.6V249.3H82.8V250.0H82.0V250.1H81.2V250.0H80.4V250.6H79.6V250.6H78.8V249.6H78.0V250.1H77.2V249.9H76.4V250.7H75.6V249.3H74.8V251.2H74.0V249.5H73.2V250.1H72.4V249.2H71.6V249.2H70.8V249.9H70.0V250.3H69.2V252.2H68.4V252.4H67.6V252.1H66.8V251.7H66.0V251.1H65.2V250.6H64.4V251.0H63.6V252.4H62.8V250.7H62.0V250.0H61.2V250.8H60.4V249.4H59.6V250.9H58.8V250.2H58.0V251.1H57.2V250.2H56.4V249.6H55.6V251.3H54.8V251.0H54.0V250.6H53.2V251.3H52.4V250.6H51.6V251.1H50.8V250.3H50.0V249.5H49.2V250.5H48.4V250.3H47.6V251.2H46.8V251.0H46.0V249.7H45.2V249.0H44.4V249.9H43.6V249.8H42.8V250.1H42.0Z" fill="#000" fill-opacity="0.3"/>
<path d="M42.0,261.2H42.8V260.7H43.6V261.9H44.4V263.0H45.2V261.9H46.0V261.7H46.8V262.2H47.6V261.2H48.4V261.4H49.2V262.1H50.0V261.4H50.8V262.3H51.6V261.8H52.4V262.1H53.2V261.9H54.0V262.0H54.8V261.4H55.6V261.5H56.4V260.9H57.2V261.3H58.0V262.6H58.8V262.7H59.6V262.4H60.4V262.1H61.2V262.4H62.0V261.9H62.8V262.0H63.6V262.5H64.4V261.8H65.2V261.0H66.0V262.0H66.8V261.9H67.6V261.3H68.4V262.2H69.2V261.1H70.0V261.3H70.8V261.7H71.6V262.0H72.4V262.0H73.2V261.8H74.0V262.5H74.8V262.8H75.6V260.6H76.4V262.4H77.2V261.9H78.0V261.1H78.8V262.4H79.6V261.5H80.4V261.4H81.2V261.9H82.0V261.8H82.8V261.4H83.6V262.0H84.4V261.5H85.2V262.8H86.0V260.7H86.8V261.8H87.6V262.8H88.4V261.5H89.2V261.6H90.0V261.8H90.8V262.0H91.6V261.8H92.4V261.5H93.2V261.2H94.0V261.8H94.8V261.5H95.6V262.4H96.4V262.5H97.2V262.6H98.0V261.3H98.8V262.5H99.6V262.3H100.4V262.1H101.2V261.7H102.0V261.9H102.8V261.0H103.6V260.6H104.4V261.7H105.2V262.1H106.0V261.1H106.8V262.8H107.6V261.9H108.4V261.1H109.2V261.6H110.0V262.6H110.8V262.9H111.6V262.2H112.4V262.8H113.2V262.2H114.0V260.8H114.8V261.4H115.6V260.8H116.4V261.7H117.2V262.1H118.0V261.1H118.8V261.6H119.6V261.5H120.4V262.2H121.2V261.3H122.0V261.9H122.8V260.6H123.6V260.9H124.4V260.3H125.2V262.1H126.0V261.5H126.8V261.1H127.6V261.9H128.4V262.7H129.2V260.9H130.0V261.5H130.8V261.1H131.6V262.1H132.4V260.9H133.2V261.8H134.0V260.5H134.8V260.2H135.6V262.6H136.4V263.6H137.2V263.2H138.0V263.1H138.8V262.5H139.6V262.7H140.4V262.1H141.2V261.7H142.0V261.3H142.8V260.7H143.6V262.0H144.4V261.9H145.2V260.8H146.0V261.7H146.8V260.3H147.6V261.5H148.4V261.5H149.2V262.2H150.0V261.7H150.8V262.2H151.6V262.4H152.4V262.5H153.2V262.4H154.0V262.1H154.8V262.1H155.6V262.4H156.4V262.7H157.2V262.3H158.0V262.3H158.8V262.0H159.6V262.6H160.4V261.3H161.2V261.3H162.0V261.1H162.8V262.3H163.6V262.2H164.4V262.4H165.2V261.6H166.0V261.3H166.8V264.9H166.0V263.8H165.2V264.3H164.4V263.6H163.6V264.4H162.8V264.3H162.0V265.5H161.2V264.3H160.4V266.0H159.6V262.6H158.8V265.1H158.0V262.8H157.2V265.8H156.4V264.8H155.6V264.3H154.8V264.3H154.0V263.7H153.2V262.9H152.4V263.6H151.6V264.9H150.8V263.2H150.0V263.5H149.2V262.7H148.4V263.3H147.6V262.1H146.8V262.8H146.0V263.9H145.2V265.2H144.4V262.8H143.6V263.5H142.8V262.8H142.0V262.5H141.2V264.4H140.4V265.1H139.6V265.8H138.8V264.2H138.0V264.6H137.2V264.2H136.4V264.8H135.6V264.5H134.8V261.9H134.0V262.0H133.2V265.1H132.4V262.9H131.6V264.9H130.8V262.4H130.0V262.4H129.2V264.4H128.4V266.0H127.6V263.6H126.8V262.9H126.0V264.0H125.2V262.4H124.4V264.5H123.6V265.0H122.8V264.6H122.0V263.4H121.2V263.1H120.4V264.7H119.6V264.0H118.8V266.0H118.0V263.1H117.2V263.9H116.4V265.2H115.6V262.9H114.8V263.6H114.0V265.5H113.2V264.1H112.4V266.2H111.6V263.6H110.8V264.1H110.0V263.6H109.2V264.4H108.4V263.2H107.6V264.2H106.8V264.3H106.0V264.0H105.2V264.6H104.4V263.7H103.6V263.9H102.8V262.7H102.0V263.0H101.2V264.1H100.4V263.2H99.6V265.4H98.8V265.0H98.0V266.4H97.2V262.8H96.4V263.9H95.6V264.2H94.8V265.9H94.0V264.4H93.2V265.1H92.4V263.5H91.6V264.2H90.8V262.9H90.0V264.2H89.2V265.4H88.4V265.9H87.6V264.0H86.8V264.6H86.0V264.4H85.2V264.8H84.4V263.3H83.6V262.6H82.8V263.4H82.0V263.4H81.2V263.4H80.4V264.6H79.6V266.5H78.8V265.3H78.0V263.5H77.2V263.7H76.4V265.9H75.6V265.2H74.8V265.0H74.0V263.9H73.2V264.4H72.4V262.7H71.6V264.9H70.8V265.0H70.0V263.3H69.2V264.0H68.4V263.7H67.6V263.8H66.8V263.0H66.0V263.4H65.2V262.9H64.4V264.0H63.6V264.8H62.8V265.7H62.0V265.1H61.2V262.8H60.4V263.9H59.6V263.2H58.8V265.7H58.0V266.4H57.2V264.6H56.4V262.4H55.6V265.6H54.8V264.0H54.0V263.6H53.2V264.2H52.4V262.5H51.6V263.8H50.8V265.3H50.0V267.2H49.2V263.1H48.4V264.7H47.6V263.6H46.8V263.7H46.0V262.8H45.2V264.6H44.4V263.5H43.6V262.6H42.8V262.2H42.0Z" fill="#000" fill-opacity="0.3"/>
<line x1="166.60" y1="224.60" x2="166.60" y2="296.00" stroke="#999" stroke-width="0.7"/>
<line x1="166.60" y1="238.00" x2="166.60" y2="280.00" stroke="#333" stroke-width="0.8"/>
<path d="M166.5,253.8 167.5,254.1 168.5,253.1 169.5,253.5 170.5,252.8 171.5,253.9 172.5,252.5 173.5,253.8 174.5,252.4 175.5,253.9 176.5,253.0 177.5,253.9 178.5,253.8 179.5,252.7 180.5,253.4 181.5,254.4 182.5,254.0 183.5,253.0 184.5,253.2 185.5,252.4 186.5,253.6 187.5,254.1 188.5,253.4 189.5,253.6 190.5,252.1 191.5,253.5 192.5,253.9 193.5,252.8 194.5,253.9 195.5,252.7 196.5,254.6 197.5,253.0 198.5,253.7 199.5,253.5 200.5,253.6 201.5,253.3 202.5,253.2 203.5,252.8 204.5,254.4 205.5,254.2 L205.5,263.1 204.5,262.4 203.5,261.3 202.5,262.4 201.5,262.2 200.5,261.9 199.5,262.4 198.5,262.1 197.5,263.0 196.5,261.7 195.5,262.5 194.5,262.2 193.5,261.3 192.5,261.5 191.5,260.9 190.5,262.4 189.5,261.5 188.5,263.0 187.5,261.1 186.5,261.5 185.5,262.0 184.5,262.0 183.5,262.6 182.5,261.9 181.5,263.0 180.5,261.8 179.5,261.8 178.5,263.3 177.5,262.4 176.5,261.2 175.5,262.4 174.5,262.1 173.5,261.7 172.5,261.3 171.5,261.2 170.5,262.9 169.5,261.4 168.5,262.2 167.5,261.8 166.5,261.5Z" fill="#000"/>
<path d="M166.5,258.3 167.3,259.3 168.1,255.2 168.9,260.5 169.7,259.5 170.5,258.2 171.3,258.6 172.1,258.7 172.9,255.9 173.7,256.2 174.5,258.1 175.3,258.2 176.1,256.9 176.9,258.2 177.7,258.9 178.5,258.0 179.3,258.7 180.1,258.9 180.9,257.7 181.7,257.8 182.5,260.4 183.3,258.6 184.1,259.5 184.9,256.2 185.7,257.4 186.5,260.2 187.3,258.0 188.1,258.8 188.9,257.3 189.7,257.5 190.5,258.4 191.3,255.3 192.1,259.1 192.9,259.1 193.7,258.6 194.5,258.3 195.3,260.0 196.1,257.8 196.9,257.3 197.7,257.5 198.5,258.9 199.3,259.2 200.1,258.0 200.9,257.6 201.7,258.4 202.5,254.9 203.3,256.6 204.1,256.7 204.9,258.4 205.7,255.7" fill="none" stroke="#000" stroke-width="0.5"/>
<path d="M166.5,256.3 167.3,259.0 168.1,257.6 168.9,259.5 169.7,258.4 170.5,256.9 171.3,259.0 172.1,260.5 172.9,256.2 173.7,261.2 174.5,258.0 175.3,256.0 176.1,255.8 176.9,258.8 177.7,260.0 178.5,256.9 179.3,255.0 180.1,259.2 180.9,257.7 181.7,259.1 182.5,258.4 183.3,255.3 184.1,255.2 184.9,258.6 185.7,257.4 186.5,257.4 187.3,255.6 188.1,256.3 188.9,259.1 189.7,258.4 190.5,259.4 191.3,256.9 192.1,257.7 192.9,256.1 193.7,256.3 194.5,258.2 195.3,257.8 196.1,257.4 196.9,256.1 197.7,259.4 198.5,258.5 199.3,257.6 200.1,258.4 200.9,255.3 201.7,257.1 202.5,259.2 203.3,257.6 204.1,255.9 204.9,259.3 205.7,256.6" fill="none" stroke="#000" stroke-width="0.5"/>
<path d="M166.5,256.3 167.3,256.3 168.1,259.4 168.9,255.2 169.7,259.2 170.5,256.8 171.3,254.8 172.1,258.8 172.9,258.9 173.7,258.3 174.5,259.0 175.3,258.7 176.1,257.2 176.9,256.0 177.7,260.4 178.5,256.8 179.3,257.0 180.1,257.8 180.9,255.3 181.7,258.7 182.5,258.9 183.3,256.2 184.1,255.5 184.9,258.6 185.7,256.9 186.5,257.0 187.3,258.1 188.1,258.7 188.9,258.4 189.7,259.6 190.5,257.7 191.3,257.6 192.1,255.9 192.9,255.6 193.7,258.1 194.5,257.1 195.3,258.8 196.1,257.4 196.9,256.3 197.7,259.3 198.5,258.2 199.3,256.8 200.1,258.9 200.9,255.3 201.7,255.0 202.5,257.0 203.3,257.8 204.1,257.9 204.9,256.2 205.7,256.2" fill="none" stroke="#000" stroke-width="0.5"/>
<path d="M166.5,258.3 167.3,258.6 168.1,258.4 168.9,255.1 169.7,255.7 170.5,259.4 171.3,258.0 172.1,257.4 172.9,258.4 173.7,256.8 174.5,257.2 175.3,260.7 176.1,259.4 176.9,257.3 177.7,256.5 178.5,257.9 179.3,260.7 180.1,256.5 180.9,256.9 181.7,258.2 182.5,256.6 183.3,256.2 184.1,260.5 184.9,257.7 185.7,255.8 186.5,256.5 187.3,258.9 188.1,256.8 188.9,257.3 189.7,257.8 190.5,257.1 191.3,257.6 192.1,259.0 192.9,258.6 193.7,255.4 194.5,259.2 195.3,255.1 196.1,260.4 196.9,257.6 197.7,262.2 198.5,257.9 199.3,258.8 200.1,256.6 200.9,255.1 201.7,258.5 202.5,258.3 203.3,258.9 204.1,256.5 204.9,256.8 205.7,257.1" fill="none" stroke="#000" stroke-width="0.5"/>
</g>
<path d="M49.6,278.7 H91.9 M49.6,275.2 V282.2 M91.9,275.2 V282.2" fill="none" stroke="#555" stroke-width="1.4"/>
<text x="53.4" y="295.0" font-size="10.6" text-anchor="start" fill="#222" >100 ms</text>
<text x="287.4" y="197.6" font-size="19.3" font-weight="bold" text-anchor="start" fill="#000" >D</text>
<path d="M323.0,189.8 H328.2 V327.6 H323.0 M323.0,259.2 H328.2" fill="none" stroke="#111" stroke-width="1.8"/>
<text x="322.1" y="193.2" font-size="9.5" text-anchor="end" fill="#111" stroke="#111" stroke-width="0.25">50</text>
<text x="322.1" y="262.6" font-size="9.5" text-anchor="end" fill="#111" stroke="#111" stroke-width="0.25">0</text>
<text x="322.1" y="331.0" font-size="9.5" text-anchor="end" fill="#111" stroke="#111" stroke-width="0.25">-50</text>
<text x="0" y="0" font-size="11.1" font-weight="bold" text-anchor="middle" fill="#000" transform="translate(299.3,254.0) rotate(-90)">I (pA)</text>
<g filter="url(#bl)">
<line x1="331.00" y1="190.00" x2="331.00" y2="323.00" stroke="#bbb" stroke-width="0.7"/>
<path d="M331.0,249.3 332.0,250.1 333.0,250.7 334.0,249.2 335.0,249.6 336.0,248.7 337.0,250.7 338.0,250.9 339.0,250.4 340.0,250.0 341.0,251.3 342.0,250.2 343.0,249.6 344.0,250.1 345.0,249.5 346.0,250.3 347.0,250.0 348.0,248.8 349.0,250.5 350.0,248.7 351.0,250.0 352.0,250.3 353.0,251.4 354.0,250.0 355.0,250.6 356.0,250.2 357.0,250.3 358.0,250.3 359.0,250.3 360.0,250.6 361.0,249.6 362.0,249.4 363.0,249.2 364.0,249.8 365.0,249.4 366.0,249.6 367.0,249.4 368.0,249.0 369.0,249.9 370.0,249.6 371.0,248.8 372.0,249.8 373.0,249.5 374.0,250.4 375.0,250.4 376.0,249.9 377.0,249.3 378.0,249.8 379.0,250.4 380.0,251.0 381.0,250.2 382.0,249.1 383.0,251.0 384.0,250.2 385.0,249.5 386.0,251.2 387.0,249.0 388.0,251.3 389.0,249.9 390.0,250.6 391.0,250.7 392.0,249.4 393.0,249.6 394.0,248.3 395.0,249.4 396.0,250.8 397.0,249.6 398.0,251.8 399.0,250.5 400.0,249.1 401.0,250.1 402.0,249.4 403.0,249.7 404.0,249.8 405.0,249.7 406.0,249.9 407.0,249.6 408.0,250.2 409.0,249.0 410.0,247.6 411.0,250.5 412.0,250.5 413.0,250.4 414.0,248.5 415.0,248.3 416.0,251.1 417.0,249.7 418.0,250.4 419.0,250.3 420.0,247.9 421.0,251.1 422.0,250.2 423.0,250.7 424.0,249.4 425.0,250.0 426.0,250.8 427.0,250.2 428.0,250.0 429.0,250.1 430.0,250.4 431.0,250.3 432.0,250.7 433.0,250.7 434.0,250.5 435.0,250.3 436.0,249.0 437.0,249.7 438.0,250.2 439.0,249.4 440.0,250.9 441.0,250.3 442.0,250.1 443.0,249.2 444.0,250.3 445.0,247.9 446.0,248.6 447.0,249.6 448.0,249.6 449.0,249.4 450.0,249.0 451.0,249.7 452.0,250.0 453.0,249.7 454.0,250.3 455.0,249.4 L455.0,262.3 454.0,263.4 453.0,264.8 452.0,263.7 451.0,263.8 450.0,261.8 449.0,262.8 448.0,263.6 447.0,263.3 446.0,263.0 445.0,263.2 444.0,262.8 443.0,262.1 442.0,262.6 441.0,263.6 440.0,263.7 439.0,263.7 438.0,264.0 437.0,263.5 436.0,262.8 435.0,263.2 434.0,263.4 433.0,263.3 432.0,263.6 431.0,262.5 430.0,262.5 429.0,262.3 428.0,264.2 427.0,264.3 426.0,262.9 425.0,262.6 424.0,262.3 423.0,263.6 422.0,262.1 421.0,264.2 420.0,264.9 419.0,262.4 418.0,263.4 417.0,263.5 416.0,261.6 415.0,262.9 414.0,262.5 413.0,263.0 412.0,263.0 411.0,263.7 410.0,264.9 409.0,263.4 408.0,262.7 407.0,263.4 406.0,264.7 405.0,263.4 404.0,262.8 403.0,264.3 402.0,262.6 401.0,263.1 400.0,264.4 399.0,264.0 398.0,262.1 397.0,261.3 396.0,262.6 395.0,263.0 394.0,262.0 393.0,262.4 392.0,262.7 391.0,263.6 390.0,263.1 389.0,262.4 388.0,263.0 387.0,263.5 386.0,262.7 385.0,263.3 384.0,263.5 383.0,263.2 382.0,263.5 381.0,262.1 380.0,263.7 379.0,262.6 378.0,262.8 377.0,263.2 376.0,264.0 375.0,262.4 374.0,263.4 373.0,263.5 372.0,263.0 371.0,262.1 370.0,263.4 369.0,262.5 368.0,262.8 367.0,262.7 366.0,264.0 365.0,263.7 364.0,264.8 363.0,261.8 362.0,263.4 361.0,262.6 360.0,263.8 359.0,263.8 358.0,263.0 357.0,262.6 356.0,261.6 355.0,262.3 354.0,264.0 353.0,264.2 352.0,262.7 351.0,263.7 350.0,263.4 349.0,263.0 348.0,263.5 347.0,264.3 346.0,261.9 345.0,262.9 344.0,263.1 343.0,263.9 342.0,262.9 341.0,264.2 340.0,263.8 339.0,261.9 338.0,263.1 337.0,264.3 336.0,262.2 335.0,262.7 334.0,262.7 333.0,262.8 332.0,264.0 331.0,263.4Z" fill="#000"/>
<path d="M330.8,245.5 L332.5,246 L336,249.5 L336,263.5 L332.5,266 L330.8,266.5 Z" fill="#000"/>
<line x1="330.90" y1="238.00" x2="330.90" y2="276.00" stroke="#666" stroke-width="0.8"/>
<path d="M331.0,257.7 331.7,254.0 332.4,253.6 333.1,253.2 333.8,258.3 334.5,255.6 335.2,254.9 335.9,251.3 336.6,254.3 337.3,256.4 338.0,253.0 338.7,265.1 339.4,255.1 340.1,257.0 340.8,259.4 341.5,258.0 342.2,253.6 342.9,251.3 343.6,258.1 344.3,259.0 345.0,257.6 345.7,257.7 346.4,251.5 347.1,253.5 347.8,255.8 348.5,259.8 349.2,252.3 349.9,257.3 350.6,259.3 351.3,252.8 352.0,257.2 352.7,256.9 353.4,252.9 354.1,257.3 354.8,251.6 355.5,257.5 356.2,252.1 356.9,265.4 357.6,259.1 358.3,253.4 359.0,254.1 359.7,264.5 360.4,254.6 361.1,255.1 361.8,253.0 362.5,251.3 363.2,256.3 363.9,255.1 364.6,261.5 365.3,259.4 366.0,252.1 366.7,256.9 367.4,262.1 368.1,257.0 368.8,256.5 369.5,251.9 370.2,255.0 370.9,262.5 371.6,256.7 372.3,259.8 373.0,254.9 373.7,256.8 374.4,258.3 375.1,253.3 375.8,254.3 376.5,254.2 377.2,258.0 377.9,258.1 378.6,252.1 379.3,257.1 380.0,260.0 380.7,260.7 381.4,253.8 382.1,259.5 382.8,258.9 383.5,257.7 384.2,257.5 384.9,261.7 385.6,257.9 386.3,259.1 387.0,259.7 387.7,258.2 388.4,262.0 389.1,256.7 389.8,257.6 390.5,262.0 391.2,255.6 391.9,261.9 392.6,260.1 393.3,250.9 394.0,258.9 394.7,255.3 395.4,262.3 396.1,255.2 396.8,256.9 397.5,258.9 398.2,252.4 398.9,249.2 399.6,256.6 400.3,259.8 401.0,255.7 401.7,253.0 402.4,256.0 403.1,255.5 403.8,261.9 404.5,258.1 405.2,258.8 405.9,255.5 406.6,259.2 407.3,258.5 408.0,255.7 408.7,256.6 409.4,256.8 410.1,255.2 410.8,260.1 411.5,256.4 412.2,259.1 412.9,254.9 413.6,258.3 414.3,255.3 415.0,253.0 415.7,260.0 416.4,257.4 417.1,250.3 417.8,261.4 418.5,254.1 419.2,254.0 419.9,254.9 420.6,252.8 421.3,257.9 422.0,252.0 422.7,253.7 423.4,258.7 424.1,256.9 424.8,258.6 425.5,254.4 426.2,252.1 426.9,254.1 427.6,254.6 428.3,260.0 429.0,256.4 429.7,260.8 430.4,254.3 431.1,254.6 431.8,259.3 432.5,254.4 433.2,251.8 433.9,255.2 434.6,256.2 435.3,258.3 436.0,257.6 436.7,257.7 437.4,257.2 438.1,259.3 438.8,254.3 439.5,258.7 440.2,253.9 440.9,257.9 441.6,253.9 442.3,260.5 443.0,256.5 443.7,258.9 444.4,258.3 445.1,255.1 445.8,261.6 446.5,253.5 447.2,256.9 447.9,251.4 448.6,259.4 449.3,261.5 450.0,257.1 450.7,256.7 451.4,259.7 452.1,257.5 452.8,258.8 453.5,251.1 454.2,258.4 454.9,256.0 455.6,259.0" fill="none" stroke="#000" stroke-width="0.55"/>
<path d="M331.0,255.4 331.7,254.7 332.4,257.3 333.1,257.2 333.8,259.8 334.5,260.3 335.2,255.5 335.9,258.8 336.6,254.1 337.3,252.9 338.0,256.6 338.7,261.0 339.4,259.2 340.1,249.5 340.8,260.7 341.5,254.1 342.2,256.6 342.9,254.7 343.6,256.3 344.3,253.5 345.0,259.0 345.7,256.4 346.4,255.8 347.1,254.4 347.8,255.7 348.5,259.2 349.2,256.7 349.9,254.3 350.6,253.6 351.3,252.1 352.0,254.3 352.7,252.9 353.4,259.6 354.1,254.6 354.8,255.0 355.5,256.7 356.2,257.7 356.9,254.8 357.6,253.2 358.3,258.0 359.0,257.1 359.7,253.2 360.4,253.0 361.1,256.4 361.8,257.3 362.5,255.1 363.2,254.1 363.9,250.6 364.6,258.1 365.3,256.9 366.0,258.8 366.7,260.3 367.4,261.9 368.1,253.3 368.8,254.9 369.5,258.8 370.2,256.1 370.9,256.4 371.6,256.6 372.3,259.6 373.0,258.5 373.7,254.9 374.4,250.9 375.1,251.9 375.8,254.0 376.5,251.2 377.2,253.1 377.9,262.5 378.6,258.2 379.3,258.9 380.0,247.2 380.7,255.7 381.4,252.6 382.1,255.9 382.8,261.0 383.5,251.6 384.2,253.8 384.9,257.9 385.6,254.2 386.3,253.3 387.0,257.9 387.7,257.1 388.4,255.6 389.1,257.7 389.8,256.7 390.5,260.4 391.2,257.0 391.9,251.7 392.6,260.3 393.3,259.1 394.0,255.3 394.7,257.6 395.4,258.3 396.1,250.3 396.8,253.9 397.5,255.1 398.2,261.4 398.9,256.6 399.6,256.4 400.3,255.9 401.0,260.2 401.7,257.0 402.4,257.3 403.1,249.1 403.8,252.6 404.5,256.8 405.2,254.7 405.9,256.2 406.6,258.7 407.3,251.8 408.0,257.4 408.7,251.0 409.4,255.3 410.1,259.9 410.8,257.1 411.5,254.7 412.2,258.2 412.9,254.0 413.6,259.9 414.3,260.9 415.0,255.3 415.7,252.0 416.4,252.0 417.1,256.8 417.8,252.6 418.5,263.8 419.2,253.4 419.9,260.2 420.6,258.7 421.3,257.7 422.0,256.4 422.7,256.4 423.4,251.3 424.1,258.3 424.8,255.4 425.5,251.1 426.2,253.7 426.9,257.0 427.6,257.5 428.3,253.3 429.0,255.0 429.7,256.2 430.4,256.6 431.1,254.8 431.8,258.6 432.5,255.8 433.2,255.7 433.9,255.1 434.6,258.2 435.3,254.0 436.0,255.1 436.7,252.3 437.4,259.4 438.1,258.8 438.8,258.7 439.5,257.9 440.2,262.2 440.9,250.7 441.6,253.3 442.3,257.8 443.0,257.2 443.7,256.7 444.4,255.7 445.1,257.3 445.8,252.7 446.5,255.7 447.2,259.8 447.9,257.4 448.6,254.6 449.3,256.0 450.0,257.6 450.7,258.1 451.4,252.5 452.1,257.1 452.8,257.8 453.5,252.5 454.2,256.3 454.9,255.5 455.6,259.5" fill="none" stroke="#000" stroke-width="0.55"/>
<path d="M331.0,253.0 331.7,257.5 332.4,258.0 333.1,258.4 333.8,251.2 334.5,253.7 335.2,257.3 335.9,254.2 336.6,252.9 337.3,260.2 338.0,257.1 338.7,261.3 339.4,251.9 340.1,256.4 340.8,261.4 341.5,253.1 342.2,252.8 342.9,260.2 343.6,262.2 344.3,256.3 345.0,262.2 345.7,255.9 346.4,253.2 347.1,251.6 347.8,254.9 348.5,258.4 349.2,259.4 349.9,258.7 350.6,258.9 351.3,256.8 352.0,257.1 352.7,259.9 353.4,255.2 354.1,255.4 354.8,252.5 355.5,254.5 356.2,252.3 356.9,259.6 357.6,259.5 358.3,258.9 359.0,254.8 359.7,262.0 360.4,254.5 361.1,254.1 361.8,260.2 362.5,253.1 363.2,255.2 363.9,257.5 364.6,258.1 365.3,259.1 366.0,254.4 366.7,256.9 367.4,261.1 368.1,256.2 368.8,256.5 369.5,262.2 370.2,256.4 370.9,257.2 371.6,260.9 372.3,257.0 373.0,262.3 373.7,254.3 374.4,254.4 375.1,258.6 375.8,254.8 376.5,255.6 377.2,258.5 377.9,261.2 378.6,257.2 379.3,257.8 380.0,258.0 380.7,251.5 381.4,254.4 382.1,259.5 382.8,256.2 383.5,261.1 384.2,257.4 384.9,260.2 385.6,256.0 386.3,262.1 387.0,255.2 387.7,261.4 388.4,253.1 389.1,253.0 389.8,263.5 390.5,249.9 391.2,254.2 391.9,254.9 392.6,255.3 393.3,254.8 394.0,258.2 394.7,256.0 395.4,256.4 396.1,254.2 396.8,256.0 397.5,259.0 398.2,252.7 398.9,250.7 399.6,257.0 400.3,254.4 401.0,253.5 401.7,257.5 402.4,258.7 403.1,256.4 403.8,255.1 404.5,252.1 405.2,251.4 405.9,256.7 406.6,256.1 407.3,258.6 408.0,254.3 408.7,254.9 409.4,257.5 410.1,252.9 410.8,252.7 411.5,253.6 412.2,256.8 412.9,255.3 413.6,254.6 414.3,258.2 415.0,257.2 415.7,253.9 416.4,254.5 417.1,260.9 417.8,260.8 418.5,254.7 419.2,256.3 419.9,257.3 420.6,256.8 421.3,259.1 422.0,257.1 422.7,252.1 423.4,257.2 424.1,255.5 424.8,257.5 425.5,250.2 426.2,256.8 426.9,247.3 427.6,258.6 428.3,258.4 429.0,262.0 429.7,259.5 430.4,256.6 431.1,254.8 431.8,257.4 432.5,258.8 433.2,251.9 433.9,257.7 434.6,260.3 435.3,252.9 436.0,256.3 436.7,251.3 437.4,259.5 438.1,259.6 438.8,253.3 439.5,256.6 440.2,260.6 440.9,256.2 441.6,249.4 442.3,261.7 443.0,255.5 443.7,253.9 444.4,254.4 445.1,255.2 445.8,260.1 446.5,259.7 447.2,260.3 447.9,253.4 448.6,250.1 449.3,257.1 450.0,259.2 450.7,258.0 451.4,253.9 452.1,261.6 452.8,253.2 453.5,252.8 454.2,259.6 454.9,256.1 455.6,258.0" fill="none" stroke="#000" stroke-width="0.55"/>
<path d="M331.0,260.3 331.7,258.1 332.4,250.2 333.1,254.1 333.8,258.0 334.5,250.5 335.2,258.0 335.9,253.9 336.6,257.4 337.3,257.0 338.0,257.1 338.7,258.8 339.4,256.4 340.1,254.1 340.8,257.2 341.5,251.6 342.2,257.5 342.9,254.7 343.6,249.9 344.3,255.2 345.0,253.3 345.7,259.4 346.4,259.3 347.1,256.7 347.8,258.7 348.5,254.8 349.2,254.1 349.9,259.2 350.6,254.3 351.3,259.1 352.0,255.2 352.7,256.0 353.4,252.8 354.1,249.2 354.8,262.2 355.5,250.3 356.2,254.1 356.9,260.7 357.6,255.1 358.3,253.6 359.0,263.8 359.7,256.9 360.4,254.4 361.1,253.6 361.8,257.2 362.5,253.3 363.2,258.3 363.9,256.7 364.6,252.5 365.3,254.5 366.0,254.7 366.7,258.3 367.4,257.7 368.1,258.7 368.8,256.2 369.5,256.9 370.2,257.8 370.9,257.2 371.6,254.9 372.3,252.3 373.0,256.3 373.7,252.7 374.4,253.4 375.1,258.2 375.8,255.1 376.5,259.3 377.2,255.9 377.9,253.8 378.6,259.9 379.3,253.4 380.0,252.0 380.7,253.2 381.4,259.8 382.1,254.4 382.8,251.6 383.5,256.6 384.2,254.5 384.9,256.3 385.6,251.3 386.3,258.4 387.0,260.7 387.7,253.9 388.4,254.3 389.1,255.6 389.8,259.0 390.5,260.7 391.2,255.4 391.9,257.5 392.6,254.4 393.3,254.0 394.0,257.7 394.7,256.7 395.4,260.0 396.1,253.8 396.8,255.1 397.5,257.9 398.2,254.5 398.9,259.1 399.6,250.0 400.3,258.3 401.0,252.0 401.7,255.4 402.4,260.8 403.1,261.2 403.8,257.6 404.5,253.6 405.2,258.2 405.9,259.4 406.6,251.1 407.3,261.7 408.0,254.6 408.7,256.2 409.4,259.2 410.1,255.2 410.8,256.3 411.5,254.3 412.2,253.8 412.9,254.7 413.6,257.6 414.3,252.0 415.0,254.0 415.7,255.4 416.4,260.5 417.1,258.8 417.8,260.1 418.5,258.9 419.2,256.6 419.9,262.2 420.6,254.2 421.3,256.1 422.0,261.2 422.7,253.1 423.4,253.5 424.1,261.2 424.8,258.0 425.5,258.4 426.2,259.5 426.9,259.6 427.6,252.0 428.3,256.4 429.0,257.0 429.7,259.1 430.4,261.6 431.1,257.2 431.8,256.9 432.5,258.0 433.2,259.7 433.9,259.2 434.6,254.9 435.3,252.3 436.0,253.5 436.7,259.2 437.4,257.9 438.1,263.4 438.8,257.1 439.5,260.8 440.2,257.2 440.9,260.8 441.6,251.0 442.3,252.4 443.0,250.6 443.7,253.9 444.4,257.5 445.1,258.1 445.8,250.0 446.5,260.0 447.2,253.9 447.9,255.6 448.6,258.3 449.3,252.7 450.0,255.1 450.7,256.1 451.4,251.6 452.1,251.1 452.8,261.8 453.5,254.3 454.2,250.4 454.9,256.8 455.6,253.6" fill="none" stroke="#000" stroke-width="0.55"/>
<path d="M331.0,257.7 331.7,258.5 332.4,260.0 333.1,256.2 333.8,257.2 334.5,258.4 335.2,261.4 335.9,252.3 336.6,260.9 337.3,253.5 338.0,261.6 338.7,261.1 339.4,252.2 340.1,257.6 340.8,259.6 341.5,258.9 342.2,257.5 342.9,257.5 343.6,252.4 344.3,256.0 345.0,254.8 345.7,255.0 346.4,262.6 347.1,259.6 347.8,261.4 348.5,259.1 349.2,259.5 349.9,253.6 350.6,262.5 351.3,255.7 352.0,254.9 352.7,263.3 353.4,257.1 354.1,258.4 354.8,258.2 355.5,257.9 356.2,254.1 356.9,252.6 357.6,259.4 358.3,261.5 359.0,259.5 359.7,257.7 360.4,256.3 361.1,254.1 361.8,253.9 362.5,254.0 363.2,262.4 363.9,259.3 364.6,252.1 365.3,256.7 366.0,255.1 366.7,257.2 367.4,255.4 368.1,256.9 368.8,261.1 369.5,258.7 370.2,254.9 370.9,258.4 371.6,259.0 372.3,253.2 373.0,255.8 373.7,256.7 374.4,257.2 375.1,252.9 375.8,259.9 376.5,257.9 377.2,257.3 377.9,256.0 378.6,258.9 379.3,258.8 380.0,255.2 380.7,251.3 381.4,256.0 382.1,259.0 382.8,254.4 383.5,253.8 384.2,253.8 384.9,254.9 385.6,259.9 386.3,249.5 387.0,256.1 387.7,254.9 388.4,251.5 389.1,260.5 389.8,254.2 390.5,255.1 391.2,258.1 391.9,257.4 392.6,261.3 393.3,255.7 394.0,254.8 394.7,259.7 395.4,254.6 396.1,252.8 396.8,262.7 397.5,255.2 398.2,257.7 398.9,251.7 399.6,254.0 400.3,255.3 401.0,254.4 401.7,260.0 402.4,253.8 403.1,256.7 403.8,255.3 404.5,250.8 405.2,254.4 405.9,257.4 406.6,256.5 407.3,256.2 408.0,257.1 408.7,257.5 409.4,254.0 410.1,254.8 410.8,248.4 411.5,254.7 412.2,258.8 412.9,255.6 413.6,259.7 414.3,255.5 415.0,259.7 415.7,263.5 416.4,262.5 417.1,251.7 417.8,253.6 418.5,256.1 419.2,258.3 419.9,255.8 420.6,257.0 421.3,258.3 422.0,258.6 422.7,252.5 423.4,257.3 424.1,258.0 424.8,253.8 425.5,256.2 426.2,257.9 426.9,254.1 427.6,257.3 428.3,256.1 429.0,254.1 429.7,254.4 430.4,259.8 431.1,251.9 431.8,261.4 432.5,256.2 433.2,255.5 433.9,254.2 434.6,250.3 435.3,251.8 436.0,255.3 436.7,255.0 437.4,262.7 438.1,254.7 438.8,255.3 439.5,250.9 440.2,254.3 440.9,258.7 441.6,258.8 442.3,257.7 443.0,259.9 443.7,254.9 444.4,260.5 445.1,260.0 445.8,255.2 446.5,250.2 447.2,255.1 447.9,259.5 448.6,259.0 449.3,257.4 450.0,256.5 450.7,261.9 451.4,257.5 452.1,256.6 452.8,257.3 453.5,260.3 454.2,254.1 454.9,255.2 455.6,253.4" fill="none" stroke="#000" stroke-width="0.55"/>
<path d="M331.0,255.4 331.7,256.5 332.4,258.4 333.1,254.1 333.8,253.9 334.5,253.7 335.2,255.0 335.9,253.8 336.6,249.4 337.3,254.4 338.0,257.9 338.7,254.2 339.4,257.1 340.1,253.3 340.8,253.2 341.5,258.6 342.2,257.8 342.9,255.1 343.6,257.1 344.3,255.6 345.0,251.0 345.7,259.2 346.4,258.0 347.1,252.1 347.8,246.8 348.5,252.4 349.2,259.3 349.9,256.6 350.6,253.5 351.3,251.9 352.0,255.3 352.7,254.5 353.4,252.4 354.1,254.2 354.8,260.8 355.5,255.9 356.2,257.2 356.9,256.2 357.6,258.6 358.3,259.3 359.0,259.4 359.7,255.0 360.4,257.4 361.1,257.2 361.8,255.5 362.5,251.7 363.2,250.7 363.9,256.5 364.6,253.9 365.3,251.6 366.0,252.6 366.7,257.0 367.4,255.5 368.1,255.6 368.8,252.6 369.5,256.9 370.2,252.4 370.9,260.3 371.6,257.7 372.3,255.2 373.0,251.5 373.7,258.2 374.4,257.5 375.1,260.2 375.8,258.5 376.5,256.4 377.2,257.2 377.9,259.7 378.6,251.3 379.3,258.4 380.0,258.2 380.7,254.0 381.4,262.5 382.1,259.3 382.8,254.5 383.5,259.2 384.2,260.8 384.9,256.0 385.6,254.2 386.3,260.6 387.0,264.0 387.7,261.1 388.4,256.7 389.1,257.0 389.8,255.2 390.5,254.2 391.2,257.5 391.9,259.7 392.6,250.2 393.3,257.5 394.0,252.7 394.7,256.9 395.4,255.1 396.1,254.4 396.8,259.0 397.5,247.6 398.2,259.5 398.9,256.9 399.6,259.8 400.3,255.6 401.0,256.5 401.7,257.1 402.4,255.4 403.1,255.9 403.8,250.8 404.5,260.5 405.2,258.2 405.9,258.8 406.6,248.4 407.3,252.8 408.0,252.1 408.7,257.4 409.4,253.1 410.1,253.3 410.8,260.2 411.5,258.8 412.2,261.1 412.9,251.8 413.6,257.3 414.3,255.2 415.0,255.1 415.7,254.6 416.4,253.3 417.1,258.3 417.8,255.3 418.5,256.3 419.2,256.0 419.9,253.8 420.6,261.3 421.3,259.4 422.0,251.6 422.7,253.5 423.4,253.4 424.1,255.8 424.8,263.2 425.5,253.7 426.2,259.6 426.9,254.4 427.6,260.2 428.3,260.9 429.0,254.2 429.7,263.4 430.4,254.7 431.1,259.9 431.8,255.2 432.5,257.2 433.2,256.6 433.9,253.6 434.6,259.6 435.3,251.0 436.0,255.7 436.7,253.6 437.4,255.3 438.1,259.8 438.8,264.3 439.5,256.1 440.2,256.4 440.9,249.9 441.6,259.8 442.3,257.0 443.0,257.3 443.7,252.9 444.4,252.2 445.1,258.5 445.8,257.8 446.5,253.7 447.2,259.9 447.9,255.3 448.6,255.9 449.3,253.3 450.0,258.6 450.7,261.3 451.4,256.0 452.1,255.3 452.8,252.0 453.5,256.3 454.2,255.3 454.9,253.7 455.6,256.8" fill="none" stroke="#000" stroke-width="0.55"/>
<path d="M331.0,257.4 331.7,258.4 332.4,251.9 333.1,258.6 333.8,258.5 334.5,258.2 335.2,255.9 335.9,259.2 336.6,256.7 337.3,258.3 338.0,252.2 338.7,256.2 339.4,258.6 340.1,255.4 340.8,253.2 341.5,255.5 342.2,260.7 342.9,263.6 343.6,256.5 344.3,257.4 345.0,257.2 345.7,259.7 346.4,258.8 347.1,261.6 347.8,255.3 348.5,257.3 349.2,256.6 349.9,255.0 350.6,257.5 351.3,256.9 352.0,261.2 352.7,260.4 353.4,258.0 354.1,261.6 354.8,255.7 355.5,261.2 356.2,251.2 356.9,252.2 357.6,260.7 358.3,263.6 359.0,257.9 359.7,256.2 360.4,254.2 361.1,256.1 361.8,257.0 362.5,258.3 363.2,257.1 363.9,253.9 364.6,259.2 365.3,255.4 366.0,262.4 366.7,257.3 367.4,258.9 368.1,255.0 368.8,261.7 369.5,260.1 370.2,253.9 370.9,257.3 371.6,253.1 372.3,255.8 373.0,256.9 373.7,253.4 374.4,256.5 375.1,258.1 375.8,267.6 376.5,257.7 377.2,257.7 377.9,256.6 378.6,261.7 379.3,257.9 380.0,257.1 380.7,259.6 381.4,258.0 382.1,263.5 382.8,257.6 383.5,257.6 384.2,258.0 384.9,253.2 385.6,263.1 386.3,252.4 387.0,262.5 387.7,265.1 388.4,261.1 389.1,256.8 389.8,259.7 390.5,258.5 391.2,261.2 391.9,256.2 392.6,259.0 393.3,260.0 394.0,258.4 394.7,259.1 395.4,260.8 396.1,259.0 396.8,253.5 397.5,258.0 398.2,258.5 398.9,254.1 399.6,255.7 400.3,254.8 401.0,255.4 401.7,262.8 402.4,257.2 403.1,260.6 403.8,252.5 404.5,257.8 405.2,261.0 405.9,264.0 406.6,256.7 407.3,261.3 408.0,253.1 408.7,257.5 409.4,257.9 410.1,258.7 410.8,260.5 411.5,257.9 412.2,257.5 412.9,257.0 413.6,252.7 414.3,256.1 415.0,262.4 415.7,260.8 416.4,257.4 417.1,261.5 417.8,253.2 418.5,256.1 419.2,261.5 419.9,257.0 420.6,258.7 421.3,255.8 422.0,255.3 422.7,255.7 423.4,255.7 424.1,257.7 424.8,260.2 425.5,256.7 426.2,252.9 426.9,258.8 427.6,256.9 428.3,257.4 429.0,255.3 429.7,252.2 430.4,257.4 431.1,252.0 431.8,258.3 432.5,253.8 433.2,262.8 433.9,258.7 434.6,256.3 435.3,258.0 436.0,254.6 436.7,258.5 437.4,258.4 438.1,258.0 438.8,259.5 439.5,257.6 440.2,261.4 440.9,257.8 441.6,254.4 442.3,254.4 443.0,255.5 443.7,262.1 444.4,263.1 445.1,257.9 445.8,262.9 446.5,260.7 447.2,259.3 447.9,258.9 448.6,260.7 449.3,254.2 450.0,254.5 450.7,257.1 451.4,259.7 452.1,256.4 452.8,257.7 453.5,254.0 454.2,254.8 454.9,254.2 455.6,252.1" fill="none" stroke="#000" stroke-width="0.55"/>
<path d="M331.0,255.1 331.7,255.1 332.4,257.1 333.1,254.1 333.8,253.3 334.5,254.8 335.2,258.6 335.9,261.4 336.6,255.7 337.3,258.5 338.0,252.7 338.7,254.4 339.4,258.7 340.1,256.9 340.8,257.1 341.5,260.1 342.2,256.0 342.9,256.3 343.6,258.9 344.3,253.7 345.0,250.0 345.7,261.3 346.4,254.7 347.1,261.9 347.8,256.5 348.5,260.5 349.2,264.6 349.9,256.1 350.6,257.1 351.3,255.7 352.0,258.1 352.7,254.8 353.4,252.7 354.1,256.3 354.8,253.8 355.5,254.7 356.2,260.7 356.9,255.1 357.6,260.9 358.3,255.2 359.0,260.0 359.7,258.0 360.4,257.9 361.1,256.1 361.8,249.7 362.5,259.7 363.2,253.8 363.9,254.7 364.6,257.5 365.3,257.0 366.0,261.1 366.7,255.1 367.4,251.4 368.1,260.1 368.8,258.8 369.5,258.8 370.2,255.5 370.9,257.1 371.6,257.2 372.3,255.6 373.0,257.2 373.7,259.6 374.4,255.5 375.1,257.8 375.8,253.4 376.5,255.9 377.2,257.0 377.9,254.4 378.6,256.8 379.3,256.7 380.0,258.9 380.7,258.0 381.4,258.0 382.1,257.8 382.8,257.7 383.5,254.1 384.2,262.3 384.9,257.5 385.6,259.8 386.3,261.2 387.0,254.0 387.7,257.9 388.4,259.0 389.1,254.0 389.8,256.0 390.5,254.9 391.2,256.0 391.9,261.0 392.6,254.7 393.3,258.1 394.0,264.2 394.7,261.7 395.4,263.0 396.1,255.4 396.8,256.7 397.5,257.1 398.2,253.0 398.9,257.0 399.6,257.3 400.3,258.4 401.0,254.0 401.7,259.4 402.4,260.2 403.1,259.5 403.8,256.9 404.5,251.5 405.2,260.2 405.9,258.6 406.6,254.6 407.3,257.0 408.0,260.2 408.7,252.1 409.4,253.4 410.1,252.3 410.8,254.8 411.5,252.6 412.2,264.5 412.9,257.1 413.6,261.6 414.3,257.9 415.0,256.0 415.7,259.5 416.4,257.0 417.1,262.4 417.8,260.2 418.5,259.6 419.2,257.7 419.9,259.4 420.6,256.5 421.3,254.7 422.0,254.4 422.7,257.0 423.4,259.4 424.1,261.4 424.8,260.9 425.5,256.0 426.2,258.8 426.9,256.7 427.6,254.6 428.3,256.4 429.0,257.3 429.7,258.1 430.4,259.5 431.1,263.0 431.8,260.2 432.5,260.0 433.2,253.8 433.9,254.0 434.6,261.1 435.3,257.9 436.0,257.2 436.7,254.5 437.4,260.0 438.1,256.4 438.8,258.4 439.5,257.2 440.2,249.2 440.9,255.2 441.6,252.2 442.3,256.0 443.0,255.3 443.7,256.5 444.4,257.5 445.1,255.0 445.8,263.2 446.5,258.4 447.2,255.3 447.9,255.7 448.6,251.7 449.3,258.5 450.0,256.9 450.7,258.7 451.4,254.9 452.1,256.2 452.8,255.2 453.5,258.2 454.2,261.7 454.9,254.4 455.6,257.7" fill="none" stroke="#000" stroke-width="0.55"/>
<path d="M331.0,255.7 331.7,256.8 332.4,248.8 333.1,256.4 333.8,255.5 334.5,259.1 335.2,256.5 335.9,254.2 336.6,257.0 337.3,256.9 338.0,256.5 338.7,257.0 339.4,257.5 340.1,261.1 340.8,252.3 341.5,254.7 342.2,255.6 342.9,253.5 343.6,254.9 344.3,256.8 345.0,253.3 345.7,252.6 346.4,253.9 347.1,261.6 347.8,258.0 348.5,253.0 349.2,252.2 349.9,257.8 350.6,258.1 351.3,257.6 352.0,261.8 352.7,257.3 353.4,258.7 354.1,257.1 354.8,258.4 355.5,260.1 356.2,257.9 356.9,252.9 357.6,256.4 358.3,254.0 359.0,255.8 359.7,257.3 360.4,257.8 361.1,257.7 361.8,256.0 362.5,257.1 363.2,254.7 363.9,255.6 364.6,248.3 365.3,256.5 366.0,254.9 366.7,257.0 367.4,257.9 368.1,257.2 368.8,261.2 369.5,255.0 370.2,260.6 370.9,256.6 371.6,256.8 372.3,252.7 373.0,257.3 373.7,253.1 374.4,258.1 375.1,255.8 375.8,253.6 376.5,251.9 377.2,256.7 377.9,255.8 378.6,257.5 379.3,250.4 380.0,259.3 380.7,258.4 381.4,256.1 382.1,255.9 382.8,258.0 383.5,255.4 384.2,253.2 384.9,254.0 385.6,257.3 386.3,254.3 387.0,257.0 387.7,256.6 388.4,259.0 389.1,258.8 389.8,253.3 390.5,254.6 391.2,251.2 391.9,260.9 392.6,252.7 393.3,255.0 394.0,255.6 394.7,256.9 395.4,255.8 396.1,262.5 396.8,255.6 397.5,249.8 398.2,255.3 398.9,258.9 399.6,256.4 400.3,252.8 401.0,255.9 401.7,256.6 402.4,257.1 403.1,255.3 403.8,253.3 404.5,258.8 405.2,256.4 405.9,253.5 406.6,254.4 407.3,260.0 408.0,258.2 408.7,260.0 409.4,255.0 410.1,254.4 410.8,256.0 411.5,261.2 412.2,253.8 412.9,256.5 413.6,260.0 414.3,259.3 415.0,263.1 415.7,255.6 416.4,254.5 417.1,252.2 417.8,257.1 418.5,256.3 419.2,252.5 419.9,250.6 420.6,249.6 421.3,252.4 422.0,259.6 422.7,249.0 423.4,252.1 424.1,258.5 424.8,261.9 425.5,256.2 426.2,255.7 426.9,256.8 427.6,256.5 428.3,252.0 429.0,260.5 429.7,252.0 430.4,255.6 431.1,255.0 431.8,250.3 432.5,249.8 433.2,262.5 433.9,255.5 434.6,260.6 435.3,255.2 436.0,262.7 436.7,256.4 437.4,256.5 438.1,261.2 438.8,256.5 439.5,253.9 440.2,259.2 440.9,253.6 441.6,259.5 442.3,253.6 443.0,256.1 443.7,252.5 444.4,255.8 445.1,252.7 445.8,252.2 446.5,249.5 447.2,260.1 447.9,255.2 448.6,259.5 449.3,256.2 450.0,254.0 450.7,258.8 451.4,254.0 452.1,254.5 452.8,256.5 453.5,252.6 454.2,258.9 454.9,261.7 455.6,253.5" fill="none" stroke="#000" stroke-width="0.55"/>
<path d="M336.0,250.4H336.8V246.6H337.6V249.5H338.4V249.2H339.2V250.4H340.0V250.4H340.8V248.7H341.6V249.8H342.4V248.0H343.2V250.8H344.0V250.3H344.8V250.4H345.6V250.6H346.4V250.9H347.2V250.8H348.0V250.2H348.8V250.0H349.6V250.0H350.4V251.0H351.2V249.9H352.0V250.5H352.8V249.5H353.6V249.3H354.4V249.8H355.2V250.7H356.0V250.2H356.8V248.7H357.6V247.8H358.4V247.2H359.2V247.3H360.0V250.5H360.8V250.6H361.6V250.3H362.4V250.6H363.2V250.7H364.0V251.7H364.8V250.7H365.6V250.1H366.4V248.2H367.2V249.9H368.0V249.3H368.8V248.6H369.6V250.6H370.4V251.8H371.2V250.7H372.0V248.4H372.8V249.0H373.6V247.4H374.4V248.5H375.2V250.5H376.0V250.4H376.8V250.0H377.6V250.3H378.4V249.0H379.2V250.6H380.0V248.4H380.8V250.9H381.6V249.0H382.4V249.9H383.2V248.6H384.0V249.3H384.8V250.3H385.6V250.1H386.4V249.5H387.2V249.7H388.0V250.8H388.8V251.0H389.6V250.8H390.4V251.4H391.2V251.2H392.0V249.8H392.8V250.8H393.6V250.3H394.4V248.3H395.2V249.3H396.0V249.7H396.8V250.2H397.6V249.9H398.4V251.5H399.2V250.7H400.0V249.7H400.8V250.8H401.6V250.3H402.4V249.3H403.2V250.7H404.0V250.5H404.8V249.3H405.6V250.3H406.4V246.8H407.2V247.1H408.0V248.4H408.8V248.3H409.6V250.0H410.4V248.4H411.2V249.4H412.0V250.3H412.8V249.3H413.6V250.5H414.4V250.6H415.2V250.7H416.0V250.5H416.8V248.5H417.6V250.6H418.4V250.5H419.2V249.9H420.0V248.9H420.8V247.9H421.6V249.4H422.4V249.1H423.2V247.9H424.0V247.7H424.8V247.9H425.6V247.9H426.4V250.0H427.2V249.8H428.0V248.6H428.8V248.5H429.6V249.6H430.4V248.6H431.2V250.1H432.0V250.2H432.8V250.5H433.6V250.4H434.4V250.3H435.2V249.7H436.0V250.9H436.8V247.0H437.6V248.5H438.4V250.5H439.2V248.3H440.0V250.7H440.8V248.7H441.6V249.2H442.4V249.5H443.2V249.5H444.0V248.6H444.8V249.6H445.6V250.2H446.4V250.1H447.2V248.9H448.0V250.4H448.8V250.5H449.6V248.8H450.4V247.6H451.2V249.4H452.0V247.2H452.8V249.9H453.6V249.4H454.4V251.4H455.2V249.7H456.0V252.7H455.2V251.9H454.4V251.1H453.6V251.2H452.8V251.1H452.0V250.8H451.2V251.2H450.4V251.7H449.6V251.8H448.8V251.1H448.0V251.0H447.2V250.9H446.4V251.3H445.6V252.6H444.8V251.1H444.0V250.8H443.2V250.5H442.4V251.3H441.6V251.7H440.8V251.4H440.0V252.1H439.2V252.7H438.4V251.9H437.6V252.7H436.8V251.5H436.0V251.9H435.2V252.4H434.4V251.3H433.6V252.3H432.8V251.6H432.0V251.6H431.2V251.1H430.4V252.3H429.6V251.6H428.8V251.5H428.0V251.9H427.2V251.6H426.4V251.6H425.6V251.7H424.8V251.2H424.0V250.6H423.2V251.8H422.4V251.8H421.6V252.2H420.8V252.2H420.0V252.4H419.2V252.5H418.4V250.8H417.6V251.0H416.8V251.4H416.0V252.6H415.2V253.0H414.4V252.4H413.6V251.4H412.8V251.8H412.0V251.4H411.2V251.4H410.4V251.2H409.6V251.9H408.8V250.4H408.0V252.0H407.2V251.5H406.4V251.6H405.6V251.4H404.8V251.9H404.0V251.3H403.2V250.6H402.4V252.6H401.6V251.9H400.8V252.7H400.0V251.9H399.2V253.0H398.4V252.7H397.6V252.8H396.8V251.0H396.0V251.9H395.2V250.9H394.4V251.2H393.6V250.9H392.8V251.7H392.0V253.0H391.2V252.8H390.4V252.5H389.6V251.5H388.8V253.6H388.0V252.2H387.2V251.8H386.4V251.8H385.6V251.5H384.8V250.2H384.0V250.6H383.2V250.9H382.4V252.0H381.6V252.1H380.8V252.1H380.0V250.8H379.2V252.0H378.4V251.7H377.6V253.3H376.8V251.8H376.0V253.0H375.2V251.8H374.4V252.0H373.6V251.1H372.8V251.9H372.0V252.2H371.2V252.2H370.4V251.3H369.6V252.2H368.8V250.8H368.0V251.1H367.2V252.4H366.4V251.5H365.6V252.8H364.8V252.1H364.0V252.0H363.2V252.1H362.4V251.5H361.6V251.6H360.8V252.2H360.0V251.7H359.2V251.4H358.4V251.0H357.6V252.0H356.8V251.4H356.0V251.9H355.2V252.6H354.4V251.5H353.6V250.9H352.8V252.0H352.0V251.4H351.2V251.7H350.4V251.7H349.6V252.7H348.8V253.1H348.0V252.5H347.2V252.2H346.4V251.3H345.6V251.1H344.8V251.0H344.0V251.4H343.2V251.7H342.4V251.6H341.6V251.8H340.8V252.0H340.0V252.4H339.2V251.1H338.4V252.4H337.6V250.7H336.8V251.0H336.0Z" fill="#000" fill-opacity="0.3"/>
<path d="M336.0,261.9H336.8V260.5H337.6V261.2H338.4V260.7H339.2V261.2H340.0V261.1H340.8V261.0H341.6V262.3H342.4V261.3H343.2V260.5H344.0V262.2H344.8V260.1H345.6V260.0H346.4V260.9H347.2V260.7H348.0V260.5H348.8V261.3H349.6V260.9H350.4V262.2H351.2V262.0H352.0V262.1H352.8V261.2H353.6V262.1H354.4V261.7H355.2V261.6H356.0V261.4H356.8V262.0H357.6V261.9H358.4V260.4H359.2V260.2H360.0V260.6H360.8V260.8H361.6V260.6H362.4V260.9H363.2V262.1H364.0V261.0H364.8V260.6H365.6V261.6H366.4V261.4H367.2V261.9H368.0V260.5H368.8V261.3H369.6V261.5H370.4V261.3H371.2V260.9H372.0V260.4H372.8V260.9H373.6V261.6H374.4V260.4H375.2V260.8H376.0V260.3H376.8V260.1H377.6V261.2H378.4V261.1H379.2V262.0H380.0V261.6H380.8V260.5H381.6V260.1H382.4V261.0H383.2V261.2H384.0V261.4H384.8V262.1H385.6V261.3H386.4V261.0H387.2V261.3H388.0V261.2H388.8V261.3H389.6V260.8H390.4V260.1H391.2V261.1H392.0V261.9H392.8V262.0H393.6V261.6H394.4V262.3H395.2V262.1H396.0V262.1H396.8V261.4H397.6V260.8H398.4V260.8H399.2V260.2H400.0V260.7H400.8V261.2H401.6V261.7H402.4V261.8H403.2V261.5H404.0V260.7H404.8V261.6H405.6V260.8H406.4V261.2H407.2V260.0H408.0V260.6H408.8V259.7H409.6V261.1H410.4V261.5H411.2V262.1H412.0V260.8H412.8V261.1H413.6V262.5H414.4V261.8H415.2V260.5H416.0V260.7H416.8V261.1H417.6V260.5H418.4V261.2H419.2V261.2H420.0V261.2H420.8V261.0H421.6V261.9H422.4V262.0H423.2V261.7H424.0V260.7H424.8V262.0H425.6V261.2H426.4V261.3H427.2V260.8H428.0V260.6H428.8V260.4H429.6V260.4H430.4V261.0H431.2V260.9H432.0V261.6H432.8V261.2H433.6V260.1H434.4V261.1H435.2V261.2H436.0V261.1H436.8V261.6H437.6V261.1H438.4V261.8H439.2V262.2H440.0V261.8H440.8V261.2H441.6V260.7H442.4V260.9H443.2V261.9H444.0V262.5H444.8V261.1H445.6V261.5H446.4V261.0H447.2V261.9H448.0V260.7H448.8V261.2H449.6V261.4H450.4V262.3H451.2V262.1H452.0V261.3H452.8V262.2H453.6V260.5H454.4V261.3H455.2V260.8H456.0V262.5H455.2V262.8H454.4V263.9H453.6V262.9H452.8V263.1H452.0V263.9H451.2V264.5H450.4V262.5H449.6V262.6H448.8V263.8H448.0V264.0H447.2V265.0H446.4V263.8H445.6V262.4H444.8V264.2H444.0V264.4H443.2V261.7H442.4V262.3H441.6V262.5H440.8V262.6H440.0V263.5H439.2V262.6H438.4V262.8H437.6V262.9H436.8V262.2H436.0V263.3H435.2V261.9H434.4V264.3H433.6V264.0H432.8V263.2H432.0V262.3H431.2V263.8H430.4V262.2H429.6V264.1H428.8V262.3H428.0V262.6H427.2V265.1H426.4V262.6H425.6V262.9H424.8V262.3H424.0V265.5H423.2V263.7H422.4V265.0H421.6V263.3H420.8V262.7H420.0V263.1H419.2V264.8H418.4V262.0H417.6V263.7H416.8V262.3H416.0V263.1H415.2V263.6H414.4V263.4H413.6V265.7H412.8V263.8H412.0V262.8H411.2V263.5H410.4V262.0H409.6V262.7H408.8V262.6H408.0V263.6H407.2V262.0H406.4V263.2H405.6V261.9H404.8V262.6H404.0V262.7H403.2V264.2H402.4V263.4H401.6V262.3H400.8V261.5H400.0V262.6H399.2V261.5H398.4V261.9H397.6V262.2H396.8V264.5H396.0V262.8H395.2V263.0H394.4V263.8H393.6V262.2H392.8V264.4H392.0V264.5H391.2V261.7H390.4V262.2H389.6V263.9H388.8V263.7H388.0V262.5H387.2V263.6H386.4V262.9H385.6V262.8H384.8V264.3H384.0V263.7H383.2V263.4H382.4V261.7H381.6V261.4H380.8V262.7H380.0V264.4H379.2V264.5H378.4V263.0H377.6V262.4H376.8V261.9H376.0V262.0H375.2V264.6H374.4V263.5H373.6V264.4H372.8V265.2H372.0V263.0H371.2V264.5H370.4V263.3H369.6V263.6H368.8V262.7H368.0V262.0H367.2V264.6H366.4V262.9H365.6V262.7H364.8V263.2H364.0V263.3H363.2V264.7H362.4V262.6H361.6V263.4H360.8V261.8H360.0V262.3H359.2V261.8H358.4V262.3H357.6V262.5H356.8V262.4H356.0V263.1H355.2V262.1H354.4V262.4H353.6V263.6H352.8V265.0H352.0V262.4H351.2V262.9H350.4V263.8H349.6V265.2H348.8V263.2H348.0V265.6H347.2V263.9H346.4V263.6H345.6V262.2H344.8V263.8H344.0V264.5H343.2V264.0H342.4V264.1H341.6V263.6H340.8V263.1H340.0V262.9H339.2V263.6H338.4V262.6H337.6V263.9H336.8V264.5H336.0Z" fill="#000" fill-opacity="0.3"/>
<path d="M336.0,250.6H336.8V250.7H337.6V250.2H338.4V249.4H339.2V250.8H340.0V250.2H340.8V249.4H341.6V249.7H342.4V247.4H343.2V249.7H344.0V249.1H344.8V248.0H345.6V250.5H346.4V250.2H347.2V251.3H348.0V251.2H348.8V250.4H349.6V249.0H350.4V249.6H351.2V249.5H352.0V249.0H352.8V249.5H353.6V248.1H354.4V250.9H355.2V249.7H356.0V250.9H356.8V248.4H357.6V249.0H358.4V249.9H359.2V248.9H360.0V247.4H360.8V249.0H361.6V250.9H362.4V249.9H363.2V250.0H364.0V250.3H364.8V250.3H365.6V249.0H366.4V250.5H367.2V250.2H368.0V250.2H368.8V250.5H369.6V250.1H370.4V250.7H371.2V250.1H372.0V250.9H372.8V248.4H373.6V247.8H374.4V248.2H375.2V248.7H376.0V250.9H376.8V249.5H377.6V251.2H378.4V251.0H379.2V249.5H380.0V251.1H380.8V249.2H381.6V249.6H382.4V248.2H383.2V249.0H384.0V248.2H384.8V250.9H385.6V249.8H386.4V249.8H387.2V251.3H388.0V250.4H388.8V250.2H389.6V248.9H390.4V249.1H391.2V248.0H392.0V250.6H392.8V250.2H393.6V248.9H394.4V249.4H395.2V250.0H396.0V249.2H396.8V251.0H397.6V248.8H398.4V247.9H399.2V249.7H400.0V251.6H400.8V251.7H401.6V250.4H402.4V248.9H403.2V249.7H404.0V250.3H404.8V249.8H405.6V249.2H406.4V248.7H407.2V250.8H408.0V248.3H408.8V250.2H409.6V250.7H410.4V250.6H411.2V251.1H412.0V249.1H412.8V250.0H413.6V249.4H414.4V249.6H415.2V250.5H416.0V249.2H416.8V248.2H417.6V248.9H418.4V250.4H419.2V249.5H420.0V250.9H420.8V251.6H421.6V251.5H422.4V251.3H423.2V249.5H424.0V248.1H424.8V249.1H425.6V249.5H426.4V248.9H427.2V248.3H428.0V249.8H428.8V250.4H429.6V250.1H430.4V250.6H431.2V249.7H432.0V249.3H432.8V248.7H433.6V248.3H434.4V247.6H435.2V249.9H436.0V250.6H436.8V249.4H437.6V250.4H438.4V249.2H439.2V248.5H440.0V249.1H440.8V250.6H441.6V250.2H442.4V249.8H443.2V250.5H444.0V248.7H444.8V248.7H445.6V249.2H446.4V251.3H447.2V249.8H448.0V250.1H448.8V249.7H449.6V250.0H450.4V249.7H451.2V249.8H452.0V250.2H452.8V248.9H453.6V247.9H454.4V249.3H455.2V251.2H456.0V253.0H455.2V252.0H454.4V252.4H453.6V251.6H452.8V251.2H452.0V251.3H451.2V251.1H450.4V251.2H449.6V251.0H448.8V251.9H448.0V253.5H447.2V252.6H446.4V251.9H445.6V251.8H444.8V251.2H444.0V252.1H443.2V252.3H442.4V252.0H441.6V251.6H440.8V251.7H440.0V252.5H439.2V251.0H438.4V250.6H437.6V251.7H436.8V251.6H436.0V250.3H435.2V250.7H434.4V250.2H433.6V250.8H432.8V252.7H432.0V253.2H431.2V252.1H430.4V251.4H429.6V251.8H428.8V250.9H428.0V250.8H427.2V251.4H426.4V251.2H425.6V250.5H424.8V252.5H424.0V252.4H423.2V253.1H422.4V252.5H421.6V251.8H420.8V252.5H420.0V251.5H419.2V251.1H418.4V251.0H417.6V250.5H416.8V251.5H416.0V251.7H415.2V252.6H414.4V252.0H413.6V252.2H412.8V253.0H412.0V252.9H411.2V252.3H410.4V250.8H409.6V251.0H408.8V252.4H408.0V252.2H407.2V251.9H406.4V251.9H405.6V252.2H404.8V251.7H404.0V251.9H403.2V252.0H402.4V252.9H401.6V252.8H400.8V253.3H400.0V252.0H399.2V252.0H398.4V251.5H397.6V252.8H396.8V251.6H396.0V251.2H395.2V251.8H394.4V252.3H393.6V252.1H392.8V251.9H392.0V251.7H391.2V251.4H390.4V251.3H389.6V251.9H388.8V252.4H388.0V252.9H387.2V252.2H386.4V252.3H385.6V252.2H384.8V251.8H384.0V251.9H383.2V251.5H382.4V251.0H381.6V251.4H380.8V251.9H380.0V251.7H379.2V252.2H378.4V252.1H377.6V251.1H376.8V251.0H376.0V250.9H375.2V251.4H374.4V251.1H373.6V251.8H372.8V252.0H372.0V252.0H371.2V252.4H370.4V252.2H369.6V252.1H368.8V253.0H368.0V251.8H367.2V252.9H366.4V251.4H365.6V251.2H364.8V250.6H364.0V251.5H363.2V251.1H362.4V251.5H361.6V253.1H360.8V251.9H360.0V251.2H359.2V250.1H358.4V250.8H357.6V251.6H356.8V251.6H356.0V252.5H355.2V252.0H354.4V251.7H353.6V252.8H352.8V252.5H352.0V251.2H351.2V251.0H350.4V251.4H349.6V252.5H348.8V253.1H348.0V251.9H347.2V252.6H346.4V252.2H345.6V252.0H344.8V251.1H344.0V250.8H343.2V251.3H342.4V251.3H341.6V251.5H340.8V252.3H340.0V252.3H339.2V252.8H338.4V252.3H337.6V251.6H336.8V251.9H336.0Z" fill="#000" fill-opacity="0.3"/>
<path d="M336.0,261.3H336.8V261.7H337.6V261.3H338.4V261.4H339.2V260.4H340.0V262.5H340.8V261.3H341.6V260.6H342.4V261.4H343.2V261.0H344.0V261.3H344.8V261.3H345.6V260.3H346.4V262.3H347.2V261.5H348.0V261.7H348.8V261.9H349.6V262.0H350.4V261.8H351.2V261.4H352.0V261.7H352.8V261.7H353.6V261.6H354.4V261.5H355.2V261.0H356.0V261.6H356.8V261.1H357.6V261.0H358.4V261.2H359.2V261.5H360.0V261.5H360.8V262.6H361.6V262.3H362.4V261.9H363.2V262.1H364.0V262.2H364.8V262.3H365.6V261.5H366.4V261.1H367.2V260.7H368.0V260.7H368.8V261.2H369.6V261.0H370.4V260.8H371.2V261.6H372.0V261.8H372.8V261.8H373.6V262.1H374.4V261.7H375.2V261.3H376.0V260.9H376.8V260.6H377.6V260.1H378.4V261.4H379.2V260.8H380.0V260.7H380.8V259.8H381.6V261.1H382.4V261.0H383.2V263.1H384.0V262.1H384.8V261.7H385.6V262.0H386.4V262.5H387.2V262.3H388.0V260.6H388.8V260.8H389.6V260.4H390.4V260.9H391.2V261.0H392.0V261.6H392.8V260.7H393.6V260.5H394.4V261.2H395.2V259.8H396.0V260.2H396.8V261.7H397.6V262.3H398.4V261.6H399.2V260.9H400.0V261.2H400.8V262.2H401.6V261.7H402.4V261.7H403.2V262.7H404.0V262.6H404.8V262.8H405.6V261.2H406.4V260.2H407.2V261.5H408.0V260.7H408.8V261.1H409.6V261.5H410.4V260.6H411.2V260.4H412.0V261.6H412.8V261.7H413.6V262.1H414.4V261.4H415.2V261.7H416.0V261.8H416.8V261.7H417.6V261.2H418.4V261.6H419.2V261.4H420.0V261.3H420.8V262.1H421.6V261.4H422.4V261.2H423.2V261.0H424.0V260.4H424.8V260.5H425.6V261.1H426.4V260.4H427.2V260.7H428.0V261.7H428.8V261.2H429.6V261.6H430.4V262.3H431.2V262.0H432.0V260.9H432.8V260.9H433.6V260.8H434.4V262.1H435.2V261.7H436.0V261.8H436.8V260.7H437.6V261.8H438.4V261.8H439.2V262.0H440.0V262.3H440.8V262.2H441.6V261.9H442.4V262.4H443.2V261.1H444.0V261.6H444.8V261.1H445.6V260.6H446.4V261.8H447.2V260.3H448.0V261.2H448.8V260.4H449.6V260.0H450.4V261.1H451.2V260.5H452.0V259.4H452.8V261.2H453.6V261.6H454.4V261.0H455.2V262.4H456.0V263.8H455.2V263.6H454.4V264.4H453.6V262.4H452.8V263.6H452.0V263.5H451.2V262.0H450.4V263.4H449.6V262.6H448.8V263.0H448.0V263.9H447.2V263.2H446.4V262.3H445.6V262.9H444.8V262.9H444.0V263.9H443.2V263.8H442.4V263.9H441.6V265.9H440.8V263.2H440.0V263.8H439.2V262.7H438.4V262.9H437.6V264.2H436.8V262.5H436.0V262.2H435.2V263.1H434.4V263.6H433.6V263.3H432.8V263.0H432.0V262.8H431.2V263.3H430.4V263.7H429.6V263.1H428.8V264.1H428.0V263.6H427.2V262.9H426.4V263.4H425.6V263.1H424.8V263.3H424.0V263.1H423.2V264.1H422.4V262.2H421.6V263.8H420.8V264.9H420.0V261.7H419.2V263.7H418.4V264.6H417.6V264.4H416.8V263.2H416.0V265.6H415.2V264.1H414.4V262.7H413.6V262.4H412.8V263.6H412.0V263.6H411.2V264.2H410.4V264.0H409.6V262.4H408.8V266.1H408.0V263.5H407.2V263.4H406.4V262.7H405.6V264.4H404.8V264.4H404.0V264.0H403.2V264.2H402.4V265.1H401.6V262.9H400.8V263.8H400.0V264.6H399.2V263.0H398.4V262.4H397.6V262.6H396.8V263.7H396.0V260.9H395.2V263.3H394.4V263.7H393.6V263.4H392.8V263.2H392.0V262.0H391.2V264.4H390.4V264.6H389.6V264.1H388.8V262.5H388.0V262.9H387.2V263.7H386.4V264.2H385.6V263.0H384.8V265.9H384.0V264.4H383.2V263.4H382.4V262.6H381.6V262.6H380.8V262.9H380.0V263.4H379.2V263.0H378.4V263.7H377.6V262.6H376.8V262.7H376.0V264.4H375.2V263.3H374.4V263.5H373.6V263.8H372.8V264.0H372.0V265.0H371.2V262.7H370.4V262.1H369.6V264.6H368.8V265.9H368.0V263.1H367.2V263.2H366.4V263.7H365.6V263.2H364.8V263.4H364.0V262.3H363.2V262.3H362.4V264.8H361.6V262.9H360.8V264.8H360.0V262.2H359.2V263.0H358.4V264.0H357.6V262.6H356.8V264.1H356.0V262.0H355.2V262.5H354.4V264.0H353.6V263.1H352.8V262.2H352.0V262.5H351.2V264.6H350.4V263.6H349.6V263.1H348.8V263.2H348.0V265.3H347.2V263.3H346.4V262.4H345.6V262.3H344.8V262.7H344.0V262.8H343.2V263.7H342.4V264.8H341.6V265.7H340.8V264.8H340.0V264.6H339.2V263.0H338.4V262.3H337.6V263.0H336.8V264.4H336.0Z" fill="#000" fill-opacity="0.3"/>
<path d="M336.0,249.4H336.8V248.8H337.6V250.6H338.4V250.0H339.2V251.0H340.0V250.0H340.8V249.8H341.6V249.0H342.4V250.8H343.2V247.8H344.0V249.3H344.8V248.4H345.6V248.9H346.4V250.6H347.2V249.5H348.0V251.1H348.8V251.1H349.6V249.8H350.4V250.4H351.2V250.0H352.0V250.6H352.8V249.5H353.6V251.0H354.4V250.8H355.2V249.8H356.0V249.0H356.8V250.4H357.6V249.7H358.4V248.5H359.2V249.1H360.0V248.5H360.8V250.0H361.6V249.6H362.4V251.5H363.2V251.1H364.0V248.9H364.8V249.6H365.6V250.6H366.4V250.9H367.2V249.4H368.0V249.5H368.8V248.6H369.6V248.6H370.4V248.9H371.2V248.6H372.0V249.6H372.8V249.7H373.6V249.5H374.4V249.0H375.2V250.5H376.0V249.8H376.8V250.8H377.6V251.2H378.4V249.5H379.2V249.2H380.0V246.9H380.8V250.2H381.6V248.3H382.4V249.8H383.2V250.2H384.0V249.8H384.8V251.4H385.6V250.7H386.4V250.1H387.2V250.0H388.0V250.5H388.8V249.8H389.6V249.2H390.4V249.8H391.2V250.3H392.0V250.2H392.8V250.7H393.6V250.6H394.4V250.2H395.2V250.3H396.0V250.4H396.8V251.0H397.6V250.8H398.4V249.6H399.2V249.7H400.0V250.3H400.8V250.5H401.6V250.7H402.4V250.7H403.2V249.8H404.0V249.3H404.8V250.6H405.6V249.7H406.4V249.2H407.2V249.8H408.0V249.8H408.8V250.1H409.6V249.3H410.4V251.3H411.2V250.3H412.0V249.5H412.8V249.7H413.6V250.0H414.4V249.4H415.2V248.9H416.0V250.3H416.8V250.7H417.6V250.2H418.4V250.1H419.2V250.3H420.0V249.4H420.8V246.1H421.6V249.6H422.4V250.2H423.2V250.9H424.0V249.9H424.8V249.9H425.6V250.0H426.4V249.3H427.2V251.1H428.0V250.0H428.8V250.7H429.6V250.2H430.4V251.0H431.2V249.6H432.0V249.9H432.8V248.2H433.6V249.6H434.4V249.9H435.2V249.7H436.0V248.6H436.8V248.3H437.6V250.0H438.4V248.1H439.2V249.1H440.0V250.1H440.8V247.9H441.6V249.0H442.4V250.9H443.2V250.5H444.0V251.4H444.8V250.7H445.6V249.8H446.4V250.2H447.2V247.8H448.0V248.0H448.8V249.3H449.6V248.9H450.4V249.6H451.2V250.1H452.0V249.2H452.8V250.6H453.6V248.0H454.4V248.8H455.2V250.2H456.0V251.3H455.2V252.0H454.4V252.1H453.6V252.8H452.8V252.0H452.0V251.4H451.2V250.5H450.4V251.8H449.6V251.5H448.8V251.6H448.0V252.4H447.2V251.5H446.4V251.7H445.6V252.9H444.8V252.6H444.0V252.4H443.2V251.8H442.4V251.6H441.6V251.2H440.8V251.8H440.0V251.7H439.2V252.4H438.4V251.9H437.6V251.4H436.8V251.6H436.0V251.1H435.2V250.6H434.4V251.5H433.6V251.4H432.8V251.2H432.0V251.5H431.2V251.9H430.4V251.5H429.6V251.0H428.8V251.0H428.0V252.1H427.2V250.6H426.4V251.1H425.6V251.3H424.8V252.1H424.0V253.0H423.2V251.1H422.4V251.0H421.6V251.2H420.8V251.6H420.0V252.0H419.2V252.1H418.4V251.7H417.6V251.8H416.8V251.5H416.0V251.9H415.2V252.0H414.4V252.0H413.6V251.3H412.8V252.3H412.0V252.3H411.2V251.9H410.4V252.3H409.6V250.9H408.8V252.2H408.0V251.4H407.2V250.8H406.4V251.8H405.6V251.4H404.8V251.3H404.0V251.6H403.2V250.8H402.4V252.1H401.6V251.4H400.8V251.6H400.0V252.0H399.2V251.5H398.4V250.9H397.6V251.8H396.8V252.4H396.0V251.0H395.2V251.7H394.4V253.1H393.6V252.1H392.8V251.5H392.0V250.7H391.2V251.2H390.4V251.0H389.6V250.9H388.8V251.0H388.0V251.3H387.2V252.2H386.4V254.0H385.6V252.2H384.8V251.3H384.0V250.9H383.2V251.6H382.4V251.7H381.6V251.2H380.8V250.0H380.0V250.8H379.2V250.9H378.4V251.6H377.6V252.0H376.8V251.3H376.0V251.8H375.2V252.2H374.4V251.6H373.6V251.7H372.8V250.8H372.0V250.6H371.2V250.9H370.4V251.4H369.6V251.4H368.8V251.6H368.0V251.6H367.2V251.9H366.4V252.4H365.6V251.3H364.8V251.9H364.0V251.9H363.2V252.4H362.4V252.4H361.6V250.6H360.8V250.4H360.0V251.2H359.2V251.5H358.4V251.6H357.6V251.3H356.8V251.7H356.0V251.6H355.2V253.1H354.4V252.3H353.6V251.9H352.8V252.0H352.0V252.0H351.2V252.3H350.4V251.4H349.6V251.7H348.8V252.3H348.0V251.4H347.2V251.6H346.4V251.2H345.6V251.5H344.8V251.3H344.0V252.0H343.2V252.4H342.4V252.4H341.6V251.4H340.8V251.4H340.0V251.6H339.2V252.9H338.4V252.4H337.6V251.2H336.8V250.9H336.0Z" fill="#000" fill-opacity="0.3"/>
<path d="M336.0,261.0H336.8V262.0H337.6V261.2H338.4V261.7H339.2V261.6H340.0V261.1H340.8V261.1H341.6V262.7H342.4V262.1H343.2V261.5H344.0V261.3H344.8V261.3H345.6V261.3H346.4V261.0H347.2V261.3H348.0V261.8H348.8V262.1H349.6V261.6H350.4V261.0H351.2V260.5H352.0V260.8H352.8V261.3H353.6V261.6H354.4V261.5H355.2V260.1H356.0V259.8H356.8V259.4H357.6V261.1H358.4V260.9H359.2V261.7H360.0V260.6H360.8V261.4H361.6V261.1H362.4V262.2H363.2V261.4H364.0V261.4H364.8V261.6H365.6V261.6H366.4V261.0H367.2V260.5H368.0V258.9H368.8V260.5H369.6V259.7H370.4V260.3H371.2V260.9H372.0V260.1H372.8V260.3H373.6V261.7H374.4V261.1H375.2V262.2H376.0V260.5H376.8V259.5H377.6V260.2H378.4V259.8H379.2V261.6H380.0V261.5H380.8V261.1H381.6V260.9H382.4V261.6H383.2V259.6H384.0V260.4H384.8V260.9H385.6V260.6H386.4V261.7H387.2V261.9H388.0V261.9H388.8V261.6H389.6V261.9H390.4V262.5H391.2V262.2H392.0V261.9H392.8V262.5H393.6V262.0H394.4V261.2H395.2V261.7H396.0V261.4H396.8V260.9H397.6V260.9H398.4V260.7H399.2V261.4H400.0V261.2H400.8V261.6H401.6V260.7H402.4V260.4H403.2V262.5H404.0V261.6H404.8V261.3H405.6V261.5H406.4V260.6H407.2V261.2H408.0V260.0H408.8V260.5H409.6V261.4H410.4V260.1H411.2V262.1H412.0V260.4H412.8V261.5H413.6V262.1H414.4V261.9H415.2V261.1H416.0V260.9H416.8V261.0H417.6V261.8H418.4V261.5H419.2V261.7H420.0V262.0H420.8V262.4H421.6V261.3H422.4V261.2H423.2V262.1H424.0V262.4H424.8V261.1H425.6V260.9H426.4V260.6H427.2V260.3H428.0V260.6H428.8V260.3H429.6V258.9H430.4V259.7H431.2V260.4H432.0V260.5H432.8V260.6H433.6V262.1H434.4V261.3H435.2V262.4H436.0V262.1H436.8V260.6H437.6V261.0H438.4V260.8H439.2V261.7H440.0V260.9H440.8V262.2H441.6V261.0H442.4V260.1H443.2V261.0H444.0V261.6H444.8V260.9H445.6V260.9H446.4V260.1H447.2V260.4H448.0V260.2H448.8V261.9H449.6V261.4H450.4V261.8H451.2V260.9H452.0V260.9H452.8V261.3H453.6V260.8H454.4V260.6H455.2V260.0H456.0V263.4H455.2V262.5H454.4V262.1H453.6V263.1H452.8V264.5H452.0V264.4H451.2V262.5H450.4V263.7H449.6V262.9H448.8V263.9H448.0V264.5H447.2V264.1H446.4V262.7H445.6V262.0H444.8V264.7H444.0V262.8H443.2V265.8H442.4V263.6H441.6V262.5H440.8V263.7H440.0V263.1H439.2V264.4H438.4V263.3H437.6V264.5H436.8V263.5H436.0V263.1H435.2V264.9H434.4V262.3H433.6V262.0H432.8V265.1H432.0V263.9H431.2V262.0H430.4V262.7H429.6V263.5H428.8V263.5H428.0V262.7H427.2V262.7H426.4V264.7H425.6V264.6H424.8V264.2H424.0V262.9H423.2V264.7H422.4V262.4H421.6V263.8H420.8V262.6H420.0V264.6H419.2V262.1H418.4V263.7H417.6V262.5H416.8V262.7H416.0V263.2H415.2V264.4H414.4V263.8H413.6V262.9H412.8V263.2H412.0V263.0H411.2V262.1H410.4V263.2H409.6V263.7H408.8V262.1H408.0V262.8H407.2V264.8H406.4V264.0H405.6V263.3H404.8V262.6H404.0V264.1H403.2V262.9H402.4V263.3H401.6V261.9H400.8V262.8H400.0V262.8H399.2V264.0H398.4V264.6H397.6V262.5H396.8V263.7H396.0V263.7H395.2V263.9H394.4V263.6H393.6V264.1H392.8V264.4H392.0V266.0H391.2V264.2H390.4V263.8H389.6V264.4H388.8V262.9H388.0V262.8H387.2V264.1H386.4V263.4H385.6V263.0H384.8V261.3H384.0V262.6H383.2V262.6H382.4V262.9H381.6V263.6H380.8V263.1H380.0V264.5H379.2V265.4H378.4V261.3H377.6V261.9H376.8V264.3H376.0V263.3H375.2V262.7H374.4V263.0H373.6V264.1H372.8V264.5H372.0V262.6H371.2V262.5H370.4V262.4H369.6V260.9H368.8V261.8H368.0V262.8H367.2V263.3H366.4V262.8H365.6V262.5H364.8V261.7H364.0V263.9H363.2V262.6H362.4V264.1H361.6V264.6H360.8V263.7H360.0V264.7H359.2V262.7H358.4V262.9H357.6V262.4H356.8V262.0H356.0V263.2H355.2V262.4H354.4V263.2H353.6V263.0H352.8V261.8H352.0V263.8H351.2V262.8H350.4V262.5H349.6V263.0H348.8V263.6H348.0V264.8H347.2V262.3H346.4V264.1H345.6V262.6H344.8V262.8H344.0V262.5H343.2V263.0H342.4V263.7H341.6V262.6H340.8V262.6H340.0V262.0H339.2V262.0H338.4V262.3H337.6V263.3H336.8V262.4H336.0Z" fill="#000" fill-opacity="0.3"/>
<line x1="455.80" y1="190.00" x2="455.80" y2="328.00" stroke="#aaa" stroke-width="0.7"/>
<line x1="455.80" y1="240.00" x2="455.80" y2="276.00" stroke="#444" stroke-width="0.8"/>
<path d="M455.8,253.7 456.8,253.3 457.8,254.4 458.8,255.1 459.8,253.7 460.8,254.1 461.8,253.2 462.8,254.9 463.8,253.8 464.8,253.4 465.8,255.2 466.8,253.3 467.8,254.3 468.8,254.6 469.8,254.3 470.8,253.5 471.8,253.6 472.8,253.3 473.8,254.0 474.8,254.0 475.8,254.2 476.8,253.4 477.8,253.4 478.8,253.7 479.8,253.9 480.8,253.9 481.8,253.3 482.8,254.0 483.8,253.6 484.8,255.3 485.8,253.4 486.8,254.4 487.8,253.6 488.8,254.8 489.8,254.6 490.8,253.9 491.8,253.4 492.8,253.9 493.8,254.4 494.8,254.6 L494.8,260.8 493.8,261.2 492.8,260.6 491.8,261.0 490.8,261.8 489.8,260.1 488.8,261.4 487.8,261.7 486.8,261.1 485.8,261.0 484.8,261.0 483.8,260.3 482.8,261.2 481.8,260.8 480.8,259.8 479.8,260.6 478.8,259.9 477.8,260.7 476.8,260.9 475.8,260.0 474.8,262.6 473.8,260.8 472.8,260.7 471.8,260.1 470.8,260.6 469.8,261.2 468.8,260.0 467.8,261.2 466.8,261.3 465.8,260.6 464.8,261.0 463.8,261.2 462.8,259.8 461.8,260.4 460.8,260.2 459.8,260.2 458.8,261.2 457.8,260.8 456.8,261.3 455.8,261.0Z" fill="#000"/>
<path d="M455.8,256.9 456.6,254.8 457.4,256.8 458.2,256.9 459.0,258.1 459.8,258.0 460.6,257.8 461.4,257.4 462.2,257.2 463.0,257.3 463.8,255.5 464.6,260.6 465.4,258.3 466.2,258.6 467.0,259.0 467.8,256.2 468.6,258.0 469.4,259.3 470.2,256.4 471.0,259.1 471.8,255.6 472.6,258.8 473.4,257.7 474.2,257.2 475.0,256.7 475.8,260.2 476.6,255.0 477.4,257.8 478.2,256.5 479.0,256.9 479.8,257.8 480.6,257.7 481.4,258.8 482.2,256.9 483.0,258.1 483.8,258.3 484.6,257.6 485.4,257.2 486.2,256.3 487.0,256.4 487.8,256.6 488.6,258.1 489.4,257.3 490.2,257.4 491.0,255.7 491.8,259.3 492.6,258.3 493.4,260.1 494.2,258.6 495.0,258.0" fill="none" stroke="#000" stroke-width="0.5"/>
<path d="M455.8,258.7 456.6,256.9 457.4,260.0 458.2,258.5 459.0,258.5 459.8,256.5 460.6,258.7 461.4,259.2 462.2,258.5 463.0,256.8 463.8,256.9 464.6,255.1 465.4,258.7 466.2,255.9 467.0,258.2 467.8,256.3 468.6,257.6 469.4,257.2 470.2,257.4 471.0,253.8 471.8,256.8 472.6,256.8 473.4,259.6 474.2,256.6 475.0,257.8 475.8,258.7 476.6,258.0 477.4,257.7 478.2,256.9 479.0,255.7 479.8,257.2 480.6,256.7 481.4,255.4 482.2,258.2 483.0,257.7 483.8,259.8 484.6,260.0 485.4,258.4 486.2,258.7 487.0,258.7 487.8,257.8 488.6,258.0 489.4,257.5 490.2,256.4 491.0,258.2 491.8,257.3 492.6,257.0 493.4,258.6 494.2,256.8 495.0,256.6" fill="none" stroke="#000" stroke-width="0.5"/>
<path d="M455.8,257.5 456.6,257.5 457.4,258.9 458.2,259.5 459.0,257.6 459.8,257.9 460.6,260.4 461.4,258.6 462.2,256.9 463.0,255.4 463.8,255.7 464.6,258.4 465.4,260.1 466.2,257.3 467.0,258.3 467.8,256.5 468.6,256.8 469.4,256.0 470.2,255.2 471.0,256.1 471.8,257.8 472.6,256.7 473.4,255.3 474.2,256.6 475.0,255.9 475.8,259.1 476.6,255.9 477.4,257.9 478.2,254.3 479.0,256.9 479.8,258.4 480.6,256.4 481.4,256.5 482.2,258.7 483.0,259.0 483.8,257.5 484.6,257.4 485.4,259.0 486.2,257.8 487.0,257.7 487.8,257.9 488.6,254.5 489.4,257.2 490.2,259.2 491.0,257.2 491.8,258.6 492.6,258.9 493.4,257.0 494.2,256.4 495.0,258.1" fill="none" stroke="#000" stroke-width="0.5"/>
<path d="M455.8,258.7 456.6,258.2 457.4,256.7 458.2,257.8 459.0,256.8 459.8,256.5 460.6,256.5 461.4,258.9 462.2,258.6 463.0,257.8 463.8,257.4 464.6,256.2 465.4,256.3 466.2,258.0 467.0,257.5 467.8,257.1 468.6,256.5 469.4,257.8 470.2,257.4 471.0,259.2 471.8,256.7 472.6,257.5 473.4,257.3 474.2,259.7 475.0,256.8 475.8,257.0 476.6,257.2 477.4,256.2 478.2,258.6 479.0,257.4 479.8,258.3 480.6,258.3 481.4,257.7 482.2,256.7 483.0,254.6 483.8,258.0 484.6,257.2 485.4,259.9 486.2,257.7 487.0,258.5 487.8,260.2 488.6,255.8 489.4,257.7 490.2,258.5 491.0,254.7 491.8,257.9 492.6,258.5 493.4,257.8 494.2,259.4 495.0,257.8" fill="none" stroke="#000" stroke-width="0.5"/>
</g>
<path d="M343.4,280.0 H385.8 M343.4,276.5 V283.5 M385.8,276.5 V283.5" fill="none" stroke="#555" stroke-width="1.4"/>
<text x="346.2" y="294.0" font-size="10.6" text-anchor="start" fill="#222" >100 ms</text>
<text x="4.6" y="386.0" font-size="19.3" font-weight="bold" text-anchor="start" fill="#000" >E</text>
<path d="M114.1,371.6 V512.6" stroke="#000" stroke-width="1.7" fill="none"/>
<line x1="109.10" y1="372.45" x2="114.10" y2="372.45" stroke="#000" stroke-width="1.6"/>
<text x="108.3" y="375.9" font-size="9.6" text-anchor="end" fill="#111" stroke="#111" stroke-width="0.25">60</text>
<line x1="109.10" y1="400.40" x2="114.10" y2="400.40" stroke="#000" stroke-width="1.6"/>
<text x="108.3" y="403.8" font-size="9.6" text-anchor="end" fill="#111" stroke="#111" stroke-width="0.25">40</text>
<line x1="109.10" y1="428.35" x2="114.10" y2="428.35" stroke="#000" stroke-width="1.6"/>
<text x="108.3" y="431.8" font-size="9.6" text-anchor="end" fill="#111" stroke="#111" stroke-width="0.25">20</text>
<line x1="109.10" y1="484.25" x2="114.10" y2="484.25" stroke="#000" stroke-width="1.6"/>
<text x="108.3" y="487.6" font-size="9.6" text-anchor="end" fill="#111" stroke="#111" stroke-width="0.25">-20</text>
<line x1="109.10" y1="512.20" x2="114.10" y2="512.20" stroke="#000" stroke-width="1.6"/>
<text x="108.3" y="515.6" font-size="9.6" text-anchor="end" fill="#111" stroke="#111" stroke-width="0.25">-40</text>
<path d="M9.3,460.8 V456.3 H218.6 V460.8" stroke="#000" stroke-width="1.7" fill="none"/>
<text x="218.4" y="469.8" font-size="9.6" text-anchor="middle" fill="#111" stroke="#111" stroke-width="0.25">80</text>
<text x="9.5" y="471.0" font-size="9.6" text-anchor="middle" fill="#111" stroke="#111" stroke-width="0.25">-80</text>
<text x="123.9" y="377.6" font-size="10.9" font-weight="bold" text-anchor="start" fill="#000" >I (pA)</text>
<text y="484.4" font-size="11.3" font-weight="bold" fill="#000"><tspan x="195.8">V</tspan><tspan x="203.0" font-size="7.9" dy="2.6">m</tspan><tspan x="214.6" dy="-2.6">(mV)</tspan></text>
<path d="M9.5,482.8 V499.5 M6.4,482.8 H12.6 M6.4,499.5 H12.6" fill="none" stroke="#444" stroke-width="1.15"/>
<path d="M22.6,481.9 V504.4 M19.5,481.9 H25.7 M19.5,504.4 H25.7" fill="none" stroke="#444" stroke-width="1.15"/>
<path d="M35.6,476.3 V495.0 M32.5,476.3 H38.7 M32.5,495.0 H38.7" fill="none" stroke="#444" stroke-width="1.15"/>
<path d="M48.7,472.7 V483.3 M45.6,472.7 H51.8 M45.6,483.3 H51.8" fill="none" stroke="#444" stroke-width="1.15"/>
<path d="M61.8,467.7 V476.5 M58.7,467.7 H64.9 M58.7,476.5 H64.9" fill="none" stroke="#444" stroke-width="1.15"/>
<path d="M74.9,464.0 V474.0 M71.8,464.0 H78.0 M71.8,474.0 H78.0" fill="none" stroke="#444" stroke-width="1.15"/>
<path d="M153.3,432.7 V443.6 M150.2,432.7 H156.4 M150.2,443.6 H156.4" fill="none" stroke="#444" stroke-width="1.15"/>
<path d="M166.4,428.7 V438.0 M163.3,428.7 H169.5 M163.3,438.0 H169.5" fill="none" stroke="#444" stroke-width="1.15"/>
<path d="M179.5,414.4 V430.3 M176.4,414.4 H182.6 M176.4,430.3 H182.6" fill="none" stroke="#444" stroke-width="1.15"/>
<path d="M192.6,401.5 V419.7 M189.5,401.5 H195.7 M189.5,419.7 H195.7" fill="none" stroke="#444" stroke-width="1.15"/>
<path d="M205.6,390.7 V415.4 M202.5,390.7 H208.7 M202.5,415.4 H208.7" fill="none" stroke="#444" stroke-width="1.15"/>
<path d="M218.7,369.8 V402.7 M215.6,369.8 H221.8 M215.6,402.7 H221.8" fill="none" stroke="#444" stroke-width="1.15"/>
<path d="M205.6,438.0 V444.2 M202.6,438.0 H208.6 M202.6,444.2 H208.6" fill="none" stroke="#333" stroke-width="1.15"/>
<path d="M218.7,434.0 V440.2 M215.7,434.0 H221.7 M215.7,440.2 H221.7" fill="none" stroke="#333" stroke-width="1.15"/>
<circle cx="9.5" cy="467.5" r="2.75" fill="#000"/>
<circle cx="22.6" cy="465.2" r="2.75" fill="#000"/>
<circle cx="35.6" cy="463.3" r="2.75" fill="#000"/>
<circle cx="48.7" cy="462.1" r="2.75" fill="#000"/>
<circle cx="61.8" cy="460.0" r="2.75" fill="#000"/>
<circle cx="74.9" cy="458.0" r="2.75" fill="#000"/>
<circle cx="87.9" cy="456.6" r="2.75" fill="#000"/>
<circle cx="101.0" cy="455.0" r="2.75" fill="#000"/>
<circle cx="127.2" cy="452.3" r="2.75" fill="#000"/>
<circle cx="140.2" cy="451.0" r="2.75" fill="#000"/>
<circle cx="153.3" cy="448.9" r="2.75" fill="#000"/>
<circle cx="166.4" cy="447.5" r="2.75" fill="#000"/>
<circle cx="179.5" cy="445.5" r="2.75" fill="#000"/>
<circle cx="192.6" cy="442.7" r="2.75" fill="#000"/>
<circle cx="205.6" cy="441.1" r="2.75" fill="#000"/>
<circle cx="218.7" cy="437.1" r="2.75" fill="#000"/>
<circle cx="9.5" cy="491.4" r="2.5" fill="#fff" stroke="#000" stroke-width="1.15"/>
<circle cx="22.6" cy="493.2" r="2.5" fill="#fff" stroke="#000" stroke-width="1.15"/>
<circle cx="35.6" cy="485.6" r="2.5" fill="#fff" stroke="#000" stroke-width="1.15"/>
<circle cx="48.7" cy="478.0" r="2.5" fill="#fff" stroke="#000" stroke-width="1.15"/>
<circle cx="61.8" cy="472.3" r="2.5" fill="#fff" stroke="#000" stroke-width="1.15"/>
<circle cx="74.9" cy="469.3" r="2.5" fill="#fff" stroke="#000" stroke-width="1.15"/>
<rect x="85.3" y="461.6" width="5.2" height="5.2" fill="#fff" stroke="#000" stroke-width="0.9"/>
<circle cx="101.0" cy="458.5" r="2.5" fill="#fff" stroke="#000" stroke-width="1.15"/>
<circle cx="114.1" cy="453.4" r="2.7" fill="none" stroke="#111" stroke-width="1.1"/>
<circle cx="127.2" cy="448.9" r="2.5" fill="#fff" stroke="#000" stroke-width="1.15"/>
<circle cx="140.2" cy="444.3" r="2.5" fill="#fff" stroke="#000" stroke-width="1.15"/>
<circle cx="153.3" cy="438.6" r="2.5" fill="#fff" stroke="#000" stroke-width="1.15"/>
<circle cx="166.4" cy="433.2" r="2.5" fill="#fff" stroke="#000" stroke-width="1.15"/>
<circle cx="179.5" cy="422.4" r="2.5" fill="#fff" stroke="#000" stroke-width="1.15"/>
<circle cx="192.6" cy="410.5" r="2.5" fill="#fff" stroke="#000" stroke-width="1.15"/>
<circle cx="205.6" cy="403.0" r="2.5" fill="#fff" stroke="#000" stroke-width="1.15"/>
<circle cx="218.7" cy="385.9" r="2.5" fill="#fff" stroke="#000" stroke-width="1.15"/>
<text x="285.0" y="386.7" font-size="19.3" font-weight="bold" text-anchor="start" fill="#000" >F</text>
<path d="M392.8,381.1 V521.0" stroke="#000" stroke-width="1.8" fill="none"/>
<line x1="387.80" y1="381.50" x2="392.80" y2="381.50" stroke="#000" stroke-width="1.6"/>
<text x="387.2" y="385.0" font-size="10" text-anchor="end" fill="#111" stroke="#111" stroke-width="0.25">80</text>
<line x1="387.80" y1="401.40" x2="392.80" y2="401.40" stroke="#000" stroke-width="1.6"/>
<text x="387.2" y="404.9" font-size="10" text-anchor="end" fill="#111" stroke="#111" stroke-width="0.25">60</text>
<line x1="387.80" y1="421.30" x2="392.80" y2="421.30" stroke="#000" stroke-width="1.6"/>
<text x="387.2" y="424.8" font-size="10" text-anchor="end" fill="#111" stroke="#111" stroke-width="0.25">40</text>
<line x1="387.80" y1="441.20" x2="392.80" y2="441.20" stroke="#000" stroke-width="1.6"/>
<text x="387.2" y="444.7" font-size="10" text-anchor="end" fill="#111" stroke="#111" stroke-width="0.25">20</text>
<line x1="387.80" y1="481.00" x2="392.80" y2="481.00" stroke="#000" stroke-width="1.6"/>
<text x="387.2" y="484.5" font-size="10" text-anchor="end" fill="#111" stroke="#111" stroke-width="0.25">-20</text>
<line x1="387.80" y1="500.90" x2="392.80" y2="500.90" stroke="#000" stroke-width="1.6"/>
<text x="387.2" y="504.4" font-size="10" text-anchor="end" fill="#111" stroke="#111" stroke-width="0.25">-40</text>
<line x1="387.80" y1="520.80" x2="392.80" y2="520.80" stroke="#000" stroke-width="1.6"/>
<text x="387.2" y="524.3" font-size="10" text-anchor="end" fill="#111" stroke="#111" stroke-width="0.25">-60</text>
<path d="M287.0,465.0 V461.1 H497.2 V465.0" stroke="#000" stroke-width="1.7" fill="none"/>
<text x="496.6" y="475.1" font-size="10" text-anchor="middle" fill="#111" stroke="#111" stroke-width="0.25">80</text>
<text x="288.4" y="475.6" font-size="9.8" text-anchor="middle" fill="#111" stroke="#111" stroke-width="0.25">-80</text>
<text x="399.9" y="385.9" font-size="10.9" font-weight="bold" text-anchor="start" fill="#000" >I (pA)</text>
<text y="494.8" font-size="11.3" font-weight="bold" fill="#000"><tspan x="474.3">V</tspan><tspan x="481.4" font-size="7.9" dy="2.6">m</tspan><tspan x="493.1" dy="-2.6">(mV)</tspan></text>
<path d="M288.5,476.6 V516.0 M285.5,476.6 H291.5 M285.5,516.0 H291.5" fill="none" stroke="#444" stroke-width="1.2"/>
<path d="M301.6,474.5 V509.9 M298.6,474.5 H304.6 M298.6,509.9 H304.6" fill="none" stroke="#444" stroke-width="1.2"/>
<path d="M314.6,472.6 V502.9 M311.6,472.6 H317.6 M311.6,502.9 H317.6" fill="none" stroke="#444" stroke-width="1.2"/>
<path d="M327.6,470.5 V496.4 M324.6,470.5 H330.6 M324.6,496.4 H330.6" fill="none" stroke="#444" stroke-width="1.2"/>
<path d="M340.7,467.9 V489.0 M337.7,467.9 H343.7 M337.7,489.0 H343.7" fill="none" stroke="#444" stroke-width="1.2"/>
<path d="M353.7,466.2 V483.0 M350.7,466.2 H356.7 M350.7,483.0 H356.7" fill="none" stroke="#444" stroke-width="1.2"/>
<path d="M366.7,465.0 V476.2 M363.7,465.0 H369.7 M363.7,476.2 H369.7" fill="none" stroke="#444" stroke-width="1.2"/>
<path d="M418.9,446.6 V455.7 M415.9,446.6 H421.9 M415.9,455.7 H421.9" fill="none" stroke="#707070" stroke-width="1.2"/>
<path d="M431.9,437.0 V453.0 M428.9,437.0 H434.9 M428.9,453.0 H434.9" fill="none" stroke="#707070" stroke-width="1.2"/>
<path d="M444.9,428.2 V450.3 M441.9,428.2 H447.9 M441.9,450.3 H447.9" fill="none" stroke="#707070" stroke-width="1.2"/>
<path d="M458.0,417.0 V446.8 M455.0,417.0 H461.0 M455.0,446.8 H461.0" fill="none" stroke="#707070" stroke-width="1.2"/>
<path d="M471.0,404.0 V443.2 M468.0,404.0 H474.0 M468.0,443.2 H474.0" fill="none" stroke="#707070" stroke-width="1.2"/>
<path d="M484.0,390.0 V438.5 M481.0,390.0 H487.0 M481.0,438.5 H487.0" fill="none" stroke="#707070" stroke-width="1.2"/>
<path d="M497.1,375.3 V433.7 M494.1,375.3 H500.1 M494.1,433.7 H500.1" fill="none" stroke="#707070" stroke-width="1.2"/>
<circle cx="288.5" cy="463.5" r="2.75" fill="#000"/>
<circle cx="301.6" cy="462.8" r="2.75" fill="#000"/>
<circle cx="314.6" cy="462.4" r="2.75" fill="#000"/>
<circle cx="327.6" cy="461.8" r="2.75" fill="#000"/>
<circle cx="340.7" cy="461.2" r="2.75" fill="#000"/>
<circle cx="353.7" cy="461.0" r="2.75" fill="#000"/>
<circle cx="366.7" cy="460.6" r="2.75" fill="#000"/>
<circle cx="379.8" cy="459.9" r="2.75" fill="#000"/>
<circle cx="405.8" cy="459.2" r="2.75" fill="#000"/>
<circle cx="418.9" cy="458.5" r="2.75" fill="#000"/>
<circle cx="431.9" cy="457.5" r="2.75" fill="#000"/>
<circle cx="444.9" cy="456.6" r="2.75" fill="#000"/>
<circle cx="458.0" cy="456.4" r="2.75" fill="#000"/>
<circle cx="471.0" cy="455.6" r="2.75" fill="#000"/>
<circle cx="484.0" cy="454.8" r="2.75" fill="#000"/>
<circle cx="497.1" cy="454.3" r="2.75" fill="#000"/>
<circle cx="288.5" cy="496.4" r="2.5" fill="#fff" stroke="#000" stroke-width="1.15"/>
<circle cx="301.6" cy="492.4" r="2.5" fill="#fff" stroke="#000" stroke-width="1.15"/>
<circle cx="314.6" cy="488.0" r="2.5" fill="#fff" stroke="#000" stroke-width="1.15"/>
<circle cx="327.6" cy="483.4" r="2.5" fill="#fff" stroke="#000" stroke-width="1.15"/>
<circle cx="340.7" cy="478.5" r="2.5" fill="#fff" stroke="#000" stroke-width="1.15"/>
<circle cx="353.7" cy="474.5" r="2.5" fill="#fff" stroke="#000" stroke-width="1.15"/>
<circle cx="366.7" cy="470.5" r="2.5" fill="#fff" stroke="#000" stroke-width="1.15"/>
<circle cx="379.8" cy="466.0" r="2.5" fill="#fff" stroke="#000" stroke-width="1.15"/>
<circle cx="392.8" cy="461.3" r="2.7" fill="none" stroke="#111" stroke-width="1.1"/>
<circle cx="405.8" cy="456.3" r="2.5" fill="#fff" stroke="#000" stroke-width="1.15"/>
<circle cx="418.9" cy="450.8" r="2.5" fill="#fff" stroke="#000" stroke-width="1.15"/>
<circle cx="431.9" cy="445.3" r="2.5" fill="#fff" stroke="#000" stroke-width="1.15"/>
<circle cx="444.9" cy="439.3" r="2.5" fill="#fff" stroke="#000" stroke-width="1.15"/>
<circle cx="458.0" cy="431.8" r="2.5" fill="#fff" stroke="#000" stroke-width="1.15"/>
<circle cx="471.0" cy="423.5" r="2.5" fill="#fff" stroke="#000" stroke-width="1.15"/>
<circle cx="484.0" cy="414.4" r="2.5" fill="#fff" stroke="#000" stroke-width="1.15"/>
<circle cx="497.1" cy="404.4" r="2.5" fill="#fff" stroke="#000" stroke-width="1.15"/>
<path d="M143.5,535.3 H146.5 V620.8 H143.5 M143.5,563.5 H146.5" stroke="#222" stroke-width="1.1" fill="none"/>
<path d="M50.0,594.8 V592.3 H179.4 V594.8 M114.3,592.3 V594.8 M82,592.3 V594.3" stroke="#222" stroke-width="1.1" fill="none"/>
<text x="143.6" y="537.5" font-size="6.3" text-anchor="end" fill="#333" >5.0</text>
<text x="143.6" y="565.7" font-size="6.3" text-anchor="end" fill="#333" >2.5</text>
<text x="143.6" y="623.0" font-size="6.3" text-anchor="end" fill="#333" >-2.5</text>
<text x="50.0" y="601.6" font-size="6.3" text-anchor="middle" fill="#333" >-30</text>
<text x="114.3" y="601.6" font-size="6.3" text-anchor="middle" fill="#333" >-10</text>
<text x="179.2" y="601.6" font-size="6.3" text-anchor="middle" fill="#333" >10</text>
<text x="152.5" y="538.6" font-size="7.1" font-weight="bold" text-anchor="start" fill="#222" >I (pA)</text>
<text x="165.1" y="611" font-size="7.1" font-weight="bold" fill="#222">V<tspan font-size="5" dy="1.5">m</tspan><tspan dy="-1.5"> (mV)</tspan></text>
<line x1="51.50" y1="606.30" x2="181.00" y2="558.00" stroke="#333" stroke-width="0.8"/>
<path d="M49.9,601.5 V613.3 M48.1,601.5 H51.7 M48.1,613.3 H51.7" fill="none" stroke="#555" stroke-width="0.7"/>
<path d="M82.0,590.3 V601.5 M80.2,590.3 H83.8 M80.2,601.5 H83.8" fill="none" stroke="#555" stroke-width="0.7"/>
<path d="M114.4,580.4 V586.8 M112.6,580.4 H116.2 M112.6,586.8 H116.2" fill="none" stroke="#555" stroke-width="0.7"/>
<circle cx="49.9" cy="606.4" r="1.8" fill="#000"/>
<circle cx="82.0" cy="595.8" r="1.8" fill="#000"/>
<circle cx="114.4" cy="583.4" r="1.8" fill="#000"/>
<circle cx="146.5" cy="571.6" r="1.8" fill="#000"/>
<circle cx="178.9" cy="558.5" r="1.8" fill="#000"/>
<path d="M440.5,546.3 H443.5 V627.5 H440.5" stroke="#222" stroke-width="1.1" fill="none"/>
<path d="M353.1,588.3 V585.8 H472.9 V588.3 M412.9,585.8 V588.3" stroke="#222" stroke-width="1.1" fill="none"/>
<text x="440.4" y="548.3" font-size="6.0" text-anchor="end" fill="#333" >2.5</text>
<text x="440.4" y="629.3" font-size="6.0" text-anchor="end" fill="#333" >-2.5</text>
<text x="353.1" y="594.4" font-size="6.0" text-anchor="middle" fill="#333" >-60</text>
<text x="412.9" y="594.4" font-size="6.0" text-anchor="middle" fill="#333" >-20</text>
<text x="472.9" y="594.4" font-size="6.0" text-anchor="middle" fill="#333" >20</text>
<text x="412.3" y="548.6" font-size="6.6" font-weight="bold" text-anchor="start" fill="#222" >I (pA)</text>
<text x="460" y="605.8" font-size="6.6" font-weight="bold" fill="#222">V<tspan font-size="4.6" dy="1.4">m</tspan><tspan dy="-1.4"> (mV)</tspan></text>
<path d="M353.1,606.3 L368.1,595.4 L383.1,588.1 L398.1,581.3 L412.9,573.7 L428.1,565 L443.5,558.3 L458,549.6 L466,545" stroke="#333" stroke-width="0.8" fill="none"/>
<path d="M353.1,595.8 V617.9 M351.3,595.8 H354.9 M351.3,617.9 H354.9" fill="none" stroke="#777" stroke-width="0.7"/>
<path d="M368.1,586.5 V603.8 M366.3,586.5 H369.9 M366.3,603.8 H369.9" fill="none" stroke="#777" stroke-width="0.7"/>
<path d="M383.1,581.0 V595.8 M381.3,581.0 H384.9 M381.3,595.8 H384.9" fill="none" stroke="#777" stroke-width="0.7"/>
<path d="M398.1,575.0 V588.1 M396.3,575.0 H399.9 M396.3,588.1 H399.9" fill="none" stroke="#777" stroke-width="0.7"/>
<path d="M412.9,567.5 V579.8 M411.1,567.5 H414.7 M411.1,579.8 H414.7" fill="none" stroke="#777" stroke-width="0.7"/>
<path d="M428.1,560.2 V570.4 M426.3,560.2 H429.9 M426.3,570.4 H429.9" fill="none" stroke="#777" stroke-width="0.7"/>
<path d="M458.0,546.0 V553.2 M456.2,546.0 H459.8 M456.2,553.2 H459.8" fill="none" stroke="#777" stroke-width="0.7"/>
<circle cx="353.1" cy="606.3" r="1.8" fill="#000"/>
<circle cx="368.1" cy="595.4" r="1.8" fill="#000"/>
<circle cx="383.1" cy="588.1" r="1.8" fill="#000"/>
<circle cx="398.1" cy="581.3" r="1.8" fill="#000"/>
<circle cx="412.9" cy="573.7" r="1.8" fill="#000"/>
<circle cx="428.1" cy="565.0" r="1.8" fill="#000"/>
<circle cx="443.5" cy="558.3" r="1.8" fill="#000"/>
<circle cx="458.0" cy="549.6" r="1.8" fill="#000"/>
</svg></body></html>
